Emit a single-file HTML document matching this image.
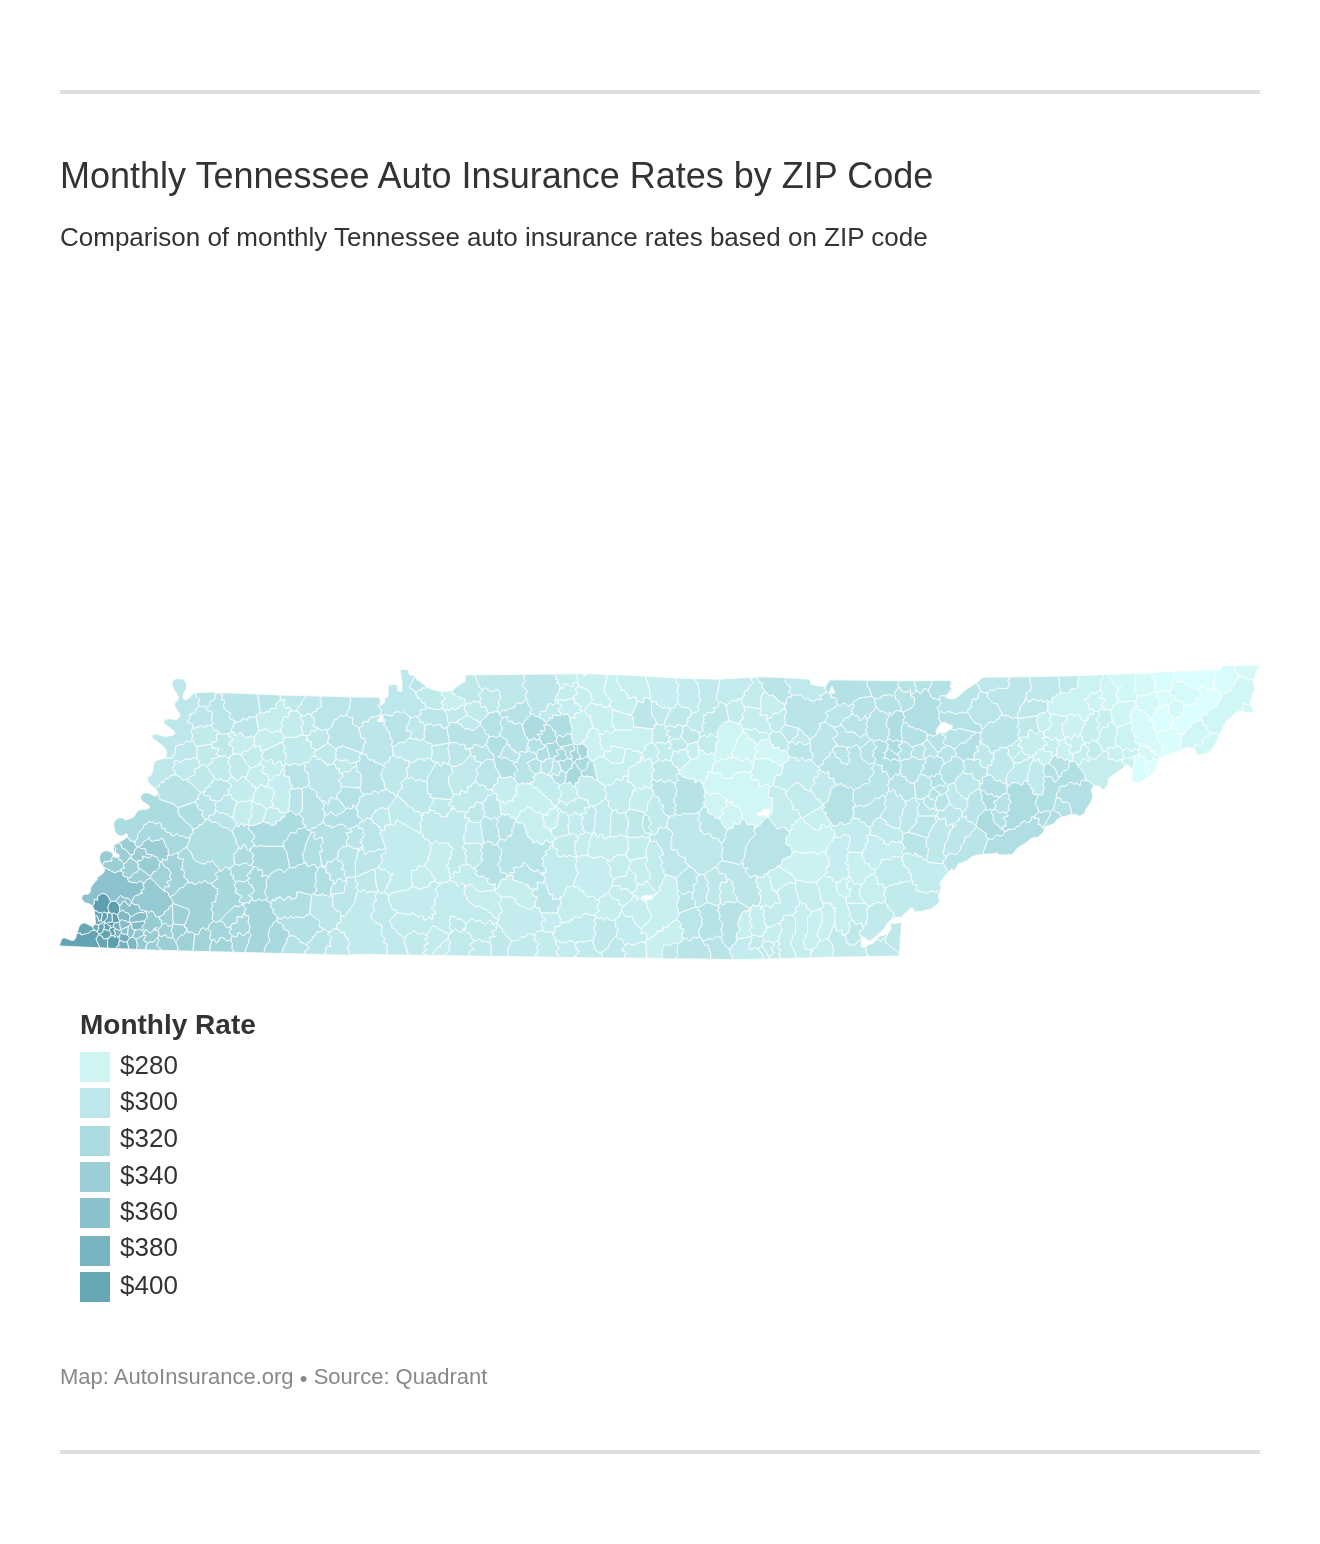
<!DOCTYPE html>
<html lang="en">
<head>
<meta charset="utf-8">
<title>Monthly Tennessee Auto Insurance Rates by ZIP Code</title>
<style>
html,body{margin:0;padding:0;background:#fff;}
body{width:1320px;height:1544px;position:relative;overflow:hidden;font-family:"Liberation Sans",Arial,Helvetica,sans-serif;color:#333;}
.rule{position:absolute;left:60px;width:1200px;height:4px;background:#dedede;}
h1{position:absolute;left:60px;top:155px;margin:0;font-size:36px;line-height:42px;font-weight:400;color:#333;white-space:nowrap;}
p.desc{position:absolute;left:60px;top:221px;margin:0;font-size:26px;line-height:32px;color:#333;white-space:nowrap;}
#map{position:absolute;left:0;top:640px;width:1320px;height:340px;}
.legend{position:absolute;left:80px;top:1007px;}
.legend .lt{font-size:28px;line-height:36px;font-weight:700;color:#333;white-space:nowrap;}
.legend ul{list-style:none;margin:0;padding:0;position:absolute;left:0;top:0;}
.legend li{position:absolute;left:0;height:30px;white-space:nowrap;font-size:26px;line-height:30px;color:#333;}
.legend li i{position:absolute;left:0;top:0;width:30px;height:30px;display:block;}
.legend li span{position:absolute;left:40px;top:-3px;}
.footer{position:absolute;left:60px;top:1363px;font-size:22px;line-height:28px;color:#888;white-space:nowrap;}
.footer .dot{display:inline-block;margin:0 6.2px 0 6.2px;font-size:22px;line-height:1;position:relative;top:2px;}
</style>
</head>
<body>
<div class="rule" style="top:90px"></div>
<h1>Monthly Tennessee Auto Insurance Rates by ZIP Code</h1>
<p class="desc">Comparison of monthly Tennessee auto insurance rates based on ZIP code</p>
<svg id="map" viewBox="0 640 1320 340" width="1320" height="340">
<path d="M185.8,689.7l0.9,-4.3l-0.9,-3.8l-2.9,-2.4l-4.7,-0.6l-3.8,0.6l-2.5,3l0.5,3.8l2.3,4.6l2.7,4.1l1.3,3l-0.8,2.5l-2.8,1.9l-0.5,3.4l1.9,3.8l2.7,3.6l0.9,2.5l-1.3,2.5l-2.5,1.6l-3.5,-0.3l-4.7,-0.5l-3.4,1l-1,2.6l1.5,2.5l3.7,2.3l3.6,2.7l2.2,2.2l0,2.3l-2.1,1l-3.6,0.7l-4.4,0.5l-4.5,-1.4l-5.6,-1.1l-2.6,1.2l0,2.2l2.9,2.4l4.1,3.2l3.6,2.7l3.1,3.6l1.3,3.5l-0.9,3.4l-2.5,2.1l-3.6,1.4l-3.7,0.9l-2,2l-0.7,3.7l-0.4,3.6l-1.1,3.6l-1.8,2.6l-3.4,0.9l1.5,5l3.3,3.7l3.6,3.2l2.6,3l-0.8,2.9l-2,1.6l-2.6,-1.3l-3.2,-1.8l-3.8,-0.5l-3.4,1.5l-1.5,2.9l1,3.5l2.9,1.9l3.1,1.8l1.9,2l-0.6,2l-2.5,1.2l-3.6,0l-3.8,0.5l-2.4,2.4l-1.8,3.2l-3,2.2l-3.6,1.3l-3,0.9l-2.2,-1.8l-2.9,-0.7l-3.9,1.7l-2.1,2.8l-0.3,4.3l1,4.7l2.3,3.3l3.4,1.6l3.4,-0.7l2.5,-1.7l1.1,1.1l0,2l-2.2,2.1l-3.5,2.2l-3.7,1.4l-3.3,1.9l-1.6,2.9l0.7,3.4l2.4,2.4l2.6,1.4l0.8,1.5l-1.1,1.5l-2.5,0l-2.5,-0.9l-0.9,-2.6l-2.4,-2.4l-3.8,-0.8l-2,0.3l-3.3,1.9l-1.6,3.9l0.3,4.2l2.2,4.2l2.2,2.7l0.4,2.5l-1.7,3l-3.1,2.2l-1.9,1.5l-0.9,2.7l-1.8,1.8l-2,2.5l-2.2,3l-0.6,3.7l-1.1,2.6l-2.1,0.8l-2.8,0l-2.2,1.5l-0.6,2.5l1.3,2.9l2.4,1.8l3.2,0.6l2.6,1.3l2.2,2.6l0.9,2.7l0.7,5.4l0.2,3.6l0.4,3.6l-1.2,2.5l-1.6,1.2l-2.6,-0.8l-2.7,-1.4l-2.8,-1.4l-3,1l-2.4,2.4l-1.2,3.7l-1.1,3.6l-1,3.6l-1.6,3l-2.4,0.4l-3.6,-1.3l-3.7,-1.4l-2.6,0.5l-1.2,2.9l-1,3.3l-0.2,1.5l90.4,4l200,5.3l5.5,-1l234.5,3.4l90,0.9l55,1.1l105,-2.6l59.4,-1.1l0.9,-16l0.8,-9.1l0.3,-8.2l-0.1,-5.3l1.7,-2.2l3.6,-3.1l3.6,-3.6l1.6,-0.8l2,1.6l1,2.9l3.4,-0.9l3.7,0l3.6,-1l4.6,-0.9l3.7,-2.3l3.7,-3.2l2.5,-2.9l-1.5,-2.9l0,-3.4l2.3,-3.7l0.5,-3.8l-1.4,-3.5l1.3,-2.6l2.7,-3.6l2.7,-3.6l5.2,-5.2l0.7,0.9l-0.4,0.4l1.1,0.9l0.2,-0.2l0.3,0.4l0.8,-1.5l0.8,-0.7l2.7,-3.9l-0.2,-0.2l0.6,-0.9l4.5,-1.3l4.6,-2.3l4.5,-3.6l4.4,-1.4l6.4,-0.9l6.3,-0.4l5.5,-0.5l2.6,-0.4l2.7,1.8l5.6,0l6.5,-0.5l2.8,-2.8l2.7,-3.6l4.5,-2.7l4.6,-2.7l4.5,-4.1l3.5,-1.3l3.3,0.4l6.1,-6.1l0,-3.2l2.5,-2.5l4.5,-0.9l3.8,-1.9l2.3,-3.6l3.9,-1.8l5.5,-1.8l4.5,-1.4l5.3,0l2.7,1.9l3,-1l2.9,-2.4l0.9,-3.6l2.7,-3.2l2.3,-4.1l1.8,-3.8l-0.4,-4.6l-0.9,-3.5l1.7,-3l2.5,-1.3l3.4,0.4l2.7,2.3l2.1,1.5l2.5,-3l2.3,-4.2l-0.1,-3.6l1.4,-2.1l3.1,-1.8l4.6,-3.2l4.5,-3.2l3.6,-3.1l2.5,-0.9l2.5,2.6l1.8,2.2l0,3.4l-0.8,4.2l0.3,3.4l3.4,1.5l3.9,0.9l2.8,-1.9l3.6,-2.7l3.7,-1.9l3.6,-3.6l1,-0.5l2.8,-6.4l2.7,-5.4l3.5,-3.6l3.6,-2.2l3.6,-0.9l2.8,-1.8l4.4,-0.5l3.8,-0.9l3.6,-2.8l1.7,-0.8l3.5,0.9l4.4,0.4l1.7,3l1,3.4l3.9,0l4.7,-0.9l2.7,-2.3l2.8,-0.5l2.9,-5.1l2.7,-5.5l2.7,-5.4l3.6,-7.3l3.6,-7.7l3.6,-2.2l2.3,-2.7l3.1,-2.3l3.6,-1.8l2.6,-0.8l3.5,1.8l3.8,0.4l2.7,-0.4l2.9,0.8l-1.7,-3.6l-1.8,-3.6l-0.9,-3.6l0,-2.5l1.9,-2.8l0.4,-3.6l2.3,-3.7l-0.9,-4.7l-0.9,-3.5l1.3,-3.6l1.4,-4.5l1.3,-3.6l2.3,-3.6l0.8,-1.3l-10.2,0.6l-9.1,0.2l-9.1,0.1l-10.2,0.3l-1,3.2l-7,0.5l-18.2,0.9l-18.1,0.6l-19.8,0.8l0.9,0.4l-61.4,2.5l-39.4,1.3l-39.4,0.6l-35.6,0.4l-4,4l-5.9,4l-5.9,3.9l-4,3l-3.9,3.9l-3.9,2.5l-5.7,0.4l-3.6,-1.8l0.9,-2.5l3.9,-2l2.2,-3.3l-3,-2.9l1.9,-2.9l-1.1,-2.7l-2.2,-0.2l-48.3,0.2l-70.1,-1l-3,4.4l-2.8,2.5l-4.8,-0.6l-8.6,-1.9l-0.6,-5l-22.4,-1.4l-26.6,-1l-42.3,2.4l-39.4,-1l-39.4,-2.5l-53.3,-2l-1.9,2.4l-2.8,-2.4l-44.4,0.6l-72.3,0.6l0,6.4l-6.7,3.9l-5.9,4.9l-5.8,1.3l-7.8,-0.4l-4.9,-1l-7.8,-2.9l-3.9,-3.9l-5.9,-3.9l-1.6,-4l-5.8,-0.4l-0.4,-4.9l-8.6,-0.7l1,8.3l1,5.9l-0.4,7.9l-3.8,-0.4l-1,-6.9l-9,1l0,11.9l-3.5,1l0,4.6l-4.2,2.9l1,-3.9l-1.1,-4.1l-101.7,-2.5l-69,-3l-18.4,1.1l1.9,0.7l-4.1,4.1l-2.6,1.7l-2.4,-0.4l-1.3,-2l0.9,-3.4zM948.3,730.2l-3,2.9l-4.4,-0.7l-4.3,1.4l-0.6,-2.5l2.2,-4.4l2.9,-3.7l4.3,-1l2.9,2.5l4.3,0.7l-0.6,2.6zM900.7,922.4l-2.6,0.4l-3.6,0.9l-4.4,-0.5l0,2.3l1.3,2.7l-1.2,2.5l-3.1,3.5l-3.5,0.9l-3.8,0.9l-3.7,3.8l-2.7,3.5l-3.5,0.9l-3.7,1.8l-3.4,1.8l-1.5,-1.6l0.4,-4.4l-0.4,-3.5l1.5,-1.5l2.5,1.2l2.8,2.4l2.9,0l3.8,-2.9l3.6,-3.6l3.7,-2.7l2.7,-3.7l2.7,-4.5l3.6,-2.7l3.6,-1.8l3.5,-1.8l2.4,0.8zM832,686l2.9,7.3l-5.7,-0.7zM766.6,817.7l-2.1,-2.8l-5.3,1.5l-2.5,-3.1l4.1,-0.7l2.3,-3l6.2,-0.7l-0.7,5.5zM651.8,899.2l-5.8,0.4l-4.2,-0.9l-0.4,-2.3l3.6,-1l5.9,0.4l2.1,1.3zM377.5,721.5l3,-6.6l3,6.6z" fill="#bfe7ea"/>
<g stroke="#fff" stroke-width="0.85" stroke-opacity="1.0" stroke-linejoin="round">
<path fill="#63a3b3" d="M98.8,933.8l-1.3,-1.7l-2.4,-1.7l-2.1,0l-1.7,0.2l-1.5,1.5l-1.7,1.3l-2,0l-0.4,0.5l-2,0.3l-2.4,0.8l-0.9,-2.3l-3.1,0.8l-0.3,-0.3l-0.1,0.3l-1,3.6l-1.6,3l-2.4,0.4l-3.6,-1.3l-3.7,-1.4l-2.6,0.5l-1.2,2.9l-1,3.3l-0.2,1.5l40.4,1.8l-4,-8.9l2.9,-4.4z"/>
<path fill="#66a6b5" d="M77.3,933.5l3.1,-0.8l0.9,2.3l2.4,-0.8l2,-0.3l0.4,-0.5l2,0l1.7,-1.3l1.5,-1.5l1.7,-0.2l2.1,0l-1.4,-1.5l-1.3,-2.1l0.2,-0.4l-2.5,-0.8l-2.7,-1.4l-2.8,-1.4l-3,1l-2.4,2.4l-1.2,3.7l-1,3.3z"/>
<path fill="#5ea0b0" d="M109.7,900.1l-1,-3.4l-1.6,-0.9l-1.1,-1.9l-1.6,-0.1l-2,-0.3l-2.3,0.9l-1.2,1.1l-1.4,0.9l0.1,3.8l-3.1,-1l-0.3,2.4l0,1.7l-1,1.7l-0.9,1.2l1,1.2l0.8,2.3l0.5,1l2.6,0.4l1.4,1.9l2,-0.6l1.8,1.1l1.5,-1.4l3.3,1l1.9,-1.1l-0.6,-2.5l-0.7,-1.9l0.8,-2.6l2.2,-3.8zM119.1,919.9l-0.9,-2.1l-0.4,-1.9l0.4,-2.4l-1.6,1l-2.8,-1.6l-1.9,0.9l0.5,7.9l2.1,1.5l4.8,-1.2l0.7,-0.8z"/>
<path fill="#5d9faf" d="M119.8,912.1l0,-2.1l-0.2,-1.4l0.3,-1.6l-0.9,-1.9l-0.7,-1.5l-1.5,-1.1l-1.4,-1.7l-1.6,0.4l-3,0l-2.2,3.8l-0.8,2.6l0.7,1.9l0.6,2.5l0.6,0.6l2.2,1.2l1.9,-0.9l2.8,1.6l1.6,-1zM112.4,921.7l-2.5,0.5l-2,0.1l-1.2,1.2l1.2,1.4l2.8,1.1l-0.9,2.7l2.3,-1.3l1.8,-0.2l-0.6,-2.2l1.2,-1.8z"/>
<path fill="#91c7d0" d="M131.8,901.5l-1.7,-1.5l-0.9,-1l-2,-1l-2.6,0.1l-0.6,-0.7l-2.1,-0.8l-1.4,-1.5l-1.2,1.3l-1.4,1.9l-1,1l-1.5,1.5l1.4,1.7l1.5,1.1l0.7,1.5l1.8,0.2l1.7,-3.3l2.5,-1.2l2.2,3.5l2.3,2l1.6,-3.1l0.8,-1zM132.2,937.4l2.1,0.5l1.6,1.6l7.8,-4.4l0.3,-2.3l-1.6,-2.3l-1.3,-0.8l-1.7,-0.9l-2,1.1l-2.2,-0.1z"/>
<path fill="#89c0cb" d="M127.2,904.3l-2.2,-3.5l-2.5,1.2l-1.7,3.3l-1.8,-0.2l0.9,1.9l-0.3,1.6l0.2,1.4l0,2.1l2.6,-1.9l1.5,0.7l2,2.3l2.1,-0.7l2.3,4.2l2.3,-0.6l1.4,-0.9l1.5,-1l2,-0.9l1.6,-0.8l3.2,0.2l1.4,0.1l1.9,-1.9l-1.7,-0.8l-2.6,0.6l-1.8,-2.4l-0.4,-2.8l-1.6,-1l-1.8,0.3l-2.7,-0.9l-1.1,-1.7l-0.8,1l-1.6,3.1z"/>
<path fill="#81bac6" d="M122.1,919.4l1.4,1.4l2.7,0.1l1.7,1.6l2.1,-0.7l-0.5,-1.6l0.4,-2.1l0.4,-1.4l-2.3,-4.2l-2.1,0.7l-2,-2.3l-1.5,-0.7l-2.6,1.9l-1.6,1.4l-0.4,2.4l0.4,1.9l0.9,2.1l0.9,1.3z"/>
<path fill="#85bdc8" d="M143.7,912.8l-1.4,-0.1l-3.2,-0.2l-1.6,0.8l-2,0.9l-1.5,1l-1.4,0.9l-2.3,0.6l-0.4,1.4l-0.4,2.1l0.5,1.6l0.5,0.9l13.7,-1.7l1.8,-2.2l1.5,-1.9l-0.5,-1.4l-0.9,-2.4l1.1,-1.8l0,-0.1l-1.6,-0.3z"/>
<path fill="#82bbc7" d="M131.9,924.6l-0.2,3.4l1.2,1.6l2.3,0.2l2.2,0.1l2,-1.1l1.7,0.9l1.3,0.8l0.9,-1.8l-1.3,-2l1.1,-1.4l1.7,-1.8l-0.6,-2.5l-13.7,1.7l0,1.2z"/>
<path fill="#64a5b4" d="M95.8,915.5l1.5,0.7l1.6,5.3l2.5,-2l1,-6l-1.8,-1.1l-2,0.6l-1.4,-1.9l-2.6,-0.4l-0.5,-1l0.1,0.4l0.7,5.4l0.1,0.9zM107.7,938.4l-2.3,0.3l-1.8,0.1l-1.7,-2.7l-1.3,-0.6l-1.7,-1l-2.9,4.4l4,8.9l7.7,0.3z"/>
<path fill="#61a2b2" d="M101.4,919.5l0.3,2.2l1.7,0.7l1.2,0.4l0.1,-2l1.6,-1.5l1.2,-1.8l-0.1,-2.1l-0.3,-1.6l2.6,-1.2l-0.6,-0.6l-1.9,1.1l-3.3,-1l-1.5,1.4zM113.9,927.2l-1.8,0.2l-2.3,1.3l-0.8,2.1l1.3,1.3l0.7,1.3l-0.6,2.5l2.9,-0.2l2.1,-1.3l-0.4,-2.1l-1,-2.2l1.5,-1.1z"/>
<path fill="#6aa9b7" d="M111.9,913.8l-2.2,-1.2l-2.6,1.2l0.3,1.6l0.1,2.1l-1.2,1.8l-1.6,1.5l-0.1,2l0.1,0.1l2,0.6l1.2,-1.2l2,-0.1l2.5,-0.5z"/>
<path fill="#6baab8" d="M101.7,921.7l-0.3,-2.2l-2.5,2l-1.6,-5.3l-1.5,-0.7l-0.8,0.9l0.1,2.7l0.4,3.6l-0.6,1.2l0.8,0.5l2.5,0.2l2.3,-0.5l1.3,-0.5l1.6,-1.2z"/>
<path fill="#6facba" d="M92.4,926.8l1.3,2.1l1.4,1.5l2.4,1.7l0.4,-2.5l1.2,-0.9l-0.9,-3.3l2.3,-1.3l-2.3,0.5l-2.5,-0.2l-0.8,-0.5l-0.6,1.3l-1.6,1.2l-0.1,0z"/>
<path fill="#65a5b4" d="M101.8,923.6l-1.3,0.5l-2.3,1.3l0.9,3.3l-1.2,0.9l-0.4,2.5l1.3,1.7l2.5,-0.4l1.5,-1.5l0.7,-2.1l1,-2.7l-0.6,-2.2l0.8,-2l-0.1,-0.1l-1.2,-0.4z"/>
<path fill="#5fa1b1" d="M103.9,924.9l0.6,2.2l-1,2.7l2.2,0.1l1.9,0.4l1.4,0.5l0.8,-2.1l0.9,-2.7l-2.8,-1.1l-1.2,-1.4l-2,-0.6z"/>
<path fill="#75b1be" d="M114.5,923.2l-1.2,1.8l0.6,2.2l1.6,1.8l1.7,0.6l1.7,1l1.7,-1.2l-1.3,-7.4z"/>
<path fill="#7ab4c1" d="M114,930.1l1,2.2l0.4,2.1l-2.1,1.3l1.4,2l1.8,-1.6l1.5,1.2l1.9,-0.2l-0.1,-2.5l1.4,-1.3l0.3,-1.5l-0.5,-2l-0.4,-0.4l-1.7,1.2l-1.7,-1l-1.7,-0.6z"/>
<path fill="#63a4b3" d="M98.9,934.5l1.7,1l1.3,0.6l1.7,2.7l1.8,-0.1l2.3,-0.3l1.8,-0.5l0.9,-2l0.6,-2.5l-0.7,-1.3l-1.3,-1.3l-1.4,-0.5l-1.9,-0.4l-2.2,-0.1l-0.7,2.1l-1.5,1.5l-2.5,0.4z"/>
<path fill="#86beca" d="M119.3,922l1.3,7.4l0.4,0.4l7.4,-3.4l1.7,-1.1l0.4,-1.4l0,-1.2l-0.5,-0.9l-2.1,0.7l-1.7,-1.6l-2.7,-0.1l-1.4,-1.4l-2.1,1.8z"/>
<path fill="#8dc3cd" d="M121,929.8l0.5,2l-0.3,1.5l1.5,0.8l3.1,0.3l1.8,0.9l0.8,-8.9z"/>
<path fill="#8bc2cc" d="M127.6,935.3l2,2.5l2.6,-0.4l3,-7.6l-2.3,-0.2l-1.2,-1.6l0.2,-3.4l-1.4,-0.7l-0.4,1.4l-1.7,1.1z"/>
<path fill="#5b9eae" d="M116.5,947.9l0.7,-1.7l2,-0.5l-0.6,-2.2l0.8,-2.4l0.2,-1.9l-1.6,-1.9l-1.5,-1.2l-1.8,1.6l-1.4,-2l-2.9,0.2l-0.9,2l-1.8,0.5l0,9.7l7.6,0.4z"/>
<path fill="#71aebc" d="M127.6,935.3l-1.8,-0.9l-3.1,-0.3l-1.5,-0.8l-1.4,1.3l0.1,2.5l-1.9,0.2l1.6,1.9l-0.2,1.9l1.7,-0.3l2.8,1.2l1.7,0.4l1.7,-1.3l1.6,-1.3l0.7,-2z"/>
<path fill="#74b0be" d="M127.3,941.1l-1.7,1.3l-1.7,-0.4l-2.8,-1.2l-1.7,0.3l-0.8,2.4l0.6,2.2l-2,0.5l-0.7,1.7l-1.2,0.6l13.7,0.6z"/>
<path fill="#7db7c4" d="M129.6,937.8l-0.7,2l-1.6,1.3l1.7,8l7.1,0.3l0.7,-1.9l0.7,-1.5l-0.4,-2.2l-0.6,-2.3l-0.6,-2l-1.6,-1.6l-2.1,-0.5z"/>
<path fill="#95cad2" d="M146,948.4l-0.2,-1.4l0.7,-1.9l1.2,-1.9l-1.6,-1.1l-2.2,-1.5l0.1,-1.7l2.3,-3.2l-2.6,-0.6l-7.8,4.4l0.6,2l0.6,2.3l0.4,2.2l-0.7,1.5l-0.7,1.9l10.3,0.5zM146.9,879.4l-1,1.2l-1.4,2.3l-1.6,1.3l1,3.2l0,1.5l-2.9,1.3l1.5,3l-2.2,-0.6l-1.1,2.2l-2.3,0.2l-2.1,0.9l-1.3,1.6l-0.8,2.3l-0.9,1.7l0.1,0.7l1.1,1.7l2.7,0.9l1.8,-0.3l1.6,1l0.4,2.8l1.8,2.4l2.6,-0.6l1.7,0.8l1.6,0.3l0,0.1l1.5,1.3l2.7,-1.6l1.8,0.8l1.7,2.8l0.7,2l2.2,0.6l2.4,-0.9l2.2,-1.2l1.9,-1.2l0.2,-2.2l1.9,-1l2.1,-1.2l0.6,-2.1l0.9,-1.2l2.4,-0.8l0.7,-1.8l-0.3,-2.7l-0.8,-1.3l-1.7,-2.1l-0.1,-0.6l-1.6,-1.8l-0.5,-2.6l-1.8,-0.9l-1.8,-0.4l-1,-0.4l-13.1,-13.1l-1.3,1.1z"/>
<path fill="#98ccd3" d="M149.8,942.1l2,-0.1l1.7,0.1l1.7,-2l1,-1.4l1.7,-0.6l0.9,-3.2l-0.1,-2.7l-1.1,-2l-0.2,0l-2.3,0.1l-1.3,-1.1l-2.4,3.2l-1,0.7l-3.4,-2.8l-1.7,-0.8l-1.3,3.3l-0.3,2.3l2.6,0.6l-2.3,3.2l-0.1,1.7l2.2,1.5l1.6,1.1zM102.5,865.7l1.5,-3.2l0.8,-1.3l2.4,0.7l2.7,-1.2l1.9,0.9l0,-3.4l1.2,-2l0.4,0.1l-0.8,-2.4l-2.4,-2.4l-3.8,-0.8l-2,0.3l-3.3,1.9l-1.6,3.9l0.3,4.2l2.2,4.2l0.4,0.5zM115.7,850.7l0.1,-1.9l-1.2,-1.8l-1,-0.8l-0.5,1l0.7,3.4l1.1,1.2z"/>
<path fill="#99cdd4" d="M161.3,949.4l-1.5,-0.7l-2,-2.4l-1.1,-0.8l1.5,-3.7l0.8,-1.7l-1.1,-2l-1.7,0.6l-1,1.4l-1.7,2l-1.7,-0.1l-2,0.1l-2.1,1.1l-1.2,1.9l-0.7,1.9l0.2,1.4l0.4,1.5l3.6,0.1l11.3,0.3zM152,874.5l0.7,-2.5l2.7,-0.4l1.4,-1.2l0.9,-1.1l1.9,-2l-0.3,-2.7l0.6,-1.8l2,-1.1l-2.7,-0.6l-1.2,-1.7l-0.5,-1.6l-1.6,-1.2l-2,-0.6l-2,-1.6l-0.4,0l-1,2.6l-1.4,0.9l-3.6,-1.1l-3.1,-0.9l0.6,3l-2.1,2.1l-2.8,-1.1l-0.4,2.8l0.6,2.3l-0.8,2.3l2.5,1.4l10.5,7.5zM117.4,843l2,0.8l1.9,0.7l0.3,3.2l1.8,1l1.7,0.7l1.8,1.3l1.1,1.7l1.1,1.7l2.7,0.9l2,-0.6l0.8,-2.3l0,-2.4l2.2,-1.5l0.6,-1.5l-1.9,-1.2l-0.4,-2.6l-1,-1.8l-2.8,0.3l-1.6,-0.8l-0.1,-2l-1.9,-1l-1.2,-0.1l-1.3,1.3l-3.5,2.2l-3.7,1.4z"/>
<path fill="#9ccfd5" d="M170.7,937.8l-2.2,-0.5l-1.5,0.3l-1.4,-3.3l-3.4,2l-1.9,-0.2l-1.5,-1.2l-0.9,3.2l1.1,2l-0.8,1.7l-1.5,3.7l1.1,0.8l2,2.4l1.5,0.7l0,0.9l15.9,0.5l0.6,-1.1l0.2,-1.8l-0.7,-2.3l-0.9,-1.6l-0.5,-2.4l-1.2,-0.7l-0.9,-2.5l-1.2,-0.8zM131.1,856.3l0.7,-1.3l-2.7,-0.9l-1.1,-1.7l-1.1,-1.7l-1.8,-1.3l-1.7,-0.7l-1.8,-1l-0.3,-3.2l-1.9,-0.7l-2,-0.8l-1.2,1.2l-0.8,-0.3l-0.7,0.4l-1.1,1.9l1,0.8l1.2,1.8l-0.1,1.9l-0.8,1.1l1.3,1.2l2.6,1.4l0.8,1.5l-1.1,1.5l-1.6,0l1.3,0.9l0.8,1.8l2.1,-0.2l1.4,2.3l1.1,1.3l1.9,0.1l1.5,-2.3l1.3,-1.2l0.4,-1.8l2.9,0.5z"/>
<path fill="#9bcfd5" d="M114.8,873l2.1,-0.9l2.5,-1.2l1.8,0.5l-0.2,-2.4l3.5,-0.9l-0.8,-2l-0.1,-2.6l-1.1,-1.3l-1.4,-2.3l-2.1,0.2l-0.8,-1.8l-1.3,-0.9l-0.9,0l-2.5,-0.9l-0.1,-0.2l-0.4,-0.1l-1.2,2l0,3.4l-1.9,-0.9l-2.7,1.2l-2.4,-0.7l-0.8,1.3l-1.5,3.2l-0.1,0l1.1,1.3zM150,839.3l-1.3,-2.2l-0.7,1.7l-1.4,1.2l-2,0.7l-1.9,1.9l-0.1,1.4l-2.1,1.6l-1.4,1.1l1.5,1.8l1.7,0.1l2.8,0l0.7,3.2l1,2.7l2.8,-0.1l1.9,0l0.4,0l2,1.6l2,0.6l1.6,1.2l0.5,1.6l1.2,1.7l2.7,0.6l0.3,0l0.2,-2.8l4,1.7l1.3,-1.8l-0.6,-3l2.2,-0.6l-0.7,-1.3l-0.4,-2.7l0.2,-2.1l-1,-1.4l-2,-1.5l0.1,-1.7l-0.8,-2.2l-0.9,-1.4l-0.6,-2l-2.7,-0.6l-0.7,1.6l-2.8,0.5l-2.2,-0.4l-1.2,1.3l-3,-0.5z"/>
<path fill="#9dd1d6" d="M130,877.9l1.1,-0.8l0.9,-2.1l1.3,-1.4l1.9,-1l2.4,-0.7l1.2,-2l1.2,-1.2l-2.5,-1.4l0.8,-2.3l-0.6,-2.3l-1.6,-1.1l-1.2,-0.6l-1.2,-1.3l-2.1,-0.9l-2.9,-0.5l-0.4,1.8l-1.3,1.2l-1.5,2.3l-1.9,-0.1l0.1,2.6l0.8,2l-3.5,0.9l0.2,2.4l2,0.9l-0.5,2.6l1,1.5l3,0.3l0.7,1.4zM158.7,932.2l0.1,2.7l1.5,1.2l1.9,0.2l3.4,-2l1.4,3.3l1.5,-0.3l2.2,0.5l1.9,-0.2l0.6,-1.8l-0.3,-1.9l-1.6,-2.3l0.3,-1.8l1.2,-2.7l-0.9,-2.1l-1.5,1l-2.7,-0.4l-1.6,-1.9l-2,-0.9l-2,2.2l-4.5,5.2z"/>
<path fill="#9cd0d6" d="M130.9,882.2l1.8,0.5l2.1,-0.2l1.9,1.1l1.5,-1.5l2.4,-1l1.8,1.7l2.1,0.1l1.4,-2.3l1,-1.2l2.2,-0.6l1.3,-1.1l0.1,-1.5l-10.5,-7.5l-1.2,1.2l-1.2,2l-2.4,0.7l-1.9,1l-1.3,1.4l-0.9,2.1l-1.1,0.8l-2.6,0.2l0.4,1.6l0.7,1.9zM187.1,928.1l-2.5,-0.8l0,-2.2l-11.3,-1.2l-1.4,1.1l0.9,2.1l-1.2,2.7l-0.3,1.8l1.6,2.3l0.3,1.9l-0.6,1.8l1.2,0.8l0.9,2.5l1.2,0.7l1,-1l1.1,-1.8l1.1,-1.5l1.9,-2l2.2,-0.4l1.6,-1.3l0.7,-2l1.5,-1.1z"/>
<path fill="#a1d4d9" d="M164.2,889.5l0.8,-2.6l4.8,-0.2l-1.1,-1.7l-1.8,-3.3l2.8,-1.2l1.9,-0.9l-1.9,-2.8l1,-2.8l0.6,-1.2l-1.9,-1.7l-0.2,-2.2l-2.2,-1.2l-1.1,-0.4l-2.1,-1.2l-0.8,-2.8l-0.8,-1.6l-0.3,0l-2,1.1l-0.6,1.8l0.3,2.7l-1.9,2l-0.9,1.1l-1.4,1.2l-2.7,0.4l-0.7,2.5l-1.5,1.7l-0.1,1.5l13.1,13.1l1,0.4zM209.5,950.1l0.6,-1.7l0.1,-2.9l0.7,-1.8l0.8,-1.5l0.5,-1.9l-2.5,-1.5l0.2,-1.8l0.6,-2.2l0,-3.5l-1.5,-1.2l-1.3,-1.5l-1.5,1.5l-2.8,-2.5l-2.6,1.2l-1,2.4l-1.2,3l-1.5,0.5l-2.5,-0.7l-1.7,17.2l16.5,0.4z"/>
<path fill="#9aced4" d="M138.1,859.9l2.8,1.1l2.1,-2.1l-0.6,-3l3.1,0.9l3.6,1.1l1.4,-0.9l1,-2.6l-1.9,0l-2.8,0.1l-1,-2.7l-0.7,-3.2l-2.8,0l-1.7,-0.1l-1.5,-1.8l-1.7,0l-0.6,1.5l-2.2,1.5l0,2.4l-0.8,2.3l-2,0.6l-0.7,1.3l0.5,2.5l2.1,0.9l1.2,1.3l1.2,0.6l1.6,1.1z"/>
<path fill="#8cc2cd" d="M94.2,901.6l0.3,-2.4l3.1,1l-0.1,-3.8l1.4,-0.9l1.2,-1.1l2.3,-0.9l2,0.3l1.6,0.1l1.1,1.9l1.6,0.9l1,3.4l1.1,1.1l3,0l1.6,-0.4l1.5,-1.5l1,-1l1.4,-1.9l1.2,-1.3l1.4,1.5l2.1,0.8l0.6,0.7l2.6,-0.1l2,1l0.9,1l1.7,1.5l0.9,-1.7l0.8,-2.3l1.3,-1.6l2.1,-0.9l2.3,-0.2l1.1,-2.2l2.2,0.6l-1.5,-3l2.9,-1.3l0,-1.5l-1,-3.2l1.6,-1.3l-2.1,-0.1l-1.8,-1.7l-2.4,1l-1.5,1.5l-1.9,-1.1l-2.1,0.2l-1.8,-0.5l-2.4,-0.6l-0.7,-1.9l-0.4,-1.6l-0.7,-1.4l-3,-0.3l-1,-1.5l0.5,-2.6l-2,-0.9l-1.8,-0.5l-2.5,1.2l-2.1,0.9l-11.3,-6l0.7,0.9l0.4,2.5l-1.7,3l-3.1,2.2l-1.9,1.5l-0.9,2.7l-1.8,1.8l-2,2.5l-2.2,3l-0.6,3.7l-1.1,2.6l-2.1,0.8l-2.8,0l-2.2,1.5l-0.6,2.5l1.3,2.9l2.4,1.8l3.2,0.6l2.6,1.3l1.2,1.4l0.9,-1.2l1,-1.7z"/>
<path fill="#97ccd3" d="M147,915.5l0.5,1.4l-1.5,1.9l-1.8,2.2l0.6,2.5l-1.7,1.8l-1.1,1.4l1.3,2l-0.9,1.8l1.6,2.3l1.3,-3.3l1.7,0.8l3.4,2.8l1,-0.7l2.4,-3.2l3.7,-2.1l-3.7,2.1l1.3,1.1l2.3,-0.1l0.2,0l4.5,-5.2l-0.7,-2.3l0,-2.7l-2.3,-0.8l1.1,-2.9l-2.4,0.9l-2.2,-0.6l-0.7,-2l-1.7,-2.8l-1.8,-0.8l-2.7,1.6l-1.5,-1.3l-1.1,1.8z"/>
<path fill="#9fd2d8" d="M159.1,919.2l2.3,0.8l0,2.7l0.7,2.3l2,-2.2l2,0.9l1.6,1.9l2.7,0.4l1.5,-1l1.4,-1.1l-0.9,-18.5l-2.4,0.8l-0.9,1.2l-0.6,2.1l-2.1,1.2l-1.9,1l-0.2,2.2l-1.9,1.2l-2.2,1.2zM194.6,934l-2.1,-1.4l-0.8,-0.9l-3.8,0.8l-0.9,-2l-1.5,1.1l-0.7,2l-1.6,1.3l-2.2,0.4l-1.9,2l-1.1,1.5l-1.1,1.8l-1,1l0.5,2.4l0.9,1.6l0.7,2.3l-0.2,1.8l-0.6,1.1l15.7,0.4z"/>
<path fill="#bee8ea" d="M185.9,741.1l-1.6,2.5l-1.9,1l-2.9,-0.6l-0.8,1.4l-3.4,0.9l0.3,2.5l-0.4,2.7l-0.4,1.8l-0.7,2.1l-2.8,1.3l0.2,1.9l-2.2,-0.4l-2.3,-0.3l-1,0.2l-2,-0.2l-0.5,0.4l-3.6,1.4l-3.7,0.9l-2,2l-0.7,3.7l-0.4,3.6l-1.1,3.6l-1.8,2.6l-3.4,0.9l1.5,5l3.3,3.7l3.4,3l0.9,-0.4l1.7,-1.6l1.6,-0.1l0.4,-2.7l1.7,-1.7l2.6,0.3l0.6,-2.2l1,-2.3l2.6,1.3l2.2,-2.2l0.4,-1.7l2.9,-0.3l1.5,-0.4l0.4,-2.4l-1,-1.6l-1.5,-1.1l-0.1,-2.4l1.5,-1.7l0.9,-1.7l-1.8,-2.3l2.1,-0.9l2.1,0.6l2.1,1.4l2,-1.5l1.5,-0.5l1.4,-1.9l2.2,0.4l2.4,0.3l2.4,0l1.2,-1.8l2.3,-0.1l1.8,1.1l0,-12l-2.1,-1.6l0.1,-1.5l-1.7,-2l-1.6,-1l-2.2,1.7l-1.9,-1.4zM216.5,734l-0.2,1.8l0.7,3.6l-0.8,2l-1.6,0.6l-3,-0.2l-0.2,2.4l0.5,2l0.1,2.1l4.8,-0.1l2.2,1.1l-2,3.5l-0.5,1.9l2.4,1.4l2.6,0.6l1.6,-0.9l1.8,-0.4l2.8,2.9l1.8,-1.4l1.5,-1.2l1.5,-1.5l0.5,-1.8l-0.7,-1.8l1,-3.2l-1.9,-1.1l-2.6,-1.5l1.3,-3.1l2.9,-2.1l-0.7,-1.7l-4,-1.6l1,-2.8l-2.2,0.1l-1.9,0.3l-2.3,0.5l-2.5,-1.1l-1.5,0.2zM305.5,697.7l-1.3,1.3l-2.2,2l-0.9,1.3l0.7,1.9l-2.7,2l-0.7,1.2l-1.1,1.8l-1.2,1.9l2.7,1l0.9,2.6l1.8,0.4l1.8,1.3l2.6,-0.7l1.3,-1.8l2.7,0.4l2.2,-0.1l0.9,-2.2l2.5,-0.4l1.4,0l0,-3.3l2.4,0l1.9,-1.3l0.3,-2.4l-0.2,-1.5l-0.4,-1.8l-1.3,-2.4l2.7,-2.4l-0.1,-0.4l-17.1,-0.5zM423.8,724.1l-0.8,-2.1l-3,0.2l0.4,-2.2l-1.6,-1.7l-1.5,-1.6l-1.8,-0.9l-1.7,1.5l-1.9,0.3l-2.2,-0.4l0.3,2l-0.6,1.6l-0.4,2.3l-1,1.8l-1.9,1.5l1,1.5l-1.4,2.9l3.6,0.5l2.6,1.1l-1.3,2.9l-0.9,3l2.7,0.3l1.6,0.9l2.7,-1.1l0.7,2.3l2.2,-0.1l4.1,-1.3l0.5,-1.2l1,-1.7l-1.3,-2.4l0.5,-2.5l0.9,-1l-0.3,-3l0.3,-1.7zM477.3,681.4l-1,-2.4l-0.7,-2.2l-0.8,-1.8l0,-0.2l-9.5,0.1l0,6.4l-6.7,3.9l-5.5,4.5l-1,1.4l0.5,2.7l2.8,0.8l1,1l1.4,1.4l1.8,-0.1l1.7,1.6l2.2,-0.2l1.6,1.1l-0.4,2.4l1.5,1.9l1.5,-1l2.6,1.7l1.2,-1.3l2.6,-2.3l2,1.3l1.7,0.2l1.7,-1.2l2.1,-2.1l-1.3,-1.8l-2.2,-2.9l1.6,-1.3l2.9,-1.4l-1.1,-2.2l-1.6,-2.2l-1,-1.9l-0.7,-1.8zM449.4,763l-0.3,-2.2l1.1,-2l-0.8,-1.7l-0.4,-1.9l0.2,-2l-0.9,-2.8l-0.5,-1.3l0.8,-2.8l0.5,-0.8l0.1,-2.5l-16.6,2.7l-1.3,1.7l0.7,2.5l0.1,2l-0.1,1.1l-0.3,2.2l0,1.6l-0.5,2.4l1.4,2.5l2.5,0.2l0.4,2.6l2.1,-3.1l1.6,3.7l2.1,1.7l1.5,-4.3l2.4,0.4l1.5,1.3l2.5,0.3zM670.9,740.4l1,-0.5l2.2,-1l2.1,0.7l1.5,-0.2l2,-1.1l1.6,-1.3l-0.2,-2.4l1.9,-0.8l-0.3,-2.8l-0.2,-0.9l1.1,-2.7l-0.1,-1.5l-1.9,0.5l-2.2,-1.7l-2.2,-0.2l-1.1,2.6l-2.6,0l-1.8,-1.1l-2.5,-0.7l-2.2,1.7l-1.4,-1.1l-0.5,2.6l1.6,1.7l2.5,0.9l-3.1,2.8l1.8,2.4l2.5,0.4l-2.1,3l0.8,1.9zM726,705l-1.5,-1l-1.7,-1.1l-1.2,-0.9l-2.2,0.2l-0.9,1.7l0.2,1.9l-1.6,1.6l-3.7,0.4l0.6,1.6l0.2,2.4l-2.4,1.1l-2.6,-0.8l-2.2,0.5l-1.4,2.7l-2.2,0.1l0.4,2.5l0.1,1.9l-0.8,1.5l1.6,1.8l-1.9,1l-1.5,2l1.8,3.2l-0.2,1.7l-2,0.6l-1.8,1.5l0.8,1.9l0,1.5l2,0.4l2.3,-1.9l1.4,0.6l1.7,1.8l2.1,-2.7l2.4,-0.6l1.6,1.3l2.4,1.3l2,-0.2l-0.4,-2.1l-0.7,-1.4l1.4,-2.3l0.3,-1.8l5.6,-6.2l5.1,-2zM1028.2,676.7l1.3,1.3l0.6,2.5l-0.8,1.2l0.9,2l1.1,2.3l-0.6,1.7l-0.5,2.9l-2.2,1.1l-1.7,1.3l0,2.8l0.1,2.5l-1.8,1.1l0.2,0.2l1.1,0.3l1.7,1l2.4,1.2l1,-2.1l3.1,-0.5l1.3,-0.5l1.8,2.3l2.2,-0.6l2.3,-1.3l1.4,3l2.4,-1.2l1.9,-0.3l1.3,0.5l3.9,0.8l-0.7,-4.2l2.4,-0.6l0.8,-0.2l0.7,-1.9l2.2,-0.4l1.6,-1.7l1.5,-0.6l-0.3,-2.4l-0.7,-1.4l-0.9,-2.4l0,-1.4l0.1,-2.3l0.6,-2.7l-1,-1.6l-1,-1.4l-0.1,-0.8l-0.2,0l-29.5,0.5zM989.7,748.4l-1.9,-1.6l-1.9,-0.5l-1.4,-2l-2,-0.3l-0.7,-1.4l-0.7,-2.3l-2.1,1.1l1.7,3l-1.6,1.8l-3.3,0.1l1.8,2.7l0.6,2.2l-3.5,1.3l-0.5,1.4l0,2.5l-0.2,0.7l-1.3,3.5l4.8,-1.4l3.2,1.2l-1.3,3.6l1.3,1.4l1.7,1.8l1.6,0.1l1.9,0.5l1.5,1l1.1,-0.9l-0.6,-2.7l3.3,0.4l1.1,-2.7l-1.2,-2.6l3.1,-0.6l-0.5,-5.9l-1.4,-0.7l-1.6,-0.8l-1.4,-1zM400.9,756.6l-2.9,1.4l-1.9,-1.1l-0.8,-0.5l-2.2,-1.2l-1.3,1.2l-2.6,1.2l0.4,2.1l-1.9,2l-1.8,1.2l-1,0.5l-1.5,2.2l0,0.1l1.2,2.2l-1.6,1.7l-1,1.7l-0.9,2l-0.3,1.3l1,2.1l-0.2,2.8l1.6,0.6l0.8,2.4l0.2,2.5l0.3,2l1.4,2l1.7,0.8l1.2,1.2l2,1.4l1.9,0.9l1.4,0.4l0.5,1.9l2.4,0.5l0.3,0l0.5,-1.4l0.6,-2.2l1.2,-2.5l2,-0.4l0.8,-1.6l-0.9,-3.7l-0.5,-1.3l2.4,-2l1,-1.4l2,-1.7l0.9,-2l-0.1,-2.3l0.1,-1.2l-0.6,-2.5l0.1,-2.1l2.1,-0.8l0.8,-2.7l-0.8,-1.6l-0.8,-2.8l-2.8,1.5l-1.1,-2.2l-1.8,-0.8zM348.1,946.2l2,-1.4l-0.7,-3l-1.5,-1.5l0.6,-2.3l-2,-0.1l-1.6,-2l0.2,-2.4l-1.6,-1l-2.7,0.5l-1.4,-2.7l-1.1,-1.4l-2.1,0.4l-2.6,-1.2l-1.4,1.8l-0.8,2l-1.9,0.1l-2.2,1.7l3.2,2.9l0.9,1.5l-1.4,2.4l-0.5,2.4l1.2,3.2l-3.4,-0.4l-1.6,1.4l0.1,2.6l-0.5,2.1l-0.5,2.2l-0.1,0.6l25.3,0.6l-1.5,-4.7l-0.7,-2.3zM645.2,814.4l-0.5,-2.1l-15.6,-3.5l-0.5,1.7l-2.5,1.6l-0.4,2.4l0.2,1.5l2,2.9l0.5,2.1l-0.5,1.9l0.9,1.4l-1.1,1.9l0.4,1.8l-2.2,1.9l2,2.3l-2.3,2.4l1.3,1.9l0.6,0.8l1.7,-0.3l2.8,1.4l1.1,-1.2l2.6,-0.3l2,1.1l2.1,-1.2l1.6,-0.5l2.2,0l1.6,1.6l2.5,-0.9l1.8,0.3l0.7,-1.7l-0.2,-0.4l-0.5,-2.2l-4,0.3l-0.4,-2.1l-1.2,-1.6l-1,-2.9l-0.9,-1.5l0.7,-1.5l0.1,-1.9l0.3,-1.7l0.2,-2.3l0.5,-1.6zM626.5,953l-2,-1.6l-3.3,-1.6l2.7,-2.2l1.9,-2.6l-2.1,-1.7l-0.7,-1.6l-1,-2l-1.4,-0.8l-2.3,-0.2l-0.6,-0.9l-1.4,-1.8l-1.6,1.4l-1.1,0.9l-1.7,1.7l-0.4,2.1l-2,0.9l-0.7,2.2l-0.5,1.9l-1.3,1.1l-2.2,1.5l-0.8,1l-1.9,0.7l-0.6,2.5l0.5,2.1l0.1,1.6l0,0.3l23,0.2l0,-0.5l-1,-1.9zM703.8,874.5l4.5,9l-1.2,2.2l0.8,1.3l0.8,1.8l-0.4,2.6l-1.5,2.4l-0.4,2.1l-0.3,2.7l1.1,1.8l-0.4,2.2l11.5,3.4l0.9,-2.1l1.3,-0.5l-0.1,-2.2l-0.2,-1.8l0,-1.6l-0.9,-2.5l1.2,-1.5l0.4,-2.4l-1.4,-1.7l0.2,-2.4l0.8,-1.4l-0.2,-2.1l1.3,-1.8l2.8,0.4l2.9,-0.2l-0.9,-3.4l-0.4,-2l-0.8,-2.3l-1.9,-1l-2.9,-0.6l-1.5,-0.7l-0.3,-1.8l-1.2,-2.4l-2.2,-0.4l-0.8,0.1zM980.1,785.6l-0.2,-1.7l-0.3,-3.2l-2.8,-0.3l-0.7,-0.9l-2.6,-0.7l-0.6,-2.9l-0.3,-2.3l-2.9,0l-1.9,0.5l-2.9,-0.8l-1.8,-1.3l-1.5,1l-1.3,2.6l-2.1,0.7l-0.6,0.4l-1.9,2.3l0,2.2l-1.2,1.5l0.4,2.1l0.9,1.7l-0.3,1.8l0.9,1.1l0.8,1.7l0.9,2.2l1.7,1.1l0.9,0.6l1.4,1.9l1.7,0.9l2.2,1.2l1.8,-0.3l1.4,-2.4l-0.2,-1.5l2,-1.2l2.2,-1.6l1.6,-0.9l1.5,-0.7l1.2,-1.2l1.6,-0.7zM918.3,805.9l1.4,-1l-2.3,-2.8l-1.8,-2.1l1.8,-1.4l-1.8,-1.4l-1.9,1.1l-2,0.1l-1.3,1l-2.4,1.5l-2,-0.1l-1.2,2.3l1.9,2.5l-2,1.2l-1.4,1.8l-0.7,1.4l-0.3,2.8l-0.2,2l-0.7,0.7l-2.2,2.1l0.6,1.4l1,1.9l-0.7,2.2l0.4,2.5l-0.6,0.9l-0.9,2.2l1.1,1.8l1.3,0.6l1.5,1.9l0.7,1l4.8,-1.8l1.3,-1.3l0.5,-1.7l1.2,-1.3l2.1,-1.2l1.1,-1.7l0.9,-1.2l1.9,-1.6l-1.8,-2.8l1.4,-2.1l1.2,-1.2l-0.5,-2l0.5,-2.6l-0.8,-1.5l-0.4,-1.9zM890.9,920.4l0.2,-0.1l3.6,-1.8l1.4,-0.7l-2,-1.1l-2.5,1.8l-0.7,1.7zM890.3,924.1l-0.2,0.4l0,1l1.3,2.7l-1.2,2.5l-3,3.4l0.1,0.5l-0.2,1.2l-2.2,2l-0.3,1.7l0.5,0.5l0.4,2.7l1.5,1.1l1.1,0.8l1.6,1.3l1.6,1.4l2.2,1.8l1.2,0.4l1.9,1.6l1.1,1.4l1.9,1l0.7,-13.5l0.8,-9.1l0.3,-8.2l0,-2.6l-0.7,0l0,2.3l-2.6,0.4l-3.6,0.9l-3.8,-0.4z"/>
<path fill="#c0e9ec" d="M198.9,761.9l-0.5,-2.1l-1.4,-1.2l-1.8,-1.1l-2.3,0.1l-1.2,1.8l-2.4,0l-2.4,-0.3l-2.2,-0.4l-1.4,1.9l-1.5,0.5l-2,1.5l-2.1,-1.4l-2.1,-0.6l-2.1,0.9l1.8,2.3l-0.9,1.7l-1.5,1.7l0.1,2.4l1.5,1.1l1,1.6l-0.4,2.4l1.8,0.7l1.4,1l1.8,0.1l1.7,2.6l1,1.4l2.4,-1.4l2.1,1.3l1,-2.6l1.5,-0.8l2.4,-0.8l1.7,-0.6l1.3,-2.2l-0.6,-2.8l0.7,-2l2.5,-0.6l2.1,-0.4l0.2,-3.2zM285.4,762.3l-0.9,-2.5l2.6,-2.5l-1.9,-1.5l1.5,-2.4l-3.1,-1.2l0.2,-1.7l2.2,-2.4l-2.6,-2l-0.2,-2l-0.7,-2l-20.2,9l0.8,2.4l-1.7,1.8l0.4,2.2l1.5,1.4l2.1,2l1.8,0.9l2.4,-2.4l2.3,0.1l1.2,4l1.6,1.9l2.9,-3.3l2.7,-1.1l0.7,1.5l0.9,3.4l2.9,-0.5l1.1,-1.1zM308.3,735.5l2.3,-0.9l-0.3,-3.3l1.6,-0.7l3.5,0.8l1.1,-1.9l1.2,-1.9l-4.6,-1.6l1.2,-2.3l0.2,-2.2l-0.1,-2.3l-0.4,-1.8l-2.8,-0.6l0.9,-2.6l-2.2,0.1l-2.7,-0.4l-1.3,1.8l-2.6,0.7l-1.8,-1.3l-1.2,2.2l0.5,1.7l1.8,1.8l0.9,2.6l-0.9,1.1l-1.4,2.3l0.1,1.8l1.2,2.7l0.4,1.9l-1.4,1.6l4.7,0.8zM336.4,759l-0.4,-2.4l0.2,-1.9l-0.8,-2l1.2,-2.1l-0.2,-1.6l-1.8,-0.7l-1.7,-1.6l-1,-1.1l-2.5,-1.6l-1.4,-0.8l-11.9,7.2l-2.4,1.8l1.3,2.9l-0.6,1.4l2.1,0.3l1.3,3.1l2.5,-1.3l1.8,1.8l0.7,1.4l2.6,0.7l0.5,2l2.7,0.5l1.8,-0.2l2.4,-1zM480.2,702.4l-0.1,4l1.5,1.1l3.8,-1l1.1,1.7l0.4,2.7l0.7,1.6l1.8,0.9l2.5,-1.3l1.3,0.7l2.1,-1.3l2.9,0.5l-0.4,-2.3l-0.4,-1.6l1.8,-2.6l0.4,-1.6l-1.5,-1.9l2.2,-2.9l1.2,-1.1l-1.6,-2l-0.5,-3.2l0.4,-1.5l-2.1,-1.3l-1.8,-0.8l-2.6,2.3l-1.8,-0.8l-1.5,0.6l-2.1,-1.7l-2.5,-2l-2,1.7l-1.9,0.1l1.1,2.2l-2.9,1.4l-1.6,1.3l2.2,2.9l1.3,1.8l-2.1,2.1zM465.4,716.7l-1.9,0.2l-1.8,1.9l-1.3,0.6l-2.6,0.8l-0.2,2l1.2,2l2.8,0.5l0.3,1.8l2,1.1l1.3,2.1l1.7,-0.7l2.5,-0.2l1.4,1.6l2.1,-0.1l1.7,-0.6l1.5,-1.9l1.6,-0.6l1.1,-0.9l1.6,-1.3l0.5,-2.4l-2.3,0.4l-1.4,-2.7l-1.6,-0.7l-2.3,-0.7l-1.9,-1.6l-1.2,-0.1l-2.3,-1.8l-1.4,-0.8zM668.3,739.7l2.1,-3l-2.5,-0.4l-1.8,-2.4l3.1,-2.8l-2.5,-0.9l-1.6,-1.7l0.5,-2.6l-1.9,-1.5l-2.4,0.7l-1.8,-0.9l-2.7,0.2l-2.5,-0.2l0.4,4l-2.4,0.7l0,14.1l3.3,1.6l1.4,-2.7l2.7,1.5l1.2,-0.9l2.2,0l2.1,2l2,-2.9l1.7,0.4l0.2,-0.4zM785.3,680.3l0.2,2.3l1.9,1.4l0.8,1.8l2.3,1l0,1.7l-2,3.6l1,1l2.4,1.7l2.2,0.7l1.8,0.3l2.7,-1l2.3,0.3l1.6,1.2l1,1.8l1.3,1.4l2.6,-1l1.9,0.9l0.5,1.8l1.5,-0.4l2.2,1l1.4,-0.8l1.6,-2l2.4,0.8l2.9,-0.1l-1.9,-4.2l2.5,-0.6l2,-1.1l1.4,-1.7l-0.1,-2.5l-0.7,-1.9l1.3,-2l-0.2,-0.8l-2,1.8l-4.8,-0.6l-8.6,-1.9l-0.6,-5l-22.4,-1.4l-1.9,-0.1zM770.6,734l-1.4,0.9l0.1,1.9l-0.8,1.3l1.5,1.1l0.2,2.3l0.8,2.7l2.2,0.5l-0.9,3.2l3.3,-0.1l2.8,-0.7l0.1,2.5l2,0.5l1.4,0.8l3.1,-0.9l1.7,1.3l1.8,-1.8l-0.3,-2.1l-0.4,-2.9l1.4,-1.4l-9,-12l-2.1,0.5l-2.5,0.8l-1.6,-1.6l-2.1,0.9zM1067.7,693.7l1.5,-0.7l1.4,-3l1.2,-1.6l1.9,0.8l2.5,-0.7l1.2,-1.1l0.4,-1.8l0.5,-2.4l-0.4,-1.6l-0.2,-2.6l0.9,-1.2l0.7,-2.3l-21.5,0.7l0.1,0.8l1,1.4l1,1.6l-0.6,2.7l-0.1,2.3l0,1.4l0.9,2.4l0.7,1.4l0.3,2.4l1.4,0.4l2.5,-0.4zM431.4,810.4l2.6,0.2l1.4,2.9l1.6,-0.1l2.4,0l1.1,3.2l1.4,0.7l3.2,-1l1.6,0.7l0.3,-2.7l1.6,-0.7l2,-2.8l0.4,-1.7l3.2,-2.1l-4.7,-1.2l-1.3,-2.6l4.1,-1.6l-2,-2l-17.4,-1.6l0.7,2.1l-0.5,2.1l-1,2l-1.7,1.4l-0.8,1.2l0.1,2.6l-0.4,1.8zM378.3,891.4l-0.9,1.4l-1.3,1.2l-1.1,1.7l1,3.3l0.4,1.8l-1.8,0.8l-1.6,1.7l-0.1,2.5l1,2l0.2,2.5l-0.5,1.6l-1.7,0.9l-1.1,2.9l0.1,2l1.6,1.6l1.3,1.3l0.9,1.4l7.1,3.4l0.3,2.2l-0.4,1.5l-0.5,1.7l1,2.1l-0.7,1.2l0.3,2.4l2.4,1.6l0.2,1.7l-1.2,2.7l2.3,1l2.6,1.6l-1.7,2.4l0.6,2l0.5,1.4l-0.6,2.4l-0.8,1.3l0,0.1l22.3,0.3l-4.2,-14.2l0.8,-1.3l-0.3,-1.8l-1.6,-0.1l-1.3,-1.3l-1.1,-1.8l-1.9,0.1l-1.5,-2.3l-0.3,-1.2l-1.3,-1.6l-2.5,-1.1l-1.5,-1.3l0.2,-2.9l-1,-0.6l-1.2,-1.9l0.8,-2.4l1,-1l2.1,-2.1l1.8,-1.4l0.9,-1.8l-0.2,-2.7l-1.7,-0.4l-2.3,-1l-0.6,-1.1l-0.4,-2.5l-0.7,-1.9l-1.3,-1.2l-0.7,-2.7l0.5,-1.4l-0.5,-2.2l-1.2,-2.2l-1.4,0l-1.9,-1.4l-1.5,1l-2,-0.3zM478.2,774.7l0.4,-1.2l-1.7,-2.5l-1.1,-1.7l2.7,-1.6l1.6,-1.7l0.7,-1.9l-0.7,-1.9l-1.4,-0.8l-3,0l-1,-2.7l0.4,-3.2l-2.9,1l-1.7,-1.6l-6.8,7.6l-2.2,1.7l-2.3,0.2l-1.9,1l-1.7,1.2l-2.3,-0.8l-1.9,0.8l0.6,5.1l0.5,1.6l-1.2,1.5l-2.9,1.9l-0.1,1.3l0.9,2.7l-1.1,1.2l5.4,13.1l2.2,-1.4l1.6,0.9l2.2,1.1l0.8,-3.4l0.5,-2l4.1,2l2.1,0.2l0.5,-3.3l0.3,-2.4l2.8,0.6l0.7,-1.9l1.4,-1.9l2.3,-1.5l0.8,-2.7l0,-1.6l0.7,-0.9zM594.4,816.6l0.8,-2.4l1.4,-2.8l-0.2,-1.4l-2.6,-2.1l0.7,-2.1l-2.2,0.3l-1.6,-0.7l-1.4,0l0,2.6l-4.7,-0.8l0.4,3.1l1.4,3.3l-5,-0.5l0,1.8l0.4,1l2,2.3l-3,1l1.3,2l-0.9,1.9l0.6,2.2l1.8,1.3l-1.6,3.3l2.5,1.1l0.6,1.6l1.4,-0.1l2.9,0.4l0.7,0.7l2.3,0.4l1.2,-2.1l0.2,-1.9l0.5,-3.1l1.2,-1.2l-1,-1.9l0.4,-2.8l0.6,-1.7l0.5,-1.2zM470.5,933.9l-1.2,-0.5l-2.8,-1.1l-1.7,-1.5l0.6,-2.2l-2.5,0.1l-0.3,2.7l-2.3,1.1l-2.4,-1.7l-2.9,-2l-1.3,1.9l-1.5,1.2l-2.2,1.4l-1.3,1.1l-0.8,2.8l0.5,1.9l2.4,3l-0.8,1.9l-1,2.5l0,1.6l0.3,2.5l-0.8,1.1l-2.6,2l-0.8,1.9l26.3,0.4l-2.4,-1.5l-0.5,-1.8l2.1,-2.1l3.7,-1.7l-2.4,-2l-2.5,-2.4l3.8,-2l0.6,-1.7l-1.4,-1.8l-0.2,-0.6l-1.4,-1.7l-0.2,-0.3zM734.4,887.3l-2.6,-2.3l1.5,-2.6l-0.7,-1l-1.9,-0.7l-1.3,-1.4l-2,0.2l-1,-0.7l0.9,3.4l-2.9,0.2l-2.8,-0.4l-1.3,1.8l0.2,2.1l-0.8,1.4l-0.2,2.4l1.4,1.7l-0.4,2.4l-1.2,1.5l0.9,2.5l0,1.6l0.2,1.8l0.1,2.2l2.7,1.7l1.7,-0.8l0.8,-2.2l2.5,-0.2l2.3,-0.2l1.9,0.3l1.8,1.4l2,-2l0.9,-0.6l0,-2.8l-0.8,-1.4l-1.3,-1.8l-1.9,-1.9l0.2,-1.7l1.1,-2.2zM758.3,948.6l1,2.2l1.6,1.2l1.2,1.7l0.8,1.7l0.5,2.1l-0.1,1.5l6.6,-0.2l-0.8,-1.3l-1.2,-1.4l-0.7,-2.9l-1.2,-1l-0.9,-2.1l-1.3,-1.3l-1.4,-2.6l0.2,-1.9zM1044.2,766.8l0.4,-2.1l-2.4,0.4l-1,-1.8l-2.3,-2.1l0,-3l-4.1,3.1l-1.4,-2.8l-0.8,1.9l-0.6,1.6l-0.7,1.7l-1.3,1.5l-0.5,1.9l-0.5,2.6l0.8,1.5l-1.8,1.7l0,1.5l-0.7,2.1l1,2.4l-0.7,2.2l0,0.3l-0.2,2.1l2.5,1.9l1.3,1.2l-0.7,2.4l2.8,0.1l-0.9,3.9l1.2,1.7l2.8,-0.9l1.1,2.2l1.1,-1.6l3.2,1.2l1.4,-1.5l-0.3,-2.1l0.5,-2.3l1.2,-1.2l-1.2,-2.7l-0.2,-1.9l1.5,-1.8l-0.4,-1.7l-1.1,-2.4l1.7,-2l-0.8,-2.3l-1,-1.6l0.4,-1.6l0.1,-1.5zM956.4,789.4l-0.9,-1.1l0.3,-1.8l-0.9,-1.7l-0.4,-2.1l-1.5,0.4l-3.1,1l-1.6,0.7l-1.2,2.6l1.8,2.2l-2.4,1.3l-1,2.4l1.4,1.6l0.9,3.1l0.8,1.6l0.7,2l-0.2,2.8l1.1,0.2l2.1,0.9l1.5,1.6l1.2,1.5l2.7,-0.2l2.6,0.6l0.8,2.2l1.1,1.4l2.3,-1.3l0.6,-1.2l1,-1.9l1.8,-2.5l-1.8,-2.7l2,-1.4l-0.3,-2.9l-1.8,0.3l-2.2,-1.2l-1.7,-0.9l-1.4,-1.9l-0.9,-0.6l-1.7,-1.1l-0.9,-2.2z"/>
<path fill="#bfe8eb" d="M206.9,766.6l-1.4,-1.1l-2.1,-1.3l-1.6,1.6l-1.7,-1.4l-0.2,3.2l-2.1,0.4l-2.5,0.6l-0.7,2l0.6,2.8l-1.3,2.2l-1.7,0.6l-2.4,0.8l-1.5,0.8l-1,2.6l0.2,0.2l12.9,11.8l2.4,-0.4l2.5,-0.2l0.1,-3l1.3,-0.8l2.8,-0.8l-0.1,-2l2,-2.4l1.8,-0.5l-0.1,-2.3l1.8,-1.4zM280.1,696.7l0,2.5l2.1,1l3.2,-0.3l-1.7,3.8l0.6,2.6l1.5,2.2l3.4,-1.5l1.4,2.1l0.4,2.6l1.5,-1.1l1.8,0.6l1.8,-0.1l1.2,-1.9l1.1,-1.8l0.7,-1.2l2.7,-2l-0.7,-1.9l0.9,-1.3l2.2,-2l1.3,-1.3l-0.4,-2.1l-25.1,-0.6zM327.9,740.5l0.6,-1.5l0.8,-2l-0.6,-1.8l-2,-2.7l1.3,-2l-1.6,-1.2l-2.5,0.2l-1.1,1.3l-2.4,-1.4l-2.1,-0.9l-1.8,1l-1.1,1.9l-3.5,-0.8l-1.6,0.7l0.3,3.3l-2.3,0.9l-2.1,0.1l1,2.5l-0.8,2.4l1.8,0.2l3.2,1.2l-0.1,1.9l-0.7,3.4l2.1,1l2.6,0.8l0.8,1.4l11.9,-7.2zM474.8,675l0.8,1.8l0.7,2.2l1,2.4l0.9,2.1l0.7,1.8l1,1.9l1.6,2.2l1.9,-0.1l2,-1.7l2.5,2l2.1,1.7l1.5,-0.6l1.8,0.8l2.6,-2.3l1.8,0.8l2.1,1.3l-0.4,1.5l0.5,3.2l1.6,2l-1.2,1.1l-2.2,2.9l1.5,1.9l-0.4,1.6l-1.8,2.6l0.4,1.6l0.4,2.3l0.4,0.2l1.6,0.3l2,-1.3l1.4,-0.9l3.3,0.6l0.6,-1.2l2.5,-1.3l1.5,0l2.6,-0.8l1,-0.5l0.8,-2.9l1.5,-1.5l2.5,1.2l2.1,-0.7l1.9,-1.2l1.7,-2.1l1.4,-0.3l0,-0.1l-0.3,-0.4l-0.5,-1.4l-1,-2l1.2,-2.6l1.2,-1.7l-1.5,-2.6l-1.8,-0.7l-2.1,-2.3l0.8,-1.9l2.2,-2.6l-0.8,-1.8l0.1,-1.7l-0.2,-2l-1.5,-1.4l-48,0.4zM685.9,724.8l0.9,-1.4l1.5,-2.6l-0.9,-2.6l1.5,-0.5l2.3,-1.7l-0.7,-2.3l2.2,-0.8l-1.2,-0.9l-1.2,-2.1l-1.3,-1l-2,-1.8l-2.9,0.4l-1.9,-0.4l-1.6,-0.6l-1.1,-2.2l-1.8,-0.8l-1.8,1.3l-0.7,2l-2.3,1.5l-2.4,0.9l-6.8,15.2l1.9,1.5l1.4,1.1l2.2,-1.7l2.5,0.7l1.8,1.1l2.6,0l1.1,-2.6l2.2,0.2l2.2,1.7l1.9,-0.5l0.8,-0.3zM1037.3,723.2l-0.9,-2l0.9,-2.1l1,-1.3l-1.8,-2l-18.7,2.7l0.2,2.2l0.9,1.8l-0.8,1.9l-1.2,2.4l1.7,1.9l1.4,1.6l-0.9,1.9l-1.1,2.1l0.9,2.4l0.3,0.7l3,0.2l1.9,-1.4l2.9,2.3l1.2,-1l0.2,-5.8l1.7,-2.5l3.6,2.7l3.1,2.7l1.8,-2.2l1.1,-1.4l-1.9,-3.8l0.5,-1.5zM995.7,750.5l-1.8,0.8l-0.2,2.5l0.5,5.9l-3.1,0.6l1.2,2.6l-1.1,2.7l-3.3,-0.4l0.6,2.7l-1.1,0.9l-0.4,5.3l2.3,1.2l2.3,0.2l1.1,1.1l0.4,2.2l1.9,1.3l2.5,1.4l2.2,-1.1l1.8,1.8l1.5,1l1.4,-0.2l1.7,1.2l0.8,-2.3l-1,-2.8l0.2,-1.1l1.5,-2.7l0.3,-2l1.5,-1.3l1.7,-1.9l2.1,-1.8l0.9,-1.1l-0.8,-3.4l0.2,-1.6l-1.1,-2.5l-1.2,-0.9l-0.4,-2.4l-2.4,-1l-0.5,-2.1l1.2,-2.3l-1,-1.8l-1.1,-1.6l-2.3,0l-2.6,0.3l-1.8,-1.6l-0.7,2.2l-1.1,1.5zM335.3,764.5l0.1,1.8l1.2,2.8l3.3,-0.4l-0.9,2.1l0.5,2.3l2.3,1.2l1.8,-2.3l2,-0.4l2.3,0.3l1.7,-0.3l1.7,-2.2l1.5,-1.7l1.4,-0.4l2,-1.2l0.6,-4.6l-2.3,1l-1.9,0.3l-2,0.7l-2.3,-1.6l-1.8,-2.6l-1.7,1.1l-2.4,0.4l-2.2,-1l-1.4,0.6l-2.4,-1.4l-3.6,4.8zM427.8,784l-0.9,-2l-1.8,-1l-2.9,0l-1.2,-1.7l-1.5,0.3l-2.9,0.8l-2,-0.3l-2,-2.2l-2.1,-0.7l-2.5,1.6l-1.6,-0.9l-2,1.7l-1,1.4l-2.4,2l0.5,1.3l0.9,3.7l-0.8,1.6l-2,0.4l-1.2,2.5l-0.6,2.2l-0.5,1.4l1.9,1l1.9,1.1l1.1,2.3l1.8,1.1l2.3,0.8l-0.3,2.4l2.3,1.4l1.2,0.4l2.1,0.9l1.6,1.2l0.6,2l1.4,1.1l2.6,-0.5l2.1,0.4l1,3l0.5,1.7l1.9,-1l-0.2,-2.4l2.7,-0.4l2.8,0.5l0.7,-1.9l0.4,-1.8l-0.1,-2.6l0.8,-1.2l1.7,-1.4l1,-2l0.5,-2.1l-0.7,-2.1l-3,-1.3l1.4,-2.4l-3.5,-1l0.4,-2.4l-0.9,-1.7l0.1,-1.5l0,-2zM374.8,869.3l-1.9,0.1l-17.4,7.7l0.1,0.1l-0.1,1.8l-0.5,2.4l2.6,1.5l-0.4,2.1l-1.5,2.4l1.4,2.2l1.2,1.5l1.9,0.8l2,-1.1l1.5,-1.2l2.7,2.5l1.3,0.9l2.2,-1.3l2.4,-0.1l2.3,0.7l1.4,-0.1l2,-1.1l0,-2.3l-1.4,-1.1l-1.8,-18.4zM484.5,813.3l0.2,-1.2l-0.5,-2.1l-1.4,-1.3l1.3,-2.7l-1.4,-2l-1.1,-1l-5.6,-1.1l-1.1,2.4l-0.3,2.3l-1.9,0.4l-2.8,0.1l-0.3,1l-0.9,1.6l-0.7,2l-2,1.2l-0.9,1.9l-1.2,2.9l3.6,0.4l1.9,1.2l-1.5,2.8l1.7,-1.2l2.6,1.3l1.3,0.5l2.7,-0.5l2.5,0.7l1.5,-0.8l3.2,-4.5l0,-0.3l0.6,-1.3zM510.5,944.7l-0.3,-1.5l1.5,-2l-1.2,-1.7l-1.7,-0.7l-0.6,-2.1l-2.5,-0.8l-0.7,-2.4l-1,-1l-1.7,-0.7l0.4,-3.3l-1.9,-0.9l-1.2,-1.9l-2.1,-0.5l-1.5,1.1l0.3,2.9l-0.9,1.1l-3.6,0.6l1.4,3.3l2,2.7l-3.8,-0.1l-2.4,1.1l1.7,3l-1.1,1.7l1.3,2.4l0.1,1.4l-0.2,3.1l-0.1,1l0.1,2.2l0.2,2.5l0.1,1.1l16.7,0.2l0,-0.4l-0.1,-2l0,-2.5l0.4,-1.2l0.2,-2.5l0.7,-1.8zM616.9,931.6l1.3,-2.4l-1.1,-1.3l-1.9,-1.4l0.5,-1.7l0,-1.8l-0.5,-2.4l-2.5,-0.4l-1.4,0.1l-1.6,-0.2l-2.1,-2.3l-1.8,-0.1l-2.6,3l-2,-3.1l-1.5,0.9l-2.4,-0.5l-1.5,-1.3l-0.7,1.6l-0.9,1.8l0.5,1.9l1.1,1.9l-1.2,2.3l0.1,0.3l-1.2,2.4l1,1.4l1.2,2.7l-0.9,1.9l-0.1,1.6l-2.1,1.4l1.4,2.7l-2,1.2l1.3,1.5l0.5,1.4l0.9,2.4l0.7,2.5l1.1,1.8l1.7,0.8l2.7,0.4l0.6,1.3l0.6,-2.5l1.9,-0.7l0.8,-1l2.2,-1.5l1.3,-1.1l0.5,-1.9l0.7,-2.2l2,-0.9l0.4,-2.1l1.7,-1.7l1.1,-0.9l1.6,-1.4l-0.1,-0.9l1.2,-1.2zM672.2,764.1l0.5,-2l-1.8,-1.4l-1.9,0l-1.8,-0.9l-1.5,-0.5l-3.1,2.3l-1.5,-1.2l-1.7,-0.7l-2.1,0.5l-2.5,2.2l-1.1,1.3l-2.2,2.2l1.1,2.1l2.1,2.4l-2.5,1.7l-0.2,1.8l-0.1,2.4l0.6,1.4l-0.1,1l0.2,1l1.9,-0.2l1.7,2.3l2.9,-0.9l2,-1.5l1.3,1.5l2.1,1.8l2.4,-1.4l2.8,-0.9l1.7,1.4l1.7,1.1l2.3,-0.3l1.4,-1.5l2.2,-0.9l-2,-3.2l-0.7,-2.2l2.5,-0.7l-0.3,-4.5l-1,-2.1l-2.6,-1l-1.2,-1.3zM701.1,824.6l0.2,-1.4l-2.5,-1.8l-1,-2.3l1.5,-2.6l0.4,-1.3l-0.9,-2.2l-1.9,0.1l-1.6,-0.2l-2.7,1.3l-2.1,-0.9l-1.6,0.5l-2.4,0.1l-1.7,-0.9l-2.3,0.9l-1.9,1.3l-2,0l-2.1,-0.6l-1.5,-0.1l-1.6,1.7l-2.7,-0.8l-1.5,2.2l-0.9,0.8l-0.7,1.9l-0.9,5.4l0.9,1.9l0.1,1.6l2.6,0.7l1.3,1.5l0.9,1.7l-0.2,2.2l-1.1,2.7l0.9,1.6l-1.9,2.6l1,1.9l1.1,1l-1.1,2.4l0.5,2l1.6,0.6l3.2,0l1.3,1.8l0.3,2.8l1.1,0.7l2.1,1.3l1.5,0.4l0.4,0.1l2.3,0.8l-0.4,2.8l0.7,2.3l2.4,1.6l0.4,2.1l2.5,0.3l0.8,1l1.8,1.1l1.5,0.7l0.8,2.3l1.2,1.5l2.6,0.6l4,0.2l10.6,-6.8l0.8,-0.1l7,-7.1l0.7,-2.1l-1.4,-1.7l0.1,-2.9l1,-1.7l-0.6,-2.4l1.3,-2l-1.1,-1.2l-0.9,-1.4l0.6,-2.5l-0.7,0l-1.9,-1.1l-0.2,-2.2l-2.3,-1l-1.9,-0.1l-2.9,-0.7l-0.9,-2.4l-0.7,-1.2l-2.5,-0.7l-3,1.4l-1.5,-0.8l-1.5,-2.3l-1.8,-0.3l-0.1,-0.1l0.8,-2l-1.5,-3zM952.2,829.5l0.5,-2.5l0.1,-3.7l-4,2l-1.6,0.5l-1.5,-2.2l0.4,-3l-1,-2.6l-3.1,0.8l-2.9,1.3l-0.9,-2.5l-1.4,-1.3l-1.6,1.7l1.1,2.7l-0.2,2.3l-2,1.4l-2,1.9l0.3,2.1l-1,0.9l-1.3,1.8l-1.2,1.9l0,1.7l-0.7,2.4l-0.6,0.6l-1.7,2.1l0.7,2.5l-0.9,3.3l1.3,1.1l2,1.6l-1,2.3l0.4,2.1l-1,1.6l-0.1,1.9l-0.8,2l-0.1,1.6l1.4,1.4l0.6,1.4l15.1,1.2l-0.1,-2.4l0.3,-1.2l2.5,-1.3l-0.5,-2.7l-1.6,-0.9l-1.1,-1.7l0.9,-2.8l1.4,-8l1.8,-2l0.7,-1.3l0.5,-2l0.3,-1.8l-0.2,-2l2,-0.9l-0.6,-2.2zM848.7,922.6l0.6,2.2l0.8,2.6l-0.9,2.1l-0.3,1.8l-1.1,1.9l-1.9,0.9l-0.8,1.2l1.8,7.9l2,0.6l0.3,1.8l1.4,-1.7l3.2,1.8l0.7,-0.5l1.5,-1.8l1.9,-1.1l1.9,-2.5l1.3,-0.3l0.4,0.2l-0.2,-1.4l0.2,-0.2l-0.7,-2.7l-1.5,-1.8l0.6,-2.5l2.3,-0.9l1.6,-2l-1.9,-2.3l0.2,-2.9l-3.5,0.3l-2.4,1.4l-1.6,-1.2l-0.9,-3.1l-1.3,-0.5l-1.2,1.4zM880.7,941.6l-1.2,-1.4l-2.3,-0.8l-0.8,0l-0.3,0.4l-2.7,3.5l-3.5,0.9l-3.7,1.8l-0.3,0.2l-0.1,1.6l-0.1,2.3l0.6,2.5l1.4,2.4l0.9,1.4l0,0.2l30.8,-0.6l0.2,-2.5l-1.9,-1l-1.1,-1.4l-1.9,-1.6l-1.2,-0.4l-2.2,-1.8l-1.6,-1.4l-1.6,-1.3l-1.1,-0.8l-1.5,-1.1l-0.4,-2.7l-0.5,-0.5l-1.9,-0.6z"/>
<path fill="#c0eaec" d="M229.5,779.6l0.2,-1.9l1.7,-2.4l-0.4,-1.6l-2.1,-2.5l0.9,-2.3l1.2,-1.3l-1.1,-3l-1.6,-1l0.2,-2.1l1.4,-3.1l-0.4,-1.5l-1.8,1.4l-2.8,-2.9l-1.8,0.4l-1.6,0.9l-2.6,-0.6l-1.4,1.6l-1.5,0.3l-3.7,0.4l0.2,2.3l-0.6,2.6l-2.4,0.5l-0.8,1.3l-1.8,1.5l8,12l1.9,0.7l1.5,1l2.2,-2.3l2.2,2.7l1.4,0.4l2.8,0l2,-0.9zM193.3,741.5l1.7,2l-0.1,1.5l2.1,1.6l14.4,-2.4l0.2,-2.4l3,0.2l1.6,-0.6l0.8,-2l-0.7,-3.6l0.2,-1.8l2.4,-0.5l0.1,-2l-2.3,-0.9l-2.3,-0.3l-0.6,-1.8l-1.5,-2.3l-1.3,-0.6l-2.5,-0.6l-2.2,0.1l-1.2,2.9l-1.5,-0.9l-3.1,-1.5l-1.1,0.7l-2.9,1.5l-2,0l-1.4,0.8l-2,1.6l0.2,2.2l1.2,2.2l-0.1,2.2l-0.6,1.8l-0.1,1.9zM304.9,762.2l3.4,0.9l1.1,-1.5l1.4,-3.9l0.9,-1.2l2.7,0l0.6,-1.4l-1.3,-2.9l2.4,-1.8l-0.8,-1.4l-2.6,-0.8l-2.1,-1l0.7,-3.4l0.1,-1.9l-3.2,-1.2l-1.8,-0.2l0.8,-2.4l-1,-2.5l-4.7,-0.8l-5.7,2.5l-11.3,0l-1.1,1.5l0.3,1.5l-1.2,1.8l0.7,2l0.2,2l2.6,2l-2.2,2.4l-0.2,1.7l3.1,1.2l-1.5,2.4l1.9,1.5l-2.6,2.5l0.9,2.5l0.5,2l2,0.2l2.5,1.2l1.1,-0.3l1.6,-1.8l2.5,-0.2l2.1,1.3l1.4,0.7l2.6,-1.1l1.5,-1l0.5,0.1zM426.3,687.8l-1.6,0.3l-2.6,-0.4l-0.7,2.4l-2.9,-0.3l-1.7,1.8l-1.6,0.2l0.8,2.3l-0.2,1.4l2,0.5l-0.6,2.7l2.8,-0.1l1.2,1.9l0.7,2.7l2.8,-0.1l0.3,1.6l0.8,2.5l10.5,2.6l6.3,-0.9l0.1,-2.5l0.9,-1.5l-2.4,-1.4l0.6,-2.5l3.6,-1.9l-0.5,-2.1l-3.4,-2.2l-0.1,-1.9l0.8,-1.7l-3.1,-0.2l-4.9,-1l-7.5,-2.8zM445.1,712.3l1.3,1.5l0.4,1.7l1,1.5l-0.3,2.7l-0.1,1.8l1.7,1.4l2.7,-0.8l1.8,1.2l2.5,-0.8l1.5,-0.3l0.2,-2l2.6,-0.8l1.3,-0.6l1.8,-1.9l1.9,-0.2l1.1,-2.1l0.1,-2.6l-1,-1.6l-1.5,-1l0.9,-2.8l-2.8,-1.8l-2,1.2l-1.5,1.9l-2.1,1.2l-2.2,0.7l-1.9,-2.6l-1.9,3l-1.5,0.4l-2.9,-1.4l-1.6,0.9zM556.6,698.9l-1.9,0.9l0.9,3.1l-2.2,2l-2.8,-1.3l-2.8,0.5l-0.9,1.7l0.2,2.6l-1.4,2.6l-2.3,0.2l-2.5,0.4l-1.2,1.5l0.2,2.6l-1.3,1.2l1.5,1.6l2.1,0.2l1.3,0.3l0.8,2.5l1.6,1.1l1.8,-1.5l1.7,-1l0.3,-2l2.7,0.6l0.1,-3.5l2.5,0.1l2.9,0.4l2.7,-0.5l0.4,-2.7l-2.7,-1.2l-0.1,-2.4l3.4,-2.4l-0.4,-1.9l-3.8,-1.2l0.8,-2.7zM687.2,747l0.5,-2.5l-6.4,-7.5l-1.6,1.3l-2,1.1l-1.5,0.2l-2.1,-0.7l-2.2,1l-1,0.5l-1.8,1.2l-0.2,0.4l1.8,1.2l0.4,1.8l-2.8,3.6l3,-0.1l2.3,2.1l-0.6,1.6l1.5,-1l2.5,0.7l1.9,0.5l1.2,-2.5l1.7,-0.3l2.4,0.4l1.9,-1.5zM767.5,721.5l1.2,1l1.5,2.1l-0.7,1.7l0.5,2.1l1.1,1.6l0.8,1.7l2.1,-0.9l1.6,1.6l2.5,-0.8l2.1,-0.5l1.9,-1.5l0.2,-2.6l1.9,-1.1l1.4,-0.9l-0.8,-1.9l1,-2l-0.8,-2.2l-0.8,-1.2l1,-2.7l0.9,-1.2l0.5,-2.5l-1,-1.5l-0.5,-0.7l-1.7,0.2l-2.5,1.2l-0.6,1.4l-2.4,2l-2,-0.9l-2.8,0.7l-0.8,3.1l-1,1l-1.9,0l-2.1,1.4zM797.7,730.4l-0.4,2.5l0.8,1.9l-1.5,1.1l-1.5,1.3l-1.7,1.3l-1.5,1.3l-0.6,2.2l2.4,0.4l1.6,2l1.5,0.1l1.8,-2.8l2.8,0.9l0.9,0.6l1.8,1.5l2.3,-0.2l1.9,-1.2l1.5,0.5l0.3,-0.5l0.1,-2.4l0.8,-1.9l-2.4,-0.2l-0.5,-2l-1.8,-1.4l-2.6,-1.5l-0.6,-2.3l-1.7,-1.4l-1.7,-0.8zM1017,740.8l-1.6,0.4l-1.6,1.5l-1.7,2.3l-1.6,0.5l-2,0.1l-1.5,2l1.1,1.6l1,1.8l-1.2,2.3l0.5,2.1l2.4,1l0.4,2.4l1.2,0.9l9.1,-9.1l1,-2.9l-3.1,-1.1l-1.9,-0.7l2.4,-3.2l1.6,-2.5l-2.9,-1.3zM395.1,824.3l0.9,-3.6l1.6,-0.9l2.8,2.2l19,10.9l0.6,-0.1l0.6,-2.1l0.2,-1.5l0,-2.9l-1,-2.3l0.5,-1.1l2.4,-2.1l-1.2,-2.6l-0.1,-1.8l-0.5,-1.7l-1,-3l-2.1,-0.4l-2.6,0.5l-1.4,-1.1l-0.6,-2l-1.6,-1.2l-2.1,-0.9l-1.2,-0.4l-2.3,-1.4l0.3,-2.4l-2.3,-0.8l-1.8,-1.1l-1.1,-2.3l-1.9,-1.1l-1.9,-1l-0.3,0l-9,11.7l2.7,16.2l2.8,1.6zM385.9,870l-1.7,-0.5l-2.4,0.4l-1.4,-1.1l-1.6,-1.2l-2.4,0.5l-1.6,1.2l1.8,18.4l1.4,1.1l0,2.3l-2,1.1l-1.4,0.1l-2.3,-0.7l-2.4,0.1l-2.2,1.3l-1.3,-0.9l-2.7,-2.5l-1.5,1.2l-2,1.1l-1.9,-0.8l-1.1,1.1l-1.2,2.9l-0.1,2.3l-1.3,1l1,2.5l-10.4,14.6l-1.3,0.9l-2.6,-0.3l-1.1,1.6l0.9,3.2l-0.8,1.1l-3.1,1.2l-0.6,1.4l-0.1,2.9l-0.3,1.8l2.1,-0.4l1.1,1.4l1.4,2.7l2.7,-0.5l1.6,1l-0.2,2.4l1.6,2l2,0.1l-0.6,2.3l1.5,1.5l0.7,3l-2,1.4l-0.3,2l0.7,2.3l1.5,4.7l0,0.1l5.5,-1l30.6,0.4l0,-0.1l0.8,-1.3l0.6,-2.4l-0.5,-1.4l-0.6,-2l1.7,-2.4l-2.6,-1.6l-2.3,-1l1.2,-2.7l-0.2,-1.7l-2.4,-1.6l-0.3,-2.4l0.7,-1.2l-1,-2.1l0.5,-1.7l0.4,-1.5l-0.3,-2.2l-7.1,-3.4l-0.9,-1.4l-1.3,-1.3l-1.6,-1.6l-0.1,-2l1.1,-2.9l1.7,-0.9l0.5,-1.6l-0.2,-2.5l-1,-2l0.1,-2.5l1.6,-1.7l1.8,-0.8l-0.4,-1.8l-1,-3.3l0.6,-0.9l1,-0.4l0.8,-1.6l0.9,-1.4l2.1,1.6l2,0.3l1.5,-1l1.1,-1.6l1.1,-1.1l0.9,-2.6l0,-1.2l0.4,-2.3l1.8,-0.8l1.1,-2.3l-0.2,-2.4l0.6,-1.3l1.2,-1.3l1.4,-2l-2.6,0.8l-1.5,-0.5l-1.4,-1.5zM483.7,802l1.1,-0.5l1.2,-2.2l1,-2.7l1,-0.4l2.5,-0.9l1.9,-0.8l1.2,-1.9l-1,-1.6l0.1,-1.7l-2.6,0l-2.1,0.5l-1.8,-1l-0.4,-2.5l-1.9,-0.9l-2.3,-0.5l-2.1,0l-0.9,-0.6l-1.2,-2l-2.4,-0.3l-2.3,1.5l-1.4,1.9l-0.7,1.9l-2.8,-0.6l-0.3,2.4l-0.5,3.3l-2.1,-0.2l-4.1,-2l-0.5,2l-0.8,3.4l-2.2,-1.1l-1.6,-0.9l-2.2,1.4l-0.8,2.3l-1.1,1.3l-1.3,1l2,2l-4.1,1.6l1.3,2.6l4.7,1.2l-3.2,2.1l2.2,-0.3l1.9,0.5l1.9,2.1l0.6,0.9l2.6,-0.4l1.7,-0.8l1.8,0.9l2.3,0.9l2,-1.2l0.7,-2l0.9,-1.6l0.3,-1l2.8,-0.1l1.9,-0.4l0.3,-2.3l1.1,-2.4l5.6,1.1zM462.6,846.4l0.4,2.2l3,0.9l-0.3,2.2l-1.3,2.5l2.3,1.4l-0.3,2.3l-0.5,1.4l-0.8,2.2l1.6,2.7l2.5,0.6l1.4,1.1l0.7,1.6l1.7,0.7l1.4,0.8l7.7,-7.8l0.6,-1.5l-1.6,-1.2l0.7,-3.1l1.4,-2.1l-2.1,-1.3l-0.6,-2.1l2.1,-2.2l-0.3,-2l0.4,-2.4l-2,1.2l-2.6,-1.3l-1.8,-0.6l-2,0.4l-1.7,0.5l-2.3,-0.1l-2,0.4l-1.9,-1.2l-1.8,0.7l-0.9,1.9zM569.7,822.3l-0.5,-2l-1,-1.9l1.5,-2.4l-2.4,-0.8l-0.8,-2l-2,-1.6l-1.6,1l-2.2,-1l-0.5,-2.7l-2.6,-0.5l-0.9,1.9l2.6,2.1l-1.2,2.5l0.4,2.6l0,1.4l-2.6,2.3l1.7,2.1l-0.9,2.5l-0.8,1.4l-2.4,0.9l-2.4,1.2l0.4,2.6l-0.1,1.7l2.7,2.3l1.3,1.7l-1.1,2.2l0.1,0l2.2,-0.2l0.6,-2.1l2,-0.8l3,-0.1l0.5,-1.6l3.3,1.1l1,-0.7l1.9,-2.1l-1,-7.9l1.3,-1.6zM450,916.9l0.4,2.3l-1.5,1.5l1.3,2.6l-0.3,1.2l-0.7,2.3l0.9,2.5l2.1,1.5l-2.2,2.5l2.2,-1.4l1.5,-1.2l1.3,-1.9l2.9,2l2.4,1.7l2.3,-1.1l0.3,-2.7l2.5,-0.1l0.8,-5.5l-4.8,-4.2l-1.8,0l-2.8,-0.2l-1.4,-1.8l-3,-0.7l-1.6,0zM485.1,941.3l-3.1,0.7l-1.2,-2.4l-2.2,-0.7l-2.1,2.1l-2.3,-0.5l-1.8,-1.5l1.4,1.8l-0.6,1.7l-3.8,2l2.5,2.4l2.4,2l-3.7,1.7l-2.1,2.1l0.5,1.8l2.4,1.5l19.7,0.3l-0.1,-1.1l-0.2,-2.5l-0.1,-2.2l0.1,-1l0.2,-3.1l-0.1,-1.4l-1.3,-2.4l-1,0l-2.3,-1.4zM663.4,807.3l-0.2,-2.2l-2.5,-1.3l-1.5,-1.6l1,-2.4l-1.4,-1.1l-1.2,-2.2l-2.2,-0.1l-1.7,-2.2l-5.8,8.7l-0.6,2.3l0.2,2.5l0.2,1.9l-2,1.8l-1,0.9l0.5,2.1l1.3,0.7l1.9,1.1l1.6,1.6l-1.9,1.7l2.4,1.8l1.2,2.7l-2.4,1.7l-1.4,1.9l1.9,1.9l2.6,2.1l-1.5,1.9l-0.9,1.7l0.2,0.4l1.6,-1.3l2.5,0.4l1.5,-0.6l1.5,-1.9l1.1,-2.6l0.5,-1.8l2,-0.6l2.6,1.4l2.2,-1.1l1,-1.8l0.9,-5.4l0.7,-1.9l0.9,-0.8l-1,-2.4l-2.1,0.1l-2.2,-2.3l-0.6,-2.2l-1.3,-1.1zM780.6,957.8l-0.9,-1.7l-1.1,-2.1l1.6,-2.1l1.1,-1.8l-3.1,-1.1l-0.9,-1.7l2.7,-3.1l-0.9,-2.5l-2.8,-0.1l-3.1,1.1l1.3,2.7l-2.4,0.8l-0.8,2.4l1.3,2.7l1.8,1.6l-2.3,1.9l-3.3,1.2l1.1,2.8l9.6,-0.2zM1027.6,760.2l-1.2,-0.4l-2.8,0.1l-2,2.3l-2.1,0.7l-1.6,-0.2l-2.9,0.3l-1.5,-0.8l-0.2,1.6l0.8,3.4l-0.9,1.1l-2.1,1.8l-1.7,1.9l-1.5,1.3l-0.3,2l-1.5,2.7l-0.2,1.1l1,2.8l-0.8,2.3l0.9,1.8l2.5,0l0.7,-0.9l2,-1.9l2.4,-0.6l1.5,0.1l2.7,0.9l1.6,1.7l2.5,-0.7l1.1,-3.5l1.2,-0.1l2.4,0.4l0,-0.3l0.7,-2.2l-1,-2.4l0.7,-2.1l0,-1.5l1.8,-1.7l-0.8,-1.5l0.5,-2.6l0.5,-1.9l1.3,-1.5l0.7,-1.7l0.6,-1.6l0.8,-1.9l-0.5,-1l-1.4,-0.2l-2.8,-0.3zM866.8,909.7l-0.1,1.8l1.1,1.6l-0.6,2.4l-0.4,2.1l0.6,2.1l-1.6,1.4l0.9,2.5l-0.1,0.1l-1.6,1.5l-1.2,0.6l-1.9,0.1l1.9,2.3l-1.6,2l-2.3,0.9l-0.6,2.5l1.5,1.8l0.7,2.7l1.3,-1.3l2.5,1.2l2.8,2.4l2.9,0l3.8,-2.9l3.6,-3.6l3.7,-2.7l2.7,-3.7l2.7,-4.5l3.4,-2.6l0,-0.2l0.7,-1.7l2.5,-1.8l-1,-4.6l-2,-1.2l-1.3,-2.1l-2.1,-1.3l0.3,-2.2l-1.9,-1.3l-1.3,-1.9l-2,0.5l-2,0.5l-1.9,-0.7l-2.4,0.4l-2,0.7l-2,0.9l-2.4,2.1l-1.9,-1l0.1,1.2l-0.1,1.8zM877.2,939.4l2.3,0.8l1.2,1.4l2,-2.7l1.9,0.6l0.3,-1.7l2.2,-2l0.2,-1.2l-0.1,-0.5l-0.1,0.1l-3.5,0.9l-3.8,0.9l-3.4,3.4zM890.3,924.1l0.4,-0.8l-0.6,-0.1l0,1.3z"/>
<path fill="#c1eaec" d="M248.8,766.3l-1.2,-1.6l-1.4,-1.5l-0.5,-1.4l-1.2,-2.2l-1.3,-1.1l-1.3,-2.2l-1.5,-1.6l-2.4,-0.7l-1.5,-1l-1.5,1.3l-2.5,-0.1l-1.5,1.5l-1.5,1.2l0.4,1.5l-1.4,3.1l-0.2,2.1l1.6,1l1.1,3l-1.2,1.3l-0.9,2.3l2.1,2.5l0.4,1.6l-1.7,2.4l-0.2,1.9l2.2,-2.5l1.6,-0.1l2.4,3.6l1.8,0.5l2.1,-1.6l2.3,-3l1.9,-0.2l2.2,1.2l0.5,-1.4l1.4,-2.6l0.1,-1.6l0.9,-1.9l1.5,-1.9zM197,758.6l1.4,1.2l0.5,2.1l1.2,2.5l1.7,1.4l1.6,-1.6l2.1,1.3l1.4,1.1l1.8,-1.5l0.8,-1.3l2.4,-0.5l0.6,-2.6l-0.2,-2.3l3.7,-0.4l1.5,-0.3l1.4,-1.6l-2.4,-1.4l0.5,-1.9l2,-3.5l-2.2,-1.1l-4.8,0.1l-0.1,-2.1l-0.5,-2l-14.4,2.4zM464.1,709.4l1.5,1l1,1.6l-0.1,2.6l1.4,0.8l2.3,1.8l1.2,0.1l1.9,1.6l2.3,0.7l1.6,0.7l1.4,2.7l2.3,-0.4l0.2,-1.8l2.3,-1.6l1.9,-1.6l1,-0.7l0.9,-2.5l2.2,-1l-1.8,-0.9l-0.7,-1.6l-0.4,-2.7l-1.1,-1.7l-3.8,1l-1.5,-1.1l0.1,-4l-0.7,-1.3l-1.7,1.2l-1.7,-0.2l-2,-1.3l-2.6,2.3l-1.2,1.3l-2.6,-1.7l-1.5,1l-0.5,1.5l-0.7,1.4zM410.1,738.3l-1.6,0.2l-2.3,1.9l-1.1,1.3l-1.5,0.6l-2,-0.2l-2.1,0.6l-2.3,1.3l-1,1.2l-1.9,0.9l-2.1,0.1l-0.1,0.2l1,8.8l2.2,1.2l0.8,0.5l1.9,1.1l2.9,-1.4l1.5,1.8l1.8,0.8l1.1,2.2l2.8,-1.5l0.8,2.8l1.3,-0.9l2.1,1.1l2.1,-1.4l2.3,-0.8l0.5,-1.5l2.6,0l1,-0.7l2.8,1.7l1.5,0.4l1.9,-2.9l2.7,1.1l1.5,0.4l0.5,-2.4l0,-1.6l0.3,-2.2l0.1,-1.1l-0.1,-2l-0.7,-2.5l1.3,-1.7l-1,-2.1l-2.4,-0.5l-2.5,-0.6l-1.4,-1.8l-1.6,-1.4l-4.1,1.3l-2.2,0.1l-0.7,-2.3l-2.7,1.1l-1.6,-0.9zM670.5,709.2l-1.9,-1.8l-2.1,0.8l-1.4,-1.2l-2.6,1l-2.1,-1.5l-1.9,-1.9l-1.8,0l-0.4,-3.1l-2.6,0.2l-2.2,-0.9l0,13l0.4,1.7l1.6,1.8l1.4,1.3l0.4,1.5l0.9,2.2l0.6,2.1l2.7,-0.2l1.8,0.9l2.4,-0.7zM694.8,678.9l0.6,2.6l2.4,1l-0.5,2.7l1,1.3l-0.1,2.2l0.9,2l0.4,2.3l-0.6,1.3l-0.3,2.2l1.4,2.2l0.1,2.2l-0.8,1.7l-1,1.8l-0.5,2.2l0.9,3.2l-0.6,1.6l-5.4,1.5l-2.2,0.8l0.7,2.3l-2.3,1.7l-1.5,0.5l0.9,2.6l-1.5,2.6l-0.9,1.4l-1.6,0.8l2.4,-0.1l1.9,1.1l1.5,2l1.6,2.1l1.2,-0.3l2.9,0l1.2,1.1l2.1,1.6l1.8,-1.5l2,-0.6l0.2,-1.7l-1.8,-3.2l1.5,-2l1.9,-1l-1.6,-1.8l0.8,-1.5l-0.1,-1.9l-0.4,-2.5l2.2,-0.1l1.4,-2.7l2.2,-0.5l2.6,0.8l2.4,-1.1l-0.2,-2.4l-0.6,-1.6l3.7,-0.4l1.6,-1.6l-0.2,-1.9l0.9,-1.7l-2.1,-1.6l-1.2,-1.1l0.3,-2.4l3.6,-15.6l-0.1,-1.2l0.3,-1.2l-1.4,0.1l-23.7,-0.6zM388,807.8l-2.6,1.2l-1.5,-1.2l-2.4,0l-1.7,0.7l-1.6,1.4l-2.9,0.2l0.1,2l-2.1,1.2l-1.3,2.3l-0.7,2l0.1,2.1l1.2,1.2l0.7,2.7l2,-0.1l1.8,1.7l1.2,1.8l1.6,0l0.3,2.7l1.6,0.9l2.4,0l0.6,-2.7l0,-2.1l1.5,-0.7l3.5,0.4l0.9,-1.5zM467.5,818.1l-3.6,-0.4l1.2,-2.9l0.9,-1.9l-2.3,-0.9l-1.8,-0.9l-1.7,0.8l-2.6,0.4l-0.6,-0.9l-1.9,-2.1l-1.9,-0.5l-2.2,0.3l-0.4,1.7l-2,2.8l-1.6,0.7l-0.3,2.7l-1.6,-0.7l-3.2,1l-1.4,-0.7l-1.1,-3.2l-2.4,0l-1.6,0.1l-1.4,-2.9l-2.6,-0.2l-2.1,0.8l-0.7,1.9l-2.8,-0.5l-2.7,0.4l0.2,2.4l-1.9,1l0.1,1.8l1.2,2.6l-2.4,2.1l-0.5,1.1l1,2.3l0,2.9l-0.2,1.5l-0.6,2.1l2.8,0.9l0.1,1.2l0.9,3.2l1.7,1l2,0.8l1.7,1.4l1.1,2l2.4,0.4l1,-0.8l1.8,-1.7l2.3,0.2l1.6,2.3l2.1,-0.7l2.2,0.1l2,-0.5l1.8,0.7l1.6,0.4l0.5,2.8l2.6,1.2l1.4,1l-1.4,1l-1.2,1.6l0.7,3.1l-1.1,1.8l0.2,2.3l-1.9,0.6l-1.1,2.1l1.2,2.3l-1.9,1.1l-0.7,2.6l3,1.5l-0.6,1.8l-0.5,2.1l2.8,1.3l-2,1.9l1,2.3l2.3,-0.8l1.3,-1.3l-0.1,-3.6l1.7,-0.8l4,1.1l0.7,-2.7l-1.2,-3.2l2,-0.8l2.6,-1.2l1.3,0.3l2,-0.9l-1.6,-2.7l0.8,-2.2l0.5,-1.4l0.3,-2.3l-2.3,-1.4l1.3,-2.5l0.3,-2.2l-3,-0.9l-0.4,-2.2l1.1,-1.2l0.9,-1.9l-0.4,-1.5l-0.4,-2.2l0.5,-1.8l-0.9,-2.2l0.9,-1.3l1.3,-1l0.1,-2.5l0.7,-6.8l1.5,-1.9l1.5,-2.8zM428.3,943.7l-0.8,-1.6l-2.9,-3.1l2.6,-1.6l-0.1,-2.5l-2.1,-0.4l-2.1,-1.7l-1.5,0.5l-2.4,1l-2.9,-1.1l-1.5,-2.6l-2,0.7l-1.2,1.1l-2.8,1l-3,3.7l-0.9,0.6l0.3,1.8l-0.8,1.3l4.2,14.2l18.1,0.3l-2.5,-1.5l-1.5,-1.2l4.2,-2.5l-1.4,-2.2l-1.1,-1.5l0.2,-1.9zM581.4,814.9l0,-1.8l5,0.5l-1.4,-3.3l-0.4,-3.1l4.7,0.8l0,-2.6l-0.9,-1.5l-0.3,-3.6l-2.2,-0.7l-2.1,0.5l-1.7,-1.9l-1.9,0.3l-0.9,-1.3l-1.3,1.3l-3.3,0.4l0,2.3l-2.1,-0.6l-1.4,0.3l-2.1,1.5l-2.5,3.2l-2.4,-3.3l-1.7,-1.4l-2,0.2l-2,1.9l-0.9,0.8l-1.4,1.5l0,0.8l1.4,2.3l2.6,0.5l0.5,2.7l2.2,1l1.6,-1l2,1.6l0.8,2l2.4,0.8l1.5,-1l2.1,-1.2l1.2,-1.4l2.2,0.9l1.9,1.7zM627.9,818.9l-2,-2.9l-0.2,-1.5l0.4,-2.4l-2.3,0.5l-1.8,0.4l-2.4,0.4l-2,0l-1.2,-3.7l-1.7,0.2l-2.2,1.1l-1.9,4.2l-0.1,2.2l0.4,2.7l-0.3,1.8l-0.5,1.5l0.2,2.5l0.5,2l-0.7,2.3l-0.4,2.2l0.8,2.2l0.1,1.9l1.5,0l2.5,0.3l1.6,-0.1l3.1,-1.7l1.9,-0.6l2.1,1.6l1.5,1.1l2.1,-0.6l-1.3,-1.9l2.3,-2.4l-2,-2.3l2.2,-1.9l-0.4,-1.8l1.1,-1.9l-0.9,-1.4l0.5,-1.9zM574.8,841.8l2.5,-1.3l0.9,-2.2l-1.1,-1.7l-1.7,-1.8l-1.9,-1.3l-3.3,0.8l-1.3,-1l-1.9,2.1l-1,0.7l-3.3,-1.1l-0.5,1.6l-3,0.1l-2,0.8l-0.5,1.7l-0.3,-0.1l-2,0.7l-0.1,0l-1.3,1.9l-0.1,1.6l0,0.4l0.5,0.8l-1.2,3l1.6,0.3l2.9,1l1,2.6l-1,2.6l1.2,1.5l0,1.5l2.2,-0.2l2.6,0l1.9,-1.6l2,2l1.8,-1.5l1.8,-0.3l2.5,1.8l2.1,-0.4l2,0.2l0.3,-0.4l-1.4,-2.8l-0.1,-1.9l-0.5,-1.3l-0.5,-2.6l0.5,-1.4l-0.4,-1.9zM480.8,920.4l-1.6,-0.2l-3.1,1.1l-1.6,-0.9l-1.1,-1.3l-2.3,0.1l-1.6,1.6l-1.9,1.1l-1.4,1.2l-0.8,5.5l-0.6,2.2l1.7,1.5l2.8,1.1l1.2,0.5l0.1,2.5l0.2,0.3l1.4,1.7l0.2,0.6l1.8,1.5l2.3,0.5l2.1,-2.1l2.2,0.7l1.2,2.4l3.1,-0.7l1.2,-0.1l2.3,1.4l1,0l1.1,-1.7l-1.7,-3l2.4,-1.1l3.8,0.1l-2,-2.7l-1.4,-3.3l3.6,-0.6l0.9,-1.1l-0.3,-2.9l1.5,-1.1l-0.4,-2.6l-1.6,0.3l-2,0.1l-2.6,0.1l2,-0.1l-0.8,-1.6l-2,-1.4l-2.2,1.8l-2.4,2.3l-1.4,-1.2l-1.6,0.4zM536.1,956.3l-1.1,-1.4l3.1,-1.4l-0.6,-2.9l0,-1.8l-1.2,-2.3l2.9,-1.8l-0.8,-2.3l-2.8,-1.2l-1.6,-1.9l1.2,-3.3l-0.6,-1.5l-1.9,0.5l-2,-1.3l-3.3,0.3l-1.3,2.2l-2.3,1l-2,-0.5l-0.6,0.6l-1.6,1.2l-1.5,1.1l-1.2,1l-2.3,0l-2.9,0.6l-1.5,2l0.3,1.5l-1.5,1.4l-0.7,1.8l-0.2,2.5l-0.4,1.2l0,2.5l0.1,2l0,0.4l28.2,0.4zM574.3,946.6l2.8,1.2l-1.3,1.7l3.5,1.8l-1.6,2.3l-3.8,2.7l3.4,1.3l12.7,0.1l12.1,0.2l0,-0.3l-0.1,-1.6l-0.5,-2.1l-0.6,-1.3l-2.7,-0.4l-1.7,-0.8l-1.1,-1.8l-0.7,-2.5l-0.9,-2.4l-0.5,-1.4l-1.3,-1.5l-1.6,-1.9l-2.2,0.7l-1.9,0.8l-2.4,0.6l-1,-0.3l-2,0l-2.5,-0.2l-1.4,0.3l-0.8,0.7l-0.1,1.4zM834.1,778.4l-4.4,0.2l-0.7,-1.2l-0.1,-2.4l-0.6,-3.8l-3.3,2.7l-1.4,-2.6l-2.5,0.4l-1,-2.8l-2,1.6l-0.5,2.1l1.4,2l-1.3,2.1l-3,0.6l-1.1,2.2l1,3l-0.1,1.1l-2.1,2.1l-2.1,2l0.9,2.1l0.2,2.1l0.6,0.7l0.4,1l2.3,0.9l0,2l1.3,2l3.1,1l0.4,1.7l2.1,2.1l1.4,0.9l1.7,-0.3l2.5,-1.8l1.4,-2.2l-0.5,-1.9l1,-1.1l0.9,-2.3l0.5,-1.7l0.2,-2.4l-0.3,-1.9l3.7,-1.7l0.3,-0.9l1,-2.5l-1.3,-1.9l-0.4,-0.8zM751.7,938.8l-0.4,1.3l-0.4,2.6l-2.4,0.9l0.5,2.3l-0.2,2.1l0.1,0.6l1.4,0.8l1.8,-0.3l2.7,-1.4l2.1,1.1l1.4,-0.2l4.3,-4.3l0.4,-2.6l0.6,-1.4l-0.3,-2.2l-2.2,-2l-1.7,0.6l-2.2,-0.8l-3.1,-0.7l-1.6,0.2l-0.7,0.9zM841.4,929.9l-3.1,1.6l-2.5,-1.7l0.5,-2.5l-2.2,-1.1l-1.3,0.7l-4.8,12.6l1.8,1.4l1,1.4l1.8,2.2l-0.1,2.4l0.8,1.7l0.7,2.2l-0.5,1.9l-1.6,1.8l0.8,2.3l0.2,0.5l7.1,-0.2l28.6,-0.5l0,-0.2l-0.9,-1.4l-1.4,-2.4l-0.6,-2.5l0.1,-2.3l0.1,-1.6l-3.1,1.6l-1.5,-1.6l0.4,-4.4l-0.2,-2.1l-0.4,-0.2l-1.3,0.3l-1.9,2.5l-1.9,1.1l-1.5,1.8l-0.7,0.5l-3.2,-1.8l-1.4,1.7l-0.3,-1.8l-2,-0.6l-1.8,-7.9l-0.1,-0.1l-2.9,-0.1l0,-2.4zM875.9,818.3l-1.2,1.7l-1,1.3l-1.1,2.7l-0.9,1.8l-2,1.4l0.4,1.6l0.2,2.4l-0.1,0.9l-0.5,2.1l0.2,0.7l7,1.3l5.6,3.5l1.8,1.2l0,2.1l1,1.2l2.7,0.7l1.3,0.2l1.2,-3.2l1.6,-0.9l3.5,1.7l1.9,-0.2l1.3,-0.7l2.4,-0.1l1.3,-2.4l0.7,-1.9l-0.6,-2.1l1,-1.3l-0.7,-1l-1.5,-1.9l-1.3,-0.6l-1.1,-1.8l-1.8,-0.5l-3,-0.3l-2,-0.7l-1.4,-1.2l-2.7,-1.1l-2.1,-0.6l0.6,-2.4l-1.4,-1.7l-2.1,-0.7l-1.9,-1.3l-0.6,-1.9l-2.2,2zM911.3,879.6l-1.7,1.6l-2,0.9l-1.9,-1.4l-1.5,1.7l-2.3,0.3l-2.7,-1l-0.5,2.2l-2.7,-0.2l-1.3,0.1l-2,1.3l-0.3,0l-2.6,0.3l-1.4,0.9l-1.5,1l-2.1,1.1l0.5,2.5l-1.4,1.7l0.1,2l1.4,2l0.3,1.1l-0.7,2.8l-0.2,1.6l1.3,1.9l1.9,1.3l-0.3,2.2l2.1,1.3l1.3,2.1l2,1.2l1,4.6l2,1.1l2.1,-1.1l2.4,0.8l0.1,2.6l0.7,0l-0.1,-2.7l1.7,-2.2l3.6,-3.1l3.6,-3.6l1.6,-0.8l2,1.6l1,2.9l3.4,-0.9l3.7,0l3.6,-1l4.6,-0.9l3.7,-2.3l3.7,-3.2l2.5,-2.9l-1.5,-2.9l0,-3.4l2.3,-3.7l0.2,-1.3l-0.2,-0.1l-2.4,1.2l-1.5,1.2l-1.7,0.2l-2.6,-1.5l-1.5,0.5l-1.8,0.4l-2.6,1.5l-1.6,0.3l-2.2,-2.2l-1.7,0.8l-1.8,-0.2l-2.4,-0.9l-1.1,-0.8l0.9,-3.8l-0.2,-1.8l-2.9,0.2l-1.6,-1l0.6,-2.6z"/>
<path fill="#b7e3e7" d="M170.7,775.4l-0.4,1.7l-2.2,2.2l-2.6,-1.3l-1,2.3l-0.6,2.2l-2.6,-0.3l-1.7,1.7l-0.4,2.7l-1.6,0.1l-1.7,1.6l-0.9,0.4l0.2,0.2l2.6,3l-0.2,0.5l0.7,2l0.8,1.4l-0.6,2.5l1.9,1.5l2.5,0.6l11,4l3.7,3.5l17.6,-5.9l1.3,-2.5l2.1,-0.2l-0.6,-2.9l1.8,-2.2l0.6,-1.8l-12.9,-11.8l-0.2,-0.2l-2.1,-1.3l-2.4,1.4l-1,-1.4l-1.7,-2.6l-1.8,-0.1l-1.4,-1l-1.8,-0.7l-1.5,0.4zM461.9,726.5l-0.3,-1.8l-2.8,-0.5l-1.2,-2l-1.5,0.3l-2.5,0.8l-1.8,-1.2l-2.7,0.8l0.4,2.3l-2.1,1.4l-0.7,1.6l2.8,14.4l7.9,0l1.2,1l2.4,1.7l2,-1.3l2.3,1.3l-0.4,3.8l2.7,0.1l2.5,-1.3l0.4,0.4l2.2,0.3l1.2,-4.6l1.6,0.9l2.4,0.4l2.6,1.5l2.3,1l1.6,-2.2l1.5,-0.4l3,-8.2l0.1,-2l-2.7,-0.8l-1.3,-2.6l-0.1,-1.6l-1.2,-1.5l-1.9,-2l-1.4,-1.5l-1.6,1.3l-1.1,0.9l-1.6,0.6l-1.5,1.9l-1.7,0.6l-2.1,0.1l-1.4,-1.6l-2.5,0.2l-1.7,0.7l-1.3,-2.1zM525.6,699.9l-1.7,2.1l-1.9,1.2l-2.1,0.7l-2.5,-1.2l-1.5,1.5l-0.8,2.9l-1,0.5l-2.6,0.8l-1.5,0l-2.5,1.3l-0.6,1.2l-3.3,-0.6l-1.4,0.9l-2,1.3l-1.6,-0.3l0.9,1.7l1.1,2.1l2,1.9l2.2,-0.6l2.3,-0.8l0.5,4.3l2.9,1.1l1.6,-1.1l1,3l2.3,0.4l3.4,-1.6l1.1,0.5l1.9,1.8l0.2,0l1.5,-0.7l0.4,-2.6l2.1,-1.7l0.7,-1.7l2.2,-0.7l1.7,-2l0.8,-1.7l-2.2,-0.9l2.3,-3.3l-0.8,-1.8l-1.2,-1.7l-1.1,-0.7l-0.8,-2.8l0.6,-1.6l-1.2,-1.4zM854.7,715.7l3.3,0.7l0.8,1.6l1,2.8l2.6,-1.3l2.9,-3.8l1.4,3.6l0.6,-0.4l2.2,-1.1l0.6,-1.9l0.6,-3l0.9,-0.5l2.8,-1.8l0.3,-2.3l1.2,-1.2l-1.4,-8.7l-1.1,-1.2l-1.5,-0.9l-12.9,1.8l-1.3,1l-1.8,1.8l-1.5,-0.1l-1.8,1.4l0,1.7l1.6,1.6l-1.6,2.7l-0.9,2.3l0.7,2.3l1.1,1.9zM914.6,703.5l-0.2,-2.2l-0.2,-1.3l0.5,-2.5l-4,-1.8l2.9,-2.4l-3,1.2l-0.3,-5.2l-2,2.3l-2.2,0.2l-2.6,0.1l-2.5,-1.3l-0.9,-3.1l-2.1,0.6l-1.6,1.8l-0.7,1.2l-0.3,1.6l-1,1.7l1.4,1.3l-1.2,2.9l2.4,0.9l1.5,1.6l0.8,2.7l0.6,1.5l1.5,1.9l-0.6,1.7l0.4,2.7l2,0.8l2.3,-1.3l1.5,-0.8l1.2,-1l2.7,-0.5l2.7,-3.3zM938.1,733.7l-2.1,1.4l-1.1,0.7l-2.2,0.2l-1.4,-0.5l-2.6,-1.1l-1.5,1.6l-0.6,2.5l11.2,14.1l2.2,-1.2l0.9,-1.5l1,-2.1l2.5,-0.1l1.5,-0.5l0.9,-2.1l-2.6,-0.8l-1.2,-1.9l1.7,-2.8l1.6,-2.9l-1.7,-0.8l-2.9,-1.4l0.2,-1.6l-1.2,-0.5l-1.9,0.7zM317.4,796.9l-0.6,-1.9l0.2,-3l-1.3,-1.3l-1.5,-1.4l-2,-0.2l-2,-0.7l-0.7,-1.9l-1.2,-1.1l-1.3,1.8l-2.9,-0.3l-1.8,1.5l0,19l-0.4,2l-0.2,2.1l-1.6,0.5l-1.4,1.8l1.3,1.8l1.3,1l1.9,1.6l-0.2,2l-0.5,2.1l0.1,1.8l2.2,0.5l0.3,2.5l1.9,1.5l0.7,1.9l2.2,-0.4l1.7,-1.8l1.1,-0.2l2.9,-0.2l1.5,-1.8l1.2,-1.5l2.2,0l1.4,-2.1l2.1,-0.8l-0.9,-1.6l1.7,-2.5l-0.1,-1.3l-0.1,-2.5l0.2,-2l-2.1,-2.3l0.8,-1.9l0.3,-1.5l0.3,-1.9l-1.4,-1.8l-2.2,-2.2l-1,-2.5zM356.6,770.3l0.8,1.3l2.7,1.4l0.8,1.5l-0.2,2.1l0.5,7l-0.8,1.8l-0.6,2.6l0.7,1.3l0.2,2.4l1.9,1.7l1.8,1.2l2,-1l2.1,0.6l2.1,0l1.3,-0.9l1.6,-2.3l2.8,0.3l2.1,2.1l1.8,-1.8l1.8,-1.1l2.6,-0.2l1.3,-1.3l-1.4,-2l-0.3,-2l-0.2,-2.5l-0.8,-2.4l-1.6,-0.6l0.2,-2.8l-1,-2.1l0.3,-1.3l0.9,-2l1,-1.7l1.6,-1.7l-1.2,-2.2l-0.5,-0.2l-2.2,-1.2l-1.7,-1.1l-1.6,-0.4l-2.6,-0.3l-0.6,-2.5l-1.8,-0.2l-2.9,0.3l-1.4,-1.5l-0.6,-1.4l-1.2,-3l-2.1,0.5l-2,-1.3l-1.8,1.2l-1.2,2.1l0.8,2.8l-0.6,2l-2.6,0l-0.6,4.6l1.3,1.1zM480.5,849.9l0.6,2.1l2.1,1.3l-1.4,2.1l-0.7,3.1l1.6,1.2l-0.6,1.5l-7.7,7.8l2.7,1.9l-1.9,2.1l1.3,1.9l2.2,1.2l1.1,0.8l3.4,-1.1l0.8,1.6l1.9,1l2.2,0.2l-0.8,3.2l1.6,2.1l1.3,0.8l5.2,-0.7l-0.9,2.3l0.8,2.6l2.5,-0.7l1,-1.9l0.3,-2.1l0.9,-1.4l0.8,-2.1l1.2,-1.4l3,0.1l1.7,-0.4l0.2,-2.8l-0.3,-3l-2,-0.2l-3,0.1l-1.6,-1.9l0.7,-3.1l-1.5,-1.7l-1.9,-1.5l1.6,-2.1l1.8,-1.7l0.2,-1.9l-1.7,-2.2l2.2,-1.3l0,-3l0.1,-1.9l-0.7,-1.8l-1.8,-1.6l-1.1,-1.9l-0.6,-2.4l-1.8,1.6l-2.1,0.4l-2,-3.1l-1.7,-0.1l-2.2,-0.3l-1.8,1.6l-1.7,-1l-1.3,1.1l-0.4,2.4l0.3,2zM697.4,781.3l-2.2,1.6l-0.6,-3.6l-2.4,-1.4l-1.8,1.3l-2.4,-0.8l-2.2,-1.1l-1.7,0.2l-1.9,-1l-1.1,-1.8l-2.3,-0.6l-2.5,0.7l0.7,2.2l2,3.2l-2.2,0.9l-1.4,1.5l-0.1,2.6l-0.1,2.1l0.9,1.4l1,2l0,1l-2,1.5l1.9,2.6l-2,1l-1.3,2l0.3,2.2l-0.2,1.6l2.5,2.5l-1,1.9l-1.8,1.3l2.7,1.9l-2.4,2.6l1.2,1.7l1.5,0.1l2.1,0.6l2,0l1.9,-1.3l2.3,-0.9l1.7,0.9l2.4,-0.1l1.6,-0.5l2.1,0.9l2.7,-1.3l1.6,0.2l1.9,-0.1l0.9,-2l2,-1.1l0.2,-2.4l2.1,-1l0.5,-2.4l-1.2,-1.8l3,-2.1l-1,-1.8l-1.3,-2.3l0.5,-1.6l0.9,-2l-2.2,-6.1l-0.1,-1.9l-1.5,-0.8l-1,-3.8zM730.5,901.7l-2.3,0.2l-2.5,0.2l-0.8,2.2l-1.7,0.8l-2.7,-1.7l-1.3,0.5l-0.9,2.1l0.7,2l-1.5,2.9l1.4,1.9l0.2,1l0.8,2.5l0.3,0.4l-1.2,2.7l2.3,2.1l1.4,2l-0.4,1.6l0.2,2.2l0.1,0.2l-1.5,1.2l-0.1,1.6l1,2.9l1.1,1.6l-2,1.6l1.1,1.4l-1.1,1.7l1.3,1.7l0.4,1.8l1.7,1.2l0.5,1.3l1.9,1.5l1,1.4l1.4,0.5l2.2,-1.3l0.2,-1.3l1.4,-1.5l2.5,-1.1l0.8,-1.9l0.8,-2.6l-1,-1.5l0.2,-1.9l0.1,-2.4l2.5,-1.7l0.9,-1.9l-2.2,-6.7l0.9,-1.4l0.8,-1.6l-0.8,-1.8l2.2,0l0,-3.7l1.3,-1.5l2.1,-2l1.7,-0.3l3,0.4l0.2,-3.3l-12,-7.1l-0.9,0.6l-2,2l-1.8,-1.4zM906.4,759.3l-1.9,-0.4l-2.3,1.8l-1.8,0.2l-0.6,1.7l1.6,2.5l0,1.7l-1.8,2.1l1,2.1l-1.1,2.1l2,1.3l0,2l2.9,0.2l1.4,0.5l0,2.9l1.8,1.2l1.6,1.5l3.2,0.6l1.8,0.1l1.1,-2.4l2.1,0.2l0.5,-2.7l1,-2l0.9,-1.6l1.8,-0.6l-0.6,-3l1.9,-1.2l1.3,-2.1l-1.3,-2.4l0.5,-1.4l2.9,-1.8l-0.5,-2.1l0,-0.8l-0.7,-0.7l-2,-0.1l-1.6,0.7l-2.5,-0.1l-1.6,-0.4l-1.8,-1.6l-1.6,-0.7l-2.5,0.3l-1.2,1l-1.7,1.8zM939.1,792.3l-1.8,-0.7l-1.6,-0.8l-1.6,-2.2l-1.7,-0.4l-1.5,2.4l-1.6,0.7l0.3,2l-1.4,2.4l1.5,2.4l0.8,1.5l2.6,-0.4l1.8,1.9l2.1,-1l-0.1,-3.3l2.5,-1.3l0.8,-1.4zM997.7,799.2l-0.8,1.2l-3.9,1.5l2.4,2.8l0.3,1.7l-1.5,1.9l-1.5,2l2.2,-0.8l1.5,0.5l1.6,2.4l2.2,0.4l1.9,-0.4l2.2,-0.7l1.4,1.5l1.4,-0.6l1.1,-1.8l1.6,-0.6l-1.2,-2.3l-0.2,-1.4l1.9,-2.9l0.9,-0.9l-1,-2.7l-2,-1.4l1.6,-2.4l-0.8,-1.6l-2.4,-1.9l-2.1,0.9l-1.6,0.4l-1.4,1.8l-0.8,0.7l-2.1,0.6zM1064.9,760.5l-1.3,-1.6l-2.1,-1.8l-2.7,0.6l-1.6,-0.4l-1,-2.3l-2.1,0.9l-1.5,0.6l-3.6,6.4l0.9,1.7l1.7,1.4l1.3,1l1.6,0.7l3.9,8.9l2.5,0.2l0.7,-1.7l0.7,-3.5l1.3,-0.7l2.4,-0.2l1.3,-1.6l1.7,-1.4l-0.2,-2.8l0.3,-1.9l2.1,-1.8l-2.5,-0.5l-1.6,-1.7z"/>
<path fill="#bce6e9" d="M226.9,781.1l-2.8,0l-1.4,-0.4l-2.2,-2.7l-2.2,2.3l-1.5,-1l-1.9,-0.7l-1.8,1.4l0.1,2.3l-1.8,0.5l-2,2.4l0.1,2l-2.8,0.8l-1.3,0.8l-0.1,3l-2.5,0.2l1.1,2.9l1,1l3.3,-0.1l1.6,0.3l0.7,3.4l2.4,1.2l2.2,-0.6l1.1,2.3l1.4,-1.5l3,0.1l0.9,-0.8l1.2,-2.9l0.7,-1.1l1.7,-0.9l3,0.1l1.6,-1.1l-1.3,-1.5l-0.1,-2.3l1.1,-2.5l2.8,-1.9l-1.3,-1.6l-3.4,-2.8l1.4,-1.5zM204.3,705.8l-2.7,0.7l-2.2,-0.3l-3.3,2.1l-0.3,1.8l-1.2,2.7l-2.2,0.9l-2.3,0.3l-0.5,2.1l0,2.3l-1.6,2.1l0,2.2l2.1,0.5l2.4,1l0.3,2.7l0.3,1.7l1.4,-0.8l2,0l2.9,-1.5l1.1,-0.7l3.1,1.5l1.5,0.9l1.2,-2.9l2.2,-0.1l2.5,0.6l2.8,-2l-2.4,-1.9l0.5,-2.5l-0.2,-2.1l1.1,-2.2l-0.8,-2.7l-1.4,-1.2l-2.5,-0.3l-1.8,-1.8l-0.3,-1.7zM233.3,726.3l-1.2,1.8l-0.7,1.3l-0.1,2.4l2.5,-0.3l0.7,3.6l2.2,0.3l2.9,-2.9l2,0.5l1,2.6l2.2,0.8l0.8,1.2l2.4,0l3,-1.6l1.8,0.5l1.3,1.5l4.6,-7.6l-2.4,-13l-2.5,-1l-1.3,0.9l-2.5,-0.8l-2,1l-0.5,2.9l-2.7,-1.8l-3,0.5l-0.3,1.8l-2,0.5l-2.7,0.7l-1.9,1l-1.6,0.8zM384.8,722.6l0.6,-2l-0.8,-1.5l-2.1,-1l0.6,-2.3l-1.6,-1.2l-2.1,0.1l-1.7,1.1l-2.3,1.1l-1.8,-0.3l-2.7,0.7l-1.2,2.1l-1.7,0.6l0.1,2.1l-3.1,-0.6l-2.7,1l0.3,3.5l-2.1,1l-1.4,1.1l-0.1,1.6l0,1.6l1.3,1.4l0,1.9l0.5,2.8l0.8,0.6l2.8,0.7l0.6,2l0.4,2.6l-2.1,1.6l-0.2,1.8l0.8,2.6l-2.1,2.1l0.4,1.9l0,0.1l2,1.3l2.1,-0.5l1.2,3l0.6,1.4l1.4,1.5l2.9,-0.3l1.8,0.2l0.6,2.5l2.6,0.3l1.6,0.4l1.7,1.1l2.2,1.2l0.5,0.2l0,-0.1l1.5,-2.2l1,-0.5l1.8,-1.2l1.9,-2l-0.4,-2.1l2.6,-1.2l1.3,-1.2l-1,-8.8l0.1,-0.2l-1.2,-1.5l1.5,-2.4l-0.2,-2.5l-1.5,-1.4l-0.5,-2.6l-0.7,-1.3l0.6,-2.3l-2.2,-0.5l-1,-1.4l0.2,-2.5l-1.6,-1.1l-1.8,-2zM380.5,714.9l3,6.6l-6,0zM425.9,709.5l-4.7,-0.2l-0.9,1.3l0.7,3.7l-1.1,1l-2.6,1.4l1.5,1.6l1.6,1.7l-0.4,2.2l3,-0.2l0.8,2.1l1.5,1.7l1.3,-1.7l2.4,0.7l1.7,-1l2.1,1.2l1,1.6l2,-1l3,-1.3l2.2,0.5l0.5,2.8l2.4,0.6l2.8,0l0.7,-1.6l2.1,-1.4l-0.4,-2.3l-1.7,-1.4l0.1,-1.8l0.3,-2.7l-1,-1.5l-0.4,-1.7l-1.3,-1.5l-0.5,-2.2l-2,-1.2l-6.3,0.9l-10.5,-2.6zM453.3,765.8l2.3,0.8l1.7,-1.2l1.9,-1l2.3,-0.2l2.2,-1.7l6.8,-7.6l0.3,-1.9l-1.2,-2.9l0.9,-1.8l-0.4,-0.4l-2.5,1.3l-2.7,-0.1l0.4,-3.8l-2.3,-1.3l-2,1.3l-2.4,-1.7l-1.2,-1l-7.9,0l-0.3,0.4l-0.1,2.5l-0.5,0.8l-0.8,2.8l0.5,1.3l0.9,2.8l-0.2,2l0.4,1.9l0.8,1.7l-1.1,2l0.3,2.2l-0.2,1.5l0.7,0.9l1.5,1.2zM524.3,675.8l0.2,2l-0.1,1.7l0.8,1.8l-2.2,2.6l-0.8,1.9l2.1,2.3l1.8,0.7l1.5,2.6l-1.2,1.7l-1.2,2.6l1,2l0.5,1.4l0.3,0.4l0,0.1l1.2,1.4l-0.6,1.6l0.8,2.8l1.1,0.7l1.2,1.7l0.8,1.8l-2.3,3.3l2.2,0.9l2.4,0.6l0.9,1.7l2.2,0.6l1.7,0.2l1.3,-1.2l-0.2,-2.6l1.2,-1.5l2.5,-0.4l2.3,-0.2l1.4,-2.6l-0.2,-2.6l0.9,-1.7l2.8,-0.5l2.8,1.3l2.2,-2l-0.9,-3.1l1.9,-0.9l-1.1,-2.1l1.8,-1.6l0.5,-1.7l0.9,-1.8l0.6,-1.5l1,-2.3l-0.5,-1.5l-0.5,-2.9l-2.6,-0.5l1.4,-3.4l-2.9,-0.3l1.5,-2.5l-1.7,-1.8l-1.8,-0.9l-15.6,0.2l-14.8,0.1zM650.8,699.6l-0.8,-0.8l-2.1,-0.4l-2.7,-1.4l-1.4,2.2l-0.2,3.1l-2.9,0.3l-1.7,-2l-1.7,1.6l-6,13.2l1.5,1.9l0,1.2l0.5,2.6l0,5.9l19,1.9l2.4,-0.7l-0.4,-4l2.5,0.2l-0.6,-2.1l-0.9,-2.2l-0.4,-1.5l-1.4,-1.3l-1.6,-1.8l-0.4,-1.7l0,-13zM835.3,742.5l-1,-2.4l-1.7,-2l3.5,-1.4l1.5,-1.9l-0.4,-2l-0.7,-2.2l-3.1,-2.1l1.4,-1.5l-2.1,-0.8l-1.4,-0.4l-1.6,-0.2l-1.3,-1.7l-1.5,-1.4l-2.1,-0.5l-3.3,1l-2.2,0.5l1,3.2l-1.3,0.9l-0.2,1.9l-1.4,2.4l-1,0.8l-0.4,2.4l-1.7,1.3l-1.5,0.5l-1.8,2.1l-0.8,1.9l-0.1,2.4l-0.3,0.5l0.9,2.2l-1,1.8l0.7,2.7l0.4,1.1l1.7,2.3l0.7,2.6l-1.4,1.6l-0.3,2.2l5.5,6.1l1.9,0.6l1.1,-1.5l2.2,-0.5l1.4,-1.9l0.2,-2.9l1.9,-1l1,-1.8l2.5,-0.3l1,-1.6l-0.6,-2.3l1.8,-1.4l0.3,-0.2l1.1,-1l0.5,-2.8l1.5,-1.4l3,-1.9zM1026.3,693l1.7,-1.3l2.2,-1.1l0.5,-2.9l0.6,-1.7l-1.1,-2.3l-0.9,-2l0.8,-1.2l-0.6,-2.5l-1.3,-1.3l-0.1,0l-9.9,0.1l-7.4,0.1l0,1l-2.2,0.6l-0.9,2.4l1.6,2.1l-0.4,2.4l-0.2,1.7l-0.7,0.4l-1.7,1l-2.2,-0.1l-1.8,-0.2l-2.8,0.2l-1.9,-0.6l-2,1.2l-1.2,1.7l-2.3,-1.2l-1.9,0.6l-1.6,1.6l-0.8,0.8l-2.2,0.6l2.4,0.3l-0.9,3.4l1.4,1.5l1.8,2.1l1.9,1.9l1.7,1.4l2.7,-0.1l0.7,1.7l4.3,7.4l0.4,2.3l1.8,0.9l2.4,0l1.5,-0.4l2.1,1.4l1.9,1l1.8,0.6l2,-1.1l1.9,0.6l0.9,-2.2l-0.7,-2.4l0.7,-0.9l1.2,-1.6l0.7,-1.9l0.2,-2.4l1.7,-2.2l1.6,-0.9l0.4,-1.5l0.7,-2.4l-0.2,-0.2l1.8,-1.1l-0.1,-2.5zM322.8,761.8l-0.7,-1.4l-1.8,-1.8l-2.5,1.3l-1.3,-3.1l-2.1,-0.3l-2.7,0l-0.9,1.2l-1.4,3.9l-1.1,1.5l-3.4,-0.9l-1.2,1.2l1.3,1.5l-0.2,2.1l-0.7,2.8l2,2.3l1.7,0.6l0.5,2.3l-0.5,2l1.2,2.3l0,1.7l-0.2,2.2l-0.5,2.2l1.2,1.1l0.7,1.9l2,0.7l2,0.2l1.5,1.4l1.3,1.3l-0.2,3l0.6,1.9l2.1,0.8l1,2.5l2.2,2.2l1.1,-2l2.9,3.6l2.1,0l0.6,-4.2l1.6,-2.6l3.1,1.4l2.5,1.1l0.7,-2.1l-0.4,-2.6l1.3,-1.7l1.5,-0.5l1.3,-2.7l0.5,-1.2l0,-2.2l-0.7,-1.1l1.1,-2.2l-2.8,-1.5l-0.2,-2.5l2.2,-1.6l2.4,-1.7l-1.7,-1.8l-2.3,-1.2l-0.5,-2.3l0.9,-2.1l-3.3,0.4l-1.2,-2.8l-0.1,-1.8l-2.5,-0.7l-2.4,1l-1.8,0.2l-2.7,-0.5l-0.5,-2zM394.1,793.7l-1.4,-0.4l-1.9,-0.9l-2,-1.4l-1.2,-1.2l-1.7,-0.8l-1.3,1.3l-2.6,0.2l-1.8,1.1l-1.8,1.8l-2.1,-2.1l-2.8,-0.3l-1.6,2.3l-1.3,0.9l-2.1,0l-2.1,-0.6l-2,1l-1.8,-1.2l1.3,1.9l-4.1,1.7l-1.2,1.3l1,1.8l0,2.3l-1.8,0.6l0.1,2.3l-2.1,1.3l-0.5,2.1l2.5,0.9l0,2.3l-0.6,2.6l0.3,1.8l2.3,1.4l2,1.6l-0.3,2.3l2.6,0.2l1.2,-1.9l1.4,-1.7l2.5,0.1l2.2,1.4l-0.1,-2.1l0.7,-2l1.3,-2.3l2.1,-1.2l-0.1,-2l2.9,-0.2l1.6,-1.4l1.7,-0.7l2.4,0l1.5,1.2l2.6,-1.2l9,-11.7l-2.4,-0.5zM363.6,850.9l-1,-3.4l-2.4,2.9l-1.9,-1.2l-0.1,0l-1.2,8.3l-1.7,2.8l0,16.7l0.2,0.1l17.4,-7.7l1.9,-0.1l1.6,-1.2l2.4,-0.5l0.6,-1.8l0.5,-1.5l2.3,-1.7l0.5,-1.7l-1.1,-3.3l-0.8,-1.8l2.1,-2.1l2.7,-1l0.1,-2.1l0.7,-2.1l-0.9,-0.8l-1.4,1.1l-1.9,1.2l-2.9,-1.1l-1.8,0.7l-2,1.2l-0.8,1l-3.2,-0.4l-1.7,-0.5l-1.9,1.2l-2.3,2.7zM332.3,906.2l0.8,-2.8l-0.7,-1.6l0.8,-1.6l-1.2,-1.5l0.7,-2.7l-0.7,-1.7l-0.9,-0.8l-1.5,2.9l-2.3,-0.6l-3.2,-0.9l-2.1,-1.5l-1.5,2.2l-1.8,-0.9l-1.3,0.6l-2.2,-0.7l-1.6,-0.9l-2.2,1.2l-1.8,18.8l0.6,0.2l8.6,6.9l1.2,1.7l-0.9,2.2l0.2,2.1l2.2,0.6l1,2.2l1.9,-0.4l2,1.5l1.4,0.9l1.7,0.4l1.9,-0.1l0.8,-2l1.4,-1.8l2.6,1.2l0.3,-1.8l0.1,-2.9l0.6,-1.4l3.1,-1.2l0.8,-1.1l-0.9,-3.2l1.1,-1.6l-0.4,-2.4l-1.1,-1.6l-2.9,-1.5l-1.6,-1.1l-0.3,-0.2l-0.7,-1.3zM555.9,761.5l-1.7,-1.9l-1.7,1.5l-0.2,1.9l0.5,3l-0.9,1.8l-0.1,1.1l-0.4,2.2l-3,1.7l0.6,2.4l1.7,1l1.1,0.6l0.7,-3.5l3,1.7l2.8,1l1,-1.6l0.6,-3.1l1.8,-0.4l-3.2,-9.6zM499.8,802.2l-0.3,-2.1l-3.1,-0.3l1,-3.5l-0.6,-2.4l-2.2,-0.4l-1,-0.9l-1.2,1.9l-1.9,0.8l-2.5,0.9l-1,0.4l-1,2.7l-1.2,2.2l-1.1,0.5l-2.1,1l1.1,1l1.4,2l-1.3,2.7l1.4,1.3l0.5,2.1l-0.2,1.2l-0.5,2.7l-0.6,1.3l0,0.3l2.5,-1.3l1.7,1.6l1.4,0.3l2.2,1.3l1.2,-0.6l2,-1.9l2,2l1.6,-1.3l1.6,-0.4l1.8,-1.6l-0.1,-2.1l-1.2,-7.6l0.4,-2.4zM543.8,881l-1.1,2.8l-2.3,-1.3l-3.3,-0.3l0.3,3.6l0.2,4.2l-3.2,-1.4l-0.6,1.9l-1.9,2l1.2,3l4.1,1.6l-0.5,1.4l-1.2,2.9l-0.7,2.8l0,2.3l2.6,1.5l1.9,0l0.5,3.1l0.2,1.2l2.4,0.7l15.2,0l0.6,-1.4l-0.3,-2.6l0.6,-2.2l1.6,-1.4l0.5,-1.5l0.6,-2.7l-1.2,-1.6l-4.2,-0.9l-3.2,1l-0.2,-2.7l-0.1,-2.7l-2.9,0.1l-3.9,-11.7zM717.4,868l1.2,2.4l0.3,1.8l1.5,0.7l2.9,0.6l1.9,1l0.8,2.3l0.4,2l1,0.7l2,-0.2l1.3,1.4l1.9,0.7l0.7,1l-1.5,2.6l2.6,2.3l0,1.7l-1.1,2.2l-0.2,1.7l1.9,1.9l1.3,1.8l0.8,1.4l0,2.8l12,7.1l1.7,0.1l0.8,-1.1l1.3,-2.1l2.7,1.3l1.4,0.1l2,-0.5l1.6,-4.8l0,-5.8l-2.2,-1.1l2.1,-3l-0.6,-2.5l-2.9,-1.2l1.1,-2.1l-0.3,-2.3l-2.1,-1l1.1,-3.3l-0.5,-3l-1.7,-0.3l-3.9,2.3l-1.2,-1.6l-1,-1.3l-1.6,-2l-1.7,-1.6l2.8,-3.1l-4.1,0l-1.4,-1.7l1.2,-2.9l-2,-1.1l-2.2,2.1l-2.4,-0.6l-14.9,-3.3l-7,7.1zM924.8,804.4l-0.9,-1.6l0.5,-2.6l-1.3,-1.6l-2,0.7l-1.9,-0.2l-1.8,-0.5l-1.8,1.4l1.8,2.1l2.3,2.8l-1.4,1l-1.3,2.2l0.4,1.9l0.8,1.5l-0.5,2.6l0.5,2l18.5,0l1.3,-4.8l-0.8,-1l-2.3,-0.4l-1,-2.3l-3.7,2l-0.6,-1.2l-2.3,-1.4l-0.7,-1.3zM974.3,824.4l-1.7,-1.1l-1.5,-1.9l-2.8,-0.2l-1.9,-1.6l0.1,-3.6l-2.8,1.3l-1.8,-1l-1.5,1.5l-1.8,0.6l0.6,2l-2.4,1l-1.5,0.9l0.3,1.8l-0.3,1.9l-2.6,1l-0.5,2.5l-2.4,1.1l0.6,2.2l-2,0.9l0.2,2l-0.3,1.8l-0.5,2l-0.7,1.3l-1.8,2l-1.4,8l-0.9,2.8l1.1,1.7l1.6,0.9l2.4,-0.1l0.7,-2.3l3.3,-0.2l1.5,0.4l2.2,0.6l1.9,-1.5l0.9,-1.2l1.9,-2l0,-2.1l0.9,-2.2l1.2,-1.3l1.3,-1.4l0.2,-1.6l0.5,-1.9l1.1,-2.8l2.6,0.4l1.8,-1.3l0.6,-1.7l1,-1.8l5,-5l-0.6,-2.8z"/>
<path fill="#bae5e8" d="M200.4,792.4l-0.6,1.8l-1.8,2.2l0.6,2.9l-2.1,0.2l-1.3,2.5l0.8,2.2l2.1,1.1l-0.7,2.5l1.9,1.7l3.2,1l0.1,1.8l-0.9,3.4l1,0.7l1.8,1.2l0.8,2.6l2,-0.9l1.6,-1.8l-0.1,-1.8l2.9,-0.6l1.7,0l1.6,-1.9l0.5,-2.1l-0.3,-2.5l1.3,-1.3l-1.7,-3.1l1.4,-1.8l-1.1,-2.3l-2.2,0.6l-2.4,-1.2l-0.7,-3.4l-1.6,-0.3l-3.3,0.1l-1,-1l-1.1,-2.9zM197,692.8l-1.7,1.3l0.2,2.1l2.9,2.2l1.6,1.1l-1.6,3.3l-0.3,0.9l1.3,2.5l2.2,0.3l2.7,-0.7l1.7,1.4l3.2,-0.6l0.9,-1.7l-0.5,-3.2l2.3,-1.2l1.7,-0.1l1.3,-1.9l0.2,-2.3l-0.1,-2.6l3.2,-0.4l0.6,-0.8l-9.3,-0.4l-12.6,0.7zM220,693.6l2.8,1.1l-0.8,2.5l-1,1.7l2.7,1.4l1.2,1.7l-1.5,2.8l0.5,2.7l1.4,1.7l0.8,1.7l2.2,1l2.1,1l-0.5,2.2l-0.8,3l0.7,0.7l3.2,1.3l2.5,1.2l-2.2,2.6l1.6,-0.8l1.9,-1l2.7,-0.7l2,-0.5l0.3,-1.8l3,-0.5l2.7,1.8l0.5,-2.9l2,-1l2.5,0.8l1.3,-0.9l2.5,1l0.5,-2.7l1.6,-1l1.9,-1.4l-2.6,-18.2l-37.9,-1.7zM359.1,728.1l-1.7,-1.6l-1.9,-0.8l-1,-1.1l-1.7,-0.3l-0.5,-3l0.8,-3.6l-1.3,-0.2l-3.1,-0.2l-1.1,-1.5l-1.3,-1.9l-1.2,1.8l-2.6,0.4l-2.4,-0.4l-1,0.6l-1.7,2.6l-2,0.6l-1.4,0.2l-2.1,6.8l-1.1,1.2l-1.7,1.3l-1.1,1.5l-1.3,2l2,2.7l0.6,1.8l-0.8,2l-0.6,1.5l0.1,2.7l1.4,0.8l2.5,1.6l1,1.1l1.7,1.6l1.8,0.7l1.2,-1.6l2.5,0.1l2.4,-1.6l19.7,7.4l-0.4,-1.9l2.1,-2.1l-0.8,-2.6l0.2,-1.8l2.1,-1.6l-0.4,-2.6l-0.6,-2l-2.8,-0.7l-0.8,-0.6l-0.5,-2.8l0,-1.9l-1.3,-1.4l0,-1.6zM469.6,750.1l1.2,2.9l-0.3,1.9l1.7,1.6l2.9,-1l-0.4,3.2l1,2.7l3,0l1.4,0.8l2.6,0.7l1.9,-1.6l1.2,-1.4l1.5,-0.1l2.7,-0.7l2.2,1.1l1.7,-0.8l0.5,-1.3l-0.5,-1.8l-0.6,-2.6l-2.3,-0.7l-1.3,-1.4l-0.5,-1.9l-0.8,-0.9l-0.4,-2.3l-2.1,-1.3l-1.5,0.4l-1.6,2.2l-2.3,-1l-2.6,-1.5l-2.4,-0.4l-1.6,-0.9l-1.2,4.6l-2.2,-0.3zM519.3,757.2l0.4,-1.9l-1.1,-1.3l-1.6,-1.6l-2.6,-0.8l0.1,-1.9l-3,-0.6l-1.4,-2.3l-0.3,-2.6l-2.6,0.4l-0.5,-0.1l-1.5,1l-1.1,1.5l-1,1.9l-1,2.1l-1.3,1.5l0,2.3l-0.9,1.5l-2.6,0.3l2.3,0.6l1.7,1.4l1.9,-1.2l1.8,0.5l2.3,0.7l2,1.5l1.9,0.8l1.1,0.1l2.1,1.3l1.5,0l1.7,-0.2l-0.3,-3.1l2.4,-0.5zM757.6,678.1l0.1,1.6l1.4,2.4l2.6,0.5l0.7,0.8l-0.8,3.4l1.4,1.3l1.1,1.7l0.7,2.7l2.4,0.5l1.1,2l2.4,1l1.8,-1.3l1.7,1.7l1.9,1.2l0.7,1.3l0.9,1.7l2.3,1.5l4.2,2l2.6,-0.1l-0.7,-3.6l0.9,-2.5l1.2,-0.8l3.1,-0.1l0.6,-2.2l-2.4,-1.7l-1,-1l2,-3.6l0,-1.7l-2.3,-1l-0.8,-1.8l-1.9,-1.4l-0.2,-2.3l0.5,-2.6l-24.7,-0.9l-4.3,0.3zM836.5,730.6l0.7,2.2l0.4,2l-1.5,1.9l-3.5,1.4l1.7,2l1,2.4l2.5,2l-3,1.9l9.3,0l1,1.1l1.9,0.1l1.9,-0.3l2.7,0.3l1.3,-1.2l2.1,-0.9l1.9,-1l1.8,2.2l1,2.3l11.2,-9.3l-2,-1.7l-1.4,-1.6l-0.8,-1.4l-2.3,-1.1l-1.7,1.6l-1.5,2.3l-2.1,-1.4l-1.7,-1.4l-1.4,-0.5l-1.2,-2.4l-1.6,-0.1l-2.1,0l-1.3,0l-3,0.4l-0.8,-1.9l-0.6,-1.7l-2,-1.3l-0.8,-1.9l-2.3,-0.5l-1.7,1.4l-2.3,0l-1.5,0.5l-1.4,1.5zM1019.1,732.2l0.9,-1.9l-1.4,-1.6l-1.7,-1.9l1.2,-2.4l0.8,-1.9l-0.9,-1.8l-0.2,-2.2l-0.4,-0.5l-1.9,-0.6l-2,1.1l-1.8,-0.6l-1.9,-1l-2.1,-1.4l-1.5,0.4l-2.4,0l-1.8,-0.9l-1.7,0.2l-0.8,1.6l-0.7,2l-2.7,0.5l-0.7,2.1l-1.2,1.3l-2.7,-1.2l-2.6,0.7l-1.4,1.8l-5.2,5.2l-0.5,1.6l-0.7,0.8l0,1.9l-0.8,1.9l0.4,3.2l0.4,1.7l0.7,2.3l0.7,1.4l2,0.3l1.4,2l1.9,0.5l1.9,1.6l-0.4,2.9l1.4,1l1.6,0.8l1.4,0.7l0.2,-2.5l1.8,-0.8l2.8,-0.5l1.1,-1.5l0.7,-2.2l1.8,1.6l2.6,-0.3l2.3,0l1.5,-2l2,-0.1l1.6,-0.5l1.7,-2.3l1.6,-1.5l1.6,-0.4l1.6,-1.9l0.6,-1.5l-0.3,-0.7l-0.9,-2.4zM926.2,741.3l-1.6,0l-1.4,1.9l-0.5,2.3l1.2,1.4l1.7,1.5l-1.3,3l-0.5,1.7l-1.1,1.8l1.6,2.1l0.8,1.8l0.7,0.7l1,-1.3l1.7,-2.2l3.1,-0.1l2.2,2.6l1.9,-1.6l1.6,-1.7l0.5,-2.6l-11.2,-14.1zM290.1,793.8l-0.1,2.4l-0.9,2.2l0.6,2l-0.6,1.5l0.4,1.4l-0.1,2.6l-1,1.6l-0.4,2.8l0.6,1.6l2.2,-1.6l1.7,1.7l2.5,2.3l1.7,0.9l2,-1.4l1.4,-1.8l1.6,-0.5l0.2,-2.1l0.4,-2l0,-19l-2.1,0.4l-2.4,-1.2l-2.5,1.5l-2.1,-0.8l-1.6,0.8l-1.9,1.7l-1.1,1zM358.2,849.2l-1.3,-0.6l-2.9,-0.6l-1.7,-0.1l-1.9,-1.4l-2.2,-1l-1.4,-1.2l-0.4,2.6l-3.3,-0.9l-1.5,1.6l-0.5,0.9l-1.9,1.3l-1.1,1.3l-0.4,1.5l0.2,2.3l-0.3,2.5l-1.2,1.1l1.8,2.2l1.3,0.5l2.2,1.3l1.3,1.5l-0.1,3l-1.5,2.3l2.9,1.6l1,1.1l-1.5,3.1l2,1.8l0.5,0.7l9,-0.6l0,-16.7l1.7,-2.8zM319.1,931.9l-2.1,-0.4l-1,1.9l-0.8,2.3l-2.4,0.7l-0.4,2.3l-1.4,2.1l-1.7,0.3l-1.8,2.2l-0.9,1.5l2.3,3.1l-1,1.8l-3.3,1.2l0.1,2.4l0.2,0.8l19.8,0.5l0.1,-0.6l0.5,-2.2l0.5,-2.1l-0.1,-2.6l1.6,-1.4l3.4,0.4l-1.2,-3.2l0.5,-2.4l1.4,-2.4l-0.9,-1.5l-3.2,-2.9l2.2,-1.7l-1.7,-0.4l-1.4,-0.9l-2,-1.5l-1.9,0.4l-1.1,1.9zM548.6,758.6l-2.3,0.5l-1.5,0.3l-0.6,2.4l-2.8,-0.6l-0.1,2.3l-0.7,2.3l0.1,1.7l0.2,2.7l-0.8,1.9l2,0.3l2.2,0.5l1.4,1.1l2,1.2l1.3,0l-0.6,-2.4l3,-1.7l0.4,-2.2l0.1,-1.1l0.9,-1.8l-0.5,-3l0.2,-1.9l1.7,-1.5l-0.4,-0.5l-1.9,-0.3l-1.5,-0.9zM513.9,826.7l-1.2,2.3l-1.3,1.2l1.2,2.2l-1.5,1.5l-0.3,2.6l-2.3,-0.9l-1.1,2.5l-2.2,2l-1.3,-0.2l-2.6,-1.1l-1.9,1.1l-2.1,3.2l0.6,2.4l1.1,1.9l1.8,1.6l0.7,1.8l-0.1,1.9l0,3l-2.2,1.3l1.7,2.2l-0.2,1.9l-1.8,1.7l-1.6,2.1l1.9,1.5l1.5,1.7l-0.7,3.1l1.6,1.9l3,-0.1l2,0.2l0.3,3l1.5,-0.6l1.8,0.2l-0.2,-3l3.8,0.3l1,-2.3l-1.7,-2.6l2.4,-1.3l2.3,1l2.4,-0.9l2.1,-0.8l1.2,-4.1l2.3,1.4l1.4,2.1l1.4,1.3l0.8,1.5l0.9,1.4l1.7,0.5l1.4,0.8l2.6,0.6l1.4,-2.3l1.5,2.3l1.9,2.7l2.1,-2.2l1.9,0.7l0.7,-0.8l0.5,-2.3l-0.4,-1.7l-2.1,-1.5l-1.4,-1.6l1.4,-3l0.5,-1.9l-3,-1.6l1.3,-0.8l1.8,-1.5l2.1,-0.8l-0.7,-2.7l0.7,-1.7l2.7,-1.2l0.8,-0.9l0,-2.3l1.9,-1.9l1.3,-1l0,-0.4l-2.2,-0.8l-1.6,-0.5l-2.6,-2l-1.8,0.6l-1.1,3.5l-2.2,0.2l-2,-0.8l-2.3,-2.2l-2,0.4l-1.6,1.6l-0.2,0l-0.4,-1.7l-1.4,-1.9l-0.7,-1.4l-2.1,-1l-1.2,-1.1l-0.1,-2l-2,-2.4l1.2,-2.5l-1.5,-1.5l-0.8,-2l-0.2,-2.2l-2.2,-1.3l-2,0.7l-2.4,-0.4l-0.9,-2.3l0,1.6l-2.1,0.5l-0.7,2.1zM675.3,785.2l0.1,-2.6l-2.3,0.3l-1.7,-1.1l-1.7,-1.4l-2.8,0.9l-2.4,1.4l-2.1,-1.8l-1.3,-1.5l-2,1.5l-2.9,0.9l-1.7,-2.3l-1.9,0.2l-1.2,1.9l-0.4,1.7l1.5,2.4l-1.6,1.1l0.2,2.2l2.1,1.4l0.4,2.8l0.1,1l1.7,2.2l2.2,0.1l1.2,2.2l1.4,1.1l-1,2.4l1.5,1.6l2.5,1.3l0.2,2.2l-1.4,2.4l1.3,1.1l0.6,2.2l2.2,2.3l2.1,-0.1l1,2.4l1.5,-2.2l2.7,0.8l1.6,-1.7l-1.2,-1.7l2.4,-2.6l-2.7,-1.9l1.8,-1.3l1,-1.9l-2.5,-2.5l0.2,-1.6l-0.3,-2.2l1.3,-2l2,-1l-1.9,-2.6l2,-1.5l0,-1l-1,-2l-0.9,-1.4zM885.9,771.1l-3.3,1l-0.5,-3.4l0.1,-3.3l-1.7,-0.1l-3.1,-0.4l-1.9,-1.6l-1.4,-0.6l-1.4,0.8l1.3,1.7l-2.3,2.5l0.1,1.6l2.4,1.8l-0.8,1.7l-0.7,2.4l-2.1,1.8l-1.7,1.7l1.1,2.7l-1.1,1.3l-1.7,1.4l-2.3,-0.8l-2.5,1.6l-1.4,0.7l-1.2,2.2l-2.2,0.6l-2.3,0.3l-1.5,1.4l-0.3,2.3l-0.7,1.8l0.8,1.7l-0.6,2.6l-1,1.9l2.1,2.2l1.1,1.9l-0.6,2l2.7,0.4l1.6,-1.4l3.1,-0.1l1.7,2l2.3,-2.6l2.1,0.8l1.2,-1.9l1.3,-0.2l1.9,-1.8l0.6,-1l1.1,-1.6l1.8,-1.5l2,1.2l2.1,-1.1l1.5,-2.1l2.3,0.2l1.6,0.9l0.7,-1.4l1.4,-1.8l0,-1.4l0.9,-0.9l0.1,-0.5l0.4,-1.7l-0.5,-2.1l-0.7,-1.4l0.8,-2.4l0.5,-2.2l0.8,-1.8zM969,794.8l0.2,1.5l-1.4,2.4l0.3,2.9l-2,1.4l1.8,2.7l-1.8,2.5l-1,1.9l-0.6,1.2l-2.3,1.3l0,2.3l-0.3,1.4l1.8,1l2.8,-1.3l-0.1,3.6l1.9,1.6l2.8,0.2l1.5,1.9l1.7,1.1l1.8,0l0.5,-1.7l0.9,-1.9l0.2,-2.3l0.4,-2l1.7,-1.4l1.8,-1.3l0.3,-1.3l2.1,-1l0.8,-1.5l0.7,-0.3l0.8,-3l-1.2,-1.5l-1.3,-1.3l-1.1,-2.6l-1.4,-1.2l0.7,-2l0.2,-1.9l-1.4,-2.4l-0.3,-1.8l0,-2.3l-1.4,-1.2l-1.6,0.7l-1.2,1.2l-1.5,0.7l-1.6,0.9l-2.2,1.6zM971.7,832.2l-1,1.8l-0.6,1.7l-1.8,1.3l-2.6,-0.4l-1.1,2.8l-0.5,1.9l-0.2,1.6l-1.3,1.4l-1.2,1.3l-0.9,2.2l0,2.1l-1.9,2l-0.9,1.2l-1.9,1.5l-2.2,-0.6l-1.5,-0.4l-3.3,0.2l-0.7,2.3l-2.4,0.1l0.5,2.7l-2.5,1.3l-0.3,1.2l0.1,2.4l1,2l1.2,1.6l0.4,2.3l0.9,1.2l1.7,0.9l3.1,-3.1l0.7,0.9l-0.4,0.4l1.1,0.9l0.2,-0.2l0.3,0.4l0.8,-1.5l0.8,-0.7l2.7,-3.9l-0.2,-0.2l0.6,-0.9l4.5,-1.3l4.6,-2.3l4.5,-3.6l4.4,-1.4l6.4,-0.9l0.5,0l0,-2.2l5.1,-13.8l-2.1,-1.2l-0.5,-2l0.4,-2l-2.1,-1.2l-1.8,-1.3l-1.5,-0.8l-1.3,-1.5l-1.6,-0.2l-1.2,-1z"/>
<path fill="#bde7ea" d="M228.1,795.4l-3,-0.1l-1.7,0.9l-0.7,1.1l-1.2,2.9l-0.9,0.8l-3,-0.1l-1.4,1.5l-1.4,1.8l1.7,3.1l-1.3,1.3l0.3,2.5l1.8,-0.6l2.3,2.9l1.8,-0.3l2.1,-0.2l1.5,1.6l1.8,-0.5l2.2,1.8l2,1.5l1.9,-0.4l3.9,-15.5l-1.6,-1.2l-2.5,-0.6l-0.8,-1.8l0,-2.1l-2.2,-1.4zM166,758.1l1,-0.2l2.3,0.3l2.2,0.4l-0.2,-1.9l2.8,-1.3l0.7,-2.1l0.4,-1.8l0.4,-2.7l-0.3,-2.5l3.4,-0.9l0.8,-1.4l2.9,0.6l1.9,-1l1.6,-2.5l1.7,-0.3l1.9,1.4l2.2,-1.7l0.1,-1.9l0.6,-1.8l0.1,-2.2l-1.2,-2.2l-0.2,-2.2l2,-1.6l-0.3,-1.7l-0.3,-2.7l-2.4,-1l-2.1,-0.5l0,-2.2l1.6,-2.1l0,-2.3l0.5,-2.1l2.3,-0.3l2.2,-0.9l1.2,-2.7l0.3,-1.8l3.3,-2.1l-1.3,-2.5l0.3,-0.9l1.6,-3.3l-1.6,-1.1l-2.9,-2.2l-0.2,-2.1l1.7,-1.3l-0.1,-0.1l-5.8,0.4l1.9,0.7l-4.1,4.1l-2.6,1.7l-2.4,-0.4l-1.3,-2l0.9,-3.4l2.3,-4.1l0.9,-4.3l-0.9,-3.8l-2.9,-2.4l-4.7,-0.6l-3.8,0.6l-2.5,3l0.5,3.8l2.3,4.6l2.7,4.1l1.3,3l-0.8,2.5l-2.8,1.9l-0.5,3.4l1.9,3.8l2.7,3.6l0.9,2.5l-1.3,2.5l-2.5,1.6l-3.5,-0.3l-4.7,-0.5l-3.4,1l-1,2.6l1.5,2.5l3.7,2.3l3.6,2.7l2.2,2.2l0,2.3l-2.1,1l-3.6,0.7l-4.4,0.5l-4.5,-1.4l-5.6,-1.1l-2.6,1.2l0,2.2l2.9,2.4l4.1,3.2l3.6,2.7l3.1,3.6l1.3,3.5l-0.9,3.4l-2,1.7zM338.8,760.4l1.4,-0.6l2.2,1l2.4,-0.4l1.7,-1.1l1.8,2.6l2.3,1.6l2,-0.7l1.9,-0.3l2.3,-1l2.6,0l0.6,-2l-0.8,-2.8l1.2,-2.1l1.8,-1.2l0,-0.1l-19.7,-7.4l-2.4,1.6l-2.5,-0.1l-1.2,1.6l0.2,1.6l-1.2,2.1l0.8,2l-0.2,1.9l0.4,2.4zM411.2,683.9l0.7,-1.6l1,-1.6l1,-2.4l0.7,-2.1l0.1,-0.9l-5.5,-0.4l-0.4,-4.9l-8.6,-0.7l1,8.3l1,5.9l-0.4,7.9l-3.8,-0.4l-1,-6.9l-9,1l0,11.9l-3.5,1l0,4.6l-4.2,2.9l1,-3.9l-1.1,-4.1l-0.2,0l0,0.7l0,1.7l1,2.4l-2.1,1.6l-1,2.3l2.3,2l1.4,2.3l-0.7,2l0.6,2.1l1.6,1.2l1.9,-1.6l1.9,0.8l2.1,0.6l3,0.6l1.7,-1.9l0.9,-2.2l2.6,-0.1l2.7,0.2l1.7,1.1l1.9,-1.8l6.2,5.7l2.2,0.4l1.9,-0.3l1.7,-1.5l1.8,0.9l2.6,-1.4l1.1,-1l-0.7,-3.7l0.9,-1.3l4.7,0.2l-0.1,-2.3l-0.8,-2.5l-0.3,-1.6l-2.8,0.1l-0.7,-2.7l-1.2,-1.9l-2.8,0.1l0.6,-2.7l-2,-0.5l0.2,-1.4l-0.8,-2.3l-1.5,-2l-1.7,-0.7l-2.4,-1.4l0.8,-2.1zM699.9,736.5l0,-1.5l-0.8,-1.9l-2.1,-1.6l-1.2,-1.1l-2.9,0l-1.2,0.3l-1.6,-2.1l-1.5,-2l-1.9,-1.1l-2.4,0.1l-0.8,0.3l0.1,1.5l-1.1,2.7l0.2,0.9l0.3,2.8l-1.9,0.8l0.2,2.4l6.4,7.5l10.3,-3.1l0.7,-1zM799.5,728.4l-13.9,-3.4l-1.4,0.9l-1.9,1.1l-0.2,2.6l-1.9,1.5l9,12l2.1,-1.1l0.6,-2.2l1.5,-1.3l1.7,-1.3l1.5,-1.3l1.5,-1.1l-0.8,-1.9l0.4,-2.5l2,-1zM976.4,682.8l0.7,1.6l1.5,2l0.8,2.5l0.8,1.8l1.5,0.9l1.6,0.6l2.3,0.9l2.2,-0.6l0.8,-0.8l1.6,-1.6l1.9,-0.6l2.3,1.2l1.2,-1.7l2,-1.2l1.9,0.6l2.8,-0.2l1.8,0.2l2.2,0.1l1.7,-1l0.7,-0.4l0.2,-1.7l0.4,-2.4l-1.6,-2.1l0.9,-2.4l2.2,-0.6l0,-1l-28.2,0.3l-4,4l-2.3,1.6zM1040.6,713.5l1,-0.5l2.6,0.1l2.4,-1.4l1,-2l0.5,-2.5l-0.3,-1.8l-0.5,-2.3l1.4,-1.7l-1.3,-0.5l-1.9,0.3l-2.4,1.2l-1.4,-3l-2.3,1.3l-2.2,0.6l-1.8,-2.3l-1.3,0.5l-3.1,0.5l-1,2.1l-2.4,-1.2l-1.7,-1l-1.1,-0.3l-0.7,2.4l-0.4,1.5l-1.6,0.9l-1.7,2.2l-0.2,2.4l-0.7,1.9l-1.2,1.6l-0.7,0.9l0.7,2.4l-0.9,2.2l0.4,0.5l18.7,-2.7l1.3,-1.1zM341.5,786.7l18.3,1.3l0.6,-2.6l0.8,-1.8l-0.5,-7l0.2,-2.1l-0.8,-1.5l-2.7,-1.4l-0.8,-1.3l0.9,-3.1l-1.3,-1.1l-2,1.2l-1.4,0.4l-1.5,1.7l-1.7,2.2l-1.7,0.3l-2.3,-0.3l-2,0.4l-1.8,2.3l1.7,1.8l-2.4,1.7l-2.2,1.6l0.2,2.5l2.8,1.5l-1.1,2.2zM435.1,761.9l-2.5,-0.2l-1.4,-2.5l-1.5,-0.4l-2.7,-1.1l-1.9,2.9l-1.5,-0.4l-2.8,-1.7l-1,0.7l-2.6,0l-0.5,1.5l-2.3,0.8l-2.1,1.4l-2.1,-1.1l-1.3,0.9l0.8,1.6l-0.8,2.7l-2.1,0.8l-0.1,2.1l0.6,2.5l-0.1,1.2l0.1,2.3l-0.9,2l1.6,0.9l2.5,-1.6l2.1,0.7l2,2.2l2,0.3l2.9,-0.8l1.5,-0.3l1.2,1.7l2.9,0l1.8,1l0.3,-2.5l0.3,-1.6l8,-13.4zM671.6,831.4l-1.3,-1.5l-2.6,-0.7l-0.1,-1.6l-0.9,-1.9l-1,1.8l-2.2,1.1l-2.6,-1.4l-2,0.6l-0.5,1.8l-1.1,2.6l-1.5,1.9l-1.5,0.6l-2.5,-0.4l-1.6,1.3l-0.7,1.7l0.7,2.5l0.5,1.8l3,-0.4l2.1,0.6l1.4,0.3l0.8,2.5l1.5,1.6l1.3,2.1l0.9,1.7l0.5,2l1.8,2.6l-2.7,0.8l-2.4,1.6l1.9,2.2l0.8,1.5l1.3,1.4l-1,2.2l-1.2,1.3l1.3,2.8l2.6,1.8l-1.7,1.8l1.1,1.1l1.2,1.4l11.2,3.5l12.2,-11.2l-0.4,-2.1l-2.4,-1.6l-0.7,-2.3l0.4,-2.8l-2.3,-0.8l-0.4,-0.1l-1.5,-0.4l-2.1,-1.3l-1.1,-0.7l-0.3,-2.8l-1.3,-1.8l-3.2,0l-1.6,-0.6l-0.5,-2l1.1,-2.4l-1.1,-1l-1,-1.9l1.9,-2.6l-0.9,-1.6l1.1,-2.7l0.2,-2.2zM708.7,888.8l-0.8,-1.8l-0.8,-1.3l1.2,-2.2l-4.5,-9l-4,-0.2l-1.6,1.9l-2.4,0.8l1.1,3.1l0.8,1.8l-2.4,2.2l-2.5,1.2l1.1,2.2l0,1.9l0,1.8l-1.5,2.7l0,2.5l-0.9,2.2l2.7,1.2l1.5,1.7l-0.9,2.2l0.4,1.2l0.7,2l2.4,0.8l8.5,-5.1l0.4,-2.2l-1.1,-1.8l0.3,-2.7l0.4,-2.1l1.5,-2.4zM906.7,805.6l-1.9,-2.5l1.2,-2.3l-1.7,-0.7l-2.7,-1.9l0.4,-2.2l-2.3,-1.5l-2.5,1.8l-1.5,-2.5l-1,-3.7l-2.1,-0.4l-2.1,2.3l-2,-0.8l-0.9,0.9l0,1.4l-1.4,1.8l-0.7,1.4l-0.8,1.6l1.2,1.6l-0.6,1.4l-1.9,2.6l2.3,1.7l0.5,2.4l-1.8,1.9l-1.5,2.2l-1.5,1.4l-0.5,1.7l-0.3,1.1l0.6,1.9l1.9,1.3l2.1,0.7l1.4,1.7l-0.6,2.4l2.1,0.6l2.7,1.1l1.4,1.2l2,0.7l3,0.3l1.8,0.5l0.9,-2.2l0.6,-0.9l-0.4,-2.5l0.7,-2.2l-1,-1.9l-0.6,-1.4l2.2,-2.1l0.7,-0.7l0.2,-2l0.3,-2.8l0.7,-1.4l1.4,-1.8zM945.6,807l-1.4,1.7l-1.1,2.3l-3.8,-1.3l-1.3,1.6l-1.3,4.8l0.1,0.2l1.4,1.3l0.9,2.5l2.9,-1.3l3.1,-0.8l1,2.6l-0.4,3l1.5,2.2l1.6,-0.5l4,-2l-0.1,3.7l2.6,-1l0.3,-1.9l-0.3,-1.8l1.5,-0.9l2.4,-1l-0.6,-2l1.8,-0.6l1.5,-1.5l0.3,-1.4l0,-2.3l-1.1,-1.4l-0.8,-2.2l-2.6,-0.6l-2.7,0.2l-1.2,-1.5l-1.5,-1.6l-2.1,-0.9l-1.1,-0.2l-1.3,1.1z"/>
<path fill="#c3ecee" d="M243.8,776.3l-1.9,0.2l-2.3,3l-2.1,1.6l-1.8,-0.5l-2.4,-3.6l-1.6,0.1l-2.2,2.5l-0.6,0.6l-1.4,1.5l3.4,2.8l1.3,1.6l-2.8,1.9l-1.1,2.5l0.1,2.3l1.3,1.5l2.2,1.4l0,2.1l0.8,1.8l2.5,0.6l1.6,1.2l2.2,1.1l2.2,-0.9l1.4,-0.2l3.1,-0.3l2,0.4l1.2,-1.3l2.6,0.1l0.3,-0.1l2,-1.9l-1,-2.4l1.9,-1.4l-0.7,-1.8l2,-1.6l-0.3,-2.9l-0.7,-2.3l-2.5,0.2l-1.2,-2.5l-1.4,-1.8l-1.4,-0.8l-2.3,-1.6l-0.2,-1.9zM260.1,761.9l1.5,-0.9l1.7,-2.1l-1.5,-1.4l-0.4,-2.2l1.7,-1.8l-0.8,-2.4l-2.4,-0.6l1.2,-3.7l-2.4,-1l-4.1,1.7l0.1,-4l-0.9,1.5l-1.5,1.2l-1.7,1.5l-1.4,2.1l-1.7,1.5l-2.8,-1l-2.2,1.3l0.2,2.5l-2.3,0.6l1.5,1.6l1.3,2.2l1.3,1.1l1.2,2.2l0.5,1.4l1.4,1.5l1.2,1.6l1.6,1.8l2,-0.5l1.7,-0.1l1.7,-1.3l2.3,-1.2l1.7,-0.8zM699.5,693l-0.4,-2.3l-0.9,-2l0.1,-2.2l-1,-1.3l0.5,-2.7l-2.4,-1l-0.6,-2.6l0.3,-0.3l-15.7,-0.4l-3.2,-0.2l0.6,2.7l-0.4,2.3l2.6,1.4l-0.7,2l-0.8,2.6l-0.2,1.8l0.3,2.5l1.3,1.1l-0.7,2l-1.2,1.9l0.6,1.8l0.8,1.9l-0.7,1.5l1.8,0.8l1.1,2.2l1.6,0.6l1.9,0.4l2.9,-0.4l2,1.8l1.3,1l1.2,2.1l1.2,0.9l5.4,-1.5l0.6,-1.6l-0.9,-3.2l0.5,-2.2l1,-1.8l0.8,-1.7l-0.1,-2.2l-1.4,-2.2l0.3,-2.2zM673,752.2l0.6,-1.6l-2.3,-2.1l-3,0.1l2.8,-3.6l-0.4,-1.8l-1.8,-1.2l-1.7,-0.4l-2,2.9l-2.1,-2l-2.2,0l-1.2,0.9l-2.7,-1.5l-1.4,2.7l0.1,2.2l2.1,1.7l0.1,1.8l0.9,1.2l-0.3,2.6l-2,2l1.6,2.1l1.3,1.5l1.7,0.7l1.5,1.2l3.1,-2.3l1.5,0.5l1.8,0.9l1.9,0zM740.8,724.6l-1.1,-1.8l1.1,-2.6l2.6,-1.1l-0.8,-2.8l-0.9,-1.6l2.2,-2.4l0.9,-1.6l-0.2,-1.8l-0.5,-2.3l-0.9,-2.3l-1.1,-1.4l-0.6,-1.9l-0.6,-2.1l-1.5,-0.3l-1.8,0.5l-0.8,2.8l-2.8,-1.3l-1.9,-0.5l-1,1.7l-2,1.4l-1.5,1.6l-1.6,0.2l3.1,15.7zM717.2,745.6l-2.2,-1.9l3.6,-2.3l-0.2,-2.9l-0.5,-1.7l-0.1,-0.3l-2,0.2l-2.4,-1.3l-1.6,-1.3l-2.4,0.6l-2.1,2.7l-1.7,-1.8l-1.4,-0.6l-2.3,1.9l-2,-0.4l-1.2,3.9l-0.7,1l-0.7,2.2l1,1.8l0.8,3.2l1,1.3l1.8,0.5l1.9,0.7l1.5,2.4l1,0.8l2.4,0.1l2.2,-2l2.5,1.1l0.7,2l0.8,-1.9l1.4,-2.1l-1,-2.8l0.6,-2.3zM1103.9,751.2l-2.2,-1.1l-0.2,-2.1l-0.9,-1.8l-1.3,-1.9l-1.9,-1.2l-0.4,-2l-2,0.1l-2.6,-1.6l-1.5,2.4l-1.7,1.4l-2.3,-1.2l-1.4,0.8l-0.6,2.3l1.3,1.5l2.3,1.7l0.7,2l-1.3,1.3l-1.1,2.5l1.1,2l1.4,1.8l2.6,0.4l1.1,1.1l2.9,-0.8zM266.2,808.8l-0.3,2.4l-0.4,1.9l-1.3,2.3l-0.2,1.3l0,2.2l-1.2,2.1l2.2,1.3l1,0.8l2.8,-0.1l1.4,1.3l1.8,1.8l1.8,-1.1l1.9,-0.6l1,-3.5l2.4,-0.1l1.9,-0.8l0.4,-2.8l2.7,0.3l0.5,-2l1,-2.1l-0.9,-1.4l-2.5,0.4l-2.9,-0.6l-0.3,-3.1l-2.4,-0.2l-1.2,-0.6l-2.7,0l-1.5,-1.1zM396,820.7l-0.9,3.6l-1.6,1.3l-2.8,-1.6l-0.9,1.5l-3.5,-0.4l-1.5,0.7l0,2.1l-0.6,2.7l-2.4,0l-2.1,2l1,2.3l1.1,1.5l0,2l3.7,9.3l0.9,0.8l-0.7,2.1l-0.1,2.1l-2.7,1l-2.1,2.1l0.8,1.8l1.1,3.3l-0.5,1.7l-2.3,1.7l-0.5,1.5l-0.6,1.8l1.6,1.2l1.4,1.1l2.4,-0.4l1.7,0.5l1.9,2.2l1.4,1.5l1.5,0.5l2.6,-0.8l-1.4,2l-1.2,1.3l-0.6,1.3l0.2,2.4l-1.1,2.3l-1.8,0.8l-0.4,2.3l0,1.2l-0.9,2.6l-1.1,1.1l-1.1,1.6l1.9,1.4l1.4,0l1.2,2.2l1.5,-0.3l2.3,-3.3l1.8,0.8l2,-0.5l2.1,-1.4l2.3,-0.1l1.9,-0.8l2,1l1.2,-1.2l2.1,0.2l3.8,-3.8l1.2,-1.5l-1,-3.2l-0.6,-1.7l1,-1.4l-0.3,-2.2l-0.2,-2.3l-0.1,-2.3l0.9,-2l3,0.7l1.6,-1l0.6,-3.1l1.3,-0.6l3.7,0.7l1.1,-1.2l1.3,-0.2l0.8,-2.3l1.8,-1.1l1,-2.2l-0.5,-2.2l0.5,-1.5l2.4,-1.8l-0.6,-2l0.3,-2.6l1.2,-1.4l-2.2,-3.1l0.7,-1.7l-1.1,-2l-1.7,-1.4l-2,-0.8l-1.7,-1l-0.9,-3.2l-0.1,-1.2l-2.8,-0.9l-0.6,0.1l-19,-10.9l-2.8,-2.2zM445,940.4l1.5,-0.2l1.9,-1.1l-0.5,-1.9l0.8,-2.8l-1.7,-1.6l-1.6,0.3l-1.8,-2.2l-1.9,-0.9l-2.3,-0.4l-1.6,-1.7l-1.4,-1.3l-1.5,0l-2.3,-1.2l-5.5,9.5l0.1,2.5l-2.6,1.6l2.9,3.1l0.8,1.6l-3.9,0.8l-0.2,1.9l1.1,1.5l1.4,2.2l-4.2,2.5l1.5,1.2l2.5,1.5l7.6,0.1l-1.3,-2.4l1.8,-1.3l2.1,-2.5l0.5,-1.9l3.1,-0.9l0.2,-1.8l1.3,-1.4l1.9,-1.4zM537.8,788.8l2.1,2l0.4,2.1l2.9,1.2l0.4,1.1l1.8,0.8l1.1,1.8l1.4,1.9l2.8,0.5l0.8,1.1l0.4,3.1l1.8,1.7l2.5,-0.8l1.4,-1.5l0.9,-0.8l0.9,-1.3l-0.6,-2.9l1.3,-1.2l1.4,-1.2l-0.5,-2.6l1,-1.6l-2.8,-2.8l-0.5,-1.6l1.5,-2.4l-1.6,-1.8l-1.5,-0.4l-2.2,-0.8l-3.1,-5.6l-1.1,-0.6l-1.7,-1l-1.3,0l-2,-1.2l-1.4,-1.1l-2.2,-0.5l-2,-0.3l-1.8,1l-1.3,0.7l-2,0.1l-0.4,2.1l-1.9,1l1.9,2.7l-0.6,2l-3.9,0.8l0.8,1.7l1.5,1.8l1.6,2.1l2,-0.7zM635.4,787.5l-2.3,-1.2l-0.4,-2.8l-2.1,-1l-3.9,-0.8l2.2,-4.1l-0.7,-1.3l-2.8,-0.2l-1.3,-0.6l-1.7,4.3l-1.5,1.5l-2.8,-2.1l-1.8,-0.4l-1.6,2.6l-1.6,2l-1.1,1.1l-2,0.6l-2.5,-0.5l-2,1.6l-0.3,0.2l-0.8,2l-0.2,1.6l1.7,2.1l0.8,1.3l-0.6,2.1l-0.7,3.3l1.2,1.6l1.9,0.9l0.1,3.2l-0.2,1.9l2.1,1.6l1.3,1.6l0.7,1.4l2.2,-1.1l1.7,-0.2l1.2,3.7l2,0l2.4,-0.4l1.8,-0.4l2.3,-0.5l2.5,-1.6l0.5,-1.7l0.6,-1.7l0.1,-2l-0.2,-2.2l0,-1.8l0.2,-1.7l1.2,-1.5l0.6,-1.5l0.8,-1.5l-0.3,-2.1l1.2,-2.5zM482.6,830.1l-1.5,-1.1l-0.9,-2.8l1.6,-2.7l-1.6,-1.4l-1.5,0.8l-2.5,-0.7l-2.7,0.5l-1.3,-0.5l-2.6,-1.3l-1.7,1.2l-1.5,1.9l-0.7,6.8l-0.1,2.5l-1.3,1l-0.9,1.3l0.9,2.2l-0.5,1.8l0.4,2.2l0.4,1.5l1.8,-0.7l1.9,1.2l2,-0.4l2.3,0.1l1.7,-0.5l2,-0.4l1.8,0.6l2.6,1.3l2,-1.2l1.3,-1.1l-1.8,-7.3l-0.8,-3zM569.2,820.3l0.5,2l-0.5,1.5l-1.3,1.6l1,7.9l1.3,1l3.3,-0.8l1.9,1.3l1.7,1.8l1.4,-1l1.6,-1.4l3.4,-0.1l1.6,-1.5l-0.6,-1.6l-2.5,-1.1l1.6,-3.3l-1.8,-1.3l-0.6,-2.2l0.9,-1.9l-1.3,-2l3,-1l-2,-2.3l-0.4,-1l-2.8,0.1l-1.9,-1.7l-2.2,-0.9l-1.2,1.4l-2.1,1.2l-1.5,1l-1.5,2.4zM649.5,837.3l-1.8,-0.3l-2.5,0.9l-1.6,-1.6l-2.2,0l-1.6,0.5l-2.1,1.2l-2,-1.1l-2.6,0.3l-1.1,1.2l-2.8,-1.4l-1.7,0.3l-0.2,1.9l0.6,1.7l0.1,1.9l0,2.4l0.4,2l-0.3,2.6l-1,0.8l-0.4,2.5l-0.7,1.6l0.5,2.8l2.1,0.5l0.7,2.5l16.9,-3.4l0,-7.3l4,-10zM469.2,864.8l-2.5,-0.6l-2,0.9l-1.3,-0.3l-2.6,1.2l-2,0.8l1.2,3.2l-0.7,2.7l-4,-1.1l-1.7,0.8l0.1,3.6l-1.3,1.3l-2.3,0.8l-0.6,2.4l1.9,0.2l2.5,1.3l2.3,0.6l0.2,2.7l1.8,1.3l3.9,-3.7l2.1,0.7l0.2,3.5l1.4,-1.2l2.3,-0.2l1.4,-1.1l1.5,-0.5l1.6,1.1l1.1,1l0.9,2.1l1.7,1.2l1.7,1.6l1.7,0.4l2,0.3l2.8,-0.6l2.2,-0.2l1.9,0.1l2,0l2.5,-1.7l2.1,0.2l0.1,-0.7l-0.8,-2.6l0.9,-2.3l-5.2,0.7l-1.3,-0.8l-1.6,-2.1l0.8,-3.2l-2.2,-0.2l-1.9,-1l-0.8,-1.6l-3.4,1.1l-1.1,-0.8l-2.2,-1.2l-1.3,-1.9l1.9,-2.1l-2.7,-1.9l-1.4,-0.8l-1.7,-0.7l-0.7,-1.6zM553.6,936.4l-1,-1.2l0.1,-2.4l-2,-0.8l-2.2,-0.2l-1.9,0.2l-2.7,-0.2l-1.5,-1.9l-2.3,1.6l-2.1,-0.6l-1.7,1.7l-1.7,1.9l0.6,1.5l-1.2,3.3l1.6,1.9l2.8,1.2l0.8,2.3l-2.9,1.8l1.2,2.3l0,1.8l0.6,2.9l-3.1,1.4l1.1,1.4l-0.1,0.6l22.7,0.4l0.4,-2.1l-2.6,-1.2l-0.2,-2.5l2.2,-2.3l0.3,-2.1l-2.7,-2l-0.2,-2.1l0.2,-1.9l-0.9,-1.1l0.7,-2.3zM619.7,914.4l-0.6,2.4l-1.1,0.7l-2.6,1.4l-0.2,1.7l0.5,2.4l0,1.8l-0.5,1.7l1.9,1.4l1.1,1.3l-1.3,2.4l0.5,2.3l-1.2,1.2l0.1,0.9l1.4,1.8l0.6,0.9l2.3,0.2l1.4,0.8l1,2l0.7,1.6l1.7,1.4l2.6,-0.9l1.1,-0.3l2.6,1.6l1.5,-0.2l2,0.4l2,-2.3l2.2,0.3l2,-1.7l2.5,0.9l1.8,-0.7l1,-2.5l0.2,-3l0.5,-1.3l-2.3,-2l-4.4,0.2l1.2,-2.8l-0.2,-1.3l-2.1,-1.4l-0.7,-1l-1.7,-2l-1.7,-0.6l-2.2,-4.3l-0.5,-3.2l-1.9,-0.2l-2.3,0.5l-2.9,-0.6l-1.4,-1.2l-0.8,-1.3l-1.5,-2.4l-0.1,0.1l-1.5,0.7zM809.8,759.6l-2.4,0l-1.8,1.5l-1.7,-1.8l-2.2,-1.9l-1.7,1.6l-1.9,2.2l-1.5,-3.9l-2.6,1l-0.9,-0.5l-1.6,-0.6l-2.6,-0.3l-0.3,2l-0.4,1.6l-1.9,1.5l-2.2,0.5l-1.3,1l0,2.7l-0.7,5.2l-1,2.8l-1.6,1.3l-3,-0.3l-1,0.6l-1.1,2.6l-0.1,2l0.4,1.6l-2.3,1.8l-0.1,1.4l1.9,0.5l1.9,1.3l2.3,-0.1l1.2,0.6l1.5,2l2.4,-0.2l1.7,0.2l0.9,2.6l9.6,-9.6l1.3,0.8l2.5,0.1l1.6,1l0.8,1.6l1.7,0.3l0.1,2.6l2.1,0.8l2.5,0.9l1.5,0.3l1.6,1l-0.2,-2.1l-0.9,-2.1l2.1,-2l2.1,-2.1l0.1,-1.1l-1,-3l1.1,-2.2l3,-0.6l1.3,-2.1l-1.4,-2l0.5,-2.1l2,-1.6l-1.2,-1.9l-1.9,-0.6l-5.5,-6.1zM870.3,831.2l-0.2,-2.4l-0.4,-1.6l-1.5,-0.6l-2.3,-1.6l-0.9,-1.8l-1.4,-1.2l-2.5,0.3l-1,-1.2l-0.9,-2.4l-2.6,-0.5l-1.5,0.6l-2.1,-1.1l-1.7,1.4l-0.9,2.5l-0.8,1.9l-1.9,-0.4l-2.6,1.6l-2.2,-1.1l-2.4,-1.6l-1.3,2.1l-2.2,1.7l-1.7,-0.1l-2.5,-0.3l-1.5,2.5l-0.7,1.5l3.9,1.5l0.4,2.5l-0.9,2.4l-0.2,2.1l2.2,-1l2.3,0.6l1.4,0l1.5,-0.3l2.2,-1.6l2,-1.1l1.5,0.9l2.5,0.2l0.1,2.2l1.1,0.7l-0.7,1.5l-0.7,2.2l0.2,2l-0.7,1.5l-0.9,1.5l-0.3,2.1l1.3,3.1l13.8,0l0.2,-1.6l1.5,-1.9l1.6,-1.4l-0.2,-1.9l0.2,-2l1.8,-1l0.6,-2.7l-1.4,-2.1l-0.7,-1.9l3.7,-1l-0.2,-0.7l0.5,-2.1zM748.5,943.6l2.4,-0.9l0.4,-2.6l0.4,-1.3l0.1,-2.5l-14.6,2.9l-0.8,2.6l-0.8,1.9l-2.5,1.1l-1.4,1.5l-0.2,1.3l-2.2,1.3l0.9,2.4l-0.3,1.5l0.6,1.7l1.8,1.4l-0.1,2.8l0.1,0.9l2.7,0.1l28.3,-0.7l0.1,-1.5l-0.5,-2.1l-0.8,-1.7l-1.2,-1.7l-1.6,-1.2l-1,-2.2l-1.4,0.2l-2.1,-1.1l-2.7,1.4l-1.8,0.3l-1.4,-0.8l-0.1,-0.6l0.2,-2.1zM919.5,855.8l-2.8,0.2l0.4,-2.3l-2.4,-0.6l-1.6,2.6l-1.6,-1.2l-2.3,-1.3l-2.5,-0.1l-1.2,0.3l-2,1l-0.7,2.2l-1,1l0.3,2.8l0.8,1.5l0.7,2.1l0.3,1.5l1.4,1.8l1.8,0.5l1.6,0.9l-0.1,2.9l-0.3,1.3l3.1,1.2l-0.5,2.1l0.3,2l0.1,1.4l1.4,1.5l-0.6,2.6l1.6,1l2.9,-0.2l0.2,1.8l-0.9,3.8l1.1,0.8l2.4,0.9l1.8,0.2l1.7,-0.8l2.2,2.2l1.6,-0.3l2.6,-1.5l1.8,-0.4l1.5,-0.5l2.6,1.5l1.7,-0.2l1.5,-1.2l2.4,-1.2l0.2,0.1l0.3,-2.5l-1.4,-3.5l1.3,-2.6l2.7,-3.6l2.7,-3.6l2.1,-2.1l-1.7,-0.9l-0.9,-1.2l-0.4,-2.3l-1.2,-1.6l-1,-2l-15.1,-1.2l-0.6,-1.4l-1.4,-1.4l-2.4,-0.4l-1.3,-0.5l-1.1,-2.6zM846.4,903.2l3.6,9.1l0,1.3l-0.4,1.9l0.7,1.7l2,1.5l0.1,1.2l1.3,0.5l0.9,3.1l1.6,1.2l2.4,-1.4l3.5,-0.3l-0.2,2.9l1.9,-0.1l1.2,-0.6l1.6,-1.5l0.1,-0.1l-0.9,-2.5l1.6,-1.4l-0.6,-2.1l0.4,-2.1l0.6,-2.4l-1.1,-1.6l0.1,-1.8l1.4,-1.2l0.1,-1.8l-0.1,-1.2l-1.5,-1.6l-1,-0.7z"/>
<path fill="#c5edee" d="M232.9,816.9l0.4,3l2.2,1.2l1.3,1.6l-0.6,2.5l2.4,2l1.9,-3.3l2.3,0.3l1.1,2l2.8,-1.5l1.7,0.5l0,-2.4l0,-1.2l0.9,-2.5l1.5,-1l1.1,-2.4l0.1,-2.2l-1.5,-2l0.4,-2.1l1.8,-1.3l-0.4,-1.6l-1.1,-2.4l0.8,-2.3l-0.5,-1.5l-2.6,-0.1l-1.2,1.3l-2,-0.4l-3.1,0.3l-1.4,0.2l-2.2,0.9l-2.2,-1.1zM283,718.2l2.1,-1.8l3,0.6l1.7,-1.2l-1.6,-3.3l2.8,-0.8l-0.4,-2.6l-1.4,-2.1l-3.4,1.5l-1.5,-2.2l-0.6,-2.6l1.7,-3.8l-3.2,0.3l-2.1,-1l-0.5,2.1l-2.4,0.9l-1.5,2.3l0,2.7l-0.2,1.5l-4.4,-0.5l-1.5,1.2l-0.4,2.9l-1.9,-1.1l-2.1,0.9l-2.3,1.4l-2.6,-1.2l-1.9,1.4l-1.6,1l-0.5,2.7l2.4,13l2.4,0.2l1.8,-1l2.4,-0.4l1.9,0.3l1.6,1.2l2.2,1.7l1.9,0.2l1.8,-1.1l2.7,-1l1.8,1.2l2,0.5l-1.1,-2.2l1.2,-2.1l1.7,-1.8l-1.8,-2.2l0.7,-2.1l1.1,-1.2zM559.9,699.9l1.7,-0.1l2.5,0.9l1.8,-1l2.7,-0.3l1,-0.6l2.6,-0.6l1.7,0.6l-0.2,-2.9l2,-1.1l1.9,-1.3l-1.9,-3.4l-0.2,-1.7l2.5,-1.3l0.6,-2.2l-0.6,-0.9l-2.6,-1.9l-2.4,0.7l-0.3,3.9l-2.5,-0.5l-1.9,-1.1l-2.3,-1.3l-1.8,0.4l-2.2,4.6l-1.7,-0.9l-1,2.3l-0.6,1.5l-0.9,1.8l-0.5,1.7l-1.8,1.6l1.1,2.1l1.6,1.8zM652.3,743l-2.2,-0.6l-1.9,2l-1.9,1l-2,1l1.4,3.2l-1.8,1.2l-1.9,1.9l0.4,1.8l0.3,2.3l0.6,4l1.6,-0.5l4,-1.5l2.1,0l0.2,4.2l2.5,0.7l1.1,-1.3l2.5,-2.2l2.1,-0.5l-1.3,-1.5l-1.6,-2.1l2,-2l0.3,-2.6l-0.9,-1.2l-0.1,-1.8l-2.1,-1.7l-0.1,-2.2zM258.1,765l-2.3,1.2l-1.7,1.3l-1.7,0.1l-2,0.5l-1.5,1.9l-0.9,1.9l-0.1,1.6l-1.4,2.6l-0.5,1.4l0.2,1.9l2.3,1.6l1.4,0.8l1.4,1.8l1.2,2.5l2.5,-0.2l0.7,2.3l2.2,0.6l1.3,-2.9l1.8,-1.7l2.1,1.7l3.4,2l1,-2.8l1,-2.2l0.7,-2.4l-0.7,-2.2l-0.7,-1.6l-0.6,-2.5l-2.4,-0.3l-2.5,-1.1l-0.2,-2.3l2.2,-3.5l-2.6,-1.7l-1.9,-1.1zM421.4,889.5l1.2,-1.7l2.5,-0.5l2.7,0.4l1,-1.3l1.1,-2.8l0.5,-1.2l2.8,-0.7l1.6,-0.5l-0.1,-2l-1,-2.4l-1.4,-1.4l-0.7,-1.7l-1,-1.6l-1.6,-2.6l-1.9,-0.8l-1.3,-2.1l-0.9,-1.4l-1.3,0.2l-1.1,1.2l-3.7,-0.7l-1.3,0.6l-0.6,3.1l-1.6,1l-3,-0.7l-0.9,2l0.1,2.3l0.2,2.3l0.3,2.2l-1,1.4l0.6,1.7l1,3.2l-1.2,1.5zM445.9,953.7l2.6,-2l0.8,-1.1l-0.3,-2.5l0,-1.6l1,-2.5l0.8,-1.9l-2.4,-3l-1.9,1.1l-1.5,0.2l-1.3,1.4l-1.9,1.4l-1.3,1.4l-0.2,1.8l-3.1,0.9l-0.5,1.9l-2.1,2.5l-1.8,1.3l1.3,2.4l11,0.2zM575.3,785.1l-2.6,1.8l-1.6,-3.9l-1.6,-1.5l-2.6,2.7l-1.7,-2l-5,3.2l-1.5,2.4l0.5,1.6l2.8,2.8l-1,1.6l0.5,2.6l-1.4,1.2l-1.3,1.2l0.6,2.9l-0.9,1.3l2,-1.9l2,-0.2l1.7,1.4l2.4,3.3l2.5,-3.2l2.1,-1.5l1.4,-0.3l2.1,0.6l0,-2.3l3.3,-0.4l1.3,-1.3l-1.2,-1.9l-1.5,-2.3l1,-2.1l-0.8,-1l-1.1,-1.7zM574.6,848l0.5,2.6l0.5,1.3l0.1,1.9l1.4,2.8l2.2,0.6l2.3,-2.2l1,1.1l3,-0.8l1.6,-0.2l1,-1.5l-0.5,-2.4l0,-1.6l1.7,-2.6l-0.3,-1.5l-0.8,-2l1.2,-1.6l0.7,-2.4l0.7,-2.1l0.6,-1.9l0.9,-1.3l0,-0.2l-2.3,-0.4l-0.7,-0.7l-2.9,-0.4l-1.4,0.1l-1.6,1.5l-3.4,0.1l-1.6,1.4l-1.4,1l1.1,1.7l-0.9,2.2l-2.5,1.3l-0.1,2.9l0.4,1.9zM626.5,857.5l-0.5,-2.8l-2.3,-0.4l-1.7,1.9l-2.1,-2l-1.4,0.4l-2,0.1l-0.6,2l-2.3,-0.1l-0.8,2.4l-2,2.3l-2.6,-1.4l-0.2,2.1l-1.2,1.8l3.2,2.5l0.8,1.3l-0.6,2.5l-0.1,2.3l-0.5,1.2l3.7,5.7l1.7,-0.3l1.9,-1.3l1.9,-0.8l1.4,-0.3l2.2,-0.1l1.7,-0.3l2.4,-0.2l0.7,-4.1l1.2,-1.6l2.3,0l-1.8,-1.9l-0.4,-1.9l1.9,-2l0.4,-2.1l-1.5,-1.9l-0.7,-2.5zM464.4,893l-0.5,1.7l2.8,1.3l-0.4,2.8l2,0.9l0.2,2.6l2,0.8l2.3,0.9l1.4,1.5l0.7,1l1.7,0.4l2.4,-0.6l1,0l1.8,1.4l1.7,1.2l2.6,0.4l1.2,0.9l1.6,2.2l1.7,0.5l1.2,1.3l0.9,2.5l1.6,0.9l2.2,0.3l1.7,2.1l0.8,-0.8l0,-2.1l-0.5,-2.3l1.6,-1.5l2.7,-1.6l-1.8,-2.6l-0.6,-2.2l0,-1.2l-2.2,-2.4l3.1,-2.6l0.2,-1.7l-1,-1.9l0,-1.7l-1.6,-1.2l-2,-0.8l-1.5,-1.6l-0.1,-2l-0.1,-0.2l-2.1,-0.2l-2.5,1.7l-2,0l-1.9,-0.1l-2.2,0.2l-2.8,0.6l-2,-0.3l-1.7,-0.4l-1.7,-1.6l-1.7,-1.2l-0.9,-2.1l-1.1,-1l-1.6,-1.1l-1.5,0.5l-1.4,1.1l-2.3,0.2l-1.4,1.2l1.2,1.7l-1.7,2.2zM583.2,890.6l-2.1,1.1l-1.9,-2.2l-0.7,-3l-1.1,-0.5l-3.4,1.2l-1.1,-1.8l-6.1,2.2l-1.4,1.8l0,2.1l-0.8,1.2l-0.6,2.5l-1.6,1.5l-2.5,0.3l0.1,2.6l1.2,1.6l-0.6,2.7l-0.5,1.5l-1.6,1.4l-0.6,2.2l0.3,2.6l-0.6,1.4l4.6,9.3l0.8,0.1l1.9,0.2l1.5,-0.7l2.7,0.9l1.1,-3.3l2.4,0.8l0.8,-3l2.2,0l0.9,0.1l1.7,0.1l2.1,0.3l1.6,-1.2l1.7,-2.7l1.2,-0.6l2.6,0.9l1.6,0.1l2.7,1.4l1.8,-0.4l1.7,0.1l0.3,-1.8l1.7,-1.3l2.8,-1.4l-3.4,-3.5l1.8,-1.8l-0.9,-1.5l2.3,-2l-1,-2l-2.8,-0.4l-0.9,-1.1l-1.7,-2.1l-1.7,-0.1l-3.3,0.3l-1.2,-0.2l-2.2,-1.9l-1.5,-2.2zM630,893.1l-1,-2.7l-1,-0.6l-1.8,-1l-2.9,-0.3l-1.9,1.6l-1.5,-3.4l-0.7,-1.5l-3.4,1.2l-1.1,-0.4l-2.2,-0.6l-4.4,7.2l1.8,1.8l-0.2,1.9l1.6,1.3l2.5,1.4l1.9,0.7l2.4,-0.1l1.2,1l-0.1,3.6l2.1,0.9l2.1,0.8l5.1,-3.8l1.2,-1.2l2,-0.6l0.4,-2.6l1.8,-1.6l-1.1,-1.1l0.6,-2.5l-0.6,-0.4zM786.1,792.1l-0.9,-2.6l-1.7,-0.2l-2.4,0.2l-1.5,-2l-1.2,-0.6l-2.3,0.1l-1.9,-1.3l-1.9,-0.5l-1.4,1l-1.1,0.8l-1.3,4l0,2.5l-0.6,1.9l0.9,2.2l4,0.8l0.1,1.7l-0.9,3l0.6,1.7l-1.4,1.6l1.9,1.7l-2.2,1.9l1.3,2.4l-1.2,1.8l-1.8,1.8l-0.9,1.2l-0.1,0.1l7.5,9.3l0.9,2.3l2.9,-0.2l3.3,-2.1l0.9,0.7l2.6,1.3l0.7,2l2.7,0.2l2,-0.9l0.3,-1.8l-0.2,-3.4l2.3,0l1.4,-1.7l0.5,-1.7l1.5,-0.7l2,-1.3l1.1,-1.5l-0.3,-1.9l-0.9,-1.7l-0.5,-1.7l-0.5,-1.4l-0.9,-1.9l-2.6,0.6l-2.5,-1.1l1.7,-2.9l-1.8,-1.5l-0.5,-1.2l-0.5,-1.8l-0.8,-1.3l-2.1,-1.6l-1.5,-2.5l-1.3,-1.8zM818.3,886l-2.4,-1.9l1.7,-2.1l-2,-0.4l-2.4,0.6l-1.9,0.1l-1.4,-0.3l-2.5,0.7l-1.4,-1.3l-1.6,0.7l-2.5,-1.1l-1.7,-0.6l-1.7,0.4l-2.1,-0.6l-0.7,0.2l-0.2,0.8l0,6.8l2.2,8l0,0.2l0.7,1.9l0.5,1.5l0.8,1.8l1.3,0.5l0.6,1.9l3.8,-0.2l0.9,1.2l0.2,4.2l2.7,0.5l1,0.7l1.3,2.2l1.4,-2l1.8,0.9l1.7,-0.6l1.6,-2.3l2,0.6l2.6,-1.2l1.3,-2.2l-1.6,-2.5l0.7,-2l-2.4,-1.2l-0.1,-1.9l0,-1.5l-0.5,-2.5l-0.2,-1.3l-1.5,-1.9l1.5,-2.3zM793.4,916.5l-1.4,-1.2l-2.3,-0.8l-1.4,1.2l-2.4,-0.3l-1.4,-0.1l-1.9,2.1l1.3,2.3l-2.9,1l-0.9,2.6l0.1,2.2l1.3,2.4l0.6,2l-0.9,2.2l-1.1,1.1l-1.1,2.5l0.1,2l0,0.2l-1,2.2l-1.8,1.5l2.8,0.1l0.9,2.5l-2.7,3.1l0.9,1.7l3.1,1.1l-1.1,1.8l-1.6,2.1l1.1,2.1l0.9,1.7l-1.1,0.8l16.1,-0.4l0,-0.8l0.4,-0.8l-0.6,-3l-0.8,-1.2l-0.9,-2.6l-0.5,-1.8l-1.8,-2l-0.5,-1.9l-0.4,-2.9l1.5,-1.5l0.9,-1.3l-0.9,-2.8l1.6,-1.5l1.7,-0.7l0.2,-0.1l0,-14.9zM1114.3,760.1l-1.6,-0.7l-1.6,0.1l-2.6,-0.3l-0.6,-3.5l1.3,-2.1l-2.5,-1.9l-2.8,-0.5l-8,7.6l-2.9,0.8l-1.1,-1.1l-2.6,-0.4l-0.5,3.3l-3.4,-1.8l-2,-1.5l-1.5,1.8l-1,3.8l-1.4,1.3l-2.7,-1l1.1,2.3l7.3,8.1l-0.6,2.4l1.1,2.2l1.1,1.5l2.2,1l2.2,1.6l0.5,1.1l2.3,1.4l-0.3,1.1l1.8,-0.9l3.4,0.4l2.7,2.3l2.1,1.5l2.5,-3l2.3,-4.2l-0.1,-3.6l1.4,-2.1l3.1,-1.8l4.6,-3.2l4.5,-3.2l3.4,-2.9l-0.1,-0.1l-1.1,-2.3l-2.4,-1.1l0.6,-2.2l-0.6,-0.4l-1.9,-0.3l-1.7,1.1l-1.6,1z"/>
<path fill="#afdee2" d="M204.5,817.6l-1.8,-1.2l-1,-0.7l0.9,-3.4l-0.1,-1.8l-3.2,-1l-1.9,-1.7l0.7,-2.5l-2.1,-1.1l-0.8,-2.2l-17.6,5.9l1.3,1.3l-1.3,1.6l0.8,2.1l0.7,1.6l0.7,2.5l2.4,0.4l1.3,1.5l0.7,1.9l1.3,1.5l2.4,1l0.5,1l1.6,1.1l2,1.8l0.2,2.3l0.9,1.4l0.6,-2.1l2.3,-0.3l2.3,-1.1l1.3,-3l2.4,0.7l0.6,-1.6l2,-1.6l0.7,-1.7zM569.7,717.6l-0.8,-1.5l-1.2,-2.3l-4.1,1.2l-1.3,-1.2l-1.3,-1.3l-0.4,2.7l-2.7,0.5l-2.9,-0.4l-2.5,-0.1l-0.1,3.5l-2.7,-0.6l-0.3,2l-1.7,1l-1.8,1.5l0.6,2.2l1.9,0.2l2.2,1.3l1.6,1.6l0.4,2.7l2.3,0.7l0.9,2.1l-0.7,2.2l2,1.4l1.6,-1.6l2.4,0.6l2,1.3l2.2,-1.5l1.1,-1.8l2.7,0.1l1.8,0.6l0.3,-2.3l1.1,-1.8l0.3,-1.8l-1,-1.6l0.1,-1.6l-0.7,-1.9l-1.3,-1.3l0.6,-2zM903.2,723.3l1.4,-0.9l-2.5,-2.2l2.7,-1.9l-0.4,-1.8l-0.7,-2l-0.5,-2.1l-2,-0.8l-2.6,-1.1l-1.7,0l-2.1,1.4l-1.8,1.4l-1.4,2.4l-1.9,-3.3l-1.8,2.3l1,2.4l-1.6,1.6l-1,2.2l0.9,1.1l-1.3,2.3l1,2.1l1.1,1l1,1.7l0.6,2.4l-1.4,1.7l0.9,1.7l-1.4,2.1l0.1,2.6l2.3,-0.4l2,1.5l1.5,1l1.8,-1.4l2,-0.2l2.4,1.7l1.7,-0.8l1.1,-1.9l-0.6,-1.9l-0.6,-2.6l1,-1.1l-1.4,-1.9l0.6,-3.1l-0.1,-1.5l0.7,-1.6zM593.2,760.8l-1.2,-0.4l-1.2,0.7l-2.1,0.9l-1.1,1.4l0.1,2.7l-1,1.9l-1.3,1.8l-1.8,0.7l-2.4,0.7l0,2.4l1,2l2.2,1.5l1.9,-1.1l1.3,0.4l2.9,0.4l2.3,0.2l0.5,2.3l1.7,1.2l2.5,-0.3zM1048.2,810.2l-1.9,1.5l-2.1,-1.4l-1.7,2.4l-2.5,-0.5l-1.4,-1.6l-0.1,1.8l-2.9,2l-1,1.9l0.5,2l3.9,0.2l0,2.5l-1.3,3.8l2,-0.4l2.1,1.4l0.9,2.3l7.8,-13.1l-0.4,-3z"/>
<path fill="#b9e5e8" d="M208.8,820l2.2,0.6l0.8,2l3.1,-0.4l1.5,0.1l2,1.4l1.6,0.9l1.2,1.9l2.2,1.3l1.9,-0.4l2.3,0.7l1.2,1.2l1.8,1.7l1.3,-0.4l2.1,-2l1.3,-1.1l0.9,-2.3l0.6,-2.5l-1.3,-1.6l-2.2,-1.2l-0.4,-3l-1.9,0.4l-2,-1.5l-2.2,-1.8l-1.8,0.5l-1.5,-1.6l-2.1,0.2l-1.8,0.3l-2.3,-2.9l-1.8,0.6l-0.5,2.1l-1.6,1.9l-1.7,0l-2.9,0.6l0.1,1.8l-1.6,1.8zM260.3,712.3l2.6,1.2l2.3,-1.4l2.1,-0.9l1.9,1.1l0.4,-2.9l1.5,-1.2l4.4,0.5l0.2,-1.5l0,-2.7l1.5,-2.3l2.4,-0.9l0.5,-2.1l0,-2.5l-0.1,-1.7l-1.5,0l-20.8,-0.9zM377.7,715.8l1.7,-1.1l2.1,-0.1l-0.6,-2.1l0.7,-2l-1.4,-2.3l-2.3,-2l1,-2.3l2.1,-1.6l-1,-2.4l0,-1.7l0,-0.7l-29.8,-0.7l0,0.5l0.2,2.4l0.4,1.7l-1.3,1.5l0.2,1.6l0.1,2.1l-0.8,2.8l-0.9,1.3l-1,1.4l-0.8,1.8l1.3,1.9l1.1,1.5l3.1,0.2l1.3,0.2l-0.8,3.6l0.5,3l1.7,0.3l1,1.1l1.9,0.8l1.7,1.6l1.4,-1.1l2.1,-1l-0.3,-3.5l2.7,-1l3.1,0.6l-0.1,-2.1l1.7,-0.6l1.2,-2.1l2.7,-0.7l1.8,0.3zM833.3,708.3l2.1,-0.7l1,-1.5l1.1,-2.2l-1.2,-2l1.1,-1.9l-1.6,-1.6l-1.9,-1.1l-2.8,0.1l0.3,-3.1l-1.9,-0.5l-1.6,-1.6l-2.1,-0.1l-1.4,1.7l-2,1.1l-2.5,0.6l1.9,4.2l-2.9,0.1l-2.4,-0.8l-1.6,2l-1.4,0.8l-2.2,-1l-1.5,0.4l-0.5,-1.8l-1.9,-0.9l-2.6,1l-1.3,-1.4l-1,-1.8l-1.6,-1.2l-2.3,-0.3l-2.7,1l-1.8,-0.3l-2.2,-0.7l-0.6,2.2l-3.1,0.1l-1.2,0.8l-0.9,2.5l0.7,3.6l-2.6,0.1l0.6,1.8l0.3,1.4l0,1.8l0.5,0.7l1,1.5l-0.5,2.5l-0.9,1.2l-1,2.7l0.8,1.2l0.8,2.2l-1,2l0.8,1.9l13.9,3.4l0.2,1l1.7,0.8l1.7,1.4l0.6,2.3l2.6,1.5l1.8,1.4l0.5,2l2.4,0.2l1.8,-2.1l1.5,-0.5l1.7,-1.3l0.4,-2.4l1,-0.8l1.4,-2.4l0.2,-1.9l1.3,-0.9l-1,-3.2l2.2,-0.5l3.3,-1l0.7,-2l1.2,-1.7l1.5,-2.3l-3.1,-3.2l2.3,-1.1l1.8,-0.6l2.1,-1.8zM833.3,747.8l-0.5,2.8l-1.1,1l2.8,1.1l0.8,0.7l-0.1,3.8l1.8,0.5l2.4,0.8l1,1.8l0.7,2.5l1.6,0.5l2.5,0.2l2.1,1.6l0.6,-2.2l2,-1.6l0.6,-1.4l-1.3,-1.4l-1.5,-2.8l1.7,-2.4l-0.4,-1.4l-1.8,-1.6l-0.2,-2.7l-1.9,-0.1l-1,-1.1l-9.3,0zM972.9,699l3.4,0.3l1.7,-1.1l0.4,-2.6l0.5,-1.8l0.9,-1.8l1.9,-0.4l-1.5,-0.9l-0.8,-1.8l-0.8,-2.5l-1.5,-2l-0.7,-1.6l-0.1,0l-3.6,2.4l-5.9,3.9l-4,3l-3.9,3.9l-3.9,2.5l-5.7,0.4l-3.6,-1.8l0.6,-1.7l-0.9,0.4l-3.1,-0.2l-1.4,-0.1l-1.4,2.6l-0.1,2.2l1.4,2.4l-0.3,1.7l-3.1,2.6l-0.1,1.8l1.5,2.2l0.6,1.7l1.9,-1.1l2.9,1.5l1.1,0.5l2.3,-1.9l2.2,0.1l2.5,1.3l1.9,0.5l1.5,0.8l2.1,-0.5l1,-1.4l1.8,0.1l2,-0.3l2.4,1.1l2.7,-0.9l0.4,-2.4l0.7,-1.3l2.2,-0.8l0.1,-2.4l0.1,-0.5l0.4,-1.5l0.5,-3zM950.2,690l-1.2,1.6l-0.4,1.9l-0.1,0.1l2,-1l1.9,-2.9zM951.7,760.1l-0.2,-3.1l3,-0.1l1.3,-1.3l1.2,-2l-2.3,-2.2l0.1,-2.3l-2.7,-1l-1.1,-2l-2.2,0.2l-2,-1.2l-0.9,2.1l-1.5,0.5l-2.5,0.1l-1,2.1l-0.9,1.5l-2.2,1.2l-0.5,2.6l0.2,1.9l3.3,0.6l2.1,1.2l-0.2,2l1.1,1.8l2.4,0.3l2,-1l1.5,-1.1zM337.3,797.6l-0.7,2.1l-2.5,-1.1l-3.1,-1.4l-1.6,2.6l-0.6,4.2l-2.1,0l-2.9,-3.6l-1.1,2l1.4,1.8l-0.3,1.9l-0.3,1.5l-0.8,1.9l2.1,2.3l-0.2,2l1.7,1.8l2.4,-1.1l1.5,-2.4l2.3,0.7l2.1,2.8l1.9,0.7l2.4,-2.8l2.1,0.3l4.5,-4l0.5,-1zM352.1,831.7l-3.8,0.6l-2.5,0.6l1.9,2.6l1.2,3l-1.8,0.8l-1,2l0.5,1.5l0.2,1.5l1.4,1.2l2.2,1l1.9,1.4l1.7,0.1l2.9,0.6l1.3,0.6l0.1,0l2.2,-1.8l3,-0.6l-3.1,-4.3l2.5,-0.9l-2.3,-1.9l3.3,-2.5l0.6,-1.8l-1.6,-2.2l1.1,-2.5l-1.9,-2.4l-3.7,-0.3l0,-2l-2,-1.2l-2.1,2.8l-1.9,-0.6l-1.5,1l-1,0.8zM330.6,890.2l-0.2,1.9l0.7,1.4l0.9,0.8l12,-1.4l0.8,-2.4l-0.4,-1.3l0.3,-2.5l0.9,-1.8l1.7,-1.3l-0.3,-1.4l-0.5,-2.4l-0.3,-2l-0.6,3.3l-2.5,0.3l-2.3,-2.4l-2.3,-0.3l-2,1.7l-0.9,3.5l-2.3,-1.2l-0.3,2.2l-1,0.9l-0.9,1.9zM497.7,822.5l1,-1.6l-2.3,-1.9l-2,-2l-2,1.9l-1.2,0.6l-2.2,-1.3l-1.4,-0.3l-1.7,-1.6l-2.5,1.3l-3.2,4.5l1.6,1.4l-1.6,2.7l0.9,2.8l1.5,1.1l-1.2,1.8l0.8,3l1.8,7.3l1.7,1l1.8,-1.6l2.2,0.3l1.7,0.1l2,3.1l2.1,-0.4l1.8,-1.6l2.1,-3.2l-1.1,-11.5l-1.1,-2l-1.2,-1.9zM755.2,834.3l-0.1,-1.9l-1.4,-1.8l1.2,-2.2l-0.6,-2.9l-1.5,-1.1l-2.2,-0.1l-2.2,0.6l-1.9,-1.2l-0.7,-3.3l-0.7,-1.1l-2.3,-0.5l-1.4,1l-1.1,2.1l-1,2.5l-2.7,-0.4l-2.4,-0.7l-0.8,2l-0.5,2.8l-2.5,0.1l-1.9,0.9l-1,1.2l-0.3,0.1l-0.9,1.6l-1.1,1.9l0.5,1.6l0.3,2.3l-1.6,1.5l-1,2.3l-1.5,1l-0.6,2.5l0.9,1.4l1.1,1.2l-1.3,2l0.6,2.4l-1,1.7l-0.1,2.9l1.4,1.7l-0.7,2.1l14.9,3.3l2.4,0.6l2.2,-2.1l1,-1.3l1.3,-2.7l0.6,-1.8l-0.1,-0.4l0.7,-1.6l0.1,-2.5l-0.3,-1.8l1.2,-1.3l-0.3,-2.4l5.5,-8.3l0.9,-0.5l1.7,-1.3zM691,892.7l-2.2,-1.3l-2.7,1.8l-2.9,1.5l-1.9,-1.2l-1.6,-2l-1.5,-0.4l-0.2,0.5l-1.3,1.6l1.3,1.7l1.4,2.2l-1.4,1.9l0,2.2l-0.9,2l-0.3,1.6l-0.4,1.7l1.7,2l0.2,2.1l0.5,2.5l17.1,-6.2l-0.7,-2l-0.4,-1.2l0.9,-2.2l-1.5,-1.7l-2.7,-1.2l0.9,-2.2l0,-2.5zM701.1,938.5l-1.3,-1.4l-1.4,0.5l-2.7,0.4l-1.1,-1.2l-2.8,1.7l-0.9,2l-2.1,0l-1.6,-1.4l-2.6,-1.2l-1.7,1.1l-0.9,1.5l-1.5,1.7l-1.6,0.6l-1.1,1.2l0.1,1.7l-0.4,2.6l-0.1,2l-0.2,1.2l0.8,3.1l-0.3,1.1l-1.5,1.6l0.3,1.3l3.5,0l30.5,0.6l0,-0.5l0.2,-2.7l-0.2,-1l0.1,-2.6l-1.2,-1.6l-0.3,-2.9l-1,-2.5l-3.4,-0.2l-0.7,-2l-1.1,-1.5l-0.2,-0.4l-0.1,-1.2l-0.3,-0.6zM977.5,759.2l-4.8,1.4l1.3,-3.5l-1,2.7l-2.8,-0.7l-2.7,-0.8l-1.2,0.3l-2,2.1l-1.1,1.7l-0.1,1.9l1.1,1.7l0.5,2.4l-1.5,1.5l-0.1,2.1l1.8,1.3l2.9,0.8l1.9,-0.5l2.9,0l0.3,2.3l0.6,2.9l2.6,0.7l0.7,0.9l2.8,0.3l0.3,3.2l2.7,-0.4l0,-2.9l-0.4,-1.9l1.3,-1.9l3.4,-0.7l0.1,-2l0.4,-5.3l-1.5,-1l-1.9,-0.5l-1.6,-0.1l-1.7,-1.8l-1.3,-1.4l1.3,-3.6zM932.4,788.2l0.2,-0.9l-2.1,-2.1l0.9,-1.9l0.4,-2.1l-1.8,-2.1l0,-2l-2.7,0.1l-1.4,-1.9l-2.7,-0.5l-1.6,-0.5l-1.8,0.6l-0.9,1.6l-1,2l-0.5,2.7l-2.1,-0.2l-1.1,2.4l0,0.2l0.1,0.2l1.3,13.4l1.8,1.4l1.8,0.5l1.9,0.2l2,-0.7l5.1,-2.9l1.4,-2.4l-0.3,-2l1.6,-0.7zM882.9,812.1l1.5,-2.2l1.8,-1.9l-0.5,-2.4l-2.3,-1.7l1.9,-2.6l0.6,-1.4l-1.2,-1.6l0.8,-1.6l-1.6,-0.9l-2.3,-0.2l-1.5,2.1l-2.1,1.1l-2,-1.2l-1.8,1.5l-1.1,1.6l-0.6,1l-1.9,1.8l-1.3,0.2l-1.2,1.9l-2.1,-0.8l-2.3,2.6l-1.7,-2l-3.1,0.1l-1.6,1.4l-2.7,-0.4l-1.8,0.7l0.2,2.7l0.7,2.1l0.6,1.5l-1.4,2.2l0.1,2l2.1,1.1l1.5,-0.6l2.6,0.5l0.9,2.4l1,1.2l2.5,-0.3l1.4,1.2l0.9,1.8l2.3,1.6l1.5,0.6l2,-1.4l0.9,-1.8l1.1,-2.7l1,-1.3l1.2,-1.7l2.5,0l2.2,-2l0.3,-1.1l0.5,-1.7zM927.6,837.7l-19.2,-5.5l-4.8,1.8l-1,1.3l0.6,2.1l-0.7,1.9l-1.3,2.4l0.1,1.4l2.1,1.3l0.2,2.5l1.6,1.2l-3.1,2.7l-0.6,1.9l2,1.7l2,-1l1.2,-0.3l2.5,0.1l2.3,1.3l1.6,1.2l1.6,-2.6l2.4,0.6l-0.4,2.3l2.8,-0.2l2.1,0.5l1.1,2.6l1.3,0.5l2.4,0.4l0.1,-1.6l0.8,-2l0.1,-1.9l1,-1.6l-0.4,-2.1l1,-2.3l-2,-1.6l-1.3,-1.1l0.9,-3.3l-0.7,-2.5z"/>
<path fill="#abdce0" d="M116.2,844.2l1.2,-1.2l0.6,-0.6l-2.6,1.5zM127.7,837.6l1.9,1l0.1,2l1.6,0.8l2.8,-0.3l1,1.8l0.4,-2.6l1.5,-0.9l0.7,-2.6l-0.2,-2.4l0.9,-0.8l1.5,-1.8l1.2,-1.6l2.4,-2.3l0.1,-1.5l0.8,-2.1l0.5,0.1l1.6,-0.1l1.7,-2.5l2.7,0.5l2.3,-0.5l1.4,2l2,0.2l2.7,-1.5l1.6,1.1l0.3,3.7l1.4,1.8l2.5,-0.7l0.1,2.6l1.4,1.2l1.9,0.6l2,0.1l1,3.1l3.1,-0.4l1.7,-2.1l1.7,1l1.8,2.2l2.4,-0.9l2.4,1l1.2,1.4l1.8,-0.7l2.3,1.7l0.3,-0.4l0.1,-1.9l0.7,-2.5l2.6,-1.4l-0.5,-2.1l-0.9,-1.4l-0.2,-2.3l-2,-1.8l-1.6,-1.1l-0.5,-1l-2.4,-1l-1.3,-1.5l-0.7,-1.9l-1.3,-1.5l-2.4,-0.4l-0.7,-2.5l-0.7,-1.6l-0.8,-2.1l1.3,-1.6l-1.3,-1.3l-3.7,-3.5l-11,-4l-2.5,-0.6l-1.9,-1.5l0.6,-2.5l-0.8,-1.4l-0.7,-2l-0.6,2.4l-2,1.6l-2.6,-1.3l-3.2,-1.8l-3.8,-0.5l-3.4,1.5l-1.5,2.9l1,3.5l2.9,1.9l3.1,1.8l1.9,2l-0.6,2l-2.5,1.2l-3.6,0l-3.8,0.5l-2.4,2.4l-1.8,3.2l-3,2.2l-3.6,1.3l-3,0.9l-2.2,-1.8l-2.9,-0.7l-3.9,1.7l-2.1,2.8l-0.3,4.3l1,4.7l2.3,3.3l3.4,1.6l3.4,-0.7l2.5,-1.7l1.1,1.1l0,2l-0.9,0.8zM556.6,739.4l0.5,-2.4l-2,-1.4l0.7,-2.2l-0.9,-2.1l-2.3,-0.7l-0.4,-2.7l-1.6,-1.6l-2.2,-1.3l-1.9,-0.2l-3.1,0.5l1.7,3.8l-0.4,1.7l-4.1,-0.3l1.7,3.6l-5.5,0.2l3.7,3.2l-2.1,1.8l2.4,1l0.1,2.4l1.6,1.4l1.8,1.1l0.8,0.3l2,-2l1.1,0.2l2.7,-0.2l1.7,-0.1l1.9,-1.8l1.9,-0.4zM294.2,833.3l1.9,-0.2l1.1,-3l1.1,-1.8l3.4,0.8l0.9,-1.1l2.5,-0.9l-0.3,-2.5l-2.2,-0.5l-0.1,-1.8l0.5,-2.1l0.2,-2l-1.9,-1.6l-1.3,-1l-1.3,-1.8l-2,1.4l-1.7,-0.9l-2.5,-2.3l-1.7,-1.7l-2.2,1.6l-1.9,0.9l-1.1,0.6l-1,2.1l-0.5,2l-2.7,-0.3l-0.4,2.8l-1.9,0.8l-2.4,0.1l-1,3.5l-1.9,0.6l-1.8,1.1l-1.8,-1.8l-1.4,-1.3l-2.8,0.1l-1,-0.8l-2.2,-1.3l-1.2,1.6l-2.1,0.6l-2.5,1l-1.5,0.5l-2.4,1l-1.4,-0.4l-2.5,0.2l-1.1,1.9l0.5,2l1.8,1.2l1.9,2.6l1.1,0.8l0.9,2.6l-0.4,2.3l-2.5,1.9l0.8,1.5l2.3,1.9l-1.2,2.2l2.8,-0.6l1.1,1.4l2.6,-1.6l2.2,0.2l1.9,0.6l19.8,0l-0.1,-2.5l0,-2l2.4,-1.6l0.9,-0.8l1.8,-3.4l1.3,-1.8l1.2,-2.2z"/>
<path fill="#a8d9de" d="M165.1,828.4l-2.5,0.7l-1.4,-1.8l-0.3,-3.7l-1.6,-1.1l-2.7,1.5l-2,-0.2l-1.4,-2l-2.3,0.5l-2.7,-0.5l-1.7,2.5l-1.6,0.1l-0.5,-0.1l-0.8,2.1l-0.1,1.5l-2.4,2.3l-1.2,1.6l-1.5,1.8l-0.9,0.8l0.2,2.4l-0.7,2.6l-1.5,0.9l-0.4,2.6l0.4,2.6l1.9,1.2l1.7,0l1.4,-1.1l2.1,-1.6l0.1,-1.4l1.9,-1.9l2,-0.7l1.4,-1.2l0.7,-1.7l1.3,2.2l0.6,1.5l3,0.5l1.2,-1.3l2.2,0.4l2.8,-0.5l0.7,-1.6l2.7,0.6l0.6,2l0.9,1.4l0.8,2.2l-0.1,1.7l2,1.5l1,1.4l-0.2,2.1l0.4,2.7l0.7,1.3l2.2,0.8l1.6,-1.5l2.1,-0.8l2.8,-0.7l8.8,-6.3l3.1,-7.5l-2.3,-1.7l-1.8,0.7l-1.2,-1.4l-2.4,-1l-2.4,0.9l-1.8,-2.2l-1.7,-1l-1.7,2.1l-3.1,0.4l-1,-3.1l-2,-0.1l-1.9,-0.6l-1.4,-1.2zM241,904.9l-2.1,1.4l-1.9,0.2l-1.2,-0.7l-2,0.7l-14.7,14.7l2.1,0.2l2.2,1.4l1.5,1.4l0.3,2l2.1,1.5l1.8,-0.2l1.9,-0.7l0.1,-2.2l1.8,-1l2.9,-0.5l1.4,-0.7l-0.2,-2.8l0.2,-3.1l3.7,0.6l2.2,0.2l-0.2,-2.9l2.4,-0.4l-1,-2l1.8,-3.3l-0.9,-1l-1.8,-2.2l-0.6,-0.3zM561.6,748.8l-4.5,1.1l-0.8,1.2l2.2,3.3l-1.5,1.7l-3,0.2l-0.2,2.8l0.4,0.5l1.7,1.9l2.6,-0.2l2.3,-1.1l1.8,0.6l1.9,0.6l1.9,-2.8l2,0.2l-0.9,-1.3l-1.2,-1.4l-0.9,-2.4l0.2,-1.7l-1.1,-1.8l-1.9,-1.3l-0.2,-2.1l-2.2,-0.4zM310.9,831.7l-1,-1.6l-2.2,0.4l-0.7,-1.9l-1.9,-1.5l-2.5,0.9l-0.9,1.1l-3.4,-0.8l-1.1,1.8l-1.1,3l-1.9,0.2l-3,-1.2l-1.2,2.2l-1.3,1.8l-1.8,3.4l-0.9,0.8l-2.4,1.6l0,2l0.1,2.5l0.3,1.2l1.1,2.1l1.2,1.1l3.4,16.8l1.9,0.6l2.6,-0.6l1.8,-0.4l1.2,-1.9l2.2,-0.8l1.9,0.2l1.8,-1.3l1.4,-0.5l-1.9,-9.4l1.8,-2.5l0.4,-1.2l0.6,-2.6l-0.2,-1.6l5.5,-12.4zM289.2,934l-0.5,-1.5l-0.6,-1.7l-2.7,-1l-1.7,-0.8l-0.7,-2.2l-0.5,-2.4l-1.6,-1.4l-2.5,-0.4l-1.2,-2.1l0,-2.5l-0.1,2.3l-1.8,1.1l-1.9,1l-1.2,2.8l-0.9,1.3l-1.5,1.4l-0.8,1.9l0.7,1.4l-1.6,2.4l0.1,2.5l0.6,1.7l0.9,2.4l-0.6,2.1l-2.8,1.7l-0.3,1.6l-1,2.1l-0.4,2.2l-0.8,2.1l-1,1l18.6,0.5l0,-0.3l0.4,-1.1l1.2,-2.4l0.4,-2.1l0.6,-1.7l1.7,-2.1l2.2,-6.5l1.5,-1.5z"/>
<path fill="#b1e0e3" d="M202,825.1l-2.4,-0.7l-1.3,3l-2.3,1.1l-2.3,0.3l-0.6,2.1l0.5,2.1l-2.6,1.4l-0.7,2.5l-0.1,1.9l-0.3,0.4l-3.1,7.5l0.2,1.9l1.3,1.1l1.4,1.4l1.4,2l1,1.7l0.1,2.3l1.1,1.8l1.3,1l1,1.4l2.1,0.7l2.5,1l1.4,1l1.7,-0.2l2.4,0.2l1.3,-2.5l0.9,0l2.4,0.8l1.7,-1.8l7.6,9.3l1.6,2.1l2.4,-3.5l1.9,-1.4l2.5,1.2l1.9,1.6l0.5,-2.6l2.1,-0.1l1,-1.3l1,-2.1l-0.7,-9.6l1.4,-0.9l1.7,-2l0.7,-1.7l1.2,-1.6l-0.8,-2.6l-1.6,-1.4l-0.3,-1.8l-0.1,-2.6l-0.1,-1.3l-1.5,-1.5l-1.1,-1.8l-0.2,-2.6l-1.2,-1.7l-1.3,0.4l-1.8,-1.7l-1.2,-1.2l-2.3,-0.7l-1.9,0.4l-2.2,-1.3l-1.2,-1.9l-1.6,-0.9l-2,-1.4l-1.5,-0.1l-3.1,0.4l-0.8,-2l-2.2,-0.6l-1.5,-0.7l-2,0.9l-0.7,1.7l-2,1.6zM500.8,754.8l0,-2.3l1.3,-1.5l1,-2.1l1,-1.9l1.1,-1.5l1.5,-1l0.5,-2l-0.3,-2.6l-3.2,-1.4l-1.1,-1.5l-1.8,-1l-2.1,-0.1l-2.1,1.5l-1.3,-0.2l-2.2,-1.3l-2.2,0.8l-2,0.3l-3,8.2l2.1,1.3l0.4,2.3l0.8,0.9l0.5,1.9l1.3,1.4l2.3,0.7l0.6,2.6l0.5,1.8l-0.5,1.3l2,9.7l2,1.5l0.6,2.3l1.6,2.3l-0.2,1.7l1.2,0.9l2.2,0.1l1.9,-0.2l2.2,0.1l2.3,-1.3l2.1,0.1l1.2,1.9l1.8,0.9l-0.1,-1.5l1.2,-1.6l-1.9,-1.5l1.7,-2.7l2.5,-1.7l-1.4,-2.4l-1.9,-2l-1.7,-2.2l2.7,-1.5l-1.5,0l-2.1,-1.3l-1.1,-0.1l-1.9,-0.8l-2,-1.5l-2.3,-0.7l-1.8,-0.5l-1.9,1.2l-1.7,-1.4l-2.3,-0.6l2.6,-0.3zM885.6,755l-1.5,-2.3l3,-1.3l-0.1,-1.3l0.5,-2.3l1,-3.3l-1.7,-1.4l-1,-2l-1.5,0.7l-2.1,-0.5l-2,-1.6l-2.2,0l-2.3,0.9l-1.5,0.5l-1.2,1.9l1.5,2.1l2.6,2.4l-2.8,1.3l-1.1,2.5l0.9,1.5l-1.8,2.3l0.2,1.2l3.2,2.2l-0.9,1.7l-0.6,2.2l-0.1,0.3l1.4,0.6l1.9,1.6l3.1,0.4l1.7,0.1l-0.1,3.3l0.5,3.4l3.3,-1l4,8l2.4,0.5l0.9,-3.3l0.8,-0.8l1.9,-1.7l2.6,2l1,-2.7l1.1,-2.1l-1,-2.1l1.8,-2.1l0,-1.7l-1.6,-2.5l0.6,-1.7l-1.3,-1l-2.5,0.5l-1.2,-1.8l-2.3,0.5l-2.4,1.3l-1.8,-1.1l-1.9,-1.2l-2.1,0.3l-1.7,0.1l1.7,-1zM321.4,847.8l-0.8,-2.1l1,-1.5l1.7,-1.6l-1,-2.4l0,-3l-3,0.3l-3.8,2l-1.8,-1.5l1.2,-4l-1.3,-2.4l-2.9,1.6l-5.5,12.4l0.2,1.6l-0.6,2.6l-0.4,1.2l-1.8,2.5l1.9,9.4l1.6,-0.1l1,3.6l2,0.1l3.3,-1.8l2.6,-0.1l1,2.5l1.6,0.8l4.3,-2.4l-2.3,-13.6l2.9,-0.5zM296.4,892l0.6,3.2l-1.1,2.5l-2.2,0.8l-2.5,1.1l-0.7,-2.8l-2.7,-0.3l-2.5,3l-2.8,0.4l-0.9,-2.2l-2,-1.6l-1,2.1l-2.8,-0.4l-0.6,3.1l-2.5,-1.7l-1.2,2.8l-1.8,0.4l1.1,1.2l-0.2,2.2l0.5,2.3l2.4,0.7l-0.8,3.5l1.5,1.5l2.3,1.5l0.8,2.3l2,1.2l2,0.3l2.2,-1.6l1.3,-1.1l2.6,2l1.3,-0.2l2.3,-2.3l1.4,1.9l2.3,-0.2l2.2,-1.1l1.9,0.7l2.7,0.4l1.5,0l2.3,-1.2l1.3,-1.8l1.6,0.7l1.4,-1.6l1.8,-18.8l-12.3,-3.1zM1068.8,764.9l0.2,2.8l-1.7,1.4l-1.3,1.6l-2.4,0.2l-1.3,0.7l-0.7,3.5l-0.7,1.7l-2.5,-0.2l-0.1,1.9l-1,1.6l-2,1.7l-1.9,-1l-1.4,-3.6l-1,-0.9l-2.4,0.2l-2.2,0.6l-1.5,-1.1l-1.7,2l1.1,2.4l0.4,1.7l-1.5,1.8l0.2,1.9l1.2,2.7l-1.2,1.2l-0.5,2.3l0.3,2.1l-1.4,1.5l-3.2,-1.2l-1.1,1.6l0,1.8l-1.5,2.6l-0.7,2.8l0.1,1.1l2.1,2.7l0.1,1.6l1,2l1.4,1.6l2.5,0.5l1.7,-2.4l2.1,1.4l1.9,-1.5l1.9,1.8l3.5,-2.9l3.1,-12.7l-0.6,-2.3l1.6,-2.2l1.7,-1.3l-0.1,-3.4l1.6,-1.2l2.9,0.4l1.4,-0.4l1.9,-1l2,-2.2l1.8,-0.6l2.2,0.8l1.2,1.7l2.5,-1.9l1.4,2l2.3,0.2l0.2,-3.3l1.8,-2.1l2.6,1.4l1.7,-0.5l-1.1,-1.5l-1.1,-2.2l0.6,-2.4l-7.3,-8.1l-1.1,-2.3l-0.6,-2.3l-2.2,-0.2l-2.7,-0.3l-0.1,0l-2.1,1.8z"/>
<path fill="#a9dade" d="M177.5,858l2.7,1l3.6,0.3l-1.2,2.5l-0.2,2.4l0.1,1.8l-1.6,3.4l2.4,0.7l1.2,2.4l-0.8,2.7l0.5,2.4l1.6,1.2l1.9,1.4l0.1,2.6l2.1,-0.1l3,-0.3l0.8,2.1l2.3,0.1l1.8,-1.4l1.8,-1.4l1.7,1.7l2.6,-2.5l2.4,0.3l1.7,2.5l1.5,-0.7l2.6,0.5l1.8,-1.8l0.9,-1.4l2.2,-0.5l0.7,-2.6l-2.9,-3l2.6,-1.7l1,-0.6l1.2,-2.2l-7.6,-9.3l-1.7,1.8l-2.4,-0.8l-0.9,0l-1.3,2.5l-2.4,-0.2l-1.7,0.2l-1.4,-1l-2.5,-1l-2.1,-0.7l-1,-1.4l-1.3,-1l-1.1,-1.8l-0.1,-2.3l-1,-1.7l-1.4,-2l-1.4,-1.4l-1.3,-1.1l-0.2,-1.9l-8.8,6.3l0.1,2.7zM263.9,846.4l-1.9,-0.6l-2.2,-0.2l-2.6,1.6l-1.1,-1.4l-2.8,0.6l-1.8,1.5l-1.2,1.6l0,1.8l2.5,2.7l0.6,1.7l-1.2,1.6l0.5,2l1.1,2.6l-1.7,1.2l-0.6,2.3l1.4,1.5l0.9,0.1l2.2,-0.3l1.8,2l0.3,2.1l3.7,-1.3l1,2.8l-1.2,4.3l3.4,-1l2.2,-0.2l0.9,2.3l0.8,-0.3l0.8,-2l0.7,-1.4l1.7,-1.1l2,-1.7l1.7,-0.6l2.6,-1l1.1,-0.4l2.7,1.1l2,2.5l1.9,-2.2l1.9,-2.4l1.7,-0.6l-3.4,-16.8l-1.2,-1.1l-1.1,-2.1l-0.3,-1.2z"/>
<path fill="#a0d3d8" d="M206.3,881.3l-2.4,-0.3l-2.6,2.5l-1.7,-1.7l-1.8,1.4l-1.8,1.4l-2.3,-0.1l-0.8,-2.1l-3,0.3l-2.1,0.1l-1.7,0.8l-1.6,1.8l-1,2.1l-2.3,0l-2,1l-1,2.2l-1.5,1l-1.1,1.7l-2.1,1.8l-1.4,0.1l-1.9,1.6l0.1,0.6l1.7,2.1l0.8,1.3l0.3,2.7l15.6,5.6l0,1.9l0.9,1.4l-5,12.6l0,2.2l2.5,0.8l-0.1,2.4l0.9,2l3.8,-0.8l0.8,0.9l2.1,1.4l2.5,0.7l1.5,-0.5l1.2,-3l1,-2.4l2.6,-1.2l2.8,2.5l1.5,-1.5l0.9,-1.5l0.6,-2.4l4.5,-3.8l-1.6,-1.9l0.2,-2.3l0.4,-1.7l0.5,-2.3l-0.6,-1l-1.5,-2.1l0.5,-2.2l1.4,-1.8l-1.8,-1.8l1.3,-1.5l2.9,-0.4l0.3,-2l0.6,-2.2l-0.6,-2.2l2.5,-1.6l-1.1,-2.3l1.1,-2.9l-2.4,-0.4l-1.7,-2.1l-1.5,-0.1l-0.5,-2.5l-2.6,-0.5l-1.5,0.7z"/>
<path fill="#a6d8dc" d="M217.4,872.6l-2.6,1.7l2.9,3l-0.7,2.6l-2.2,0.5l-0.9,1.4l-1.8,1.8l0.5,2.5l1.5,0.1l1.7,2.1l2.4,0.4l-1.1,2.9l1.1,2.3l-2.5,1.6l0.6,2.2l-0.6,2.2l-0.3,2l-2.9,0.4l-1.3,1.5l1.8,1.8l-1.4,1.8l-0.5,2.2l1.5,2.1l0.6,1l-0.5,2.3l-0.4,1.7l-0.2,2.3l1.6,1.9l1.6,1.3l2.3,-0.1l1.5,-0.9l14.7,-14.7l2,-0.7l1.2,0.7l1.9,-0.2l2.1,-1.4l1.8,0.3l0.3,-2.1l-3.7,-1.2l0.1,-2.5l2.4,-2.8l-1.6,-1.3l-3.2,-1.7l-1.2,-0.6l0.3,-3l-0.2,-2.1l-1.7,-1.5l0.5,-2.2l1.2,-2.3l-1.7,-1.4l-1.3,-1.5l0.8,-3l-2,-0.2l-1.2,-2.2l0.8,-2l-1.5,-1.8l-1.9,-1.6l-2.5,-1.2l-1.9,1.4l-2.4,3.5l-1.6,-2.1l-1.2,2.2zM577.9,747.1l-0.8,1.8l0.7,1.8l-0.4,2l2.5,2.4l0,1.4l0.3,2.3l1.9,0.5l2.5,-1.7l2.3,-0.8l1.7,0.9l-1.2,-2.2l0.3,-2.2l-0.7,-1.7l1.4,-1.2l-1,-2.4l-1.3,-2l-1.9,-0.8l-1.8,-1.5l-5.7,1z"/>
<path fill="#b0dfe3" d="M254.5,844.2l-2.3,-1.9l-0.8,-1.5l2.5,-1.9l0.4,-2.3l-0.9,-2.6l-1.1,-0.8l-1.9,-2.6l-1.8,-1.2l-0.5,-2l1.1,-1.9l-0.8,-0.3l-1.7,-0.5l-2.8,1.5l-1.1,-2l-2.3,-0.3l-1.9,3.3l-2.4,-2l-0.9,2.3l-1.3,1.1l-2.1,2l1.2,1.7l0.2,2.6l1.1,1.8l1.5,1.5l0.1,1.3l0.1,2.6l0.3,1.8l1.6,1.4l0.8,2.6l2.3,1.4l1.9,-4.4l2.5,0.4l1.5,4.8l1.8,0.4l2.7,-2.6l1.8,-1.5zM549.3,756.6l-0.5,-2.5l-0.5,-2l-1.1,-1.8l0.6,-1.3l-0.7,-1.8l-2,-1.7l-0.8,-0.3l-0.1,2.6l-1.4,1.3l-3.7,0.3l-1.4,1.1l-0.6,3.1l-0.6,2l0.3,2.3l0.6,1.7l2.7,1.2l1.3,0.4l2.8,0.6l0.6,-2.4l1.5,-0.3l2.3,-0.5l1.8,-0.7zM927.9,691.1l-1.9,-2.7l-2.3,0.5l-1.4,3.4l-2.4,1.4l-2,-2.9l-2,0.3l-1.5,1.4l-0.8,0.8l-2.9,2.4l4,1.8l-0.5,2.5l0.2,1.3l0.2,2.2l-1,2l-2.7,3.3l-2.7,0.5l-1.2,1l-1.5,0.8l-2.3,1.3l0.5,2.1l0.7,2l0.4,1.8l-2.7,1.9l2.5,2.2l2,0.6l2,1.6l-0.2,2l2.9,0.6l1.7,-0.2l2.1,1.9l1.4,1l2.4,-1.4l2.2,2.6l1.8,-0.7l0.7,1.3l2.2,0.3l1.1,1.8l0.3,2.2l1.5,-1.6l2.6,1.1l1.4,0.5l2.2,-0.2l1.1,-0.7l2.1,-1.4l0.7,-0.6l-2.2,0.7l-0.6,-2.5l2.2,-4.4l2.9,-3.7l1.3,-0.3l-2.4,-1.1l0.1,-1.6l-1.8,-2.1l1.1,-2.6l-0.4,-2.2l0.4,-0.6l-0.6,-1.7l-1.5,-2.2l0.1,-1.8l3.1,-2.6l0.3,-1.7l-1.4,-2.4l-1.4,-0.9l-2.8,-1.1l-2.6,0.3l-1.4,-1.6l-0.3,-1.9l-1.6,-2.6zM333,884.9l0.3,-2.2l0.2,-2l-4.1,-1.1l0.6,-1.5l0.2,-4l-1.8,-1.2l-2.4,-0.1l0.4,-3.2l-0.2,-2.4l-3.6,0.4l-0.7,-2.1l-4.3,2.4l0,1.9l-0.9,1.8l-1.2,1.1l-0.2,1.9l0.5,2l-0.3,1.4l0.8,2.2l-0.4,2.1l-0.5,1.5l-1,1.7l1.7,3.2l0.9,2.1l-2.2,0.7l-1.2,2.2l1.6,0.9l2.2,0.7l1.3,-0.6l1.8,0.9l1.5,-2.2l2.1,1.5l3.2,0.9l2.3,0.6l1.5,-2.9l-0.7,-1.4l0.2,-1.9l0.5,-2.5l0.9,-1.9zM1012.5,829.5l-2.2,-0.4l-2.4,0.3l-1.1,1.8l-2.7,0l0.2,2l-2.2,2.1l-1.5,0.6l-1.8,-0.5l-2.4,-0.6l-1.9,1.9l-1.9,2.4l-2.3,0.4l-1.9,-1.1l-5.1,13.8l0,2.2l5.8,-0.4l5.5,-0.5l2.6,-0.4l2.7,1.8l5.6,0l6.5,-0.5l2.8,-2.8l2.7,-3.6l4.5,-2.7l4.6,-2.7l4.5,-4.1l3.5,-1.3l3.3,0.4l6.1,-6.1l0,-3.2l2.5,-2.5l4.5,-0.9l3.8,-1.9l2.3,-3.6l3.9,-1.8l2.3,-0.7l-2,-0.8l-1.6,-1.4l-0.7,-2.4l-2.5,-0.2l-1.8,-1.1l-1.1,-1.9l-3.5,2.9l0.4,3l-7.8,13.1l-0.9,-2.3l-2.1,-1.4l-2,0.4l1.3,-3.8l0,-2.5l-3.9,-0.2l-2.9,-2.1l-1,3l-1.6,3l-3.2,0.2l-2,-2.3l-1.3,2.1l-2,0.2l-0.6,2.5l-1.4,1.5l-1.8,-0.1l-1,0.2l-0.8,1.8z"/>
<path fill="#aedde1" d="M237.6,849.5l-0.7,1.7l-1.7,2l-1.4,0.9l0.7,9.6l1.5,0.4l2.1,1.2l2.1,-0.3l1.3,-0.7l2.9,-1l2,-0.2l0.9,0.7l2,2l2.2,-0.4l0.6,-2.3l1.7,-1.2l-1.1,-2.6l-0.5,-2l1.2,-1.6l-0.6,-1.7l-2.5,-2.7l0,-1.8l1.2,-1.6l-2.7,2.6l-1.8,-0.4l-1.5,-4.8l-2.5,-0.4l-1.9,4.4l-2.3,-1.4zM885.8,741.1l1,2l1.7,1.4l-1,3.3l10.9,8.1l-1.3,-2l2.8,-2.1l1.6,-1.2l-2.2,-3.2l-1,-2.5l3.3,-0.8l0.4,-2.7l-0.5,-0.4l-1.7,0.8l-2.4,-1.7l-2,0.2l-1.8,1.4l-1.5,-1l-2,-1.5l-2.3,0.4zM1008.2,798.6l2,1.4l1,2.7l-0.9,0.9l-1.9,2.9l0.2,1.4l1.2,2.3l-1.6,0.6l-1.1,1.8l-1.4,0.6l2.7,2.9l-4.3,0.9l-0.9,1.6l3.2,2.8l-1,2.3l0.4,2.4l-3.8,0.6l1,2.5l1.1,2l2.7,0l1.1,-1.8l2.4,-0.3l2.2,0.4l3,-1.2l0.8,-1.8l1,-0.2l1.8,0.1l1.4,-1.5l0.6,-2.5l2,-0.2l1.3,-2.1l2,2.3l3.2,-0.2l1.6,-3l1,-3l2.9,2.1l-0.5,-2l1,-1.9l2.9,-2l0.1,-1.8l-1,-2l-0.1,-1.6l-2.1,-2.7l-0.1,-1.1l0.7,-2.8l1.5,-2.6l0,-1.8l-1.1,-2.2l-2.8,0.9l-1.2,-1.7l0.9,-3.9l-2.8,-0.1l0.7,-2.4l-1.3,-1.2l-2.5,-1.9l0.2,-2.1l-2.4,-0.4l-1.2,0.1l-1.1,3.5l-2.5,0.7l-1.6,-1.7l-2.7,-0.9l-1.5,-0.1l-2.4,0.6l-2,1.9l-0.7,0.9l-2.5,0l-0.4,2.3l0.6,1.5l-0.6,2.9l2.4,1.9l0.8,1.6zM987.9,810.8l2.6,-1.6l1.7,1.4l0.5,-0.3l1.5,-2l1.5,-1.9l-0.3,-1.7l-2.4,-2.8l3.9,-1.5l0.8,-1.2l0.9,-2.1l-1.5,-1l-2.9,0.5l-0.9,-0.9l-1.9,-2.2l-2.7,0.9l-1.7,0l-1.4,-2.2l-1.6,-0.8l-1.6,-1.3l-1.9,-0.4l0,2.3l0.3,1.8l1.4,2.4l-0.2,1.9l-0.7,2l1.4,1.2l1.1,2.6l1.3,1.3l1.2,1.5l-0.8,3z"/>
<path fill="#acdce0" d="M231.4,871.6l-0.8,2l1.2,2.2l2,0.2l-0.8,3l1.3,1.5l1.7,1.4l1.7,-0.6l1.8,-0.3l2.1,0.6l2.1,-0.1l1.3,0.4l2.1,-2l3.1,-1.2l-3.3,-2.9l1.5,-2.3l2.4,-0.6l-0.5,-2.3l3.5,-1.7l-0.9,-2l-1.4,-1.5l-2.2,0.4l-2,-2l-0.9,-0.7l-2,0.2l-2.9,1l-1.3,0.7l-2.1,0.3l-2.1,-1.2l-1.5,-0.4l-1,2.1l-1,1.3l-2.1,0.1l-0.5,2.6zM545.9,722.6l-1.6,-1.1l-0.8,-2.5l-1.3,-0.3l-2.1,-0.2l-1.5,-1.6l-1.7,-0.2l-2.2,-0.6l-0.9,-1.7l-2.4,-0.6l-0.8,1.7l-1.7,2l-2.2,0.7l-0.7,1.7l-2.1,1.7l-0.4,2.6l-1.5,0.7l3.1,10.8l1.8,1.1l0.1,2.2l2,1.1l2.3,0.2l1.5,-1.9l1.9,-0.4l1.4,2.3l2.3,-1l2.1,-1.8l-3.7,-3.2l5.5,-0.2l-1.7,-3.6l4.1,0.3l0.4,-1.7l-1.7,-3.8l3.1,-0.5zM562.4,746.8l0.2,2.1l1.9,1.3l1.1,1.8l-0.2,1.7l0.9,2.4l1.2,1.4l0.9,1.3l-2,-0.2l-1.9,2.8l-1.9,-0.6l-1.8,-0.6l-2.3,1.1l3.2,9.6l1.7,0.2l1.7,2.1l1.5,-0.3l0.8,-0.4l0.5,-1.9l1.9,-1.7l2,-0.5l0.5,-1.4l-0.3,-2.8l1.8,-1.3l-1.5,-1.7l-0.9,-2l-2.1,-0.2l2.6,-0.6l0.3,-2l-1.8,-3.2l0.5,-1.8l3.3,-0.7l0.7,-1.6l-0.9,-3.4l1.1,-1.2l-1.3,-0.9zM887,750.1l0.1,1.3l-3,1.3l1.5,2.3l-0.7,2.5l-1.7,1l1.7,-0.1l2.1,-0.3l1.9,1.2l1.8,1.1l2.4,-1.3l2.3,-0.5l1.2,1.8l2.5,-0.5l0.4,-2.5l-1.1,-1.5l-10.9,-8.1zM992.9,814.5l-1.8,-1.3l1.1,-2.6l-1.7,-1.4l-2.6,1.6l-2.4,-1.1l-0.7,0.3l-0.8,1.5l-2.1,1l-0.3,1.3l-1.8,1.3l-1.7,1.4l-0.4,2l-0.2,2.3l-0.9,1.9l-0.5,1.7l0.6,2.8l1.2,1l1.6,0.2l1.3,1.5l1.5,0.8l1.8,1.3l2.1,1.2l-0.4,2l0.5,2l2.1,1.2l1.9,1.1l2.3,-0.4l1.9,-2.4l1.9,-1.9l2.4,0.6l1.8,0.5l1.5,-0.6l2.2,-2.1l-0.2,-2l-1.1,-2l-2.5,-0.4l-1,-2l-1.5,-1.4l-2.2,-1.3l-1.3,-1.9l-0.9,-1.5l-0.5,-1.3l0.4,-2.6z"/>
<path fill="#aadbdf" d="M234.8,884.2l-0.5,2.2l1.7,1.5l0.2,2.1l-0.3,3l1.2,0.6l3.2,1.7l1.6,1.3l-2.4,2.8l-0.1,2.5l3.7,1.2l-0.3,2.1l0.6,0.3l1,-2.5l2.7,-0.5l2.6,1.1l0,-3.1l2.6,-0.3l0.1,-2.5l-3.7,-1.9l0.9,-0.9l3.6,-1.8l1,-2.5l-0.3,-2.2l-1.8,-1.3l0.2,-2.1l-2,0l-1,-1.5l-1,-2.5l-1.2,-1.1l-2.1,2l-1.3,-0.4l-2.1,0.1l-2.1,-0.6l-1.8,0.3l-1.7,0.6zM554.5,741.6l-1.9,1.8l-1.7,0.1l-2.7,0.2l-1.1,-0.2l-2,2l2,1.7l0.7,1.8l-0.6,1.3l1.1,1.8l0.5,2l0.5,2.5l1.1,1.3l1.5,0.9l1.9,0.3l0.2,-2.8l3,-0.2l1.5,-1.7l-2.2,-3.3l0.8,-1.2l4.5,-1.1l-1.4,-2.4l-1.7,-0.8l-1.4,-2.9l-0.7,-1.5zM316.7,871.6l0.9,-1.8l0,-1.9l-1.6,-0.8l-1,-2.5l-2.6,0.1l-3.3,1.8l-2,-0.1l-1,-3.6l-1.6,0.1l-1.4,0.5l-1.8,1.3l-1.9,-0.2l-2.2,0.8l-1.2,1.9l-1.8,0.4l-2.6,0.6l-1.9,-0.6l-1.7,0.6l-1.9,2.4l-1.9,2.2l-2,-2.5l-2.7,-1.1l-1.1,0.4l-2.6,1l-1.7,0.6l-2,1.7l-1.7,1.1l-0.7,1.4l-0.8,2l-0.8,0.3l-1.7,2l-0.5,1.4l0.5,1.6l-0.3,2.6l0.9,1.2l-1,2.3l-1.8,2l1,1.7l-0.1,1.6l1.8,2.6l0.2,1.3l-1.2,2.2l1.8,1.3l2,0.9l1.8,-0.4l1.2,-2.8l2.5,1.7l0.6,-3.1l2.8,0.4l1,-2.1l2,1.6l0.9,2.2l2.8,-0.4l2.5,-3l2.7,0.3l0.7,2.8l2.5,-1.1l2.2,-0.8l1.1,-2.5l-0.6,-3.2l2.7,-0.2l12.3,3.1l2.2,-1.2l1.2,-2.2l2.2,-0.7l-0.9,-2.1l-1.7,-3.2l1,-1.7l0.5,-1.5l0.4,-2.1l-0.8,-2.2l0.3,-1.4l-0.5,-2l0.2,-1.9zM576.5,764.6l0.8,0.8l0.4,2.3l2.3,1.8l1.2,1.7l2.4,-0.7l1.8,-0.7l1.3,-1.8l1,-1.9l-0.1,-2.7l1.1,-1.4l2.1,-0.9l1.2,-0.7l-2.5,-1.3l-0.9,-1.4l-1.7,-0.9l-2.3,0.8l-2.5,1.7l-1.9,-0.5l-1.7,0.1l-1.9,0.3l-1.3,1.7l-1,2.1z"/>
<path fill="#a4d6db" d="M214.4,939.3l1.8,3.5l1.9,-0.7l2.1,-4.3l2.2,-0.4l2.9,2l1.2,1.6l2.7,-0.2l1.8,-0.5l0.1,-2.5l1.5,-1.9l-1.3,-1.6l-1.7,-0.6l-0.1,-2.2l2.4,-3.1l-2.8,-0.9l-1.8,0.2l-2.1,-1.5l-0.3,-2l-1.5,-1.4l-2.2,-1.4l-2.1,-0.2l-1.5,0.9l-2.3,0.1l-1.6,-1.3l-4.5,3.8l-0.6,2.4l-0.9,1.5l1.3,1.5l1.5,1.2l0,3.5l-0.6,2.2l-0.2,1.8l2.5,1.5zM574.3,763l1,-2.1l1.3,-1.7l1.9,-0.3l1.7,-0.1l-0.3,-2.3l0,-1.4l-2.5,-2.4l0.4,-2l-0.7,-1.8l0.8,-1.8l-1.2,-2.4l-1.6,-0.2l-1.1,1.2l0.9,3.4l-0.7,1.6l-3.3,0.7l-0.5,1.8l1.8,3.2l-0.3,2l-2.6,0.6l2.1,0.2l0.9,2l1.5,1.7zM267.7,901.5l-1.8,-1.3l-1.4,-1l-2.2,1.6l-2,-0.9l-1.9,-0.9l-2.2,2.3l-1.6,-0.6l-2.3,-0.5l-2.6,0.3l0,3.1l-2.6,-1.1l-2.7,0.5l-1,2.5l1.8,2.2l0.9,1l-1.8,3.3l1,2l0.5,1.8l2.8,0.2l-0.1,2.1l0.2,1.5l-0.9,2.5l1.3,2.3l1,2.6l-0.6,1.4l-0.2,1.9l-0.8,2.4l1.6,1.3l0.9,1.3l-0.8,1.6l-1.3,1.6l0,2.9l-0.6,1.7l-0.7,1.2l-0.7,2.4l-0.9,1.5l-0.7,1.7l-0.1,2.2l0.1,0.4l17.5,0.5l1,-1l0.8,-2.1l0.4,-2.2l1,-2.1l0.3,-1.6l2.8,-1.7l0.6,-2.1l-0.9,-2.4l-0.6,-1.7l-0.1,-2.5l1.6,-2.4l-0.7,-1.4l0.8,-1.9l1.5,-1.4l0.9,-1.3l1.2,-2.8l1.9,-1l1.8,-1.1l0.1,-2.3l0.1,-0.4l-0.8,-2.3l-2.3,-1.5l-1.5,-1.5l0.8,-3.5l-2.4,-0.7l-0.5,-2.3l0.2,-2.2l-1.1,-1.2z"/>
<path fill="#a7d9dd" d="M242.9,914.4l0.2,2.9l-2.2,-0.2l-3.7,-0.6l-0.2,3.1l0.2,2.8l-1.4,0.7l-2.9,0.5l-1.8,1l-0.1,2.2l-1.9,0.7l2.8,0.9l-2.4,3.1l0.1,2.2l1.7,0.6l1.3,1.6l1.8,1.3l2.7,-0.4l1.4,-4.1l1.5,0.1l2.2,2.8l2.7,-0.4l1.8,-2.9l1.8,0.4l0.8,-2.4l0.2,-1.9l0.6,-1.4l-1,-2.6l-1.3,-2.3l0.9,-2.5l-0.2,-1.5l0.1,-2.1l-2.8,-0.2l-0.5,-1.8zM557.1,742.7l1.4,2.9l1.7,0.8l2.2,0.4l11.4,-3.2l-0.6,-2.2l-0.7,-1.2l-0.7,-1.8l0.4,-2.7l-1.3,-1l-1.8,-0.6l-2.7,-0.1l-1.1,1.8l-2.2,1.5l-2,-1.3l-2.4,-0.6l-1.6,1.6l-0.5,2.4l-0.2,1.8zM268.1,877.7l-0.9,-2.3l-2.2,0.2l-3.4,1l1.2,-4.3l-1,-2.8l-3.7,1.3l-0.3,-2.1l-1.8,-2l-2.2,0.3l-0.9,-0.1l0.9,2l-3.5,1.7l0.5,2.3l-2.4,0.6l-1.5,2.3l3.3,2.9l-3.1,1.2l1.2,1.1l1,2.5l1,1.5l2,0l-0.2,2.1l1.8,1.3l0.3,2.2l-1,2.5l-3.6,1.8l-0.9,0.9l3.7,1.9l-0.1,2.5l2.3,0.5l1.6,0.6l2.2,-2.3l1.9,0.9l2,0.9l2.2,-1.6l1.4,1l1.2,-2.2l-0.2,-1.3l-1.8,-2.6l0.1,-1.6l-1,-1.7l1.8,-2l1,-2.3l-0.9,-1.2l0.3,-2.6l-0.5,-1.6l0.5,-1.4zM572.3,767l-0.5,1.4l-2,0.5l-1.9,1.7l-0.5,1.9l-0.8,0.4l-1.4,9.3l1.7,2l2.6,-2.7l1.6,1.5l1.6,3.9l2.6,-1.8l0.4,-2.6l3,0.1l-0.2,-2.2l0.3,-2.2l3.4,-2.6l-1,-2l0,-2.4l-1.2,-1.7l-2.3,-1.8l-0.4,-2.3l-0.8,-0.8l-2.2,-1.6l-0.5,-0.1l-1.8,1.3z"/>
<path fill="#a5d7dc" d="M245.2,952.1l0.1,-2.2l0.7,-1.7l0.9,-1.5l0.7,-2.4l0.7,-1.2l0.6,-1.7l0,-2.9l1.3,-1.6l0.8,-1.6l-0.9,-1.3l-1.6,-1.3l-1.8,-0.4l-1.8,2.9l-2.7,0.4l-2.2,-2.8l-1.5,-0.1l-1.4,4.1l-2.7,0.4l-1.8,-1.3l-1.5,1.9l-0.1,2.5l0.8,2.3l0.7,1l-0.6,2.7l0,2.2l0.8,1.3l0.8,2.4l11.8,0.3z"/>
<path fill="#a2d5da" d="M232.7,949.8l-0.8,-1.3l0,-2.2l0.6,-2.7l-0.7,-1l-0.8,-2.3l-1.8,0.5l-2.7,0.2l-1.2,-1.6l-2.9,-2l-2.2,0.4l-2.1,4.3l-1.9,0.7l-1.8,-3.5l-2.2,1l-0.5,1.9l-0.8,1.5l-0.7,1.8l-0.1,2.9l-0.6,1.7l-0.1,1.5l24.1,0.6z"/>
<path fill="#9ed1d7" d="M172.4,905.4l0.9,18.5l11.3,1.2l5,-12.6l-0.9,-1.4l0,-1.9l-15.6,-5.6z"/>
<path fill="#a1d3d9" d="M173.1,854.5l-1.6,1.5l-2.2,-0.8l-2.2,0.6l0.6,3l-1.3,1.8l-4,-1.7l-0.2,2.8l0.8,1.6l0.8,2.8l2.1,1.2l1.1,0.4l2.2,1.2l0.2,2.2l1.9,1.7l-0.6,1.2l-1,2.8l1.9,2.8l-1.9,0.9l-2.8,1.2l1.8,3.3l1.1,1.7l-4.8,0.2l-0.8,2.6l0.3,1.7l1.8,0.4l1.8,0.9l0.5,2.6l1.6,1.8l1.9,-1.6l1.4,-0.1l2.1,-1.8l1.1,-1.7l1.5,-1l1,-2.2l2,-1l2.3,0l1,-2.1l1.6,-1.8l1.7,-0.8l-0.1,-2.6l-1.9,-1.4l-1.6,-1.2l-0.5,-2.4l0.8,-2.7l-1.2,-2.4l-2.4,-0.7l1.6,-3.4l-0.1,-1.8l0.2,-2.4l1.2,-2.5l-3.6,-0.3l-2.7,-1l0.6,-2.3l-0.1,-2.7l-2.8,0.7z"/>
<path fill="#bbe6e9" d="M215,693.6l0.1,2.6l-0.2,2.3l-1.3,1.9l-1.7,0.1l-2.3,1.2l0.5,3.2l-0.9,1.7l-3.2,0.6l0.3,1.7l1.8,1.8l2.5,0.3l1.4,1.2l0.8,2.7l-1.1,2.2l0.2,2.1l-0.5,2.5l2.4,1.9l-2.8,2l1.3,0.6l1.5,2.3l0.6,1.8l2.3,0.3l2.3,0.9l-0.1,2l1.5,-0.2l2.5,1.1l2.3,-0.5l1.9,-0.3l2.2,-0.1l2,-1.7l0.1,-2.4l0.7,-1.3l1.2,-1.8l0,-2.4l2.2,-2.6l-2.5,-1.2l-3.2,-1.3l-0.7,-0.7l0.8,-3l0.5,-2.2l-2.1,-1l-2.2,-1l-0.8,-1.7l-1.4,-1.7l-0.5,-2.7l1.5,-2.8l-1.2,-1.7l-2.7,-1.4l1,-1.7l0.8,-2.5l-2.8,-1.1l-0.2,-1.2l-1,0l-0.6,0.8zM337.4,718.9l1.7,-2.6l1,-0.6l2.4,0.4l2.6,-0.4l1.2,-1.8l0.8,-1.8l1,-1.4l0.9,-1.3l0.8,-2.8l-0.1,-2.1l-0.2,-1.6l1.3,-1.5l-0.4,-1.7l-0.2,-2.4l0,-0.5l-28,-0.7l0.1,0.4l-2.7,2.4l1.3,2.4l0.4,1.8l0.2,1.5l-0.3,2.4l-1.9,1.3l-2.4,0l0,3.3l-1.4,0l-2.5,0.4l-0.9,2.2l-0.9,2.6l2.8,0.6l0.4,1.8l0.1,2.3l-0.2,2.2l-1.2,2.3l4.6,1.6l-1.2,1.9l1.8,-1l2.1,0.9l2.4,1.4l1.1,-1.3l2.5,-0.2l1.6,1.2l1.1,-1.5l1.7,-1.3l1.1,-1.2l2.1,-6.8l1.4,-0.2zM414.6,676.2l-0.7,2.1l-1,2.4l-1,1.6l-0.7,1.6l-0.8,1.7l-0.8,2.1l2.4,1.4l1.7,0.7l1.5,2l1.6,-0.2l1.7,-1.8l2.9,0.3l0.7,-2.4l2.6,0.4l1.6,-0.3l0.4,-0.6l-0.3,-0.1l-3.9,-3.9l-5.9,-3.9l-1.6,-4l-0.3,0zM848.1,717.5l1.5,-0.4l1.2,-3l2.7,0.6l-1.1,-1.9l-0.7,-2.3l0.9,-2.3l1.6,-2.7l-1.6,-1.6l-1.4,0.7l-2.4,1.6l-2.2,-0.9l-1.5,-2l-2,-0.4l-1.5,2.1l-1.7,1.1l-2.4,-2.2l-1.1,2.2l-1,1.5l-2.1,0.7l-2,1l-2.1,1.8l-1.8,0.6l-2.3,1.1l3.1,3.2l-1.5,2.3l-1.2,1.7l-0.7,2l2.1,0.5l1.5,1.4l1.3,1.7l1.6,0.2l1.4,0.4l2.1,0.8l1.5,-0.5l2.3,0l1.7,-1.4l1,-2l0.6,-0.6l1.9,-1.7l0.5,-1.5l1.6,-1.2zM802.3,743.2l-0.9,-0.6l-2.8,-0.9l-1.8,2.8l-1.5,-0.1l-1.6,-2l-2.4,-0.4l-2.1,1.1l-1.4,1.4l0.4,2.9l0.3,2.1l-1.8,1.8l2.2,5.6l2.6,0.3l1.6,0.6l0.9,0.5l2.6,-1l1.5,3.9l1.9,-2.2l1.7,-1.6l2.2,1.9l1.7,1.8l1.8,-1.5l2.4,0l1.7,0.7l0.3,-2.2l1.4,-1.6l-0.7,-2.6l-1.7,-2.3l-0.4,-1.1l-0.7,-2.7l1,-1.8l-0.9,-2.2l-1.5,-0.5l-1.9,1.2l-2.3,0.2zM987.1,696.8l0.9,-3.4l-2.4,-0.3l-2.3,-0.9l-1.6,-0.6l-1.9,0.4l-0.9,1.8l-0.5,1.8l-0.4,2.6l-1.7,1.1l-3.4,-0.3l-0.8,1.6l-0.5,3l-0.4,1.5l-0.1,0.5l-0.1,2.4l-2.2,0.8l-0.7,1.3l-0.4,2.4l1.5,1.9l0.6,0.9l1,2.9l1.7,1.1l0.8,1.4l1.4,2.1l2.4,0.8l1.9,0.5l2.2,1.3l-0.8,2.3l1.9,1.5l5.2,-5.2l1.4,-1.8l2.6,-0.7l2.7,1.2l1.2,-1.3l0.7,-2.1l2.7,-0.5l0.7,-2l0.8,-1.6l1.7,-0.2l-0.4,-2.3l-4.3,-7.4l-0.7,-1.7l-2.7,0.1l-1.7,-1.4l-1.9,-1.9l-1.8,-2.1zM448.3,778l0.1,-1.3l2.9,-1.9l1.2,-1.5l-0.5,-1.6l-0.6,-5.1l-1.5,-1.2l-0.7,-0.9l-2.5,-0.3l-1.5,-1.3l-2.4,-0.4l-1.5,4.3l-2.1,-1.7l-1.6,-3.7l-2.1,3.1l-8,13.4l-0.3,1.6l-0.3,2.5l0.9,2l-0.4,1.7l0,2l-0.1,1.5l0.9,1.7l-0.4,2.4l3.5,1l-1.4,2.4l3,1.3l17.4,1.6l1.3,-1l1.1,-1.3l0.8,-2.3l-5.4,-13.1l1.1,-1.2zM378.3,827l-1.2,-1.8l-1.8,-1.7l-2,0.1l-0.7,-2.7l-1.2,-1.2l-2.2,-1.4l-2.5,-0.1l-1.4,1.7l-1.2,1.9l-2.6,-0.2l-1.8,0.9l-0.4,2.3l-0.9,1.2l0,2l3.7,0.3l1.9,2.4l-1.1,2.5l1.6,2.2l-0.6,1.8l-3.3,2.5l2.3,1.9l-2.5,0.9l3.1,4.3l-3,0.6l-2.2,1.8l1.9,1.2l2.4,-2.9l1,3.4l2,3.9l2.3,-2.7l1.9,-1.2l1.7,0.5l3.2,0.4l0.8,-1l2,-1.2l1.8,-0.7l2.9,1.1l1.9,-1.2l1.4,-1.1l-3.7,-9.3l0,-2l-1.1,-1.5l-1,-2.3l2.1,-2l-1.6,-0.9l-0.3,-2.7zM356,895.1l1.2,-2.9l1.1,-1.1l-1.2,-1.5l-1.4,-2.2l1.5,-2.4l0.4,-2.1l-2.6,-1.5l0.5,-2.4l0.1,-1.8l-0.1,-0.1l-0.2,-0.1l-9,0.6l-0.1,0.2l0.3,2l0.5,2.4l0.3,1.4l-1.7,1.3l-0.9,1.8l-0.3,2.5l0.4,1.3l-0.8,2.4l-12,1.4l0.7,1.7l-0.7,2.7l1.2,1.5l-0.8,1.6l0.7,1.6l-0.8,2.8l2,1.8l0.7,1.3l0.3,0.2l1.6,1.1l2.9,1.5l1.1,1.6l0.4,2.4l2.6,0.3l1.3,-0.9l10.4,-14.6l-1,-2.5l1.3,-1zM492.2,760.2l-2.2,-1.1l-2.7,0.7l-1.5,0.1l-1.2,1.4l-1.9,1.6l-2.6,-0.7l0.7,1.9l-0.7,1.9l-1.6,1.7l-2.7,1.6l1.1,1.7l1.7,2.5l-0.4,1.2l-1.7,2.1l-0.7,0.9l0,1.6l-0.8,2.7l2.4,0.3l1.2,2l0.9,0.6l2.1,0l2.3,0.5l1.9,0.9l0.4,2.5l1.8,1l2.1,-0.5l2.6,0l0.5,-2.7l0.4,-1.5l2.5,-0.2l1.7,-2.4l-0.4,-3l0.3,-1l2.2,-1.6l0.2,-1.7l-1.6,-2.3l-0.6,-2.3l-2,-1.5l-2,-9.7zM527.2,865.6l-1.4,-2.1l-2.3,-1.4l-1.2,4.1l-2.1,0.8l-2.4,0.9l-2.3,-1l-2.4,1.3l1.7,2.6l-1,2.3l-3.8,-0.3l0.2,3l2.6,0l0.1,3.2l1.2,2.3l3,-0.5l0.8,0.8l1.5,0.5l2.3,0.2l1,1.1l2,1.3l0.5,0.5l2.8,-1l0.2,3.5l2.3,0.6l2,1.3l1.9,-1l3.2,1.4l-0.2,-4.2l-0.3,-3.6l3.3,0.3l2.3,1.3l1.1,-2.8l1.9,-2.1l-1.1,-2.5l-2.7,-1.8l2.9,-1.7l-1.9,-0.7l-2.1,2.2l-1.9,-2.7l-1.5,-2.3l-1.4,2.3l-2.6,-0.6l-1.4,-0.8l-1.7,-0.5l-0.9,-1.4l-0.8,-1.5zM713.4,814.1l-2.9,0.5l-2.1,-1.7l-0.8,-2.1l0.1,-2.1l-1.5,-1.2l-2.2,-1l-2.1,1l-0.2,2.4l-2,1.1l-0.9,2l0.9,2.2l-0.4,1.3l-1.5,2.6l1,2.3l2.5,1.8l-0.2,1.4l-1.8,1.5l1.5,3l-0.8,2l0.1,0.1l1.8,0.3l1.5,2.3l1.5,0.8l3,-1.4l2.5,0.7l0.7,1.2l0.9,2.4l2.9,0.7l1.9,0.1l2.3,1l0.2,2.2l1.9,1.1l0.7,0l1.5,-1l1,-2.3l1.6,-1.5l-0.3,-2.3l-0.5,-1.6l1.1,-1.9l0.9,-1.6l-5.2,-6.9l-0.6,-2.3l-1.2,-1.9l-5,-1.7l-0.8,-2.3zM695.3,884.1l2.4,-2.2l-0.8,-1.8l-1.1,-3.1l2.4,-0.8l1.6,-1.9l-2.6,-0.6l-1.2,-1.5l-0.8,-2.3l-1.5,-0.7l-1.8,-1.1l-0.8,-1l-2.5,-0.3l-12.2,11.2l-0.2,1.5l0.5,1.6l0.4,2.2l-0.1,1.1l0.4,2.8l-0.9,2l1.7,1.9l1.5,0.4l1.6,2l1.9,1.2l2.9,-1.5l2.7,-1.8l2.2,1.3l1.4,1.2l1.5,-2.7l0,-1.8l0,-1.9l-1.1,-2.2zM699.5,915.1l1.4,-2.2l-0.8,-2.3l-2.8,-0.3l1,-2.6l-2.4,-0.8l-17.1,6.2l0.1,2.8l-1.7,1.8l0.1,2l1.2,1.4l1.7,2l1.3,2l-2,2.6l4.3,1.3l-0.4,1.6l-1,2.4l-0.8,2.5l1,1.6l0.3,1.9l1.7,-1.1l2.6,1.2l1.6,1.4l2.1,0l0.9,-2l2.8,-1.7l1.1,1.2l2.7,-0.4l1.4,-0.5l0.1,-1.9l-0.9,-1.2l-0.4,-2.2l0.6,-1.7l0,-1.6l1.8,-1.1l0.8,-2.4l0.5,-1.7l-0.9,-1.9l0.9,-2.9l-0.2,-0.1l-0.6,-1.2zM936.5,808.3l-0.8,-1.6l-0.8,-2.1l1.4,-2.5l-1.4,-1l-1.8,-1.9l-2.6,0.4l-0.8,-1.5l-1.5,-2.4l-5.1,2.9l1.3,1.6l-0.5,2.6l0.9,1.6l1.8,1.3l0.7,1.3l2.3,1.4l0.6,1.2l3.7,-2l1,2.3l2.3,0.4zM932.1,826.3l2,-1.9l2,-1.4l0.2,-2.3l-1.1,-2.7l1.6,-1.7l-0.1,-0.2l-18.5,0l-1.2,1.2l-1.4,2.1l1.8,2.8l-1.9,1.6l-0.9,1.2l-1.1,1.7l-2.1,1.2l-1.2,1.3l-0.5,1.7l-1.3,1.3l19.2,5.5l0.6,-0.6l0.7,-2.4l0,-1.7l1.2,-1.9l1.3,-1.8l1,-0.9z"/>
<path fill="#c6eeef" d="M254.1,738l0.6,5.5l-0.1,4l4.1,-1.7l2.4,1l-1.2,3.7l2.4,0.6l20.2,-9l1.2,-1.8l-0.3,-1.5l1.1,-1.5l-0.9,-1.8l-1.3,-1.6l-1.1,-1.7l-2,-0.5l-1.8,-1.2l-2.7,1l-1.8,1.1l-1.9,-0.2l-2.2,-1.7l-1.6,-1.2l-1.9,-0.3l-2.4,0.4l-1.8,1l-2.4,-0.2zM577.9,682.2l-0.5,-2.6l-0.1,-1.2l-0.1,-2.6l-0.1,-1.5l-0.1,-0.6l-23.8,0.4l1.8,0.9l1.7,1.8l-1.5,2.5l2.9,0.3l-1.4,3.4l2.6,0.5l0.5,2.9l0.5,1.5l1.7,0.9l2.2,-4.6l1.8,-0.4l2.3,1.3l1.9,1.1l2.5,0.5l0.3,-3.9l2.4,-0.7l2.6,1.9zM776.8,698.9l-0.7,-1.3l-1.9,-1.2l-1.7,-1.7l-1.8,1.3l-2.4,-1l-1.1,-2l-2.4,-0.5l-2.7,1.3l-0.1,1.3l-1.4,2.1l1.1,1.8l-1.3,2.1l-0.3,1.5l1.1,2.5l-0.2,2.3l-0.4,1.5l0.5,0.8l0.1,0.8l-1.4,3l0.3,2l4,-0.9l3,1.1l-1.2,2.6l1.4,0.9l2.1,-1.4l1.9,0l1,-1l0.8,-3.1l2.8,-0.7l2,0.9l2.4,-2l0.6,-1.4l2.5,-1.2l1.7,-0.2l0,-1.8l-0.3,-1.4l-0.6,-1.8l-4.2,-2l-2.3,-1.5zM1044,734.8l-0.3,-1.6l-1.9,-1.7l-2.1,-0.5l-1.1,1.4l-1.8,2.2l-3.1,-2.7l-3.6,-2.7l-1.7,2.5l-0.2,5.8l-1.2,1l-2.9,-2.3l-1.9,1.4l-3,-0.2l-0.6,1.5l2.9,1.3l-1.6,2.5l-2.4,3.2l1.9,0.7l3.1,1.1l-1,2.9l1.3,1.2l1.4,2.6l1.5,0.1l2.5,-0.1l1.2,1.3l2.1,1.6l1.4,0.2l0.3,-2.1l1.2,-1.2l1.8,-0.4l0.6,-1.9l1.6,-2.3l2,0.2l2.1,-1.2l1.2,-1l-0.4,-1.7l4.3,-1.7l-2.1,-2.4l-3.2,-3.1l1.6,-0.6l-2.3,-0.2l2.8,0.2l0.1,-0.3l1.2,-0.4l-0.9,-1.4zM261.7,765.3l2.6,1.7l-2.2,3.5l0.2,2.3l2.5,1.1l2.4,0.3l0.6,2.5l0.7,1.6l0.7,2.2l2.5,-0.9l1,-0.7l1.8,-2.3l1.1,-1.6l2.2,0.6l2,-0.7l1.3,-2.9l0.9,-2.7l1.7,-0.1l0.7,-2l0.4,-1.8l-2.9,0.5l-0.9,-3.4l-0.7,-1.5l-2.7,1.1l-2.9,3.3l-1.6,-1.9l-1.2,-4l-2.3,-0.1l-2.4,2.4l-1.8,-0.9l-2.1,-2l-1.7,2.1l-1.5,0.9l-0.3,2.3zM266.5,787.9l-3.4,-2l-2.1,-1.7l-1.8,1.7l-1.3,2.9l-2.2,-0.6l0.3,2.9l-2,1.6l0.7,1.8l-1.9,1.4l1,2.4l-2,1.9l1.8,0.8l1.5,2.2l2,0.8l2.7,0.2l1.2,0.2l1.9,1.2l1.4,2.1l1.9,1.1l5,-2l1.9,-1.6l0,-1.6l-1.8,-2.6l1,-1.4l0.8,-1.6l0.1,-2l1.2,-2.2l-0.2,-2l-0.4,-1.6l-1,-2.2l-2.9,0.6l-0.9,-1.8l-1.5,-1.7zM451,851.3l1.2,-1.6l1.4,-1l-1.4,-1l-2.6,-1.2l-0.5,-2.8l-1.6,-0.4l-1.8,-0.7l-2,0.5l-2.2,-0.1l-2.1,0.7l-1.6,-2.3l-2.3,-0.2l-1.8,1.7l-1,0.8l-2.4,-0.4l-0.7,1.7l2.2,3.1l-1.2,1.4l-0.3,2.6l0.6,2l-2.4,1.8l-0.5,1.5l0.5,2.2l-1,2.2l-1.8,1.1l-0.8,2.3l0.9,1.4l1.3,2.1l1.9,0.8l1.6,2.6l1,1.6l0.7,1.7l1.4,1.4l1,2.4l0.1,2l2.5,1.6l1.9,0.6l7.9,-1.3l2.4,-1.6l0.6,-2.4l-1,-2.3l2,-1.9l-2.8,-1.3l0.5,-2.1l0.6,-1.8l-3,-1.5l0.7,-2.6l1.9,-1.1l-1.2,-2.3l1.1,-2.1l1.9,-0.6l-0.2,-2.3l1.1,-1.8zM653.6,793.2l-0.4,-2.8l-2.1,-1.4l-0.2,-2.2l-1.8,0.9l-2.6,-0.8l-2.5,-1.2l-1,3.4l-1.2,0.6l-2.4,-1.8l-1.8,1l-2,2l-2.3,-0.6l-1.2,2.5l0.3,2.1l-0.8,1.5l-0.6,1.5l-1.2,1.5l-0.2,1.7l0,1.8l0.2,2.2l-0.1,2l-0.6,1.7l15.6,3.5l1,-0.9l2,-1.8l-0.2,-1.9l-0.2,-2.5l0.6,-2.3l5.8,-8.7zM512.8,875.8l-2.6,0l-1.8,-0.2l-1.5,0.6l-0.2,2.8l-1.7,0.4l-3,-0.1l-1.2,1.4l-0.8,2.1l-0.9,1.4l-0.3,2.1l-1,1.9l-2.5,0.7l-0.1,0.7l0.1,0.2l0.1,2l1.5,1.6l2,0.8l1.6,1.2l0,1.7l11.2,0l3.2,1.8l0,2.4l1.5,1.6l1.3,1.5l1.8,0.8l1.2,0.5l2.7,1.4l1,0.4l2.4,1.4l1.7,0.6l1.8,-0.4l2,-0.9l1.4,-1.1l1.1,-0.6l0,-2.3l0.7,-2.8l1.2,-2.9l0.5,-1.4l-4.1,-1.6l-1.2,-3l1.9,-2l0.6,-1.9l-1.9,1l-2,-1.3l-2.3,-0.6l-0.2,-3.5l-2.8,1l-0.5,-0.5l-2,-1.3l-1,-1.1l-2.3,-0.2l-1.5,-0.5l-0.8,-0.8l-3,0.5l-1.2,-2.3zM603.8,838.5l-1.3,-4.8l-2,0.2l-2.5,3.8l-1.9,-1.9l-0.9,-3.7l-2.8,1.9l0,0.2l-0.9,1.3l-0.6,1.9l-0.7,2.1l-0.7,2.4l-1.2,1.6l0.8,2l0.3,1.5l-1.7,2.6l0,1.6l0.5,2.4l-1,1.5l6.7,3.4l6.9,-2.3l2.1,1.3l1.8,1.2l1.4,1.3l2.1,-0.1l2.6,1.4l2,-2.3l0.8,-2.4l2.3,0.1l0.6,-2l2,-0.1l1.4,-0.4l2.1,2l1.7,-1.9l2.3,0.4l0.7,-1.6l0.4,-2.5l1,-0.8l0.3,-2.6l-0.4,-2l0,-2.4l-0.1,-1.9l-0.6,-1.7l0.2,-1.9l-0.6,-0.8l-2.1,0.6l-1.5,-1.1l-2.1,-1.6l-1.9,0.6l-3.1,1.7l-1.6,0.1l-2.5,-0.3l-1.5,0l-0.6,0.4l-2.1,-1l-1.7,3.1zM646.1,865.3l-0.9,-2l2,-2.1l0.5,-1.2l-0.7,-2.2l-0.8,-0.7l-16.9,3.4l1.5,1.9l-0.4,2.1l-1.9,2l0.4,1.9l1.8,1.9l2.2,1.8l2.2,1.2l0.8,2.6l-0.5,1.6l-0.6,2.8l1.6,2.3l1.7,1.3l2.7,1l1.5,0.4l2.1,-1.9l1.3,-2.7l1.8,1.3l1.1,-2.4l1.3,-1.3l-0.4,-1.8l1.4,-2.1l-3.9,-4.7l0,-1.4zM597.5,904.1l0.9,1.5l-1.8,1.8l3.4,3.5l-2.8,1.4l-1.7,1.3l-0.3,1.8l0.6,1.3l1.5,1.3l2.4,0.5l1.5,-0.9l2,3.1l2.6,-3l1.8,0.1l2.1,2.3l1.6,0.2l1.4,-0.1l2.5,0.4l0.2,-1.7l2.6,-1.4l1.1,-0.7l0.6,-2.4l0.7,-2.2l1.5,-0.7l0.1,-0.1l-0.2,-2.6l0,-1.2l1.6,-1.7l-2.1,-0.8l-2.1,-0.9l0.1,-3.6l-1.2,-1l-2.4,0.1l-1.9,-0.7l-2.5,-1.4l-1.6,-1.3l0.2,-1.9l-1.8,-1.8l-1.9,1.6l-1.8,-0.3l-0.5,2.3l-2.2,0.1l-2,1.7l-0.9,2.1l1,2zM771.1,878.5l-1.4,-1.8l-2.3,-1.4l-0.4,-1.8l-0.6,0l-2.2,0.8l-0.3,2.9l-2.8,0.1l-3.2,-1l-1.1,2.3l-1.1,3.3l2.1,1l0.3,2.3l-1.1,2.1l2.9,1.2l0.6,2.5l-2.1,3l2.2,1.1l0,5.8l-1.6,4.8l1.6,1.2l1.5,-0.7l1.8,0.8l2.6,-1.9l1.3,0.5l2,2.3l2.4,-0.4l1.3,-2.8l2,-1.7l2.3,0.4l1.8,1.1l0.3,-1.1l0.8,-2.3l-1.6,-2.2l-0.6,-2.4l-0.1,-2.4l-2.4,-0.9l0,-0.1l-0.2,-2.1l-3.5,-1.2l-0.3,-2.3l-1.5,-7zM780.1,933.2l1.1,-1.1l0.9,-2.2l-0.6,-2l-1.3,-2.4l-0.1,-2.2l-1.9,0.2l-1.5,0l-2,1.7l-2,0.6l-1.8,1.3l-2,-0.2l-2.4,-0.2l-0.6,2.2l-0.1,3.3l-2.5,-0.1l-0.2,3.5l-2,0.5l2.2,2l0.3,2.2l1.8,1l2.3,0.5l1.5,-1.3l1.7,2l2.3,0.2l3.1,-1.1l1.8,-1.5l1,-2.2l0,-0.2l-0.1,-2zM833.5,952.7l0.5,-1.9l-0.7,-2.2l-0.8,-1.7l0.1,-2.4l-1.8,-2.2l-1,-1.4l-1.8,-1.4l-2.4,-1.3l-1.5,1l-2.6,2.5l-1.7,-2.2l-3,6.7l-1.2,1l-2.8,1.5l-0.6,2.9l-1.6,0.8l0,5.4l22.3,-0.5l-0.2,-0.5l-0.8,-2.3zM857.7,883.2l-3.5,1.3l-1,-1.5l-0.8,-1.2l-0.8,-2.3l-1.1,-3l-2.6,0.8l-1,1l1.5,2.1l1.4,1l-2.8,2.1l-0.2,3.1l-0.1,1.2l4.9,1.9l-2.5,1.8l0.6,2.1l-0.3,2.5l-3.2,0.5l-0.2,1.9l0.2,0.4l-0.2,1.9l0.2,2.2l0.2,0.2l19.3,0l-1.3,-1.2l-1.3,-2l-0.8,-1.6l-1.2,-1l-1.3,-1.2l0,-7.4l1,-2l-0.2,-1l-1.4,-2.1z"/>
<path fill="#c4ecee" d="M281.2,723.9l1.8,2.2l-1.7,1.8l-1.2,2.1l1.1,2.2l1.1,1.7l1.3,1.6l0.9,1.8l11.3,0l5.7,-2.5l1.4,-1.6l-0.4,-1.9l-1.2,-2.7l-0.1,-1.8l1.4,-2.3l0.9,-1.1l-0.9,-2.6l-1.8,-1.8l-0.5,-1.7l1.2,-2.2l-1.8,-0.4l-0.9,-2.6l-2.7,-1l-1.8,0.1l-1.8,-0.6l-1.5,1.1l-2.8,0.8l1.6,3.3l-1.7,1.2l-3,-0.6l-2.1,1.8l0,2.4l-1.1,1.2zM762.1,693.8l2.7,-1.3l-0.7,-2.7l-1.1,-1.7l-1.4,-1.3l0.8,-3.4l-0.7,-0.8l-2.6,-0.5l-1.4,-2.4l-0.1,-1.6l-0.8,-1l-3,0.1l-0.1,0.1l-3.3,1.1l0.7,1.8l2.3,3l-1.5,1.5l-3.2,1l-0.1,2.2l-0.7,2.1l-2.7,0.6l-1.1,2.1l0.4,2.5l-1.8,1l-0.1,2.1l-1.7,0.6l0.6,2.1l0.6,1.9l1.1,1.4l0.9,2.3l16.5,2.3l0.4,-1.5l0.2,-2.3l-1.1,-2.5l0.3,-1.5l1.3,-2.1l-1.1,-1.8l1.4,-2.1zM264.3,807.7l-1.4,-2.1l-1.9,-1.2l-1.2,-0.2l-2.7,-0.2l-2,-0.8l-1.5,-2.2l-1.8,-0.8l-0.3,0.1l0.5,1.5l-0.8,2.3l1.1,2.4l0.4,1.6l-1.8,1.3l-0.4,2.1l1.5,2l-0.1,2.2l-1.1,2.4l-1.5,1l-0.9,2.5l0,1.2l0,2.4l0.8,0.3l2.5,-0.2l1.4,0.4l2.4,-1l1.5,-0.5l2.5,-1l2.1,-0.6l1.2,-1.6l1.2,-2.1l0,-2.2l0.2,-1.3l1.3,-2.3l0.4,-1.9l0.3,-2.4zM434.7,901.4l0.6,-3.1l1.2,-1.7l1.4,-1.5l-1.1,-2.2l-1.3,-2l0.5,-1.8l0.6,-1.6l4,-2.3l-1.4,-1.8l-1.9,-0.6l-2.5,-1.6l-1.6,0.5l-2.8,0.7l-0.5,1.2l-1.1,2.8l-1,1.3l-2.7,-0.4l-2.5,0.5l-1.2,1.7l-10,-3l-3.8,3.8l-2.1,-0.2l-1.2,1.2l-2,-1l-1.9,0.8l-2.3,0.1l-2.1,1.4l-2,0.5l-1.8,-0.8l-2.3,3.3l-1.5,0.3l0.5,2.2l-0.5,1.4l0.7,2.7l1.3,1.2l0.7,1.9l0.4,2.5l0.6,1.1l2.3,1l1.7,0.4l0.2,2.7l2.2,0l2.3,0.8l1.6,-0.7l2,1.7l1.8,-1.2l2.9,1.7l1.9,-0.9l1.3,-1.8l2.1,1.2l0.6,1.4l1.9,1.1l2.3,1l2.2,-2.2l1.3,1.3l1,3.3l2.5,0.3l2.9,-2.7l1.9,0.2l1,2.6l0.7,-1l0.2,-1.7l-0.7,-2.6l3.2,-0.9l-0.1,-2.6l-3.9,-3l1.3,-1.3l2.1,-1.5l0.3,-2l0.5,-0.5zM595,780.5l-1.7,-1.2l-0.5,-2.3l-2.3,-0.2l-2.9,-0.4l-1.3,-0.4l-1.9,1.1l-2.2,-1.5l-3.4,2.6l-0.3,2.2l0.2,2.2l-3,-0.1l-0.4,2.6l0.4,3.1l1.1,1.7l0.8,1l-1,2.1l1.5,2.3l1.2,1.9l0.9,1.3l1.9,-0.3l1.7,1.9l2.1,-0.5l2.2,0.7l0.3,3.6l0.9,1.5l1.4,0l1.6,0.7l2.2,-0.3l2.1,-0.7l1.2,-1.1l2.8,-1.7l1.2,-1.4l2,-0.5l1.6,-1.6l0.7,-3.3l0.6,-2.1l-0.8,-1.3l-1.7,-2.1l0.2,-1.6l0.8,-2l-1.6,-2l-2.4,-0.5l-1.4,-1.7l-1.8,-1.5l-0.5,-0.5zM635,890.9l1.4,-1.2l0.3,-1.5l0.2,-2.2l1.2,-2.1l-1.7,-1.3l-1.6,-2.3l0.6,-2.8l0.5,-1.6l-0.8,-2.6l-2.2,-1.2l-2.2,-1.8l-2.3,0l-1.2,1.6l-0.7,4.1l-2.4,0.2l-1.7,0.3l-2.2,0.1l-1.4,0.3l-1.9,0.8l-1.9,1.3l-1.7,0.3l-0.6,2l0,1.9l-0.2,2.2l2.2,0.6l1.1,0.4l3.4,-1.2l0.7,1.5l1.5,3.4l1.9,-1.6l2.9,0.3l1.8,1l1,0.6l1,2.7l2.8,-1l0.6,0.4zM501.5,899l-0.2,1.7l-3.1,2.6l2.2,2.4l0,1.2l0.6,2.2l1.8,2.6l-2.7,1.6l-1.6,1.5l0.5,2.3l0,2.1l-0.8,0.8l-1.1,2.6l0.4,2.6l2.1,0.5l1.2,1.9l1.9,0.9l-0.4,3.3l1.7,0.7l1,1l0.7,2.4l2.5,0.8l0.6,2.1l1.7,0.7l1.2,1.7l2.9,-0.6l2.3,0l1.2,-1l1.5,-1.1l1.6,-1.2l0.6,-0.6l2,0.5l2.3,-1l1.3,-2.2l3.3,-0.3l2,1.3l1.9,-0.5l1.7,-1.9l1.7,-1.7l2.1,0.6l2.3,-1.6l0.6,-1.7l-1.2,-2.3l-0.7,-2.5l0.6,-1.5l3.9,-2l-3.9,-3.2l0.1,-1.4l0.6,-2.3l-2.4,-0.7l-0.2,-1.2l-0.5,-3.1l-1.9,0l-2.6,-1.5l-1.1,0.6l-1.4,1.1l-2,0.9l-1.8,0.4l-1.7,-0.6l-2.4,-1.4l-1,-0.4l-2.7,-1.4l-1.2,-0.5l-1.8,-0.8l-1.3,-1.5l-1.5,-1.6l0,-2.4l-3.2,-1.8l-11.2,0zM574.3,942.8l-2,-1.7l-2.5,-0.2l-1.5,-0.2l-2.4,2.6l-1.6,-2l-1.7,1.3l-3,-0.5l-1.4,-2.3l-2.1,1.3l-0.2,1.9l0.2,2.1l2.7,2l-0.3,2.1l-2.2,2.3l0.2,2.5l2.6,1.2l-0.4,2.1l18.6,0.3l-3.4,-1.3l3.8,-2.7l1.6,-2.3l-3.5,-1.8l1.3,-1.7l-2.8,-1.2l1.8,-2.7l0.1,-1.4zM635.2,945.3l-2,-0.4l-1.5,0.2l-2.6,-1.6l-1.1,0.3l-2.5,0.9l0.3,0.3l-1.9,2.6l-2.7,2.2l3.3,1.6l2,1.6l-2.4,2.7l1,1.9l0,0.5l21.7,0.2l-1.1,-16.5l-1.8,0.7l-2.5,-0.9l-2,1.7l-2.2,-0.3zM792.2,882.8l-2.5,-0.3l-2.3,0.9l-0.8,1.4l-2.5,0.2l-2.1,1.2l-0.5,1.9l-1.1,0.9l-2.4,0l-0.4,3.2l-1.6,0.9l0,0.1l2.4,0.9l0.1,2.4l0.6,2.4l1.6,2.2l-0.8,2.3l-0.3,1.1l-1.8,-1.1l-2.3,-0.4l-2,1.7l-1.3,2.8l-2.4,0.4l-2,-2.3l-1.3,-0.5l-2.6,1.9l-1.8,-0.8l-1.5,0.7l-0.2,1.6l3.1,0.7l0.6,1.8l-0.5,2.6l-0.2,1.5l0.6,2.6l1.3,2.2l-1.7,1.6l2.9,5.2l2.4,0.2l2,0.2l1.8,-1.3l2,-0.6l2,-1.7l1.5,0l1.9,-0.2l0.9,-2.6l2.9,-1l-1.3,-2.3l1.9,-2.1l1.4,0.1l2.4,0.3l1.4,-1.2l2.3,0.8l0.7,-1.2l3,-0.9l0.6,-2.1l-1,-3.6l1.8,-0.6l2.6,-1.5l-0.7,-2.6l0.7,-1.4l-0.8,-1.8l-0.5,-1.5l-0.7,-1.9l0,-0.2l-2.2,-8l0,-6.8l-1.4,2.7z"/>
<path fill="#c6eef0" d="M228.3,736.3l4,1.6l0.7,1.7l-2.9,2.1l-1.3,3.1l2.6,1.5l1.9,1.1l-1,3.2l0.7,1.8l-0.5,1.8l2.5,0.1l1.5,-1.3l1.5,1l2.4,0.7l2.3,-0.6l-0.2,-2.5l2.2,-1.3l2.8,1l1.7,-1.5l1.4,-2.1l1.7,-1.5l1.5,-1.2l0.9,-1.5l-0.6,-5.5l-1.3,-1.5l-1.8,-0.5l-3,1.6l-2.4,0l-0.8,-1.2l-2.2,-0.8l-1,-2.6l-2,-0.5l-2.9,2.9l-2.2,-0.3l-0.7,-3.6l-2.5,0.3l-2,1.7zM557.4,703.4l3.8,1.2l0.4,1.9l-3.4,2.4l0.1,2.4l2.7,1.2l1.3,1.3l1.3,1.2l4.1,-1.2l1.2,2.3l0.8,1.5l2,0.3l3.2,0.8l-0.2,-3.6l1.4,-2.6l1.9,0.7l2.1,-0.3l1.4,-2.1l-1.8,-1l2,-3.6l-3.3,-0.9l-0.4,-2l-3.9,0.7l1.2,-3l-1.4,-2.2l-1.7,-0.6l-2.6,0.6l-1,0.6l-2.7,0.3l-1.8,1l-2.5,-0.9l-1.7,0.1l-1.7,0.8zM650,691.4l-0.6,2.1l0.6,1.3l0.8,2.1l-0.8,1.9l0.8,0.8l0.7,1.2l2.2,0.9l2.6,-0.2l0.4,3.1l1.8,0l1.9,1.9l2.1,1.5l2.6,-1l1.4,1.2l2.1,-0.8l1.9,1.8l2.4,-0.9l2.3,-1.5l0.7,-2l1.8,-1.3l0.7,-1.5l-0.8,-1.9l-0.6,-1.8l1.2,-1.9l0.7,-2l-1.3,-1.1l-0.3,-2.5l0.2,-1.8l0.8,-2.6l0.7,-2l-2.6,-1.4l0.4,-2.3l-0.6,-2.7l-31,-2zM681,770.1l1.6,-0.8l-0.2,-2.8l2.3,-0.5l1.6,-2.2l2.1,-0.8l0.5,-1.8l1.4,-1.6l-0.1,-2.7l-2.2,-0.5l-0.3,-1.9l0.9,-2.9l-2.1,-0.6l-0.4,-2.5l-1.9,1.5l-2.4,-0.4l-1.7,0.3l-1.2,2.5l-1.9,-0.5l-2.5,-0.7l-1.5,1l-2.1,8.5l1.8,1.4l-0.5,2l1.5,1.1l1.2,1.3l2.6,1l1,2.1zM760.6,708.9l-16.5,-2.3l0.5,2.3l0.2,1.8l-0.9,1.6l-2.2,2.4l0.9,1.6l0.8,2.8l-2.6,1.1l-1.1,2.6l1.1,1.8l0.6,0.8l0.8,2.1l1.1,1.8l5,-0.4l1.6,1.6l2.7,-1.2l1.6,-0.8l2.6,1.4l1.4,1.8l0.7,1.1l2.5,-0.3l2.2,-0.5l2.6,0.8l1,0.7l2,1.4l1.4,-0.9l1.3,-2.3l-0.8,-1.7l-1.1,-1.6l-0.5,-2.1l0.7,-1.7l-1.5,-2.1l-1.2,-1l-0.2,-2.3l-1.4,-0.9l1.2,-2.6l-3,-1.1l-4,0.9l-0.3,-2l1.4,-3l-0.1,-0.8zM1098.7,726.2l1.3,-2.6l-3,-2.2l-1,-1.7l2.2,-2.6l1.3,-1.5l-0.9,-2.2l-0.3,-1.9l-4.5,0l-0.5,2.4l-1.8,0.9l-2.1,-0.5l-1.7,1.7l0.5,2.5l-0.9,2.1l-3.2,-0.4l0.8,1.5l0.4,2.2l-1.2,1.5l-1.3,1.3l-0.8,1.3l0,2.2l-1,2.6l-1.4,0.8l-0.4,1.9l2.7,0.4l0.9,2.2l-1,2.9l2.3,1l1.2,0.9l-1.2,0.9l-2.7,1.7l-0.2,2.1l-0.6,2.9l-0.5,1.1l-3.7,0.6l-1.7,0.2l-1.5,1.7l-1.1,2l0.5,1.5l0.2,2.1l-1.5,1.5l2.7,0.3l2.2,0.2l0.6,2.3l2.7,1l1.4,-1.3l1,-3.8l1.5,-1.8l2,1.5l3.4,1.8l0.5,-3.3l-1.4,-1.8l-1.1,-2l1.1,-2.5l1.3,-1.3l-0.7,-2l-2.3,-1.7l-1.3,-1.5l0.6,-2.3l1.4,-0.8l2.3,1.2l1.7,-1.4l1.5,-2.4l2.6,1.6l2,-0.1l0.7,-2.8l2.1,-0.6l0.3,-2.3l-0.2,-3.3l-1.6,-1.9l-1.7,-1.9zM269.9,788.6l2.9,-0.6l1,2.2l0.4,1.6l0.2,2l-1.2,2.2l-0.1,2l-0.8,1.6l-1,1.4l1.8,2.6l0,1.6l-1.9,1.6l1.5,1.1l2.7,0l1.2,0.6l2.4,0.2l0.3,3.1l2.9,0.6l2.5,-0.4l0.9,1.4l1.1,-0.6l1.9,-0.9l-0.6,-1.6l0.4,-2.8l1,-1.6l0.1,-2.6l-0.4,-1.4l0.6,-1.5l-0.6,-2l0.9,-2.2l0.1,-2.4l-1.5,-2l1.1,-1l1.9,-1.7l0.3,-1.8l-0.2,-2.3l-2.2,-1.6l0.7,-2.2l-1,-1.8l0.9,-2.5l-3.7,-0.5l-2.6,-1.2l0.8,-2.8l0.6,-2l-1.5,-1.2l-1.7,0.1l-0.9,2.7l-1.3,2.9l-2,0.7l-2.2,-0.6l-1.1,1.6l-1.8,2.3l-1,0.7l-2.5,0.9l-0.7,2.4l-1,2.2l1.5,1.7zM513,778.5l-1.2,-1.9l-2.1,-0.1l-2.3,1.3l-2.2,-0.1l-1.9,0.2l-2.2,-0.1l-1.2,-0.9l-2.2,1.6l-0.3,1l0.4,3l-1.7,2.4l-2.5,0.2l-0.4,1.5l-0.5,2.7l-0.1,1.7l1,1.6l1,0.9l2.2,0.4l0.6,2.4l-1,3.5l3.1,0.3l0.3,2.1l0.7,1.4l2.2,-2.4l2,3l2.6,-1.3l1.6,-2.7l2.1,1l2.5,-0.3l-0.7,-2.6l1.1,-2.5l2.7,-0.5l0,-1.9l-0.5,-2.4l0.2,-1.8l0.9,-1.2l-0.8,-2l1.4,-1.8l-3,-4.8zM582.6,856.1l-1,-1.1l-2.3,2.2l-2.2,-0.6l-0.3,0.4l-1.4,2.3l2,1.6l-1.3,1.5l-0.3,2.6l-0.4,1.9l2.7,5.4l-5.2,13.1l1.1,1.8l3.4,-1.2l1.1,0.5l0.7,3l1.9,2.2l2.1,-1.1l0.3,1.8l1.5,2.2l2.2,1.9l1.2,0.2l3.3,-0.3l1.7,0.1l1.7,2.1l0.9,1.1l2.8,0.4l0.9,-2.1l2,-1.7l2.2,-0.1l0.5,-2.3l1.8,0.3l1.9,-1.6l4.4,-7.2l0.2,-2.2l0,-1.9l0.6,-2l-3.7,-5.7l0.5,-1.2l0.1,-2.3l0.6,-2.5l-0.8,-1.3l-3.2,-2.5l1.2,-1.8l0.2,-2.1l-2.1,0.1l-1.4,-1.3l-1.8,-1.2l-2.1,-1.3l-6.9,2.3l-6.7,-3.4l-1.6,0.2zM541.8,915.3l-0.1,1.4l3.9,3.2l-3.9,2l-0.6,1.5l0.7,2.5l1.2,2.3l-0.6,1.7l1.5,1.9l2.7,0.2l1.9,-0.2l2.2,0.2l2,0.8l2.1,-0.1l0.2,-3l-0.1,-3l3.1,0.1l2,-0.6l0.4,-3l1.8,-0.9l-4.6,-9.3l-15.2,0zM642.8,901l-0.5,-2.2l-2.9,-0.4l-2.4,1.8l-0.1,-4.7l-3,0.6l-1.8,1.6l-0.4,2.6l-2,0.6l-1.2,1.2l-5.1,3.8l-1.6,1.7l0,1.2l0.2,2.6l1.5,2.4l0.8,1.3l1.4,1.2l2.9,0.6l2.3,-0.5l1.9,0.2l0.5,3.2l2.2,4.3l1.7,0.6l1.7,2l0.7,1l2.1,1.4l0.7,-2.6l2.1,-0.8l1.1,-2.3l1.3,-0.4l1.9,-1.6l1.2,-2.1l0.9,-2l0.7,-1.8l-1.4,-2.6l-0.9,-1.9l-1.6,-2l-2,-7.9zM849.4,844.2l-0.2,-2l0.7,-2.2l0.7,-1.5l-1.1,-0.7l-0.1,-2.2l-2.5,-0.2l-1.5,-0.9l-2,1.1l-2.2,1.6l-1.5,0.3l-1.4,0l-2.3,-0.6l-2.2,1l-1.7,3.7l-1.9,0.8l-1.3,1.9l-3.3,8.1l0.2,2.7l2,1.9l1,1.4l0,5.6l0,2.6l-2.8,0.2l0,2.8l1.5,2.3l-2.2,2.4l-1.4,1l1.2,1.3l2.6,0.7l2.3,-0.9l1.9,1.9l0.6,2.8l1.9,1.5l2,-0.5l2.2,0l1.3,-0.1l1.7,-2.6l1.4,-1.7l2,1.7l1.9,-1.1l1,-1l1.1,-4l-0.8,-2.8l-0.6,-2.6l1.3,-1.3l-0.9,-1.6l-2.7,-1.6l2.7,-3.6l0.2,-1.7l-1.7,-1.9l0.4,-2.5l1.9,-1.3l-1.3,-3.1l0.3,-2.1l0.9,-1.5zM751.6,906.9l-0.8,1.1l0.7,1.7l-1.8,2.3l-0.1,1.8l-0.4,2.4l2.3,1.8l-0.4,2l-1.7,1.6l1.4,2.5l1.7,2.5l-2.6,1.8l-0.9,1.5l1.8,2.1l0.9,2.1l0.8,1.3l1.6,-0.2l3.1,0.7l2.2,0.8l1.7,-0.6l2,-0.5l0.2,-3.5l2.5,0.1l0.1,-3.3l0.6,-2.2l-2.9,-5.2l1.7,-1.6l-1.3,-2.2l-0.6,-2.6l0.2,-1.5l0.5,-2.6l-0.6,-1.8l-3.1,-0.7l0.2,-1.6l-1.6,-1.2l-2,0.5l-1.4,-0.1l-2.7,-1.3zM811.4,915.3l0.1,-2.9l-1.3,-2.2l-1,-0.7l-2.7,-0.5l-0.2,-4.2l-0.9,-1.2l-3.8,0.2l-0.6,-1.9l-1.3,-0.5l-0.7,1.4l0.7,2.6l-2.6,1.5l-1.8,0.6l1,3.6l-0.6,2.1l-3,0.9l-0.7,1.2l1.4,1.2l2.1,1.9l0,14.9l-0.2,0.1l-1.7,0.7l-1.6,1.5l0.9,2.8l-0.9,1.3l-1.5,1.5l0.4,2.9l0.5,1.9l1.8,2l0.5,1.8l0.9,2.6l0.8,1.2l0.6,3l-0.4,0.8l0,0.8l15,-0.4l0,-5.4l1.1,-3.2l-3.9,0.2l-2.9,-0.6l-0.4,-2.4l-0.1,-2l-1.3,-2.1l0.4,-1.8l0,-1.2l2.8,-2.3l-1.8,-1.8l1.3,-0.4l1.8,-1.5l0,-13.5l-0.1,-0.2l0,-2.2l1.2,-1.3zM882.5,839.7l-5.6,-3.5l-7,-1.3l-3.7,1l0.7,1.9l1.4,2.1l-0.6,2.7l-1.8,1l-0.2,2l0.2,1.9l-1.6,1.4l-1.5,1.9l-0.2,1.6l-0.6,2.8l0.2,2.6l1.6,1.4l0.4,1.4l0.7,2l1.7,1.4l2.5,-0.3l0.6,2.7l1.1,2.1l2.1,0.3l1.8,0.9l2.5,-1.6l1.4,-1.3l1,-1.3l1.1,-1.7l0.5,-2.2l0,-1.9l2.3,0l1.4,0.3l2.3,-1.2l1.2,1l1.9,-0.3l2.3,-2.8l1.6,-0.5l2.3,1.3l1.6,-0.6l1.6,-0.4l2.1,1.1l1,-1l0.7,-2.2l-2,-1.7l0.6,-1.9l3.1,-2.7l-1.6,-1.2l-0.2,-2.5l-2.1,-1.3l-0.1,-1.4l-2.4,0.1l-1.3,0.7l-1.9,0.2l-3.5,-1.7l-1.6,0.9l-1.2,3.2l-1.3,-0.2l-2.7,-0.7l-1,-1.2l0,-2.1z"/>
<path fill="#b8e4e7" d="M399.9,712.2l-2.7,-0.2l-2.6,0.1l-0.9,2.2l-1.7,1.9l-3,-0.6l-2.1,-0.6l-1.9,-0.8l-1.9,1.6l-0.6,2.3l2.1,1l0.8,1.5l-0.6,2l-1,2.1l1.8,2l1.6,1.1l-0.2,2.5l1,1.4l2.2,0.5l-0.6,2.3l0.7,1.3l0.5,2.6l1.5,1.4l0.2,2.5l-1.5,2.4l1.2,1.5l2.1,-0.1l1.9,-0.9l1,-1.2l2.3,-1.3l2.1,-0.6l2,0.2l1.5,-0.6l1.1,-1.3l2.3,-1.9l1.5,-0.2l-0.3,0l0.9,-3l1.3,-2.9l-2.6,-1.1l-3.6,-0.5l1.4,-2.9l-1,-1.5l1.9,-1.5l1,-1.8l0.4,-2.3l0.6,-1.6l-0.3,-2l-6.2,-5.7l-1.9,1.8zM441,724.8l-2.2,-0.5l-3,1.3l-2,1l-1,-1.6l-2.1,-1.2l-1.7,1l-2.4,-0.7l-1.3,1.7l-0.3,1.7l0.3,3l-0.9,1l-0.5,2.5l1.3,2.4l-1,1.7l-0.5,1.2l1.6,1.4l1.4,1.8l2.5,0.6l2.4,0.5l1,2.1l16.6,-2.7l0.3,-0.4l-2.8,-14.4l-2.8,0l-2.4,-0.6zM527.3,751.9l-2.8,0.2l-4.3,-0.9l-0.6,1.8l0.1,2.3l-0.4,1.9l0.4,1.3l-2.4,0.5l0.3,3.1l-1.7,0.2l-2.7,1.5l1.7,2.2l1.9,2l1.4,2.4l-2.5,1.7l-1.7,2.7l1.9,1.5l-1.2,1.6l0.1,1.5l3,4.8l2.3,0.1l1.2,-0.5l1.8,-0.7l2.7,1.4l1.2,-1.7l2.1,1l1.8,0.4l-0.8,-1.7l3.9,-0.8l0.6,-2l-1.9,-2.7l1.9,-1l0.4,-2.1l-5.3,-4.5l0.4,-1.7l-1.1,-1.8l-0.4,-1.4l-1.4,-1.8l9.6,-4.8l-0.3,-2.3l-1.5,-1.8l-0.7,-1.9l-3.9,0l-1.4,-0.9l0.9,-3.1l-2.5,-1.4l-1,1.3zM841.9,722.5l-0.6,0.6l-1,2l2.3,0.5l0.8,1.9l2,1.3l0.6,1.7l0.8,1.9l3,-0.4l1.3,0l2.1,0l1.6,0.1l1.2,2.4l1.4,0.5l1.7,1.4l2.1,1.4l1.5,-2.3l1.7,-1.6l2.3,1.1l1,-2l-1.7,-1.9l-0.2,-1.7l2.3,-2.5l-1.7,-2.2l0,-1.4l1,-1.8l-0.7,-2.2l-1.4,-3.6l-2.9,3.8l-2.6,1.3l-1,-2.8l-0.8,-1.6l-3.3,-0.7l-1.2,-1l-2.7,-0.6l-1.2,3l-1.5,0.4l-2.2,0.6l-1.6,1.2l-0.5,1.5zM855,745.5l-2.1,0.9l-1.3,1.2l-2.7,-0.3l-1.9,0.3l0.2,2.7l1.8,1.6l0.4,1.4l-1.7,2.4l1.5,2.8l1.3,1.4l-0.6,1.4l-2,1.6l-0.6,2.2l-2.1,-1.6l-2.5,-0.2l-1.6,-0.5l-0.7,-2.5l-1,-1.8l-2.4,-0.8l-1.8,-0.5l0.1,-3.8l-0.8,-0.7l-2.8,-1.1l-0.3,0.2l-1.8,1.4l0.6,2.3l-1,1.6l-2.5,0.3l-1,1.8l-1.9,1l-0.2,2.9l-1.4,1.9l-2.2,0.5l-1.1,1.5l1.2,1.9l1,2.8l2.5,-0.4l1.4,2.6l3.3,-2.7l0.6,3.8l0.1,2.4l0.7,1.2l4.4,-0.2l-0.4,2.4l0.4,0.8l1.3,1.9l1.7,2.7l1.6,-2l2.5,-0.5l1.7,2.6l1.8,-1.4l1.4,2l2.4,1.5l2,-2l1.6,2.1l1.7,1.6l1.5,-1.4l2.3,-0.3l2.2,-0.6l1.2,-2.2l1.4,-0.7l2.5,-1.6l2.3,0.8l1.7,-1.4l1.1,-1.3l-1.1,-2.7l1.7,-1.7l2.1,-1.8l0.7,-2.4l0.8,-1.7l-2.4,-1.8l-0.1,-1.6l2.3,-2.5l-1.3,-1.7l-1.8,-0.2l-2.3,0.9l-1.5,-1.5l-1.2,-1.4l-2.5,-1l-1.3,-2l-1,-1.7l-0.6,-2.1l0.9,-1.8l-0.4,-2.4l-1.3,-1.3l-1,-2.3l-1.8,-2.2zM966.6,740.6l1.8,-1l2.3,-1.2l0.5,-2.5l2.5,-0.9l1.8,-1.4l1.2,-1l-16.7,-4.2l-2.3,0.2l-1.5,1.3l-1.9,0l-2.4,-0.6l-1.2,-0.6l-2.4,1.5l-3,2.9l-3.4,-0.6l0,0.4l-0.2,1.6l2.9,1.4l1.7,0.8l-1.6,2.9l-1.7,2.8l1.2,1.9l2.6,0.8l2,1.2l2.2,-0.2l1.1,2l2.7,1l5.4,-5.3l1.4,-0.8l2.1,0.4l2.8,-1zM912.7,746.7l0.8,2.6l-1,1.4l-1.5,1.4l0.5,3.3l0,1.5l2.5,-0.3l1.6,0.7l1.8,1.6l1.6,0.4l2.5,0.1l1.6,-0.7l2,0.1l-0.8,-1.8l-1.6,-2.1l1.1,-1.8l0.5,-1.7l1.3,-3l-1.7,-1.5l-1.2,-1.4l0.5,-2.3zM293.2,788.3l2.1,0.8l2.5,-1.5l2.4,1.2l2.1,-0.4l1.8,-1.5l2.9,0.3l1.3,-1.8l0.5,-2.2l0.2,-2.2l0,-1.7l-1.2,-2.3l0.5,-2l-0.5,-2.3l-1.7,-0.6l-2,-2.3l0.7,-2.8l0.2,-2.1l-1.3,-1.5l-0.5,-0.1l-1.5,1l-2.6,1.1l-1.4,-0.7l-2.1,-1.3l-2.5,0.2l-1.6,1.8l-1.1,0.3l-2.5,-1.2l-2,-0.2l-1.1,1.1l-0.4,1.8l-0.7,2l1.5,1.2l-0.6,2l-0.8,2.8l2.6,1.2l3.7,0.5l-0.9,2.5l1,1.8l-0.7,2.2l2.2,1.6l0.2,2.3l-0.3,1.8zM516.6,821.9l0,-1.6l-0.2,-0.7l-1.6,0.1l-1.7,-2.9l-3,0.9l-0.7,-3l-1.7,-0.5l-3.3,1.2l-1,-1.4l-2.1,-0.4l0.1,2.1l-1.8,1.6l-1.6,0.4l-1.6,1.3l2.3,1.9l-1,1.6l-1.7,2l1.2,1.9l1.1,2l1.1,11.5l1.9,-1.1l2.6,1.1l1.3,0.2l2.2,-2l1.1,-2.5l2.3,0.9l0.3,-2.6l1.5,-1.5l-1.2,-2.2l1.3,-1.2l1.2,-2.3l-0.1,-2.2l0.7,-2.1zM648.4,816.2l-1.9,-1.1l-1.3,-0.7l-1.4,1.8l-0.5,1.6l-0.2,2.3l-0.3,1.7l-0.1,1.9l-0.7,1.5l0.9,1.5l1,2.9l1.2,1.6l0.4,2.1l4,-0.3l0.5,2.2l0.9,-1.7l1.5,-1.9l-2.6,-2.1l-1.9,-1.9l1.4,-1.9l2.4,-1.7l-1.2,-2.7l-2.4,-1.8l1.9,-1.7zM755.2,834.3l-1.2,2.1l-1.7,1.3l-0.9,0.5l-5.5,8.3l0.3,2.4l-1.2,1.3l0.3,1.8l-0.1,2.5l-0.7,1.6l0.1,0.4l-0.6,1.8l-1.3,2.7l-1,1.3l2,1.1l-1.2,2.9l1.4,1.7l4.1,0l-2.8,3.1l1.7,1.6l1.6,2l1,1.3l1.2,1.6l3.9,-2.3l1.7,0.3l0.5,3l1.1,-2.3l3.2,1l2.8,-0.1l0.3,-2.9l2.2,-0.8l0.6,0l1.9,-0.5l0.3,-2.7l2.6,-0.3l1.8,0.3l1.4,-1.8l1.6,-0.6l1.1,-2.3l0.9,0.1l2.1,-0.7l1.2,-1.2l0.3,-3.5l2.1,-1.1l2.1,-0.3l0.6,-1.6l2.4,-0.5l1.9,-1.2l0.3,-2.6l2.3,-0.6l-1.2,-1.2l-1.4,-2.1l0,-1.5l-1.3,-2.1l-1.7,-0.3l-2.1,-1l-0.2,-2.4l0.5,-1.4l-0.5,-2.7l0.7,-1.4l2,-1.4l1.4,-1.2l-0.3,-2.2l-0.1,-0.7l-2.7,-0.2l-0.7,-2l-2.6,-1.3l-0.9,-0.7l-3.3,2.1l-2.9,0.2l-0.9,-2.3l-7.5,-9.3l-1.5,0.4l-0.1,0l-0.6,0.1l-1.4,1.3l-1.3,1.6l-1,1.3l-1.3,1.6l-1.5,1.8l-1.5,0.6l-2.4,0.6l-0.7,1.8l-1.2,2.2l1.4,1.8zM702.9,941.7l1.1,1.5l0.7,2l3.4,0.2l1,2.5l0.3,2.9l1.2,1.6l-0.1,2.6l0.2,1l-0.2,2.7l0,0.5l21.8,0.4l-0.1,-0.9l0.1,-2.8l-1.8,-1.4l-0.6,-1.7l0.3,-1.5l-0.9,-2.4l-1.4,-0.5l-1,-1.4l-1.9,-1.5l-0.5,-1.3l-1.7,-1.2l-0.4,-1.8l-1.3,-1.7l1.1,-1.7l-1.1,-1.4l-2.3,0.9l-1.8,-1.9l-2.5,2.6l-1.7,1.8l-2.3,-1.5l-1.8,0.5l-2.1,0.7l-1.7,1.2l-2.3,-0.6l0.1,1.2zM888.5,786.9l0.5,2.1l-0.4,1.7l-0.1,0.5l2,0.8l2.1,-2.3l2.1,0.4l1,3.7l1.5,2.5l2.5,-1.8l2.3,1.5l-0.4,2.2l2.7,1.9l1.7,0.7l2,0.1l2.4,-1.5l1.3,-1l2,-0.1l1.9,-1.1l-1.3,-13.4l-0.1,-0.2l0,-0.2l-1.8,-0.1l-3.2,-0.6l-1.6,-1.5l-1.8,-1.2l0,-2.9l-1.4,-0.5l-2.9,-0.2l0,-2l-2,-1.3l-1,2.7l-2.6,-2l-1.9,1.7l-0.8,0.8l-0.9,3.3l-2.4,-0.5l-0.8,1.8l-0.5,2.2l-0.8,2.4zM947.8,798l-0.9,-3.1l-1.4,-1.6l-1.6,-0.4l-1.4,2.2l-2.3,-1l-0.8,1.4l-2.5,1.3l0.1,3.3l-2.1,1l1.4,1l-1.4,2.5l0.8,2.1l0.8,1.6l0.7,2l0.8,1l1.3,-1.6l3.8,1.3l1.1,-2.3l1.4,-1.7l2.2,-1.5l1.3,-1.1l0.2,-2.8l-0.7,-2z"/>
<path fill="#c9f0f1" d="M452.6,693.8l-0.5,-2.7l1,-1.4l-0.4,0.4l-5.8,1.3l-4.7,-0.2l-0.8,1.7l0.1,1.9l3.4,2.2l0.5,2.1l-3.6,1.9l-0.6,2.5l2.4,1.4l-0.9,1.5l-0.1,2.5l2,1.2l1.6,-0.9l2.9,1.4l1.5,-0.4l1.9,-3l1.9,2.6l2.2,-0.7l2.1,-1.2l1.5,-1.9l2,-1.2l2.8,1.8l0.7,-1.4l0.5,-1.5l-1.5,-1.9l0.4,-2.4l-1.6,-1.1l-2.2,0.2l-1.7,-1.6l-1.8,0.1l-1.4,-1.4l-1,-1zM577.1,674.3l0.1,1.5l0.1,2.6l0.1,1.2l0.5,2.6l0.1,1.8l0.6,0.9l1.5,2.1l1.5,0.2l1.9,0.8l1,1l2.4,0.1l1.1,1.5l2.3,1.5l0.6,2.6l0.4,1.9l0.2,1.6l0.8,1.6l-1.4,2.2l1.6,1.1l2.1,0.8l1.8,0.7l1.6,0.7l2,-1.1l1.9,0.4l1.4,2.3l2.3,0.3l3,-1.1l1.3,0.7l-0.4,-2.2l1.6,-2l0.4,-2.1l-2.2,-1.3l-5.2,-8.2l3.3,-16.6l-20.7,-0.7l-1.9,2.4l-2.8,-2.4l-5,0zM608.6,706.1l-3,1.1l-2.3,-0.3l-1.4,-2.3l-1.9,-0.4l-2,1.1l-1.6,-0.7l-1.8,-0.7l-2.1,-0.8l-1.6,-1.1l-7.1,8.9l1.7,1.6l0.9,1.8l1,1.5l2.7,0.1l0.4,3.2l2.6,9.2l0.2,0.1l2.6,1l2,-0.4l0.3,4.1l1.8,0.9l2.1,0.6l1.6,-0.1l1.8,-3.3l2.5,-0.2l2.5,2.8l1.7,-1.3l1.8,-0.8l1.3,-1.2l0.1,-2.5l-2.3,-0.8l-0.1,-2.6l-0.1,-2.2l-1.2,-2l0.3,-2.1l1.8,-1.8l-1.7,-2.1l0.4,-2.6l0.3,-2l-0.5,-0.9l-2.1,-1.7l-0.3,-0.4zM699.1,748.6l-0.8,-3.2l-1,-1.8l0.7,-2.2l-10.3,3.1l-0.5,2.5l-1.1,1.5l0.4,2.5l2.1,0.6l-0.9,2.9l0.3,1.9l2.2,0.5l0.1,2.7l3,-0.2l2.7,-1.2l1.7,-0.8l1.4,-1.5l0.6,-2.3l-1.9,-3.2l2.3,-0.5zM1064.4,723.7l1.3,-1.3l0.6,-2.2l0.2,-1.6l0.4,-2.1l-2.1,-0.9l-2.4,0.5l-1.2,-0.6l-1.9,0.4l-1.9,-1.2l-2.6,-0.6l-1.9,-0.3l-2.1,0.4l-0.1,2.5l-0.7,1.3l-0.8,2.9l3.1,2l-1.5,2.1l-0.9,1.8l-1.6,2.3l-2.3,0.5l-1.4,1.3l-0.9,2.3l0.3,1.6l0.8,1.2l0.9,1.4l2.3,-0.5l1.9,2.4l1.5,1l3.3,-2.8l1.5,0.2l0.8,2.8l2.6,0.6l5.3,-2l0.1,-0.1l-0.5,-2.2l-0.5,-2.3l-1,-1.4l-0.8,-1.8l0.4,-2.7l-0.4,-1.9l0,-2.7zM1033.4,758.5l1.4,2.8l4.1,-3.1l0,3l2.3,2.1l1,1.8l2.4,-0.4l2.8,-1.1l1.6,-0.7l3.6,-6.4l-1.2,-1.4l-0.1,-3.3l-3.1,-0.5l-2.7,0.5l-2.2,-1.4l0.4,-2.8l-1.2,1l-2.1,1.2l-2,-0.2l-1.6,2.3l-0.6,1.9l-1.8,0.4l-1.2,1.2l-0.3,2.1zM1077.8,737.4l-3,-3.7l-1.6,1.4l-1.5,4.4l-3,-2.4l-2.3,-0.4l-1.4,2.3l-0.1,0.1l0.3,2l0.1,2.3l3.4,1.3l2.3,0.8l-0.3,2.1l-2,3l1.3,2.6l3,0.8l-0.9,2.1l1.1,-2l1.5,-1.7l1.7,-0.2l3.7,-0.6l0.5,-1.1l0.6,-2.9l0.2,-2.1l2.7,-1.7l1.2,-0.9l-1.2,-0.9l-2.3,-1l1,-2.9l-0.9,-2.2l-2.7,-0.4zM1116.3,734.2l1.1,-1.2l-0.5,-5.5l-1.1,-1.3l-0.5,-1.8l-1.9,-0.8l-0.8,-1.6l-2.4,0.3l-2,1.5l-0.4,2.9l-0.3,1.4l-4.6,-1.2l-0.9,1.3l-0.7,2.8l-1.4,1.1l0.2,3.3l-0.3,2.3l-2.1,0.6l-0.7,2.8l0.4,2l1.9,1.2l1.3,1.9l0.9,1.8l0.2,2.1l2.2,1.1l2.8,0.5l0.5,-1.9l1.4,-1.9l3.2,-0.2l2.5,0.6l1.6,-0.9l0.5,-2.9l-1.3,-7l1,-1.4zM529.1,783.8l-2.1,-1l-1.2,1.7l-2.7,-1.4l-1.8,0.7l-1.2,0.5l-2.3,-0.1l-1.4,1.8l0.8,2l-0.9,1.2l-0.2,1.8l0.5,2.4l0,1.9l-2.7,0.5l-1.1,2.5l0.7,2.6l-2.5,0.3l-2.1,-1l-1.6,2.7l-2.6,1.3l-2,-3l-2.2,2.4l-0.4,2.4l1.2,7.6l2.1,0.4l1,1.4l3.3,-1.2l1.7,0.5l0.7,3l3,-0.9l1.7,2.9l1.6,-0.1l0.2,-2.2l2.1,-0.9l0.9,-1.9l0.4,-2.2l0.9,-1.6l3,0.3l1.5,-1.1l0.6,-1.9l1.8,-1.1l1.5,0.8l1.8,-0.1l0.7,1.4l1.3,1.9l2.3,1.1l2.2,0.9l2.1,-0.9l1.5,1.9l2.7,0.6l3.4,1.2l0.2,-3.7l1.4,-0.5l1.1,-2.3l3.5,-0.1l1.3,-1.5l1.4,-1.6l0,-0.8l-2.5,0.8l-1.8,-1.7l-0.4,-3.1l-0.8,-1.1l-2.8,-0.5l-1.4,-1.9l-1.1,-1.8l-1.8,-0.8l-0.4,-1.1l-2.9,-1.2l-0.4,-2.1l-2.1,-2l-1.8,-1.4l-2,0.7l-1.6,-2.1l-1.5,-1.8zM651,758.8l-2.1,0l-4,1.5l-1.6,0.5l-0.6,-4l-2.2,0.3l-0.1,3.4l-0.1,1.5l-3.4,0.1l-0.3,2l-1.4,1.4l-2.4,-0.3l-1,1l-1.6,0.7l-1.4,1.8l-0.9,2.6l0.6,1.6l0.3,1.9l-0.6,1.5l0.7,1.3l-2.2,4.1l3.9,0.8l2.1,1l0.4,2.8l2.3,1.2l-2.1,2.8l2.3,0.6l2,-2l1.8,-1l2.4,1.8l1.2,-0.6l1,-3.4l2.5,1.2l2.6,0.8l1.8,-0.9l1.6,-1.1l-1.5,-2.4l0.4,-1.7l1.2,-1.9l-0.2,-1l0.1,-1l-0.6,-1.4l0.1,-2.4l0.2,-1.8l2.5,-1.7l-2.1,-2.4l-1.1,-2.1l2.2,-2.2l-2.5,-0.7zM676.4,878l-11.2,-3.5l-0.2,1.7l-1.1,2.2l-0.6,1.4l-1.4,1.5l0.3,3.2l-1.7,1.3l-1.9,1.3l1.7,2.3l-2,1.9l-0.8,1.3l-0.9,0l-0.9,2.5l-2.2,-0.7l-1.9,1.2l-0.8,0.2l0.1,0l2.1,1.3l-1.2,2.1l-3.7,0.3l-0.1,0.7l-2.3,0.9l2,7.9l1.6,2l0.9,1.9l1.4,2.6l-0.7,1.8l-0.9,2l-1.2,2.1l-1.9,1.6l-1.3,0.4l-1.1,2.3l-2.1,0.8l-0.7,2.6l0.2,1.3l-1.2,2.8l4.4,-0.2l2.3,2l-0.5,1.3l-0.2,3l2.3,-0.3l2,-0.9l1,-1.6l2.2,-0.2l1.1,-1.5l2,-2.1l0,-1.7l3.2,0l2.2,-0.5l0.2,-3.1l1.3,0.7l2.1,-0.7l2,-0.7l0.9,-1.7l1.8,-1.8l0.8,-0.7l2,-1.6l1,-0.4l2.5,-0.8l-0.1,-2l1.7,-1.8l-0.1,-2.8l-0.5,-2.5l-0.2,-2.1l-1.7,-2l0.4,-1.7l0.3,-1.6l0.9,-2l0,-2.2l1.4,-1.9l-1.4,-2.2l-1.3,-1.7l1.3,-1.6l0.2,-0.5l-1.7,-1.9l0.9,-2l-0.4,-2.8l0.1,-1.1l-0.4,-2.2l-0.5,-1.6zM674.8,920.5l-1,0.4l-2,1.6l-0.8,0.7l-1.8,1.8l-0.9,1.7l-2,0.7l-2.1,0.7l-1.3,-0.7l-0.2,3.1l-2.2,0.5l-3.2,0l0,1.7l-2,2.1l-1.1,1.5l-2.2,0.2l-1,1.6l-2,0.9l-2.3,0.3l-1,2.5l1.1,16.5l15.4,0.2l0.3,-1.6l-0.3,-2.4l-0.3,-1.3l0.4,-2.5l0.4,-1.4l0.2,-2.2l1.5,-2.5l2.4,1.1l1.8,-1.4l2.1,0.8l1.2,-0.6l1.8,-1.7l4.1,1.2l1.1,-1.2l1.6,-0.6l1.5,-1.7l0.9,-1.5l-0.3,-1.9l-1,-1.6l0.8,-2.5l1,-2.4l0.4,-1.6l-4.3,-1.3l2,-2.6l-1.3,-2l-1.7,-2l-1.2,-1.4zM835.2,914.8l0,-2.4l-0.3,-1.5l1,-1.4l-0.3,-2l-2.3,0.9l-1.1,-2.8l-0.7,-2l-2.5,0.1l-2,-1.4l-2.6,1l-2.1,-0.2l1.6,2.5l-1.3,2.2l-2.6,1.2l0.4,2.1l1.6,1.5l0.4,2.5l-0.1,1.2l-0.9,2.1l-0.1,2.3l0.7,2l0,1.5l-1.4,0.9l-0.2,2l-2.1,2.3l-0.3,1.6l0.3,2.1l-2,2l1.7,1.4l0.3,1.2l1.5,1.8l1.7,2.2l2.6,-2.5l1.5,-1l2.4,1.3l4.8,-12.6l1.3,-0.7l0.7,-1.7l0,-6.8l0.8,-1.2z"/>
<path fill="#b5e2e5" d="M487.2,714.4l-0.9,2.5l-1,0.7l-1.9,1.6l-2.3,1.6l-0.2,1.8l-0.5,2.4l1.4,1.5l1.9,2l1.2,1.5l0.1,1.6l1.3,2.6l2.7,0.8l-0.1,2l2,-0.3l2.2,-0.8l2.2,1.3l1.3,0.2l2.1,-1.5l2.1,0.1l-1.1,-2.5l0.4,-1.8l2.1,-1.7l-0.1,-1.6l-0.6,-3l-1.4,-1.3l0.7,-2.9l0.7,-1.3l1.1,-2l-2,-1.9l-1.1,-2.1l-0.9,-1.7l-0.4,-0.2l-2.9,-0.5l-2.1,1.3l-1.3,-0.7l-2.5,1.3zM886.3,720.9l1,-2.2l1.6,-1.6l-1,-2.4l-1.8,-1.7l-1.5,-0.3l-1.3,-1.2l-2.7,-0.5l-1.9,-0.3l-1,-3.1l-1.8,-0.5l-1.2,1.2l-0.3,2.3l-2.8,1.8l-0.9,0.5l-0.6,3l-0.6,1.9l-2.2,1.1l-0.6,0.4l0.7,2.2l-1,1.8l0,1.4l1.7,2.2l-2.3,2.5l0.2,1.7l1.7,1.9l-1,2l0.8,1.4l1.4,1.6l2,1.7l2.8,0.9l0.5,0.5l1.5,-0.5l2.3,-0.9l2.2,0l2,1.6l2.1,0.5l1.5,-0.7l2,-1.5l-0.1,-2.6l1.4,-2.1l-0.9,-1.7l1.4,-1.7l-0.6,-2.4l-1,-1.7l-1.1,-1l-1,-2.1l1.3,-2.3zM913.4,680.7l1.2,2.4l0.2,1.7l0.4,2.4l0.4,1.7l0.3,2.2l2,-0.3l2,2.9l2.4,-1.4l1.4,-3.4l2.3,-0.5l1.9,2.7l0.7,-2.2l1.5,-1.5l0.8,-2.1l1.2,-0.9l-0.4,-3l0.2,-0.8l-18.5,0.1zM952.3,713.1l-2.5,-1.3l-2.2,-0.1l-2.3,1.9l-1.1,-0.5l-2.9,-1.5l-1.9,1.1l-0.4,0.6l0.4,2.2l-1.1,2.6l1.8,2.1l-0.1,1.6l2.4,1.1l3,-0.7l2.9,2.5l4.3,0.7l-0.6,2.6l-1.3,0.7l1.2,0.6l2.4,0.6l1.9,0l1.5,-1.3l2.3,-0.2l16.7,4.2l2.4,0.1l2,-1.1l0.7,-0.8l0.5,-1.6l-1.9,-1.5l0.8,-2.3l-2.2,-1.3l-1.9,-0.5l-2.4,-0.8l-1.4,-2.1l-0.8,-1.4l-1.7,-1.1l-1,-2.9l-0.6,-0.9l-1.5,-1.9l-2.7,0.9l-2.4,-1.1l-2,0.3l-1.8,-0.1l-1,1.4l-2.1,0.5l-1.5,-0.8zM341.5,786.7l0,2.2l-0.5,1.2l-1.3,2.7l-1.5,0.5l-1.3,1.7l0.4,2.6l8.7,11.2l2.4,-0.9l1.9,1.2l1.9,-0.7l0.8,-3.5l2.8,1.7l2.1,-1.3l-0.1,-2.3l1.8,-0.6l0,-2.3l-1,-1.8l1.2,-1.3l4.1,-1.7l-1.3,-1.9l-1.9,-1.7l-0.2,-2.4l-0.7,-1.3zM528.6,764.5l0.4,1.4l1.1,1.8l-0.4,1.7l5.3,4.5l2,-0.1l1.3,-0.7l1.8,-1l0.8,-1.9l-0.2,-2.7l-0.1,-1.7l0.7,-2.3l0.1,-2.3l-1.3,-0.4l-2.7,-1.2l-0.6,-1.7l-9.6,4.8zM854.6,806.5l0.6,-2l-1.1,-1.9l-2.1,-2.2l1,-1.9l0.6,-2.6l-0.8,-1.7l0.7,-1.8l0.3,-2.3l-1.7,-1.6l-1.6,-2.1l-2,2l-2.4,-1.5l-1.4,-2l-1.8,1.4l-1.7,-2.6l-2.5,0.5l-1.6,2l-1.7,-2.7l-1,2.5l-0.3,0.9l-3.7,1.7l0.3,1.9l-0.2,2.4l-0.5,1.7l-0.9,2.3l-1,1.1l0.5,1.9l-1.4,2.2l-2.5,1.8l-1.7,0.3l-0.3,1.2l2.1,1.6l-3.5,2.5l1.6,2l2.1,0.8l1.8,0.9l-1.3,2.5l1.2,1.7l2,1.1l-0.8,2.2l2.8,1l0.2,1.6l1.9,2.1l2.5,0.3l1.7,0.1l2.2,-1.7l1.3,-2.1l2.4,1.6l2.2,1.1l2.6,-1.6l1.9,0.4l0.8,-1.9l0.9,-2.5l1.7,-1.4l-0.1,-2l1.4,-2.2l-0.6,-1.5l-0.7,-2.1l-0.2,-2.7zM1057.9,798.1l-1.2,-1.7l-3.1,12.7l1.1,1.9l1.8,1.1l2.5,0.2l0.7,2.4l1.6,1.4l2,0.8l3.2,-1.1l4.5,-1.4l0.9,0l-2.1,-9.7l-1.5,-2.4l-1.6,-0.1l-2.2,-0.1l-2.2,0.1l-0.9,-1.7l-0.7,-2.2z"/>
<path fill="#c8eff0" d="M575.3,701l-1.2,3l3.9,-0.7l0.4,2l3.3,0.9l-2,3.6l1.8,1l2.3,0.1l7.1,-8.9l1.4,-2.2l-0.8,-1.6l-0.2,-1.6l-0.4,-1.9l-0.6,-2.6l-2.3,-1.5l-1.1,-1.5l-2.4,-0.1l-1,-1l-1.9,-0.8l-1.5,-0.2l-1.5,-2.1l-0.6,2.2l-2.5,1.3l0.2,1.7l1.9,3.4l-1.9,1.3l-2,1.1l0.2,2.9zM618,674.9l-0.1,2l-0.9,1.7l-0.3,2.3l0.3,1.7l1.6,1.6l1.8,1.3l0.3,2.3l0.3,2.7l3,-0.7l2,3l1.4,0.9l0.7,2.1l0.5,2.8l1.8,-0.4l3.1,-1.2l2.6,0.3l0,3.2l1.2,1.7l1.7,-1.6l1.7,2l2.9,-0.3l0.2,-3.1l1.4,-2.2l2.7,1.4l2.1,0.4l0.8,-1.9l-0.8,-2.1l-0.6,-1.3l0.6,-2.1l-4.8,-15.4l-5.2,-0.3l-22.2,-0.9zM639.4,752.6l-0.7,-1.7l-1.8,-0.2l-2.9,1l-1.1,-0.9l-1.4,-1.9l-2.1,-0.4l-2.5,0.4l-1.8,1.3l-2,12.2l-2.3,0.3l-1.8,0.9l-2.5,-0.6l-1.9,0.1l-1.3,-0.3l-2.7,-0.2l-0.8,-0.6l-1.5,-2l-2.2,-1.4l-1.2,-0.5l-0.8,-2.8l-1.8,1.8l-1.6,-0.7l-2.1,0.6l-1.8,1.5l-2.2,1.4l-1.4,0.9l4.3,19.4l0.5,0.5l1.8,1.5l1.4,1.7l2.4,0.5l1.6,2l0.3,-0.2l2,-1.6l2.5,0.5l2,-0.6l1.1,-1.1l1.6,-2l1.6,-2.6l1.8,0.4l2.8,2.1l1.5,-1.5l1.7,-4.3l1.3,0.6l2.8,0.2l0.6,-1.5l-0.3,-1.9l-0.6,-1.6l0.9,-2.6l1.4,-1.8l1.6,-0.7l1,-1l2.4,0.3l1.4,-1.4l0.3,-2l3.4,-0.1l0.1,-1.5l0.1,-3.4l2.2,-0.3l-0.3,-2.3l-0.4,-1.8zM767.2,733.5l-1,-0.7l-2.6,-0.8l-2.2,0.5l-2.5,0.3l-0.7,-1.1l-1.4,-1.8l-2.6,-1.4l-1.6,0.8l-2.7,1.2l-1.6,-1.6l-5,0.4l-0.2,1.1l0.6,2l1.7,0.6l1.7,1.2l1.2,2.3l0.7,3l1.4,-0.2l2.7,0.8l1.3,1.3l0.8,2l2,1.1l2.5,-1l0.3,-2.7l1.7,-1.1l3.1,0.3l2.8,-0.4l0.9,-1.5l0.8,-1.3l-0.1,-1.9zM1043.3,750.4l2.2,1.4l2.7,-0.5l3.1,0.5l0.1,3.3l1.2,1.4l1.5,-0.6l2.1,-0.9l0.5,-2.5l0.3,-2l-0.5,-1.8l0.9,-1.6l2.3,-1.6l-1.4,-2.3l1.3,-2.1l-2.6,-0.6l-0.8,-2.8l-1.5,-0.2l-3.3,2.8l-1.5,-1l-1.9,-2.4l-2.3,0.5l-3.4,1.3l3.2,3.1l2.1,2.4l-4.3,1.7l0.4,1.7zM632.8,895l1.1,1.1l3,-0.6l0.1,4.7l2.4,-1.8l2.9,0.4l0.5,2.2l2.9,0.1l2.3,-0.9l0.1,-0.7l-2.1,0.1l-4.2,-0.9l-0.4,-2.3l3.6,-1l5.8,0.4l0.8,-0.2l1.9,-1.2l2.2,0.7l0.9,-2.5l-9.1,-10.6l-1.8,-1.3l-1.3,2.7l-2.1,1.9l-1.5,-0.4l-2.7,-1l-1.2,2.1l-0.2,2.2l-0.3,1.5l-1.4,1.2l-1.6,1.6zM787.4,883.4l2.3,-0.9l2.5,0.3l1.9,1.1l1.4,-2.7l0.2,-0.8l-0.7,-2.1l-2.1,-1.8l-1.6,-1.3l-0.1,-2.2l-2.8,0l-1.6,-0.9l-1.9,-2l-2,-0.4l-1.2,-1.9l-2.3,-0.4l-0.8,-1.7l-0.9,-0.1l-1.1,2.3l-1.6,0.6l-1.4,1.8l-1.8,-0.3l-2.6,0.3l-0.3,2.7l-1.9,0.5l0.4,1.8l2.3,1.4l1.4,1.8l-0.6,2l1.5,7l0.3,2.3l3.5,1.2l0.2,2.1l1.6,-0.9l0.4,-3.2l2.4,0l1.1,-0.9l0.5,-1.9l2.1,-1.2l2.5,-0.2z"/>
<path fill="#b6e3e6" d="M518.8,722.6l-3.4,1.6l-2.3,-0.4l-1,-3l-1.6,1.1l-2.9,-1.1l-0.5,-4.3l-2.3,0.8l-2.2,0.6l-1.1,2l-0.7,1.3l-0.7,2.9l1.4,1.3l0.6,3l0.1,1.6l-2.1,1.7l-0.4,1.8l1.1,2.5l1.8,1l1.1,1.5l3.2,1.4l0.3,2.6l-0.5,2l0.5,0.1l2.6,-0.4l0.3,2.6l1.4,2.3l3,0.6l-0.1,1.9l2.6,0.8l1.6,1.6l1.1,1.3l-0.1,-2.3l0.6,-1.8l4.3,0.9l2.8,-0.2l-0.9,-4.1l1,-1.3l1.6,-6.4l-2,-1.1l-0.1,-2.2l-1.8,-1.1l-3.1,-10.8l-0.2,0l-1.9,-1.8zM875.9,707.1l1.8,0.5l1,3.1l1.9,0.3l2.7,0.5l1.3,1.2l1.5,0.3l1.8,1.7l1.8,-2.3l1.9,3.3l1.4,-2.4l1.8,-1.4l2.1,-1.4l1.7,0l2.6,1.1l-0.4,-2.7l0.6,-1.7l-1.5,-1.9l-0.6,-1.5l-0.8,-2.7l-1.5,-1.6l-2.4,-0.9l1.2,-2.9l-1.4,-1.3l-2.2,1.9l-1.4,-1.5l-2.5,-0.3l-2.2,0.7l-1.9,-0.3l-1.8,0.7l-1.4,2.5l-3.2,0.7l-1.7,-1.1l-1.6,0.7zM861,750.3l0.4,2.4l-0.9,1.8l0.6,2.1l1,1.7l1.3,2l2.5,1l1.2,1.4l1.5,1.5l2.3,-0.9l1.8,0.2l1.4,-0.8l0.1,-0.3l0.6,-2.2l0.9,-1.7l-3.2,-2.2l-0.2,-1.2l1.8,-2.3l-0.9,-1.5l1.1,-2.5l2.8,-1.3l-2.6,-2.4l-1.5,-2.1l1.2,-1.9l-0.5,-0.5l-2.8,-0.9l-11.2,9.3zM898.5,682.5l-0.9,1.3l0.9,2.6l-0.5,1.7l2.1,-0.6l0.9,3.1l2.5,1.3l2.6,-0.1l2.2,-0.2l2,-2.3l0.3,5.2l3,-1.2l0.8,-0.8l1.5,-1.4l-0.3,-2.2l-0.4,-1.7l-0.4,-2.4l-0.2,-1.7l-1.2,-2.4l-13.4,0.1l-0.6,0zM901.6,744.1l-3.3,0.8l1,2.5l2.2,3.2l-1.6,1.2l-2.8,2.1l1.3,2l1.1,1.5l-0.4,2.5l1.3,1l1.8,-0.2l2.3,-1.8l1.9,0.4l2.2,0.4l1.7,-1.8l1.2,-1l0,-1.5l-0.5,-3.3l1.5,-1.4l1,-1.4l-0.8,-2.6l-1.7,0l-1.2,-1.5l-1.5,-1.8l-2,-1.1l-1.6,-0.7l-2.7,-0.2zM324.8,867.3l0,-1l-2.1,-1l-0.8,0.2l0.7,2.1zM326.4,869.6l-0.4,3.2l2.4,0.1l1.8,1.2l-0.2,4l-0.6,1.5l4.1,1.1l-0.2,2l2.3,1.2l0.9,-3.5l2,-1.7l2.3,0.3l2.3,2.4l2.5,-0.3l0.6,-3.3l0.1,-0.2l-0.5,-0.7l-1.5,-1.7l-0.4,0l-0.1,-0.1l1.5,-3.1l-1,-1.1l-2.9,-1.6l1.5,-2.3l0.1,-3l-1.3,-1.5l-2.2,-1.3l-1.3,-0.5l-1.8,-2.2l-2.7,0.1l-1,2l-1.5,1.7l-2.2,-0.8l-1.5,0l-1.2,3l-0.6,3l-0.9,-0.7l0.2,2.5l1.4,0.2zM307.9,949.7l1,-1.8l-2.3,-3.1l-2.2,-1.2l-1.2,-0.9l-2.3,-0.1l-1.4,-2.2l-0.5,-1.5l-1.6,-0.5l-1.5,-1.9l-2,-0.7l-4.5,0l-1.5,1.5l-2.2,6.5l-1.7,2.1l-0.6,1.7l-0.4,2.1l-1.2,2.4l-0.4,1.1l0,0.3l23.5,0.6l-0.2,-0.8l-0.1,-2.4zM717.5,910.9l1.5,-2.9l-0.7,-2l-11.5,-3.4l-8.5,5.1l-1,2.6l2.8,0.3l0.8,2.3l-1.4,2.2l2,2.1l0.6,1.2l0.2,0.1l-0.9,2.9l0.9,1.9l-0.5,1.7l-0.8,2.4l-1.8,1.1l0,1.6l-0.6,1.7l0.4,2.2l0.9,1.2l-0.1,1.9l1.3,1.4l1.2,1l0.3,0.6l2.3,0.6l1.7,-1.2l2.1,-0.7l1.8,-0.5l2.3,1.5l1.7,-1.8l2.5,-2.6l1.8,1.9l2.3,-0.9l2,-1.6l-1.1,-1.6l-1,-2.9l0.1,-1.6l1.5,-1.2l-0.1,-0.2l-0.2,-2.2l0.4,-1.6l-1.4,-2l-2.3,-2.1l1.2,-2.7l-0.3,-0.4l-0.8,-2.5l-0.2,-1zM963.1,772l0.1,-2.1l1.5,-1.5l-0.5,-2.4l-1.1,-1.7l0.1,-1.9l1.1,-1.7l-2.4,-0.6l-1.2,-1.7l-1.2,-0.5l-2.5,-1l-1.2,-1.3l-1.3,1.3l-3,0.1l0.2,3.1l-2,0.8l-1.5,1.1l-2,1l-2.4,-0.3l0.5,1.9l-2.7,1.3l-0.2,2.7l-1.2,1.2l-0.3,2.3l-1.7,1.7l3,0.4l0.4,2l-0.2,3l2,1.8l1.1,1.9l2,0.9l-1.8,2l-2.1,-0.2l-2.3,-0.7l-1.9,-0.2l-1.6,2l-1.7,0.3l-2.5,0.3l-0.2,0.9l1.7,0.4l1.6,2.2l1.6,0.8l1.8,0.7l1.1,1.8l2.3,1l1.4,-2.2l1.6,0.4l1,-2.4l2.4,-1.3l-1.8,-2.2l1.2,-2.6l1.6,-0.7l3.1,-1l1.5,-0.4l1.2,-1.5l0,-2.2l1.9,-2.3l0.6,-0.4l2.1,-0.7l1.3,-2.6z"/>
<path fill="#c7eff0" d="M593.1,728.3l-2.6,-9.2l-0.4,-3.2l-2.7,-0.1l-1,-1.5l-0.9,-1.8l-1.7,-1.6l-2.3,-0.1l-1.4,2.1l-2.1,0.3l-1.9,-0.7l-1.4,2.6l0.2,3.6l-3.2,-0.8l-2,-0.3l0.6,2.8l-0.6,2l1.3,1.3l0.7,1.9l-0.1,1.6l1,1.6l-0.3,1.8l-1.1,1.8l-0.3,2.3l1.3,1l-0.4,2.7l0.7,1.8l0.7,1.2l0.6,2.2l1.3,0.9l1.6,0.2l5.7,-1l0.1,-2.3l1.9,-0.8l1.6,-2l1.5,-1.6l-1.2,-2.3l2.7,-1.8l-0.2,-2l1.5,-1.7zM617.1,729.9l2.6,-0.1l1.5,1.2l2,-1.3l1.7,0.4l1.9,0.5l2.2,-1.4l2.1,1.3l2.2,-3.5l0,-5.9l-0.5,-2.6l0,-1.2l-1.5,-1.9l-18.5,-5.6l-0.3,2l-0.4,2.6l1.7,2.1l-1.8,1.8l-0.3,2.1l1.2,2l0.1,2.2l0.1,2.6l2.3,0.8l-0.1,2.5zM531.1,807.7l-1.8,0.1l-1.5,-0.8l-1.8,1.1l-0.6,1.9l-1.5,1.1l-3,-0.3l-0.9,1.6l-0.4,2.2l-0.9,1.9l-2.1,0.9l-0.2,2.2l0.2,0.7l0.9,2.3l2.4,0.4l2,-0.7l2.2,1.3l0.2,2.2l0.8,2l1.5,1.5l-1.2,2.5l2,2.4l0.1,2l1.2,1.1l2.1,1l0.7,1.4l1.4,1.9l0.4,1.7l0.2,0l1.6,-1.6l2,-0.4l2.3,2.2l2,0.8l2.2,-0.2l1.1,-3.5l1.8,-0.6l2.6,2l1.6,0.5l2.2,0.8l0.1,-1.6l1.3,-1.9l1.1,-2.2l-1.3,-1.7l-2.7,-2.3l0.1,-1.7l-1.5,-0.8l-1.2,-2.5l-0.8,-0.6l-2.3,-0.7l-1.8,-0.7l0.5,-2.6l-0.2,-1.2l-0.6,-2.6l-0.8,-1l-0.1,-2.2l1.2,-2.4l-2.7,-0.6l-1.5,-1.9l-2.1,0.9l-2.2,-0.9l-2.3,-1.1l-1.3,-1.9zM819.9,878.6l-1.7,1.9l-0.6,1.5l-1.7,2.1l2.4,1.9l1.5,2.5l-1.5,2.3l1.5,1.9l0.2,1.3l0.5,2.5l0,1.5l0.1,1.9l2.4,1.2l-0.7,2l2.1,0.2l2.6,-1l2,1.4l2.5,-0.1l0.7,2l1.1,2.8l2.3,-0.9l0.3,2l-1,1.4l0.3,1.5l0,2.4l0.4,1.7l-0.8,1.2l0,6.8l-0.7,1.7l2.2,1.1l-0.5,2.5l2.5,1.7l3.1,-1.6l0.7,2.8l0,2.4l2.9,0.1l0.1,0.1l0.8,-1.2l1.9,-0.9l1.1,-1.9l0.3,-1.8l0.9,-2.1l-0.8,-2.6l-0.6,-2.2l2.5,-1.3l1.2,-1.4l-0.1,-1.2l-2,-1.5l-0.7,-1.7l0.4,-1.9l0,-1.3l-3.6,-9.1l-0.2,-0.2l-0.2,-2.2l0.2,-1.9l-0.2,-0.4l-7.2,-4.5l-1.7,-2.2l-0.7,-1.6l0,-8.1l-2,0.5l-1.9,-1.5l-0.6,-2.8l-1.9,-1.9l-2.3,0.9l-2.6,-0.7l-1.2,-1.3l-1.1,0.6l-0.9,1zM751.1,920l0.4,-2l-2.3,-1.8l0.4,-2.4l0.1,-1.8l1.8,-2.3l-0.7,-1.7l-1.7,-0.1l-0.2,3.3l-3,-0.4l-1.7,0.3l-2.1,2l-1.3,1.5l0,3.7l-2.2,0l0.8,1.8l-0.8,1.6l-0.9,1.4l2.2,6.7l-0.9,1.9l-2.5,1.7l-0.1,2.4l-0.2,1.9l1,1.5l14.6,-2.9l0.7,-0.9l-0.8,-1.3l-0.9,-2.1l-1.8,-2.1l0.9,-1.5l2.6,-1.8l-1.7,-2.5l-1.4,-2.5zM874.9,875.4l-0.7,-1.8l-2.1,0.4l-1.9,0.5l-0.9,1.6l-2.1,1.1l-1.3,0.6l-0.9,1.8l0,2l-1.2,1.6l-2,0.9l-1.2,1.7l0.2,1l-1,2l0,7.4l1.3,1.2l1.2,1l0.8,1.6l1.3,2l1.3,1.2l1,0.7l1.5,1.6l1.9,1l2.4,-2.1l2,-0.9l2,-0.7l2.4,-0.4l1.9,0.7l2,-0.5l2,-0.5l0.2,-1.6l0.7,-2.8l-0.3,-1.1l-1.4,-2l-0.1,-2l1.4,-1.7l-0.5,-2.5l-0.6,-0.4l-0.4,-2.4l-0.7,-1.7l-3.5,0l-2.3,0.6l0.6,-3.5l-0.7,-1.7l-0.5,-1.9z"/>
<path fill="#c8f0f1" d="M618.6,684.2l-1.6,-1.6l-0.3,-1.7l0.3,-2.3l0.9,-1.7l0.1,-2l-0.2,-0.1l-10.4,-0.4l-3.3,16.6l5.2,8.2l2.2,1.3l-0.4,2.1l-1.6,2l0.4,2.2l0.3,0.4l2.1,1.7l0.5,0.9l18.5,5.6l6,-13.2l-1.2,-1.7l0,-3.2l-2.6,-0.3l-3.1,1.2l-1.8,0.4l-0.5,-2.8l-0.7,-2.1l-1.4,-0.9l-2,-3l-3,0.7l-0.3,-2.7l-0.3,-2.3zM623.5,748.6l-2,-1.8l-1.5,0.9l-2.6,-0.2l-1.6,-1.4l-1.5,0.4l-2.5,-0.4l-1.2,2.7l-0.6,2.8l-3.6,-1.1l-1.7,1.1l-0.8,1.8l0.2,1.9l0.8,2.8l1.2,0.5l2.2,1.4l1.5,2l0.8,0.6l2.7,0.2l1.3,0.3l1.9,-0.1l2.5,0.6l1.8,-0.9l2.3,-0.3l2,-12.2zM1039.7,731l2.1,0.5l1.9,1.7l0.9,-2.3l1.4,-1.3l2.3,-0.5l1.6,-2.3l0.9,-1.8l1.5,-2.1l-3.1,-2l0.8,-2.9l0.7,-1.3l0.1,-2.5l-2.1,-1.3l0,-2l-1.1,-1.2l-1,2l-2.4,1.4l-2.6,-0.1l-1,0.5l-2.8,1.2l-1.3,1.1l1.8,2l-1,1.3l-0.9,2.1l0.9,2l1,2.5l-0.5,1.5zM1111,711.6l-0.9,-1.4l-2.3,-1.1l-2.4,-0.1l-0.9,1.6l-2.6,-1.6l-1.8,0.3l-1.8,2.2l0.3,1.9l0.9,2.2l-1.3,1.5l-2.2,2.6l1,1.7l3,2.2l-1.3,2.6l-2.1,2.1l1.7,1.9l1.6,1.9l1.4,-1.1l0.7,-2.8l0.9,-1.3l4.6,1.2l0.3,-1.4l0.4,-2.9l2,-1.5l2.4,-0.3zM545.7,827.3l2.3,0.7l0.8,0.6l1.2,2.5l1.5,0.8l-0.4,-2.6l2.4,-1.2l2.4,-0.9l0.8,-1.4l0.9,-2.5l-1.7,-2.1l2.6,-2.3l0,-1.4l-0.4,-2.6l1.2,-2.5l-2.6,-2.1l0.9,-1.9l-1.4,-2.3l-1.4,1.6l-1.3,1.5l-3.5,0.1l-1.1,2.3l-1.4,0.5l-0.2,3.7l-3.4,-1.2l-1.2,2.4l0.1,2.2l0.8,1l0.6,2.6l0.2,1.2l-0.5,2.6zM821.3,809.5l3.5,-2.5l-2.1,-1.6l-20.5,12.8l1.7,1.6l0.3,1.3l0.8,1.9l2.5,0.4l2.1,1.5l1,1.8l0.9,1.3l1.8,0.3l0.9,1.3l1.4,-0.7l3.1,2.1l1.7,-1.9l0.7,-4.9l1.1,-0.1l3.8,3l2.1,0.6l1.2,-1.5l1.6,-2.9l-0.2,-1.6l-2.8,-1l0.8,-2.2l-2,-1.1l-1.2,-1.7l1.3,-2.5l-1.8,-0.9l-2.1,-0.8zM845,879.4l-2,-1.7l-1.4,1.7l-1.7,2.6l-1.3,0.1l-2.2,0l0,8.1l0.7,1.6l1.7,2.2l7.2,4.5l0.2,-1.9l3.2,-0.5l0.3,-2.5l-0.6,-2.1l2.5,-1.8l-4.9,-1.9l0.1,-1.2l0.2,-3.1l2.8,-2.1l-1.4,-1l-1.5,-2.1zM822,922.7l-0.7,-2l0.1,-2.3l0.9,-2.1l0.1,-1.2l-0.4,-2.5l-1.6,-1.5l-0.4,-2.1l-2,-0.6l-1.6,2.3l-1.7,0.6l-1.8,-0.9l-1.4,2l-0.1,2.9l-2.7,0.8l-1.2,1.3l0,2.2l0.1,0.2l0,13.5l-1.8,1.5l-1.3,0.4l1.8,1.8l-2.8,2.3l0,1.2l-0.4,1.8l1.3,2.1l0.1,2l0.4,2.4l2.9,0.6l3.9,-0.2l-1.1,3.2l1.6,-0.8l0.6,-2.9l2.8,-1.5l1.2,-1l3,-6.7l-1.5,-1.8l-0.3,-1.2l-1.7,-1.4l2,-2l-0.3,-2.1l0.3,-1.6l2.1,-2.3l0.2,-2l1.4,-0.9zM846.5,856.2l1.7,1.9l-0.2,1.7l-2.7,3.6l2.7,1.6l0.9,1.6l-1.3,1.3l0.6,2.6l0.8,2.8l-1.1,4l2.6,-0.8l1.1,3l0.8,2.3l0.8,1.2l1,1.5l3.5,-1.3l1.5,0.5l1.4,2.1l1.2,-1.7l2,-0.9l1.2,-1.6l0,-2l0.9,-1.8l1.3,-0.6l2.1,-1.1l0.9,-1.6l1.9,-0.5l2.1,-0.4l1.3,-2l-0.8,-1.9l-1.8,-0.9l-2.1,-0.3l-1.1,-2.1l-0.6,-2.7l-2.5,0.3l-1.7,-1.4l-0.7,-2l-0.4,-1.4l-1.6,-1.4l-0.2,-2.6l0.6,-2.8l-13.8,0l-1.9,1.3z"/>
<path fill="#caf1f2" d="M650.1,742.4l2.2,0.6l0,-14.1l-19,-1.9l-2.2,3.5l-2.1,-1.3l-2.2,1.4l-1.9,-0.5l-1.7,-0.4l-2,1.3l-1.5,-1.2l-2.6,0.1l-1.8,0.6l-1.3,1.2l-1.8,0.8l-1.7,1.3l-2.5,-2.8l-2.5,0.2l-1.8,3.3l-1.6,0.1l-2.1,-0.6l-1.3,2.1l1.6,1.4l0.1,2.8l-0.6,1.6l0.2,1.9l0.9,1.8l1,1.5l-0.5,2.4l2.2,0.8l1.1,1.3l1.7,-1.1l3.6,1.1l0.6,-2.8l1.2,-2.7l2.5,0.4l1.5,-0.4l1.6,1.4l2.6,0.2l1.5,-0.9l2,1.8l1.6,1.6l1.8,-1.3l2.5,-0.4l2.1,0.4l1.4,1.9l1.1,0.9l2.9,-1l1.8,0.2l0.7,1.7l2.6,0.1l1.9,-1.9l1.8,-1.2l-1.4,-3.2l2,-1l1.9,-1zM1072.8,759.7l-0.2,-2.1l-0.5,-1.5l0.9,-2.1l-3,-0.8l-1.3,-2.6l2,-3l0.3,-2.1l-2.3,-0.8l-3.4,-1.3l-0.1,-2.3l-0.3,-2l-5.3,2l-1.3,2.1l1.4,2.3l-2.3,1.6l-0.9,1.6l0.5,1.8l-0.3,2l-0.5,2.5l1,2.3l1.6,0.4l2.7,-0.6l2.1,1.8l1.3,1.6l2.2,-1.5l1.6,1.7l2.5,0.5l0.1,0zM1118.2,746.5l-1.8,-2l-0.5,2.9l-1.6,0.9l-2.5,-0.6l-3.2,0.2l-1.4,1.9l-0.5,1.9l2.5,1.9l-1.3,2.1l0.6,3.5l2.6,0.3l1.6,-0.1l1.6,0.7l2.3,1.6l1.6,-1l1.7,-1.1l1.9,0.3l1.1,-2l0.8,-1.9l-0.7,-1.5l-1,-2.4l1,-1.9l-1.8,-1.1l-1,-2.7zM1121.8,762.5l2.4,1.1l1.1,2.3l0.1,0.1l0.2,-0.2l2.5,-0.9l2.5,2.6l1.3,1.6l0.3,-0.3l0.9,-1.3l2.8,-11.1l-2.8,-0.8l-0.3,2.7l-2.6,-0.5l-1.5,0.8l-2.4,-0.3l-1.8,0.5l-2.1,1.5z"/>
<path fill="#cbf1f2" d="M590.3,729.2l-1.5,1.7l0.2,2l-2.7,1.8l1.2,2.3l-1.5,1.6l-1.6,2l-1.9,0.8l-0.1,2.3l1.8,1.5l1.9,0.8l1.3,2l1,2.4l-1.4,1.2l0.7,1.7l-0.3,2.2l1.2,2.2l0.9,1.4l2.5,1.3l1.2,0.4l1.4,-0.9l2.2,-1.4l1.8,-1.5l2.1,-0.6l1.6,0.7l1.8,-1.8l-0.2,-1.9l0.8,-1.8l-1.1,-1.3l-2.2,-0.8l0.5,-2.4l-1,-1.5l-0.9,-1.8l-0.2,-1.9l0.6,-1.6l-0.1,-2.8l-1.6,-1.4l1.3,-2.1l-1.8,-0.9l-0.3,-4.1l-2,0.4l-2.6,-1l-0.2,-0.1zM1082,730.2l0,-2.2l0.8,-1.3l1.3,-1.3l1.2,-1.5l-0.4,-2.2l-0.8,-1.5l-1.7,-0.2l-1.9,-1.1l-0.9,-3.6l-2.1,-1.2l-2.9,1.9l-0.8,-1.1l-2.1,-1.6l-1.3,1.7l-1.6,-0.6l-1.9,2.1l-0.4,2.1l-0.2,1.6l-0.6,2.2l-1.3,1.3l-2.2,0.3l0,2.7l0.4,1.9l-0.4,2.7l0.8,1.8l1,1.4l0.5,2.3l0.5,2.2l1.4,-2.3l2.3,0.4l3,2.4l1.5,-4.4l1.6,-1.4l3,3.7l1.4,-1.9l0.4,-1.9l1.4,-0.8zM825.8,855.1l-0.2,-2.7l-2,-1l-2.3,0.5l-1.5,2.1l-2.2,0.5l-1.7,-2.1l-1.7,0l-2.2,-0.8l-2,0.7l-2,0.1l-1.3,0.4l-1.8,-0.5l-2.5,0.7l-2.1,0.1l-1.7,-1.1l-2.4,-1l-2.3,1.4l-2.3,0.6l-0.3,2.6l-1.9,1.2l-2.4,0.5l-0.6,1.6l-2.1,0.3l-2.1,1.1l-0.3,3.5l-1.2,1.2l-2.1,0.7l0.8,1.7l2.3,0.4l1.2,1.9l2,0.4l1.9,2l1.6,0.9l2.8,0l0.1,2.2l1.6,1.3l2.1,1.8l0.7,2.1l0.7,-0.2l2.1,0.6l1.7,-0.4l1.7,0.6l2.5,1.1l1.6,-0.7l1.4,1.3l2.5,-0.7l1.4,0.3l1.9,-0.1l2.4,-0.6l2,0.4l0.6,-1.5l1.7,-1.9l2,-1.7l0.9,-1l1.1,-0.6l1.4,-1l2.2,-2.4l-1.5,-2.3l0,-2.8l2.8,-0.2l0,-2.6l0,-5.6l-1,-1.4z"/>
<path fill="#b4e1e5" d="M536.1,740.3l-1.4,-2.3l-1.9,0.4l-1.5,1.9l-2.3,-0.2l-1.6,6.4l2.5,1.4l-0.9,3.1l1.4,0.9l3.9,0l0.7,1.9l1.5,1.8l0.6,-2l0.6,-3.1l1.4,-1.1l3.7,-0.3l1.4,-1.3l0.1,-2.6l-1.8,-1.1l-1.6,-1.4l-0.1,-2.4l-2.4,-1zM871.1,694.2l-0.5,-2.3l-0.6,-2l-0.8,-1.5l-1.5,-1.3l-0.7,-2.6l0.5,-1.2l-0.5,-3l-37.1,-0.5l-3,4.4l-0.8,0.7l0.2,0.8l-1.3,2l0.7,1.9l0.1,2.5l2.1,0.1l1.6,1.6l1.9,0.5l-0.3,3.1l2.8,-0.1l1.9,1.1l1.6,1.6l-1.1,1.9l1.2,2l2.4,2.2l1.7,-1.1l1.5,-2.1l2,0.4l1.5,2l2.2,0.9l2.4,-1.6l1.4,-0.7l0,-1.7l1.8,-1.4l1.5,0.1l1.8,-1.8l1.3,-1l12.9,-1.8zM834.9,693.3l-5.7,-0.7l2.8,-6.6zM948.6,693.5l0.4,-1.9l1.2,-1.6l2.2,-0.3l0.3,-0.4l-3,-2.9l1.9,-2.9l-1.1,-2.7l-2.2,-0.2l-16.4,0l-0.2,0.8l0.4,3l-1.2,0.9l-0.8,2.1l-1.5,1.5l-0.7,2.2l1.4,1.4l1.6,2.6l0.3,1.9l1.4,1.6l2.6,-0.3l2.8,1.1l1.4,0.9l0.1,-2.2l1.4,-2.6l1.4,0.1l3.1,0.2l0.9,-0.4l0.3,-0.8l1.9,-1zM913,727l-1.7,0.2l-2.9,-0.6l0.2,-2l-2,-1.6l-2,-0.6l-1.4,0.9l-1,2.1l-0.7,1.6l0.1,1.5l-0.6,3.1l1.4,1.9l-1,1.1l0.6,2.6l0.6,1.9l-1.1,1.9l0.5,0.4l2.7,0.2l1.6,0.7l2,1.1l1.5,1.8l1.2,1.5l1.7,0l10.5,-3.5l1.4,-1.9l1.6,0l0.4,-2.8l0.6,-2.5l-0.3,-2.2l-1.1,-1.8l-2.2,-0.3l-0.7,-1.3l-1.8,0.7l-2.2,-2.6l-2.4,1.4l-1.4,-1zM325.6,825.3l-1.4,-1.7l-0.2,-1.9l-2.1,0.8l-1.4,2.1l-2.2,0l-1.2,1.5l-1.5,1.8l-2.9,0.2l-1.1,0.2l-1.7,1.8l1,1.6l-0.2,1.5l2.9,-1.6l1.3,2.4l-1.2,4l1.8,1.5l3.8,-2l3,-0.3l0,3l1,2.4l-1.7,1.6l-1,1.5l0.8,2.1l1.1,3.6l-2.9,0.5l2.3,13.6l0.8,-0.2l3,2.2l0.6,-3l1.2,-3l1.5,0l2.2,0.8l1.5,-1.7l1,-2l2.7,-0.1l1.2,-1.1l0.3,-2.5l-0.2,-2.3l0.4,-1.5l1.1,-1.3l1.9,-1.3l0.5,-0.9l1.5,-1.6l3.3,0.9l0.4,-2.6l-0.2,-1.5l-0.5,-1.5l1,-2l1.8,-0.8l-1.2,-3l-1.9,-2.6l2.5,-0.6l3.8,-0.6l-2.2,-2.9l-1.9,0.6l-1.8,-1.9l-1,-1l-2,-2.1l-1.3,-0.2l-2.4,0.1l-2.3,0.4l-1.6,2l-3,-0.2l-1.1,1.8l-0.9,-2.2l-2.7,-0.5zM280.9,923l1.6,1.4l0.5,2.4l0.7,2.2l1.7,0.8l2.7,1l0.6,1.7l0.5,1.5l0.2,1.8l4.5,0l2,0.7l1.5,1.9l1.6,0.5l0.5,1.5l1.4,2.2l2.3,0.1l1.2,0.9l2.2,1.2l0.9,-1.5l1.8,-2.2l1.7,-0.3l1.4,-2.1l0.4,-2.3l2.4,-0.7l0.8,-2.3l1,-1.9l2.1,0.4l2.3,-0.4l1.1,-1.9l-1,-2.2l-2.2,-0.6l-0.2,-2.1l0.9,-2.2l-1.2,-1.7l-8.6,-6.9l-0.6,-0.2l-1.4,1.6l-1.6,-0.7l-1.3,1.8l-2.3,1.2l-1.5,0l-2.7,-0.4l-1.9,-0.7l-2.2,1.1l-2.3,0.2l-1.4,-1.9l-2.3,2.3l-1.3,0.2l-2.6,-2l-1.3,1.1l-2.2,1.6l-2,-0.3l-2,-1.2l-0.1,0.4l0,2.5l1.2,2.1zM559.9,771.3l-0.6,3.1l-1,1.6l-2.8,-1l-3,-1.7l-0.7,3.5l3.1,5.6l2.2,0.8l1.5,0.4l1.6,1.8l5,-3.2l1.4,-9.3l-1.5,0.3l-1.7,-2.1l-1.7,-0.2zM941.6,765.9l2.7,-1.3l-0.5,-1.9l-1.1,-1.8l0.2,-2l-2.1,-1.2l-3.3,-0.6l-0.2,-1.9l-1.6,1.7l-1.9,1.6l-2.2,-2.6l-3.1,0.1l-1.7,2.2l-1,1.3l0,0.8l0.5,2.1l-2.9,1.8l-0.5,1.4l1.3,2.4l-1.3,2.1l-1.9,1.2l0.6,3l1.6,0.5l2.7,0.5l1.4,1.9l2.7,-0.1l1.3,-1.5l3.8,1.2l0.6,-2.1l2.5,-0.9l1.7,-1.7l0.3,-2.3l1.2,-1.2zM982.4,790.1l1.6,1.3l1.6,0.8l1.4,2.2l1.7,0l2.7,-0.9l1.9,2.2l0.9,0.9l2.9,-0.5l1.5,1l2.1,-0.6l0.8,-0.7l1.4,-1.8l1.6,-0.4l2.1,-0.9l0.6,-2.9l-0.6,-1.5l0.4,-2.3l-0.9,-1.8l-1.7,-1.2l-1.4,0.2l-1.5,-1l-1.8,-1.8l-2.2,1.1l-2.5,-1.4l-1.9,-1.3l-0.4,-2.2l-1.1,-1.1l-2.3,-0.2l-2.3,-1.2l-0.1,2l-3.4,0.7l-1.3,1.9l0.4,1.9l0,2.9l-2.7,0.4l0.2,1.7l-1,2.9l1.4,1.2zM1044.2,766.8l-0.6,2.2l-0.1,1.5l-0.4,1.6l1,1.6l0.8,2.3l1.5,1.1l2.2,-0.6l2.4,-0.2l1,0.9l1.4,3.6l1.9,1l2,-1.7l1,-1.6l0.1,-1.9l-3.9,-8.9l-1.6,-0.7l-1.3,-1l-1.7,-1.4l-0.9,-1.7l-1.6,0.7l-2.8,1.1z"/>
<path fill="#c2ebed" d="M744.1,692.7l1.1,-2.1l2.7,-0.6l0.7,-2.1l0.1,-2.2l3.2,-1l1.5,-1.5l-2.3,-3l-0.7,-1.8l3.3,-1.1l0.1,-0.1l-33.6,1.9l-0.3,1.2l0.1,1.2l-3.6,15.6l-0.3,2.4l1.2,1.1l2.1,1.6l2.2,-0.2l1.2,0.9l1.7,1.1l1.5,1l1.6,-0.2l1.5,-1.6l2,-1.4l1,-1.7l1.9,0.5l2.8,1.3l0.8,-2.8l1.8,-0.5l1.5,0.3l1.7,-0.6l0.1,-2.1l1.8,-1zM1012.4,759.7l1.1,2.5l1.5,0.8l2.9,-0.3l1.6,0.2l2.1,-0.7l2,-2.3l2.8,-0.1l1.2,0.4l1.1,-3.2l2.8,0.3l-2.1,-1.6l-1.2,-1.3l-2.5,0.1l-1.5,-0.1l-1.4,-2.6l-1.3,-1.2zM440.6,885.2l-4,2.3l-0.6,1.6l-0.5,1.8l1.3,2l1.1,2.2l-1.4,1.5l-1.2,1.7l-0.6,3.1l0.9,1.6l-0.5,0.5l-0.3,2l-2.1,1.5l-1.3,1.3l3.9,3l0.1,2.6l-3.2,0.9l0.7,2.6l-0.2,1.7l-0.7,1l-1,-2.6l-1.9,-0.2l-2.9,2.7l-2.5,-0.3l-1,-3.3l-1.3,-1.3l-2.2,2.2l-2.3,-1l-1.9,-1.1l-0.6,-1.4l-2.1,-1.2l-1.3,1.8l-1.9,0.9l-2.9,-1.7l-1.8,1.2l-2,-1.7l-1.6,0.7l-2.3,-0.8l-2.2,0l-0.9,1.8l-1.8,1.4l-2.1,2.1l-1,1l-0.8,2.4l1.2,1.9l1,0.6l-0.2,2.9l1.5,1.3l2.5,1.1l1.3,1.6l0.3,1.2l1.5,2.3l1.9,-0.1l1.1,1.8l1.3,1.3l1.6,0.1l0.9,-0.6l3,-3.7l2.8,-1l1.2,-1.1l2,-0.7l1.5,2.6l2.9,1.1l2.4,-1l1.5,-0.5l2.1,1.7l2.1,0.4l5.5,-9.5l2.3,1.2l1.5,0l1.4,1.3l1.6,1.7l2.3,0.4l1.9,0.9l1.8,2.2l1.6,-0.3l1.7,1.6l1.3,-1.1l2.2,-2.5l-2.1,-1.5l-0.9,-2.5l0.7,-2.3l0.3,-1.2l-1.3,-2.6l1.5,-1.5l-0.4,-2.3l0.8,-0.7l1.6,0l3,0.7l1.4,1.8l2.8,0.2l1.8,0l4.8,4.2l1.4,-1.2l1.9,-1.1l1.6,-1.6l2.3,-0.1l1.1,1.3l1.6,0.9l3.1,-1.1l1.6,0.2l1.7,2.9l1.6,-0.4l1.4,1.2l2.4,-2.3l2.2,-1.8l2,1.4l1.7,3.8l1.7,-2.3l1.6,-0.3l1.1,-2.6l-1.7,-2.1l-2.2,-0.3l-1.6,-0.9l-0.9,-2.5l-1.2,-1.3l-1.7,-0.5l-1.6,-2.2l-1.2,-0.9l-2.6,-0.4l-1.7,-1.2l-1.8,-1.4l-1,0l-2.4,0.6l-1.7,-0.4l-0.7,-1l-1.4,-1.5l-2.3,-0.9l-2,-0.8l-0.2,-2.6l-2,-0.9l0.4,-2.8l-2.8,-1.3l0.5,-1.7l-0.5,-2l1.7,-2.2l-1.2,-1.7l-0.2,-3.5l-2.1,-0.7l-3.9,3.7l-1.8,-1.3l-0.2,-2.7l-2.3,-0.6l-2.5,-1.3l-1.9,-0.2l-2.4,1.6l-7.9,1.3zM611.8,809.6l-1.3,-1.6l-2.1,-1.6l0.2,-1.9l-0.1,-3.2l-1.9,-0.9l-1.2,-1.6l-1.6,1.6l-2,0.5l-1.2,1.4l-2.8,1.7l-1.2,1.1l-2.1,0.7l-0.7,2.1l2.6,2.1l0.2,1.4l-1.4,2.8l-0.8,2.4l1.6,1.5l-0.5,1.2l-0.6,1.7l-0.4,2.8l1,1.9l-1.2,1.2l-0.5,3.1l-0.2,1.9l-1.2,2.1l2.8,-1.9l0.9,3.7l1.9,1.9l2.5,-3.8l2,-0.2l1.3,4.8l2.4,0.5l1.7,-3.1l2.1,1l0.6,-0.4l-0.1,-1.9l-0.8,-2.2l0.4,-2.2l0.7,-2.3l-0.5,-2l-0.2,-2.5l0.5,-1.5l0.3,-1.8l-0.4,-2.7l0.1,-2.2l1.9,-4.2zM557.7,851.4l-1,-2.6l-2.9,-1l-1.6,-0.3l1.2,-3l-0.5,-0.8l-1.3,1l-1.9,1.9l0,2.3l-0.8,0.9l-2.7,1.2l-0.7,1.7l0.7,2.7l-2.1,0.8l-1.8,1.5l-1.3,0.8l3,1.6l-0.5,1.9l-1.4,3l1.4,1.6l2.1,1.5l0.4,1.7l-0.5,2.3l-0.7,0.8l-2.9,1.7l2.7,1.8l1.1,2.5l-1.9,2.1l1.7,1.7l3.9,11.7l2.9,-0.1l0.1,2.7l0.2,2.7l3.2,-1l4.2,0.9l-0.1,-2.6l2.5,-0.3l1.6,-1.5l0.6,-2.5l0.8,-1.2l0,-2.1l1.4,-1.8l6.1,-2.2l5.2,-13.1l-2.7,-5.4l0.4,-1.9l0.3,-2.6l1.3,-1.5l-2,-1.6l1.4,-2.3l-2,-0.2l-2.1,0.4l-2.5,-1.8l-1.8,0.3l-1.8,1.5l-2,-2l-1.9,1.6l-2.6,0l-2.2,0.2l0,-1.5l-1.2,-1.5zM594.7,922l-0.5,-1.9l0.9,-1.8l0.7,-1.6l-0.6,-1.3l-1.7,-0.1l-1.8,0.4l-2.7,-1.4l-1.6,-0.1l-2.6,-0.9l-1.2,0.6l-1.7,2.7l-1.6,1.2l-2.1,-0.3l-1.7,-0.1l-0.9,-0.1l-2.2,0l-0.8,3l-2.4,-0.8l-1.1,3.3l-2.7,-0.9l-1.5,0.7l-1.9,-0.2l-0.8,-0.1l-1.8,0.9l-0.4,3l-2,0.6l-3.1,-0.1l0.1,3l-0.2,3l-2.1,0.1l-0.1,2.4l1,1.2l2.3,1.3l-0.7,2.3l0.9,1.1l2.1,-1.3l1.4,2.3l3,0.5l1.7,-1.3l1.6,2l2.4,-2.6l1.5,0.2l2.5,0.2l2,1.7l1.9,-0.3l0.8,-0.7l1.4,-0.3l2.5,0.2l2,0l1,0.3l2.4,-0.6l1.9,-0.8l2.2,-0.7l1.6,1.9l2,-1.2l-1.4,-2.7l2.1,-1.4l0.1,-1.6l0.9,-1.9l-1.2,-2.7l-1,-1.4l1.2,-2.4l-0.1,-0.3l1.2,-2.3zM803.6,786.3l-1.7,-0.3l-0.8,-1.6l-1.6,-1l-2.5,-0.1l-1.3,-0.8l-9.6,9.6l-0.5,2l1.3,1.8l1.5,2.5l2.1,1.6l0.8,1.3l0.5,1.8l0.5,1.2l1.8,1.5l-1.7,2.9l2.5,1.1l2.6,-0.6l0.9,1.9l0.5,1.4l0.5,1.7l0.9,1.7l0.3,1.9l1.6,0.4l20.5,-12.8l0.3,-1.2l-1.4,-0.9l-2.1,-2.1l-0.4,-1.7l-3.1,-1l-1.3,-2l0,-2l-2.3,-0.9l-0.4,-1l-0.6,-0.7l-1.6,-1l-1.5,-0.3l-2.5,-0.9l-2.1,-0.8zM647.7,860l-0.5,1.2l-2,2.1l0.9,2l0.9,3l0,1.4l3.9,4.7l-1.4,2.1l0.4,1.8l-1.3,1.3l-1.1,2.4l9.1,10.6l0.9,0l0.8,-1.3l2,-1.9l-1.7,-2.3l1.9,-1.3l1.7,-1.3l-0.3,-3.2l1.4,-1.5l0.6,-1.4l1.1,-2.2l0.2,-1.7l-1.2,-1.4l-1.1,-1.1l1.7,-1.8l-2.6,-1.8l-1.3,-2.8l1.2,-1.3l1,-2.2l-1.3,-1.4l-0.8,-1.5l-1.9,-2.2l2.4,-1.6l2.7,-0.8l-1.8,-2.6l-0.5,-2l-0.9,-1.7l-1.3,-2.1l-1.5,-1.6l-0.8,-2.5l-1.4,-0.3l-2.1,-0.6l-3,0.4l-0.5,-1.8l-4,10l0,7.3l0.8,0.7zM762.4,946.2l1.4,2.6l1.3,1.3l0.9,2.1l1.2,1l0.7,2.9l1.2,1.4l0.8,1.3l-1.1,-2.8l3.3,-1.2l2.3,-1.9l-1.8,-1.6l-1.3,-2.7l0.8,-2.4l2.4,-0.8l-1.3,-2.7l-2.3,-0.2l-1.7,-2l-1.5,1.3l-2.3,-0.5l-1.8,-1l-0.6,1.4l-0.4,2.6zM898.1,856.9l-1.6,0.6l-2.3,-1.3l-1.6,0.5l-2.3,2.8l-1.9,0.3l-1.2,-1l-2.3,1.2l-1.4,-0.3l-2.3,0l0,1.9l-0.5,2.2l-1.1,1.7l-1,1.3l-1.4,1.3l-2.5,1.6l0.8,1.9l-1.3,2l0.7,1.8l1.8,2l0.5,1.9l0.7,1.7l-0.6,3.5l2.3,-0.6l3.5,0l0.7,1.7l0.4,2.4l0.6,0.4l2.1,-1.1l1.5,-1l1.4,-0.9l2.6,-0.3l0.3,0l2,-1.3l1.3,-0.1l2.7,0.2l0.5,-2.2l2.7,1l2.3,-0.3l1.5,-1.7l1.9,1.4l2,-0.9l1.7,-1.6l-0.1,-1.4l-0.3,-2l0.5,-2.1l-3.1,-1.2l0.3,-1.3l0.1,-2.9l-1.6,-0.9l-1.8,-0.5l-1.4,-1.8l-0.3,-1.5l-0.7,-2.1l-0.8,-1.5l-0.3,-2.8l-2.1,-1.1z"/>
<path fill="#b3e0e4" d="M877.8,698.8l3.2,-0.7l1.4,-2.5l1.8,-0.7l1.9,0.3l2.2,-0.7l2.5,0.3l1.4,1.5l2.2,-1.9l1,-1.7l0.3,-1.6l0.7,-1.2l1.6,-1.8l0.5,-1.7l-0.9,-2.6l0.9,-1.3l0.9,-1.7l-32.4,-0.5l0.5,3l-0.5,1.2l0.7,2.6l1.5,1.3l0.8,1.5l0.6,2l0.5,2.3l0.8,2.1l1.5,0.9l1.1,1.2l1.6,-0.7zM978.2,751.2l-0.6,-2.2l-1.8,-2.7l3.3,-0.1l1.6,-1.8l-1.7,-3l2.1,-1.1l-0.4,-1.7l-0.4,-3.2l0.8,-1.9l0,-1.9l-2,1.1l-2.4,-0.1l-1.2,1l-1.8,1.4l-2.5,0.9l-0.5,2.5l-2.3,1.2l-1.8,1l-0.1,1.8l-2.8,1l-2.1,-0.4l-1.4,0.8l-5.4,5.3l-0.1,2.3l2.3,2.2l-1.2,2l1.2,1.3l2.5,1l1.2,0.5l1.2,1.7l2.4,0.6l2,-2.1l1.2,-0.3l2.7,0.8l2.8,0.7l1,-2.7l0.2,-0.7l0,-2.5l0.5,-1.4zM356.4,824.8l2,1.2l0.9,-1.2l0.4,-2.3l1.8,-0.9l0.3,-2.3l-2,-1.6l-2.3,-1.4l-0.3,-1.8l0.6,-2.6l0,-2.3l-2.5,-0.9l0.5,-2.1l-2.8,-1.7l-0.8,3.5l-1.9,0.7l-1.9,-1.2l-2.4,0.9l-0.5,1l-4.5,4l-2.1,-0.3l-2.4,2.8l-1.9,-0.7l-2.1,-2.8l-2.3,-0.7l-1.5,2.4l-2.4,1.1l-1.7,-1.8l0.1,2.5l0.1,1.3l-1.7,2.5l0.9,1.6l0.2,1.9l1.4,1.7l2.3,0.3l2.7,0.5l0.9,2.2l1.1,-1.8l3,0.2l1.6,-2l2.3,-0.4l2.4,-0.1l1.3,0.2l2,2.1l1,1l1.8,1.9l1.9,-0.6l1,-0.8l1.5,-1l1.9,0.6zM935.7,774.7l-0.6,2.1l-3.8,-1.2l-1.3,1.5l0,2l1.8,2.1l-0.4,2.1l-0.9,1.9l2.1,2.1l2.5,-0.3l1.7,-0.3l1.6,-2l1.9,0.2l2.3,0.7l2.1,0.2l1.8,-2l-2,-0.9l-1.1,-1.9l-2,-1.8l0.2,-3l-0.4,-2l-3,-0.4zM993.6,820.7l0.9,1.5l1.3,1.9l2.2,1.3l1.5,1.4l1,2l2.5,0.4l-1,-2.5l3.8,-0.6l-0.4,-2.4l1,-2.3l-3.2,-2.8l0.9,-1.6l4.3,-0.9l-2.7,-2.9l-1.4,-1.5l-2.2,0.7l-1.9,0.4l-2.2,-0.4l-1.6,-2.4l-1.5,-0.5l-2.2,0.8l-0.5,0.3l-1.1,2.6l1.8,1.3l0.6,2.3l-0.4,2.6zM1073.1,783l-2.2,-0.8l-1.8,0.6l-2,2.2l-1.9,1l-1.4,0.4l-2.9,-0.4l-1.6,1.2l0.1,3.4l-1.7,1.3l-1.6,2.2l0.6,2.3l1.2,1.7l2.8,0.2l0.7,2.2l0.9,1.7l2.2,-0.1l2.2,0.1l1.6,0.1l1.5,2.4l2.1,9.7l4.4,0l2.7,1.9l3,-1l2.9,-2.4l0.9,-3.6l2.7,-3.2l2.3,-4.1l1.8,-3.8l-0.4,-4.6l-0.9,-3.5l1.7,-3l0.7,-0.4l0.3,-1.1l-2.3,-1.4l-0.5,-1.1l-2.2,-1.6l-2.2,-1l-1.7,0.5l-2.6,-1.4l-1.8,2.1l-0.2,3.3l-2.3,-0.2l-1.4,-2l-2.5,1.9z"/>
<path fill="#cff4f4" d="M742.4,732.8l0.7,-2.4l0.2,-1.1l-1.1,-1.8l-0.8,-2.1l-0.6,-0.8l-11.7,-3.9l-5.1,2l-5.6,6.2l-0.3,1.8l-1.4,2.3l0.7,1.4l0.4,2.1l0.1,0.3l0.5,1.7l0.2,2.9l-3.6,2.3l2.2,1.9l-1.3,0.8l-0.6,2.3l1,2.8l-1.4,2.1l-0.8,1.9l1.8,1.9l-2,1.7l1.4,1.7l2.2,1.2l1.2,-0.2l2,-2.5l2.1,-0.2l2,1.3l1.7,-0.5l0.9,-2.2l2.7,0.7l2.2,-0.4l0.4,-1.9l-0.9,-2.4l-0.2,-1l1.3,-1.6l1,-2.2l1.5,-2.3l1.6,-7.1l1.7,-0.9l0.6,-2l1.1,-1.2l1.3,-1.1zM726.5,807.1l0.7,-2.3l-1.9,-4l2.8,0.5l-1.1,-2.5l-1.7,-0.6l-1.8,-0.5l-1,-1.5l-2,-2l-1.5,-1.2l-2,0.3l-1.4,-0.4l-2.9,1l-1.8,0.6l-2.2,-1.3l-1.5,-1.4l-1.8,0.7l-0.9,2l-0.5,1.6l1.3,2.3l1,1.8l-3,2.1l1.2,1.8l-0.5,2.4l2.2,1l1.5,1.2l-0.1,2.1l0.8,2.1l2.1,1.7l2.9,-0.5l1,1.2l0.8,2.3l5,1.7l-0.4,-2.6l2.6,-1.7l0.9,-1.7l-2.2,-3.3l1.5,-1.4l1.8,-0.4z"/>
<path fill="#d0f5f5" d="M757.5,752.8l-0.4,-1.6l-1.9,-3.3l0.1,-1.2l1.9,-2.2l-2,-1.1l-0.8,-2l-1.3,-1.3l-2.7,-0.8l-1.4,0.2l-0.7,-3l-1.2,-2.3l-1.7,-1.2l-1.7,-0.6l-0.6,-2l-0.7,2.4l-0.7,1.5l-1.3,1.1l-1.1,1.2l-0.6,2l-1.7,0.9l-1.6,7.1l-1.5,2.3l-1,2.2l-1.3,1.6l0.2,1l0.9,2.4l1.4,1.5l1.6,0.8l1.8,-0.1l2.6,2.2l1.2,0.7l1.9,-0.1l2.9,-2.3l2,-0.8l2,3.5l2.2,1.5l1.8,-2l1.3,-1.9l-0.8,-2.7l0.1,-2.3zM1131.5,713.5l0.9,-3.2l-0.3,-1.3l2.9,-1.4l1.5,-1.7l-1.1,-5.2l-17.4,1.6l-1.1,1.1l-2.1,0.5l-1.4,1.3l-0.9,2.3l-0.5,2l-1.9,0.7l0.9,1.4l1.6,10.4l0.8,1.6l1.9,0.8l0.5,1.8l1.1,1.3l13.9,-4.6l-0.2,-1.9l0.5,-2.5l-1.5,-1.6l1,-2.3z"/>
<path fill="#d0f6f6" d="M770,739.2l-1.5,-1.1l-0.9,1.5l-2.8,0.4l-3.1,-0.3l-1.7,1.1l-0.3,2.7l-2.5,1l-1.9,2.2l-0.1,1.2l1.9,3.3l0.4,1.6l-2.8,1.3l-0.1,2.3l0.8,2.7l2.1,0.5l2.6,-0.9l2.2,-0.1l1.7,0.6l2.4,-0.4l2.5,0.4l1.9,1.2l1.6,1.5l1.2,0.1l2.3,0.4l1.9,1.8l1.4,1.5l1.8,-0.2l1.8,0.7l0,-2.7l1.3,-1l2.2,-0.5l1.9,-1.5l0.4,-1.6l0.3,-2l-2.2,-5.6l-1.7,-1.3l-3.1,0.9l-1.4,-0.8l-2,-0.5l-0.1,-2.5l-2.8,0.7l-3.3,0.1l0.9,-3.2l-2.2,-0.5l-0.8,-2.7zM1205.8,726.1l-2.3,-0.4l-0.3,-1.4l0.1,-3.6l-1.4,-0.8l-8.5,2.6l-2.7,0.6l0.6,3.6l-1.7,1.2l-1.4,0.8l-2.1,1.9l-0.5,2.3l-1.5,1.7l-2.2,-0.5l-2.2,11.8l2.2,4.3l2.8,-2.2l1.7,-0.8l3.5,0.9l3.5,0.3l1.9,-3.1l2,-1.2l2.1,1.3l1.5,0l1.8,-2.2l-0.2,-2.4l0.6,-2.2l1.2,-0.9l1.9,-1.2l2.6,-0.4l2,-1.9l-1.5,-2.5l-1.5,-1.5l-0.5,-2.2zM732.5,777.4l-1.8,0.8l-4.6,0l-1.6,-0.6l-2.5,-0.3l-0.4,-2.6l-1.3,-1.8l-2.8,0.2l-2.5,0l-2.1,-0.2l-0.7,-2.4l-1.3,2l-3.1,-0.6l0,1.8l-0.1,2.9l-2,0.4l0.8,2.9l-1.4,0.5l-2.1,2l0.1,2.1l0.1,1.9l2.2,6.1l1.8,-0.7l1.5,1.4l2.2,1.3l1.8,-0.6l2.9,-1l1.4,0.4l2,-0.3l1.5,1.2l2,2l1,1.5l1.8,0.5l1.7,0.6l1.1,2.5l1.2,1.7l3.2,-1.3l0.3,3.6l1.8,0.9l3.2,0l1.6,3l1.1,0.8l1.3,1.8l0,2.2l-0.1,1.5l0.1,1.3l1,2l2.3,0.5l0.7,1.1l0.7,3.3l1.9,1.2l2.2,-0.6l2.2,0.1l1.5,1.1l0.6,2.9l0.7,-1.8l2.4,-0.6l1.5,-0.6l1.5,-1.8l1.3,-1.6l1,-1.3l1.3,-1.6l1.4,-1.3l0.6,-0.1l-2.1,-2.8l-5.3,1.5l-2.5,-3.1l4.1,-0.7l2.3,-3l6.2,-0.7l-0.7,5.5l-1.9,3.3l1.5,-0.4l0.1,-0.1l0.9,-1.2l1.8,-1.8l1.2,-1.8l-1.3,-2.4l2.2,-1.9l-1.9,-1.7l1.4,-1.6l-0.6,-1.7l0.9,-3l-0.1,-1.7l-4,-0.8l-0.9,-2.2l0.6,-1.9l0,-2.5l1.3,-4l-1.5,-2.5l-1.8,-0.4l-2.9,1.7l-2.4,0.8l-1.5,-0.8l-0.6,-3.1l-1,-3.4l-1,-0.6l-3,1.5l-2.1,-0.3l-1.8,-1.7l1.9,-2.3l0.6,-2.4l-2.3,-1.4l-2.4,0.3l-1.9,0.8l-1.3,-2.2l-2.1,0.1l-2.6,2.2l-1.6,-1.2l-1.9,0.7l-2.5,1.6l-1.4,1z"/>
<path fill="#cdf3f4" d="M714.1,755.5l-0.7,-2l-2.5,-1.1l-2.2,2l-2.4,-0.1l-1,-0.8l-1.5,-2.4l-1.9,-0.7l-1.8,-0.5l-2.3,0.5l1.9,3.2l-0.6,2.3l-1.4,1.5l-1.7,0.8l-2.7,1.2l-3,0.2l-1.4,1.6l-0.5,1.8l-2.1,0.8l-1.6,2.2l-2.3,0.5l0.2,2.8l-1.6,0.8l-2.5,-0.5l0.3,4.5l2.3,0.6l1.1,1.8l1.9,1l1.7,-0.2l2.2,1.1l2.4,0.8l1.8,-1.3l2.4,1.4l0.6,3.6l2.2,-1.6l3.2,-1.4l1,3.8l1.5,0.8l-0.1,-2.1l2.1,-2l1.4,-0.5l-0.8,-2.9l2,-0.4l0.1,-2.9l0,-1.8l3.1,0.6l1.3,-2l0.7,-2.7l0.4,-1.1l0.1,-2.7l1,-1.1l0.9,-2.1l-1.4,-1.7l2,-1.7zM1098.2,690.6l-0.9,1.7l-2.1,0.8l-2.2,-0.3l-2.4,-0.1l-1.8,2.5l-0.9,2.8l-1.5,0.1l-2.3,0.5l0,1.8l1.7,1.3l1.4,2.2l1.5,0.4l-0.5,3.9l1.3,1.7l3.9,-0.9l0.4,2.5l4.5,0l1.8,-2.2l1.8,-0.3l2.6,1.6l0.9,-1.6l-1.4,-1.3l-2.5,-1.6l-0.1,-2.3l4.4,-2.8l-1.7,-2l-4.3,-0.8l0.7,-1.4l1.9,-2.5l-0.3,-2.8l-1.8,-1z"/>
<path fill="#ccf3f3" d="M1079.3,675.5l-0.7,2.3l-0.9,1.2l0.2,2.6l0.4,1.6l-0.5,2.4l-0.4,1.8l-1.2,1.1l-2.5,0.7l-1.9,-0.8l-1.2,1.6l-1.4,3l-1.5,0.7l-2.7,-1.1l-2.5,0.4l-1.4,-0.4l-1.5,0.6l-1.6,1.7l-2.2,0.4l-0.7,1.9l-0.8,0.2l-2.4,0.6l0.7,4.2l-3.9,-0.8l-1.4,1.7l0.5,2.3l0.3,1.8l-0.5,2.5l1.1,1.2l0,2l2.1,1.3l2.1,-0.4l1.9,0.3l2.6,0.6l1.9,1.2l1.9,-0.4l1.2,0.6l2.4,-0.5l2.1,0.9l1.9,-2.1l1.6,0.6l1.3,-1.7l2.1,1.6l0.8,1.1l2.9,-1.9l2.1,1.2l0.9,3.6l1.9,1.1l1.7,0.2l3.2,0.4l0.9,-2.1l-0.5,-2.5l1.7,-1.7l2.1,0.5l1.8,-0.9l0.5,-2.4l-0.4,-2.5l-3.9,0.9l-1.3,-1.7l0.5,-3.9l-1.5,-0.4l-1.4,-2.2l-1.7,-1.3l0,-1.8l2.3,-0.5l1.5,-0.1l0.9,-2.8l1.8,-2.5l2.4,0.1l2.2,0.3l2.1,-0.8l0.9,-1.7l2.1,-0.1l0.4,-2.5l0.9,-1.4l-1.7,-2.1l1.1,-2.7l0.6,-1.2l0.3,-2.4l1,-1.7l0.2,-1.9l-6.1,0.3l-17.7,0.6zM1134.6,732.6l-2.5,-1l-0.9,-3.2l2.2,-1.8l-1.3,-2.4l-1.3,-1.3l-13.9,4.6l0.5,5.5l-1.1,1.2l-0.2,1.9l-1,1.4l1.3,7l1.8,2l2,-0.1l1,2.7l1.8,1.1l1.8,-0.8l2.7,-1.2l2.1,2l1.5,1.7l2.3,-2.2l2.1,-0.9l2.5,1.4l1,-1.2l0.7,-2.6l0.6,-2.5l-4.3,-0.3l-1.2,-1.3l0.3,-1.8l1.2,-3.5l-2.7,-0.7l-0.1,-0.6l1,-1zM757.5,759.6l-2.1,-0.5l-1.3,1.9l-1.1,5.8l-0.4,2.3l-1.6,0.6l-0.6,2.4l2.3,1.4l-0.6,2.4l-1.9,2.3l1.8,1.7l2.1,0.3l3,-1.5l1,0.6l1,3.4l0.6,3.1l1.5,0.8l2.4,-0.8l2.9,-1.7l1.8,0.4l1.5,2.5l1.1,-0.8l1.4,-1l0.1,-1.4l2.3,-1.8l-0.4,-1.6l0.1,-2l1.1,-2.6l1,-0.6l3,0.3l1.6,-1.3l1,-2.8l0.7,-5.2l-1.8,-0.7l-1.8,0.2l-1.4,-1.5l-1.9,-1.8l-2.3,-0.4l-1.2,-0.1l-1.6,-1.5l-1.9,-1.2l-2.5,-0.4l-2.4,0.4l-1.7,-0.6l-2.2,0.1z"/>
<path fill="#cef4f4" d="M1102.9,676.5l-1,1.7l-0.3,2.4l-0.6,1.2l-1.1,2.7l1.7,2.1l-0.9,1.4l-0.4,2.5l1.8,1l0.3,2.8l-1.9,2.5l-0.7,1.4l4.3,0.8l1.7,2l-4.4,2.8l0.1,2.3l2.5,1.6l1.4,1.3l2.4,0.1l2.3,1.1l1.9,-0.7l0.5,-2l0.9,-2.3l1.4,-1.3l2.1,-0.5l1.1,-1.1l0,-1.7l0.1,-2.8l-2.2,-1.3l0,-2.3l1.9,-3.3l-0.1,-2.1l-1.3,-1.4l-9.1,-13l-4.2,0.2zM742.7,771.1l2.1,-0.1l1.3,2.2l1.9,-0.8l2.4,-0.3l0.6,-2.4l1.6,-0.6l0.4,-2.3l1.1,-5.8l-1.8,2l-2.2,-1.5l-2,-3.5l-2,0.8l-2.9,2.3l-1.9,0.1l-1.2,-0.7l-2.6,-2.2l-1.8,0.1l-1.6,-0.8l-1.4,-1.5l-0.4,1.9l-2.2,0.4l-2.7,-0.7l-0.9,2.2l-1.7,0.5l-2,-1.3l-2.1,0.2l-2,2.5l-1.2,0.2l-2.2,-1.2l-0.9,2.1l-1,1.1l-0.1,2.7l-0.4,1.1l-0.7,2.7l0.7,2.4l2.1,0.2l2.5,0l2.8,-0.2l1.3,1.8l0.4,2.6l2.5,0.3l1.6,0.6l4.6,0l1.8,-0.8l0.2,-2l1.4,-1l2.5,-1.6l1.9,-0.7l1.6,1.2zM734.6,806.2l-1.8,-0.9l-0.3,-3.6l-3.2,1.3l-1.2,-1.7l-2.8,-0.5l1.9,4l-0.7,2.3l-2.1,1.1l-1.8,0.4l-1.5,1.4l2.2,3.3l-0.9,1.7l-2.6,1.7l0.4,2.6l1.2,1.9l0.6,2.3l5.2,6.9l0.3,-0.1l1,-1.2l1.9,-0.9l2.5,-0.1l0.5,-2.8l0.8,-2l2.4,0.7l2.7,0.4l1,-2.5l1.1,-2.1l1.4,-1l-1,-2l-0.1,-1.3l0.1,-1.5l0,-2.2l-1.3,-1.8l-1.1,-0.8l-1.6,-3z"/>
<path fill="#d2f7f7" d="M1121.3,685.7l-3.5,4.1l0,1.1l-1.9,3.3l0,2.3l2.2,1.3l-0.1,2.8l0,1.7l17.4,-1.6l1.5,-1.2l0.3,-2.4l-0.2,-2.6l-1.3,-2l-0.8,-2l1,-13.2l-0.1,-1.6l-0.3,-2.4l-28.2,1.1l9.1,13l1.2,2.6zM1218.2,735.9l-0.9,-2.7l-2.8,-0.3l-2.1,1.4l-1.6,-1.4l-1.5,-1.2l1.5,2.5l-2,1.9l-2.6,0.4l-1.9,1.2l-1.2,0.9l-0.6,2.2l0.2,2.4l-1.8,2.2l-1.5,0l-2.1,-1.3l-2,1.2l-1.9,3.1l0.9,0.1l1.7,3l1,3.4l3.9,0l4.7,-0.9l2.7,-2.3l2.8,-0.5l2.9,-5.1l2.7,-5.5l1.9,-3.9z"/>
<path fill="#d5f9f9" d="M1155.5,683l-0.9,-2.4l-1,-1.2l-0.9,-1.9l-0.8,-2.6l-1,-2l0,-0.2l-15.4,0.6l0.3,2.4l0.1,1.6l-1,13.2l0.8,2l1.3,2l0.2,2.6l1.8,-1.3l3.1,0.5l1.7,-1.4l1.7,0.7l2.7,-0.7l1.2,-0.7l1.7,0l1.6,-2.2l2.1,-0.3l0.2,-2.2l-0.3,-1.3l-0.3,-1.6l1.2,-1.8zM1174.6,719.8l1.5,-2.3l2.1,-0.2l2,-0.4l1.2,-1.3l0.3,-1.8l1.4,-1.4l0.7,-2.1l-0.6,-1.6l0.6,-1.7l0,-2.4l-0.6,-1.5l-2.1,-2l-1.3,0.2l-2.1,-1l-2.8,-0.5l-2,0.7l-1.6,0.9l-1.6,2.7l-1.3,1.4l1.5,2.1l-1.8,1.9l0.2,1.9l1,2l1.4,1.4l2.1,2.1l-0.6,1.8l0.5,1.8zM1240.9,677.1l2.2,-0.3l1.6,-0.1l1.1,3l1.9,0.9l2.5,-1.5l2.5,0.3l1.4,-0.6l0.3,-1l1.4,-4.5l1.3,-3.6l2.3,-3.6l0.8,-1.3l-10.2,0.6l-9.1,0.2l-7.2,0.1l1.4,0.8l-0.6,2.8l1.2,1.2l1.3,2.4l0.8,1l1.1,2.3zM1139,749l-1,1.2l0.5,1.7l-0.3,1.5l0.5,2.7l3.3,-0.3l1.3,1.1l1.7,2.6l0.9,1.7l2.5,-0.3l2,1.9l1.5,-2.5l1.4,-2l2.6,1.4l2.2,-0.4l1.5,-1.6l-0.4,-2l-1.4,-1.6l-4.1,-0.1l1.4,-3.6l-4.2,1.5l-0.3,-3.3l-0.3,-2l-3.5,1.5l-0.3,-3.4l-1,1.4l-2.3,-0.7l-2.1,0.4l-1.4,0.6z"/>
<path fill="#d9fcfc" d="M1173.7,674.4l-0.4,-1.8l-0.2,-1.2l-15.6,0.6l0.9,0.4l-7.5,0.3l0,0.2l1,2l0.8,2.6l0.9,1.9l1,1.2l0.9,2.4l0.1,1.8l-1.2,1.8l0.3,1.6l0.3,1.3l-0.2,2.2l0.5,0.3l1.9,0.7l2.2,-1.7l1.9,-0.2l2.5,0l2.2,0.6l1.7,-0.9l1.9,-0.1l1.9,-1.4l1.3,-1.6l0.3,-2.6l-0.8,-1.8l0.3,-2.4l1.7,-1.8l-0.2,-0.5l-0.2,-1.8zM1179.4,733.5l-1.6,0l-0.9,-3.3l-0.8,-1.5l-3.8,0.3l-0.6,-2l-1.5,0.4l-1.8,1.1l-1.8,2.1l-1.7,0.4l-1.8,0.2l-2.9,-1.1l-2.2,3.5l-1.9,-1.4l-0.6,2.2l1.4,2.1l-0.4,2.1l1.5,1.7l1.7,1.7l-0.1,2.1l3.3,1.5l-0.6,1.9l0.7,2.1l-2.5,8.4l0.5,1l1.9,-1.9l3.6,-2.2l3.6,-0.9l2.8,-1.8l4.4,-0.5l3.8,-0.9l0.8,-0.6l-2.2,-4.3l2.2,-11.8zM1145.9,761.2l-0.9,-1.7l-1.7,-2.6l-1.3,-1.1l-3.3,0.3l-0.5,-2.7l-1.9,1.7l-0.4,1.3l-2.8,11.1l-0.9,1.3l-0.3,0.3l0.5,0.6l0,3.4l-0.8,4.2l0.3,3.4l3.4,1.5l3.9,0.9l2.8,-1.9l3.6,-2.7l3.2,-1.6l-1.1,-1l-0.8,-2.3l-1.8,-2l-0.7,-1.5l1.6,-2.6l-1.2,-1.9l0.9,-1.5z"/>
<path fill="#dbfdfd" d="M1173.3,672.6l0.4,1.8l0.2,2.1l0.2,1.8l0.2,0.5l1.5,2.3l0.6,1.2l3.8,-1l1.9,-0.4l1.1,2l1.8,1.5l1.6,0.5l0.2,0.2l1.9,0.8l1.7,1l0.9,1.1l1.9,0.1l2.5,1l2,0.6l2,-1.1l0.6,-0.6l1.5,-2.1l2.3,0.7l1.7,1.6l1.9,0.7l1.9,-0.2l2.2,-0.4l2.1,-0.3l2,-16.3l0.3,-2.2l-2.6,0.2l-18.2,0.9l-18.1,0.6l-4.2,0.2zM1154.7,713.3l-0.9,1.5l-1.4,1.3l-2.3,1.4l-1.2,2.4l3.7,1.7l1.3,0.8l0,3l-1.7,2.2l2.2,0.5l0.3,3l1.4,1.1l1.9,1.4l2.2,-3.5l2.9,1.1l1.8,-0.2l1.7,-0.4l1.8,-2.1l1.8,-1.1l1.5,-0.4l0.9,-6.5l0.1,0l-0.5,-1.8l0.6,-1.8l-2.1,-2.1l-1.4,-1.4l-1,-2l-0.2,-1.9l1.8,-1.9l-1.5,-2.1l-1.5,-0.7l-3.2,0.4l-1.8,1.5l-2.1,-1.2l-0.5,2l-3.1,0l-0.2,2.8l-0.4,1.3z"/>
<path fill="#d6fafa" d="M1179.8,701.3l1.3,-0.2l2.1,2l0.6,1.5l1.3,-0.2l1.5,-0.5l1.7,0.8l2.2,0.7l1.2,-1.1l2.7,-1l1.3,-2.6l0.6,-2.6l3.3,0.7l0.9,-1.4l1,-2.5l-1.7,-2.3l0,-2l-0.1,-2l-2,1.1l-2,-0.6l-2.5,-1l-1.9,-0.1l-0.9,-1.1l-1.7,-1l-1.9,-0.8l-0.2,-0.2l-1.6,-0.5l-1.8,-1.5l-1.1,-2l-1.9,0.4l-3.8,1l-0.6,-1.2l-1.5,-2.3l-1.7,1.8l-0.3,2.4l0.8,1.8l-0.3,2.6l-1.3,1.6l-1.9,1.4l0.6,2.7l-0.3,2.2l3.7,0.5l2.2,0.6l-0.9,3.4l2.8,0.5zM1144.8,713l0.4,-1.7l-1.9,-0.9l-2.4,-0.2l-2.8,-1.3l-0.2,-1.3l-1.4,-1.7l-1.5,1.7l-2.9,1.4l0.3,1.3l-0.9,3.2l-0.9,1.1l-1,2.3l1.5,1.6l-0.5,2.5l0.2,1.9l1.3,1.3l1.3,2.4l-2.2,1.8l0.9,3.2l2.5,1l-0.1,2.1l-1,1l0.1,0.6l2.7,0.7l-1.2,3.5l-0.3,1.8l1.2,1.3l4.3,0.3l-0.6,2.5l1.4,-0.6l2.1,-0.4l2.3,0.7l1,-1.4l0.3,3.4l3.5,-1.5l0.3,2l0.3,3.3l4.2,-1.5l-1.4,3.6l4.1,0.1l1.4,1.6l0.4,2l0.9,0.3l2.5,-8.4l-0.7,-2.1l0.6,-1.9l-3.3,-1.5l0.1,-2.1l-1.7,-1.7l-1.5,-1.7l0.4,-2.1l-1.4,-2.1l0.6,-2.2l-1.4,-1.1l-0.3,-3l-2.2,-0.5l1.7,-2.2l0,-3l-1.3,-0.8l-3.7,-1.7l1.2,-2.4l-0.7,-0.3l-0.6,-1.7l-2.1,-0.7z"/>
<path fill="#d8fbfb" d="M1156.6,693.5l-1.6,3.3l1.5,1.6l3.1,0.2l-0.2,2.3l-0.9,2.8l1.3,1.8l2.1,1.2l1.8,-1.5l3.2,-0.4l1.5,0.7l1.3,-1.4l1.6,-2.7l1.6,-0.9l2,-0.7l0.9,-3.4l-2.2,-0.6l-3.7,-0.5l0.3,-2.2l-0.6,-2.7l-1.9,0.1l-1.7,0.9l-2.2,-0.6l-2.5,0l-1.9,0.2l-2.2,1.7l-1.9,-0.7zM1234.7,685.1l-0.6,-2.1l2,-1.1l-0.1,-1.8l2.8,-2l0.1,-1.9l-1.1,-2.3l-0.8,-1l-1.3,-2.4l-1.2,-1.2l0.6,-2.8l-1.4,-0.8l-1.9,0l-10.2,0.3l-1,3.2l-4.4,0.3l-0.3,2.2l-2,16.3l0.1,2.2l2.7,0l2.3,1l1.3,1.3l0.3,1.6l1.9,0.8l1.5,-1.5l1.9,0.1l1.7,-1.9l2.3,-0.2l0.7,-1.7l0,-3.3l2.5,-0.6z"/>
<path fill="#d4f8f8" d="M1159.3,707.5l0.5,-2l-1.3,-1.8l0.9,-2.8l0.2,-2.3l-3.1,-0.2l-1.5,-1.6l1.6,-3.3l-1.3,-1.5l-0.5,-0.3l-2.1,0.3l-1.6,2.2l-1.7,0l-1.2,0.7l-2.7,0.7l-1.7,-0.7l-1.7,1.4l-3.1,-0.5l-1.8,1.3l-0.3,2.4l-1.5,1.2l1.1,5.2l1.4,1.7l0.2,1.3l2.8,1.3l2.4,0.2l1.9,0.9l-0.4,1.7l1.9,1.8l2.1,0.7l0.6,1.7l0.7,0.3l2.3,-1.4l1.4,-1.3l0.9,-1.5l0.9,-1.7l0.4,-1.3l0.2,-2.8z"/>
<path fill="#dcfefe" d="M1219,691.2l-2.3,-1l-2.7,0l-0.1,-2.2l-2.1,0.3l-2.2,0.4l-1.9,0.2l-1.9,-0.7l-1.7,-1.6l-2.3,-0.7l-1.5,2.1l-0.6,0.6l0.1,2l0,2l1.7,2.3l-1,2.5l-0.9,1.4l-3.3,-0.7l-0.6,2.6l-1.3,2.6l-2.7,1l-1.2,1.1l-2.2,-0.7l-1.7,-0.8l-1.5,0.5l-1.3,0.2l0,2.4l-0.6,1.7l0.6,1.6l-0.7,2.1l-1.4,1.4l-0.3,1.8l-1.2,1.3l-2,0.4l-2.1,0.2l-1.5,2.3l-1.9,0.7l-0.1,0l-0.9,6.5l0.6,2l3.8,-0.3l0.8,1.5l0.9,3.3l1.6,0l2.5,0.6l2.2,0.5l1.5,-1.7l0.5,-2.3l2.1,-1.9l1.4,-0.8l1.7,-1.2l-0.6,-3.6l2.7,-0.6l8.5,-2.6l0.1,-0.6l-1,-3l1.7,-0.6l3.9,-0.7l0.6,-1.1l1.2,-1.7l0.9,-1.1l1.2,-2l1.5,-0.4l2.5,-1.3l1.8,-0.2l1.1,-2.3l0.3,-2.4l2.2,-1l0.9,-2.1l0,-1.4l1.1,-1.7l0.6,-1.4l-1.9,-0.8l-0.3,-1.6zM1160.5,758l-0.9,-0.3l-1.5,1.6l-2.2,0.4l-2.6,-1.4l-1.4,2l-1.5,2.5l-2,-1.9l-2.5,0.3l-0.2,2.9l-0.9,1.5l1.2,1.9l-1.6,2.6l0.7,1.5l1.8,2l0.8,2.3l1.1,1l0.5,-0.3l3.6,-3.6l1,-0.5l2.8,-6.4l2.7,-5.4l1.6,-1.7z"/>
<path fill="#d1f6f6" d="M1252.7,679.4l-2.5,-0.3l-2.5,1.5l-1.9,-0.9l-1.1,-3l-1.6,0.1l-2.2,0.3l-2,-0.9l-0.1,1.9l-2.8,2l0.1,1.8l-2,1.1l0.6,2.1l-1.6,0.7l-2.5,0.6l0,3.3l-0.7,1.7l-2.3,0.2l-1.7,1.9l-1.9,-0.1l-1.5,1.5l-0.6,1.4l-1.1,1.7l0,1.4l-0.9,2.1l-2.2,1l-0.3,2.4l-1.1,2.3l-1.8,0.2l-2.5,1.3l-1.5,0.4l-1.2,2l-0.9,1.1l-1.2,1.7l-0.6,1.1l-3.9,0.7l-1.7,0.6l1,3l-0.1,0.6l1.4,0.8l-0.1,3.6l0.3,1.4l2.3,0.4l1.5,1.9l0.5,2.2l1.5,1.5l1.5,1.2l1.6,1.4l2.1,-1.4l2.8,0.3l0.9,2.7l0.4,0.8l0.8,-1.5l3.6,-7.3l3.6,-7.7l3.6,-2.2l2.3,-2.7l3.1,-2.3l3.6,-1.8l2.6,-0.8l0.6,0.3l0.9,-1.1l-0.4,-3.1l0.4,-3.1l4.7,1.4l1.2,-1.2l1.3,-0.9l-0.2,-0.5l0,-2.5l1.3,-1.9l-0.1,-0.4l0.4,-0.1l0.3,-0.4l0.4,-3.6l2.3,-3.7l-0.9,-4.7l-0.9,-3.5l1,-2.6z"/>
<path fill="#d3f8f8" d="M1249.2,703.6l-1.2,1.2l-4.7,-1.4l-0.4,3.1l0.4,3.1l-0.9,1.1l2.9,1.5l3.8,0.4l2.7,-0.4l2.9,0.8l-1.7,-3.6l-1.8,-3.6l-0.7,-3.1z"/>
<path fill="#cbf2f2" d="M1122.4,760.3l2.1,-1.5l1.8,-0.5l2.4,0.3l1.5,-0.8l2.6,0.5l0.3,-2.7l2.8,0.8l0.4,-1.3l1.9,-1.7l0.3,-1.5l-0.5,-1.7l-2.5,-1.4l-2.1,0.9l-2.3,2.2l-1.5,-1.7l-2.1,-2l-2.7,1.2l-1.8,0.8l-1,1.9l1,2.4l0.7,1.5l-0.8,1.9l-1.1,2zM805,823l-0.8,-1.9l-0.3,-1.3l-1.7,-1.6l-1.6,-0.4l-1.1,1.5l-2,1.3l-1.5,0.7l-0.5,1.7l-1.4,1.7l-2.3,0l0.2,3.4l-0.3,1.8l-2,0.9l0.1,0.7l0.3,2.2l-1.4,1.2l-2,1.4l-0.7,1.4l0.5,2.7l-0.5,1.4l0.2,2.4l2.1,1l1.7,0.3l1.3,2.1l0,1.5l1.4,2.1l1.2,1.2l2.3,-1.4l2.4,1l1.7,1.1l2.1,-0.1l2.5,-0.7l1.8,0.5l1.3,-0.4l2,-0.1l2,-0.7l2.2,0.8l1.7,0l1.7,2.1l2.2,-0.5l1.5,-2.1l2.3,-0.5l2,1l3.3,-8.1l1.3,-1.9l1.9,-0.8l1.7,-3.7l0.2,-2.1l0.9,-2.4l-0.4,-2.5l-3.9,-1.5l0.7,-1.5l1.5,-2.5l-1.9,-2.1l-1.6,2.9l-1.2,1.5l-2.1,-0.6l-3.8,-3l-1.1,0.1l-0.7,4.9l-1.7,1.9l-3.1,-2.1l-1.4,0.7l-0.9,-1.3l-1.8,-0.3l-0.9,-1.3l-1,-1.8l-2.1,-1.5z"/>
</g>
</svg>
<div class="legend">
<div class="lt">Monthly Rate</div>
<ul>
<li style="top:45px"><i style="background:#cef4f4"></i><span style="top:-2px">$280</span></li>
<li style="top:81px"><i style="background:#bde7ea"></i><span style="top:-2px">$300</span></li>
<li style="top:119px"><i style="background:#aadbdf"></i><span style="top:-3px">$320</span></li>
<li style="top:155px"><i style="background:#9bcfd5"></i><span style="top:-2px">$340</span></li>
<li style="top:191px"><i style="background:#8ac1cc"></i><span style="top:-2px">$360</span></li>
<li style="top:229px"><i style="background:#78b3c0"></i><span style="top:-4px">$380</span></li>
<li style="top:265px"><i style="background:#66a6b5"></i><span style="top:-2px">$400</span></li>
</ul>
</div>
<div class="footer">Map: AutoInsurance.org<span class="dot">•</span>Source: Quadrant</div>
<div class="rule" style="top:1450px"></div>
</body>
</html>
